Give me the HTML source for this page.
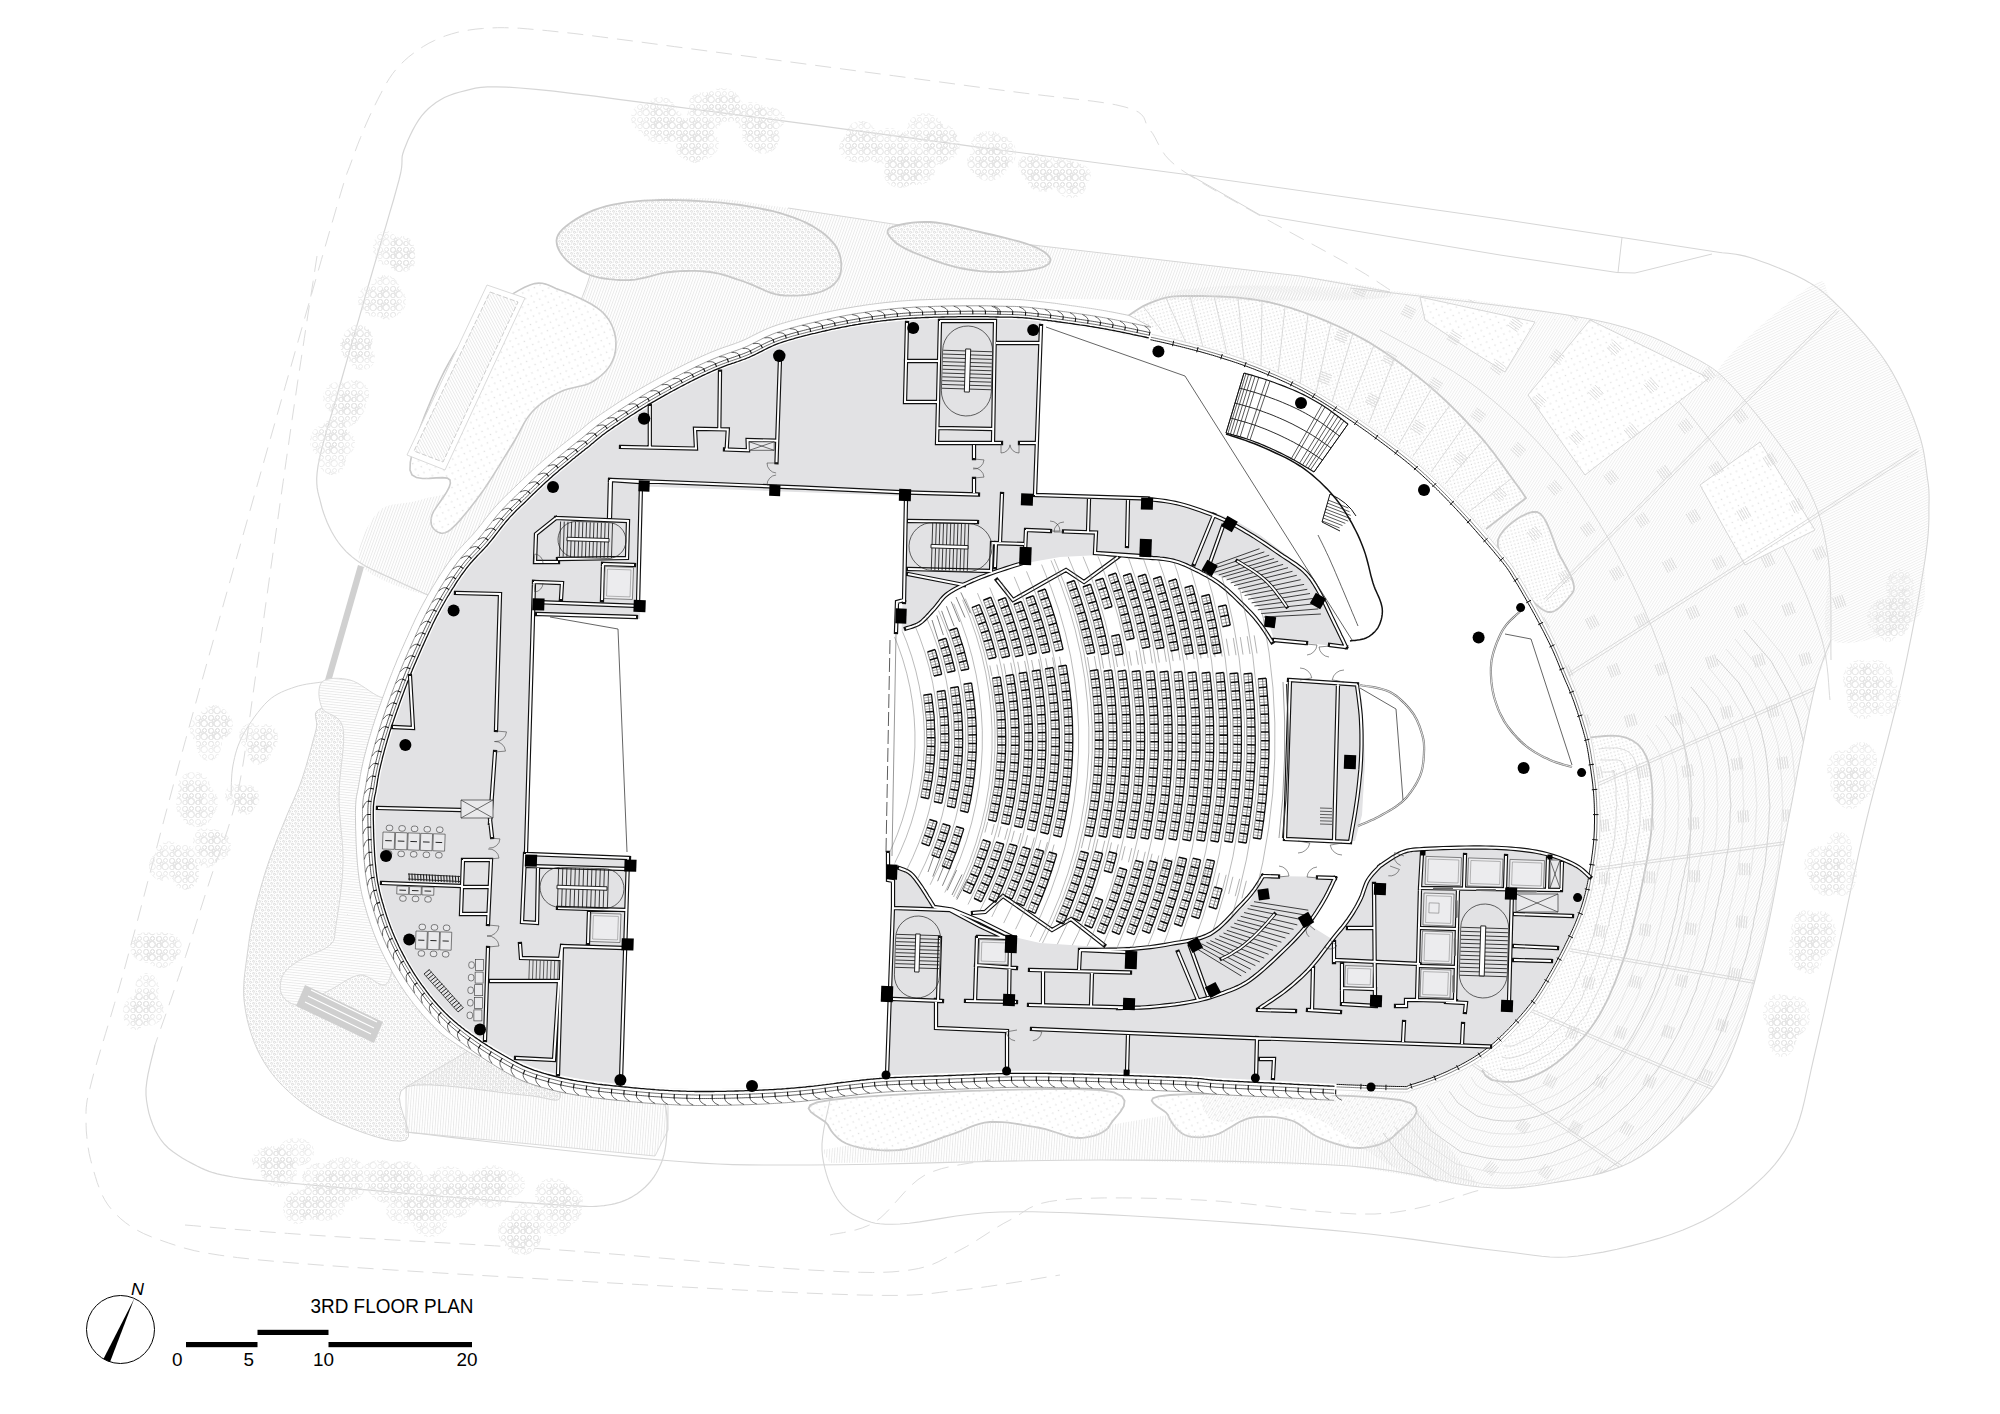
<!DOCTYPE html>
<html><head><meta charset="utf-8"><title>3RD FLOOR PLAN</title>
<style>html,body{margin:0;padding:0;background:#fff}svg{display:block}text{font-family:"Liberation Sans",sans-serif}</style>
</head><body>
<svg width="2000" height="1414" viewBox="0 0 2000 1414">
<rect width="2000" height="1414" fill="#fff"/>
<g id="context"><defs>
<pattern id="hV" width="2.6" height="2.6" patternUnits="userSpaceOnUse" patternTransform="rotate(4)"><path d="M0.5,0V2.6" stroke="#dadada" stroke-width="0.55"/></pattern>
<pattern id="hH" width="2.6" height="2.6" patternUnits="userSpaceOnUse" patternTransform="rotate(6)"><path d="M0,0.5H2.6" stroke="#dadada" stroke-width="0.55"/></pattern>
<pattern id="hD" width="2.6" height="2.6" patternUnits="userSpaceOnUse" patternTransform="rotate(-28)"><path d="M0.5,0V2.6" stroke="#dadada" stroke-width="0.55"/></pattern>
<pattern id="hD2" width="2.6" height="2.6" patternUnits="userSpaceOnUse" patternTransform="rotate(20)"><path d="M0.5,0V2.6" stroke="#dadada" stroke-width="0.55"/></pattern>
<pattern id="hE" width="2.4" height="2.4" patternUnits="userSpaceOnUse" patternTransform="rotate(-58)"><path d="M0,0.5H2.4" stroke="#e0e0e0" stroke-width="0.5"/></pattern>
<pattern id="hE2" width="2.4" height="2.4" patternUnits="userSpaceOnUse" patternTransform="rotate(-25)"><path d="M0,0.5H2.4" stroke="#e0e0e0" stroke-width="0.5"/></pattern>
<pattern id="hE3" width="2.4" height="2.4" patternUnits="userSpaceOnUse" patternTransform="rotate(-80)"><path d="M0,0.5H2.4" stroke="#e0e0e0" stroke-width="0.5"/></pattern>
<pattern id="stip" width="6" height="6" patternUnits="userSpaceOnUse"><path d="M0.6,1.3a0.9,0.9 0 1 0 1.8,0a0.9,0.9 0 1 0 -1.8,0M3.6,4.3a1,1 0 1 0 2,0a1,1 0 1 0 -2,0M3.7,0.9l1.3,0.9M0.6,4.6l1.5,-1M2.6,2.7l0.9,0.5" fill="none" stroke="#c9c9c9" stroke-width="0.6"/></pattern>
<pattern id="bub" width="13" height="13" patternUnits="userSpaceOnUse"><path d="M0.5,3a2.6,2.6 0 1 0 5.2,0a2.6,2.6 0 1 0 -5.2,0M6,8.5a3.2,3.2 0 1 0 6.4,0a3.2,3.2 0 1 0 -6.4,0M7.5,2.5a2,2 0 1 0 4,0a2,2 0 1 0 -4,0M0.8,9.5a2.2,2.2 0 1 0 4.4,0a2.2,2.2 0 1 0 -4.4,0M4,5.5a1.6,1.6 0 1 0 3.2,0a1.6,1.6 0 1 0 -3.2,0" fill="none" stroke="#e5e5e5" stroke-width="0.7"/></pattern>
<pattern id="dots" width="9" height="9" patternUnits="userSpaceOnUse" patternTransform="rotate(20)"><circle cx="2" cy="2" r="0.8" fill="#dedede"/><circle cx="6.5" cy="6.5" r="0.8" fill="#dedede"/></pattern>
<pattern id="dots2" width="5" height="5" patternUnits="userSpaceOnUse" patternTransform="rotate(30)"><circle cx="1.5" cy="1.5" r="0.7" fill="#d6d6d6"/><circle cx="4" cy="4" r="0.7" fill="#d6d6d6"/></pattern>
</defs>
<path d="M1390.0,290.0L1387.3,288.3L1384.2,286.2L1380.6,283.8L1376.2,280.9L1371.2,277.7L1365.2,273.9L1358.1,269.7L1350.0,265.0L1340.2,259.5L1328.6,253.1L1315.8,246.1L1302.2,238.8L1288.3,231.2L1274.6,223.8L1261.7,216.6L1250.0,210.0L1239.1,203.8L1228.3,197.8L1217.8,192.0L1207.8,186.2L1198.4,180.7L1189.6,175.3L1181.8,170.1L1175.0,165.0L1169.5,160.1L1165.2,155.3L1162.0,150.6L1159.4,146.1L1157.2,141.8L1155.1,137.7L1152.8,133.7L1150.0,130.0L1147.6,126.5L1146.1,123.3L1145.0,120.2L1143.8,117.4L1141.7,114.7L1138.3,112.0L1132.9,109.5L1125.0,107.0L1115.4,104.7L1104.9,102.9L1093.1,101.2L1079.7,99.6L1064.1,97.8L1045.9,95.7L1024.7,93.2L1000.0,90.0L969.8,86.0L933.6,81.1L893.3,75.7L850.9,70.1L808.5,64.4L767.9,59.0L731.0,54.1L700.0,50.0L674.4,46.6L652.1,43.6L632.7,41.0L615.6,38.8L600.3,36.8L586.3,35.0L573.1,33.4L560.0,32.0L547.8,30.7L537.1,29.7L527.7,28.9L519.4,28.2L511.7,27.9L504.5,27.7L497.3,27.7L490.0,28.0L482.7,28.5L475.9,29.1L469.3,30.0L463.1,31.1L457.1,32.4L451.3,34.0L445.6,35.8L440.0,38.0L434.4,40.5L428.9,43.2L423.6,46.3L418.4,49.6L413.5,53.2L408.7,56.9L404.2,60.9L400.0,65.0L396.1,69.3L392.6,73.7L389.4,78.4L386.4,83.2L383.6,88.3L380.8,93.6L377.9,99.2L375.0,105.0L372.0,111.1L369.1,117.3L366.2,123.9L363.3,130.6L360.5,137.6L357.6,144.8L354.8,152.3L352.0,160.0L349.7,166.3L348.1,170.4L346.8,173.7L345.4,177.8L343.5,184.0L340.5,193.9L336.2,208.7L330.0,230.0L321.4,259.7L310.7,297.2L298.4,340.2L285.2,386.6L271.7,434.1L258.6,480.3L246.5,523.0L236.0,560.0L227.1,591.5L219.1,619.9L211.8,645.8L205.0,669.9L198.5,693.1L192.2,716.0L185.7,739.4L179.0,764.0L172.0,790.0L164.8,816.9L157.6,844.2L150.5,871.2L143.6,897.5L137.0,922.6L130.7,945.9L125.0,967.0L119.7,985.9L114.6,1003.3L109.9,1019.2L105.5,1033.7L101.5,1046.9L97.9,1059.0L94.7,1070.0L92.0,1080.0L89.9,1088.5L88.3,1095.0L87.2,1100.1L86.6,1104.2L86.2,1107.8L86.0,1111.4L86.0,1115.3L86.0,1120.0L86.1,1125.4L86.3,1130.9L86.8,1136.5L87.4,1142.2L88.2,1147.9L89.2,1153.6L90.5,1159.3L92.0,1165.0L93.6,1170.7L95.4,1176.6L97.2,1182.5L99.4,1188.4L101.8,1194.2L104.7,1199.8L108.1,1205.1L112.0,1210.0L116.3,1214.5L120.8,1218.8L125.7,1222.8L131.0,1226.6L137.0,1230.1L143.7,1233.6L151.3,1236.8L160.0,1240.0L168.6,1243.0L176.7,1245.7L184.9,1248.2L194.2,1250.6L205.6,1252.9L219.7,1255.2L237.6,1257.6L260.0,1260.0L287.9,1262.5L320.9,1265.1L357.9,1267.7L397.5,1270.3L438.7,1272.9L480.3,1275.4L521.1,1277.7L560.0,1280.0L598.9,1282.3L639.7,1284.6L681.3,1286.9L722.5,1289.1L762.1,1291.1L799.1,1292.8L832.1,1294.1L860.0,1295.0L882.1,1295.4L899.1,1295.4L912.1,1295.0L922.5,1294.4L931.3,1293.5L939.7,1292.4L948.9,1291.2L960.0,1290.0L973.2,1288.5L987.3,1286.6L1001.9,1284.4L1016.2,1282.2L1029.8,1280.0L1042.0,1277.9L1052.3,1276.2L1060.0,1275.0" fill="none" stroke="#dcdcdc" stroke-width="1" stroke-dasharray="16 9"/>
<path d="M185.0,1225.0L193.8,1225.7L204.5,1226.7L217.2,1227.8L231.9,1229.1L248.5,1230.4L267.0,1231.9L287.5,1233.4L310.0,1235.0L335.3,1236.6L363.7,1238.3L394.6,1240.0L427.2,1241.9L460.8,1243.8L494.6,1245.8L527.9,1247.9L560.0,1250.0L592.3,1252.4L626.0,1255.1L660.3,1258.0L694.4,1260.9L727.2,1263.7L758.0,1266.3L785.9,1268.4L810.0,1270.0L830.0,1271.1L846.7,1271.9L860.7,1272.3L872.5,1272.5L882.8,1272.3L892.0,1271.9L900.9,1271.1L910.0,1270.0L918.6,1268.5L926.0,1266.6L932.4,1264.4L938.1,1261.9L943.4,1259.1L948.7,1256.2L954.1,1253.1L960.0,1250.0L966.2,1246.7L972.5,1243.0L978.8,1239.0L985.0,1235.0L991.2,1231.0L997.5,1227.0L1003.8,1223.3L1010.0,1220.0L1015.6,1216.9L1020.4,1213.8L1024.8,1210.9L1029.4,1208.1L1034.7,1205.6L1041.2,1203.4L1049.4,1201.5L1060.0,1200.0L1073.0,1198.9L1087.9,1198.3L1104.4,1197.9L1122.2,1197.9L1141.0,1198.1L1160.4,1198.5L1180.2,1199.2L1200.0,1200.0L1220.7,1201.3L1242.9,1203.4L1266.1,1205.9L1289.7,1208.5L1313.0,1210.9L1335.4,1212.8L1356.2,1214.0L1375.0,1214.0L1392.2,1212.7L1408.6,1210.1L1424.1,1206.7L1438.4,1202.9L1451.4,1198.9L1462.8,1195.2L1472.4,1192.1L1480.0,1190.0" fill="none" stroke="#dcdcdc" stroke-width="1" stroke-dasharray="16 9"/>
<path d="M830.0,1235.0L833.4,1234.2L838.0,1233.5L843.4,1232.6L849.4,1231.4L855.8,1229.9L862.3,1227.9L868.8,1225.3L875.0,1222.0L880.9,1217.5L886.8,1211.9L892.7,1205.5L898.8,1198.6L904.9,1191.8L911.3,1185.3L918.0,1179.6L925.0,1175.0L932.9,1171.5L941.7,1168.6L951.1,1166.4L960.6,1164.6L969.7,1163.1L978.0,1161.9L984.9,1160.9L990.0,1160.0" fill="none" stroke="#dcdcdc" stroke-width="1" stroke-dasharray="16 9"/>
<path d="M1000.0,150.0L976.0,146.8L943.3,142.4L904.2,137.1L861.2,131.4L816.9,125.4L773.6,119.7L733.8,114.4L700.0,110.0L670.9,106.2L643.8,102.6L618.4,99.3L595.0,96.2L573.4,93.6L553.8,91.2L535.9,89.4L520.0,88.0L506.6,87.1L496.0,86.8L487.6,86.9L480.9,87.4L475.4,88.2L470.4,89.3L465.5,90.6L460.0,92.0L454.3,93.6L449.2,95.5L444.4,97.5L440.1,99.9L436.0,102.5L432.2,105.4L428.5,108.5L425.0,112.0L421.6,115.9L418.4,120.4L415.4,125.3L412.6,130.4L410.1,135.5L407.8,140.6L405.8,145.5L404.0,150.0L402.8,153.7L402.2,156.4L402.0,158.8L402.0,161.1L401.9,164.0L401.6,167.8L400.7,173.0L399.0,180.0L396.5,189.1L393.5,200.0L389.9,212.2L386.1,225.3L382.0,239.1L377.9,253.0L373.8,266.8L370.0,280.0L366.2,293.0L362.4,306.5L358.5,320.1L354.6,333.7L350.7,347.2L347.0,360.3L343.4,373.0L340.0,385.0L336.7,396.6L333.4,407.9L330.1,419.0L326.9,429.7L324.1,439.8L321.6,449.3L319.5,458.1L318.0,466.0L317.1,472.8L316.7,478.6L316.8,483.5L317.2,487.9L317.9,491.9L318.8,495.7L319.9,499.7L321.0,504.0L322.2,508.6L323.7,513.2L325.4,517.9L327.2,522.4L329.3,526.9L331.4,531.2L333.7,535.2L336.0,539.0L338.4,542.5L340.9,545.7L343.5,548.7L346.2,551.6L349.1,554.3L352.1,556.9L355.4,559.4L359.0,562.0L362.9,564.5L367.1,566.9L371.6,569.2L376.2,571.4L381.0,573.6L385.8,575.8L390.5,577.9L395.0,580.0L399.7,582.2L404.6,584.5L409.7,586.8L414.8,589.1L419.5,591.3L423.7,593.2L427.3,594.8L430.0,596.0" fill="none" stroke="#d6d6d6" stroke-width="1.2"/>
<path d="M317.0,256.0L315.3,267.0L313.1,281.5L310.4,298.8L307.4,318.0L304.3,338.5L301.1,359.5L297.9,380.2L295.0,400.0L292.1,419.5L289.2,439.8L286.2,460.6L283.2,481.5L280.2,502.2L277.4,522.4L274.6,541.8L272.0,560.0L269.6,576.9L267.4,592.9L265.2,608.1L263.2,622.8L261.2,637.1L259.2,651.2L257.1,665.5L255.0,680.0L252.9,694.9L250.8,710.0L248.7,725.2L246.6,740.2L244.5,755.0L242.2,769.3L239.7,783.1L237.0,796.0L234.1,808.0L230.9,819.2L227.6,829.7L224.1,839.8L220.6,849.7L217.0,859.5L213.5,869.6L210.0,880.0L206.5,890.8L203.0,901.8L199.5,912.8L196.0,923.9L192.5,934.9L189.0,945.8L185.5,956.5L182.0,967.0L178.4,977.7L174.5,989.0L170.6,1000.3L166.8,1011.4L163.1,1021.9L159.8,1031.2L157.1,1039.0L155.0,1045.0" fill="none" stroke="#dcdcdc" stroke-width="1" stroke-dasharray="16 9"/>
<path d="M155.0,1045.0L154.1,1048.9L152.8,1054.1L151.2,1060.3L149.6,1067.2L148.0,1074.4L146.8,1081.7L146.0,1088.6L146.0,1095.0L146.6,1101.0L147.6,1107.0L148.9,1113.1L150.7,1119.0L152.8,1124.7L155.2,1130.2L158.0,1135.3L161.0,1140.0L164.5,1144.3L168.5,1148.2L173.0,1151.8L177.7,1155.1L182.6,1158.2L187.5,1161.0L192.4,1163.6L197.0,1166.0L201.3,1168.1L205.3,1169.9L209.1,1171.4L213.1,1172.7L217.2,1173.8L221.8,1174.9L227.0,1175.9L233.0,1177.0L239.3,1178.0L245.6,1178.9L252.2,1179.7L259.4,1180.4L267.4,1181.1L276.7,1181.9L287.4,1182.9L300.0,1184.0L315.1,1185.4L332.6,1186.9L351.9,1188.7L372.3,1190.4L393.0,1192.2L413.4,1194.0L432.6,1195.6L450.0,1197.0L466.1,1198.3L482.0,1199.5L497.3,1200.7L511.9,1201.8L525.6,1202.7L538.4,1203.6L549.9,1204.4L560.0,1205.0L568.4,1205.5L575.2,1205.9L580.7,1206.2L585.1,1206.4L589.0,1206.5L592.5,1206.5L596.1,1206.3L600.0,1206.0L604.1,1205.6L608.0,1205.0L611.6,1204.4L615.1,1203.6L618.5,1202.7L621.7,1201.6L624.9,1200.4L628.0,1199.0L631.1,1197.4L634.1,1195.6L637.1,1193.7L639.9,1191.6L642.7,1189.3L645.3,1187.0L647.7,1184.5L650.0,1182.0L652.1,1179.4L654.1,1176.6L655.9,1173.7L657.6,1170.7L659.2,1167.6L660.6,1164.4L661.9,1161.2L663.0,1158.0L664.0,1154.7L664.8,1151.2L665.4,1147.7L665.9,1144.1L666.3,1140.5L666.6,1136.9L666.8,1133.4L667.0,1130.0L667.1,1126.7L667.1,1123.4L667.0,1120.1L666.9,1116.8L666.6,1113.7L666.2,1110.6L665.7,1107.7L665.0,1105.0L664.1,1102.4L662.8,1099.8L661.4,1097.3L659.9,1094.9L658.4,1092.8L657.0,1090.9L655.8,1089.3L655.0,1088.0" fill="none" stroke="#d6d6d6" stroke-width="1.2"/>
<path d="M1000,150L1190,175L1500,219L1622,237.5L1720,252.5M1190,175L1260,215L1500,255L1617,272.5L1635,273L1712,254M1622,237.5L1618,272.5" fill="none" stroke="#d6d6d6" stroke-width="1"/>
<path d="M1720.0,252.5L1722.2,252.8L1724.9,253.0L1728.2,253.3L1731.9,253.8L1736.0,254.3L1740.4,255.1L1745.1,256.1L1750.0,257.5L1755.4,259.3L1761.5,261.4L1768.1,263.8L1774.9,266.4L1781.7,269.2L1788.3,272.0L1794.5,274.8L1800.0,277.5L1804.8,280.0L1809.0,282.4L1812.8,284.7L1816.4,287.1L1820.0,289.7L1823.6,292.6L1827.6,296.0L1832.0,300.0L1837.0,304.8L1842.4,310.2L1848.1,316.1L1853.9,322.4L1859.7,328.8L1865.3,335.2L1870.4,341.3L1875.0,347.0L1879.0,352.3L1882.6,357.3L1885.9,362.1L1888.9,366.8L1891.8,371.6L1894.5,376.5L1897.2,381.6L1900.0,387.0L1902.8,392.9L1905.7,399.1L1908.4,405.5L1911.1,412.1L1913.7,418.7L1916.0,425.1L1918.2,431.3L1920.0,437.0L1921.5,442.4L1922.8,447.6L1923.8,452.6L1924.6,457.4L1925.3,462.0L1925.9,466.5L1926.5,470.8L1927.0,475.0L1927.5,478.8L1928.0,482.0L1928.4,485.0L1928.7,487.8L1928.9,490.8L1929.0,494.2L1929.1,498.2L1929.0,503.0L1928.9,508.2L1928.9,513.5L1928.9,519.0L1928.7,525.1L1928.3,532.0L1927.6,539.9L1926.5,549.2L1925.0,560.0L1922.9,572.7L1920.4,587.3L1917.6,603.3L1914.4,620.3L1911.0,637.9L1907.4,655.6L1903.7,673.2L1900.0,690.0L1896.1,706.5L1891.9,723.2L1887.6,740.0L1883.1,756.8L1878.6,773.4L1874.1,789.9L1869.9,806.2L1866.0,822.0L1862.4,837.4L1858.9,852.5L1855.7,867.3L1852.5,881.9L1849.4,896.4L1846.3,910.9L1843.2,925.4L1840.0,940.0L1836.7,954.9L1833.4,970.2L1830.0,985.6L1826.7,1000.9L1823.4,1016.0L1820.1,1030.4L1817.0,1044.2L1814.0,1057.0L1811.3,1068.9L1808.9,1080.1L1806.7,1090.6L1804.5,1100.6L1802.2,1110.0L1799.6,1119.0L1796.6,1127.7L1793.0,1136.0L1788.9,1143.9L1784.6,1151.1L1779.9,1157.9L1774.9,1164.3L1769.6,1170.4L1763.8,1176.3L1757.6,1182.2L1751.0,1188.0L1744.0,1193.8L1736.7,1199.6L1729.0,1205.2L1720.9,1210.6L1712.4,1215.9L1703.2,1220.9L1693.4,1225.6L1683.0,1230.0L1671.5,1234.2L1658.7,1238.4L1645.1,1242.3L1631.1,1245.9L1617.0,1249.2L1603.2,1252.1L1590.1,1254.3L1578.0,1256.0L1567.5,1257.0L1558.3,1257.3L1549.9,1257.0L1541.8,1256.3L1533.3,1255.3L1523.9,1254.0L1513.0,1252.5L1500.0,1251.0L1485.0,1249.3L1468.7,1247.1L1451.2,1244.7L1432.6,1242.1L1413.1,1239.4L1392.7,1236.8L1371.6,1234.3L1350.0,1232.0L1327.1,1229.9L1302.3,1227.7L1276.5,1225.6L1250.0,1223.6L1223.5,1221.7L1197.7,1220.0L1172.9,1218.4L1150.0,1217.0L1128.5,1215.8L1107.8,1214.6L1087.9,1213.6L1068.8,1212.8L1050.4,1212.2L1032.8,1211.8L1016.0,1211.7L1000.0,1212.0L984.7,1212.8L970.1,1214.2L956.2,1216.0L943.1,1218.1L930.9,1220.1L919.6,1221.9L909.3,1223.2L900.0,1224.0L892.0,1224.2L885.4,1224.2L879.9,1223.8L875.3,1223.2L871.3,1222.3L867.5,1221.1L863.9,1219.7L860.0,1218.0L856.1,1216.1L852.4,1214.0L849.0,1211.6L845.8,1208.9L842.8,1206.0L840.1,1202.7L837.4,1199.0L835.0,1195.0L832.7,1190.5L830.4,1185.4L828.3,1180.0L826.4,1174.2L824.8,1168.2L823.5,1162.1L822.5,1156.0L822.0,1150.0L822.0,1143.6L822.7,1136.7L823.8,1129.4L825.2,1122.2L826.7,1115.3L828.1,1109.1L829.2,1103.9L830.0,1100.0" fill="none" stroke="#d6d6d6" stroke-width="1.1"/>
<path d="M1831.0,640.0L1829.8,643.4L1828.2,647.3L1826.3,651.9L1824.1,657.3L1821.8,663.8L1819.3,671.4L1816.7,680.4L1814.0,691.0L1811.2,703.5L1808.1,718.1L1804.9,734.3L1801.6,751.5L1798.1,769.4L1794.7,787.4L1791.3,805.1L1788.0,822.0L1784.8,838.6L1781.6,855.4L1778.5,872.3L1775.4,889.2L1772.2,905.9L1768.9,922.1L1765.5,937.9L1762.0,953.0L1758.3,967.6L1754.5,982.1L1750.6,996.2L1746.6,1009.9L1742.6,1022.9L1738.4,1035.2L1734.2,1046.6L1730.0,1057.0L1725.9,1066.1L1721.9,1073.9L1718.0,1080.7L1713.9,1086.8L1709.7,1092.4L1705.0,1098.0L1699.8,1103.8L1694.0,1110.0L1687.5,1116.8L1680.5,1123.8L1673.1,1130.9L1665.2,1138.0L1657.0,1144.8L1648.5,1151.2L1639.8,1157.0L1631.0,1162.0L1621.8,1166.2L1612.2,1169.8L1602.2,1172.9L1592.1,1175.5L1581.8,1177.7L1571.6,1179.7L1561.6,1181.4L1552.0,1183.0L1543.1,1184.5L1534.9,1185.8L1527.0,1186.8L1519.2,1187.6L1510.9,1188.1L1501.9,1188.2L1491.7,1187.8L1480.0,1187.0L1467.3,1185.5L1454.4,1183.2L1440.8,1180.3L1426.1,1177.1L1410.1,1173.9L1392.3,1170.8L1372.4,1168.1L1350.0,1166.0L1324.8,1164.5L1296.9,1163.2L1266.8,1162.2L1235.0,1161.4L1202.0,1160.8L1168.1,1160.4L1134.0,1160.1L1100.0,1160.0L1064.7,1160.2L1027.0,1160.7L988.0,1161.5L948.8,1162.4L910.3,1163.4L873.6,1164.2L839.8,1164.8L810.0,1165.0L785.3,1165.0L765.1,1165.0L748.1,1164.9L732.8,1164.6L717.8,1164.0L701.6,1163.1L682.8,1161.8L660.0,1160.0L631.4,1157.4L597.7,1154.0L560.9,1150.0L523.1,1145.7L486.6,1141.5L453.3,1137.6L425.4,1134.3L405.0,1132.0" fill="none" stroke="#d6d6d6" stroke-width="1.1"/>
<defs><clipPath id="plz0"><path d="M1150.0,300.0L1162.8,294.0L1181.5,289.8L1204.9,287.2L1231.9,285.8L1261.1,285.5L1291.3,285.9L1321.4,286.8L1350.0,288.0L1379.0,289.8L1410.4,292.6L1443.2,296.2L1476.2,300.4L1508.4,305.0L1538.8,309.8L1566.4,314.5L1590.0,319.0L1609.6,323.3L1626.2,327.8L1640.3,332.3L1652.4,337.0L1663.0,341.7L1672.7,346.5L1681.8,351.2L1691.0,356.0L1699.5,360.4L1706.5,364.5L1712.5,368.3L1717.8,372.3L1722.7,376.7L1727.8,381.8L1733.5,387.8L1740.0,395.0L1747.6,403.8L1756.1,413.9L1765.0,425.0L1774.1,436.8L1783.0,448.9L1791.3,460.8L1798.8,472.3L1805.0,483.0L1810.0,492.9L1814.2,502.3L1817.6,511.4L1820.4,520.3L1822.7,529.2L1824.6,538.2L1826.4,547.4L1828.0,557.0L1829.5,567.2L1830.6,577.9L1831.5,588.9L1832.0,599.9L1832.2,610.8L1832.1,621.3L1831.7,631.1L1831.0,640.0L1829.9,647.4L1828.4,653.1L1826.5,658.0L1824.3,662.5L1821.9,667.4L1819.4,673.4L1816.7,681.0L1814.0,691.0L1811.2,703.5L1808.1,718.1L1804.9,734.3L1801.6,751.5L1798.1,769.4L1794.7,787.4L1791.3,805.1L1788.0,822.0L1784.8,838.6L1781.6,855.4L1778.5,872.3L1775.4,889.2L1772.2,905.9L1768.9,922.1L1765.5,937.9L1762.0,953.0L1758.3,967.6L1754.5,982.1L1750.6,996.2L1746.6,1009.9L1742.6,1022.9L1738.4,1035.2L1734.2,1046.6L1730.0,1057.0L1725.9,1066.1L1721.9,1073.9L1718.0,1080.7L1713.9,1086.8L1709.7,1092.4L1705.0,1098.0L1699.8,1103.8L1694.0,1110.0L1687.5,1116.8L1680.5,1123.8L1673.1,1130.9L1665.2,1138.0L1657.0,1144.8L1648.5,1151.2L1639.8,1157.0L1631.0,1162.0L1621.8,1166.2L1612.2,1169.8L1602.2,1172.9L1592.1,1175.5L1581.8,1177.7L1571.6,1179.7L1561.6,1181.4L1552.0,1183.0L1542.7,1184.5L1533.7,1185.7L1524.8,1186.7L1516.1,1187.4L1507.3,1187.8L1498.4,1187.9L1489.3,1187.6L1480.0,1187.0L1470.5,1186.2L1461.0,1185.2L1451.5,1184.1L1441.8,1182.5L1431.8,1180.4L1421.6,1177.8L1411.0,1174.3L1400.0,1170.0L1388.5,1164.3L1376.4,1157.1L1364.0,1148.9L1351.2,1140.2L1338.4,1131.5L1325.5,1123.2L1312.6,1115.9L1300.0,1110.0L1286.1,1108.1L1270.3,1110.9L1253.7,1115.8L1237.5,1120.6L1222.9,1122.8L1210.9,1120.1L1202.9,1109.9L1200.0,1090.0L1204.3,1058.3L1215.6,1016.4L1231.6,966.9L1250.0,912.5L1268.4,855.9L1284.4,799.8L1295.7,747.0L1300.0,700.0L1296.7,656.8L1287.9,614.0L1275.0,572.1L1259.4,531.9L1242.6,493.9L1226.2,458.8L1211.5,427.3L1200.0,400.0L1189.6,377.3L1178.1,358.9L1166.6,344.0L1156.2,332.0L1148.2,322.3L1143.8,314.1L1143.9,306.9Z"/></clipPath></defs>
<path d="M1150.0,300.0L1162.8,294.0L1181.5,289.8L1204.9,287.2L1231.9,285.8L1261.1,285.5L1291.3,285.9L1321.4,286.8L1350.0,288.0L1379.0,289.8L1410.4,292.6L1443.2,296.2L1476.2,300.4L1508.4,305.0L1538.8,309.8L1566.4,314.5L1590.0,319.0L1609.6,323.3L1626.2,327.8L1640.3,332.3L1652.4,337.0L1663.0,341.7L1672.7,346.5L1681.8,351.2L1691.0,356.0L1699.5,360.4L1706.5,364.5L1712.5,368.3L1717.8,372.3L1722.7,376.7L1727.8,381.8L1733.5,387.8L1740.0,395.0L1747.6,403.8L1756.1,413.9L1765.0,425.0L1774.1,436.8L1783.0,448.9L1791.3,460.8L1798.8,472.3L1805.0,483.0L1810.0,492.9L1814.2,502.3L1817.6,511.4L1820.4,520.3L1822.7,529.2L1824.6,538.2L1826.4,547.4L1828.0,557.0L1829.5,567.2L1830.6,577.9L1831.5,588.9L1832.0,599.9L1832.2,610.8L1832.1,621.3L1831.7,631.1L1831.0,640.0L1829.9,647.4L1828.4,653.1L1826.5,658.0L1824.3,662.5L1821.9,667.4L1819.4,673.4L1816.7,681.0L1814.0,691.0L1811.2,703.5L1808.1,718.1L1804.9,734.3L1801.6,751.5L1798.1,769.4L1794.7,787.4L1791.3,805.1L1788.0,822.0L1784.8,838.6L1781.6,855.4L1778.5,872.3L1775.4,889.2L1772.2,905.9L1768.9,922.1L1765.5,937.9L1762.0,953.0L1758.3,967.6L1754.5,982.1L1750.6,996.2L1746.6,1009.9L1742.6,1022.9L1738.4,1035.2L1734.2,1046.6L1730.0,1057.0L1725.9,1066.1L1721.9,1073.9L1718.0,1080.7L1713.9,1086.8L1709.7,1092.4L1705.0,1098.0L1699.8,1103.8L1694.0,1110.0L1687.5,1116.8L1680.5,1123.8L1673.1,1130.9L1665.2,1138.0L1657.0,1144.8L1648.5,1151.2L1639.8,1157.0L1631.0,1162.0L1621.8,1166.2L1612.2,1169.8L1602.2,1172.9L1592.1,1175.5L1581.8,1177.7L1571.6,1179.7L1561.6,1181.4L1552.0,1183.0L1542.7,1184.5L1533.7,1185.7L1524.8,1186.7L1516.1,1187.4L1507.3,1187.8L1498.4,1187.9L1489.3,1187.6L1480.0,1187.0L1470.5,1186.2L1461.0,1185.2L1451.5,1184.1L1441.8,1182.5L1431.8,1180.4L1421.6,1177.8L1411.0,1174.3L1400.0,1170.0L1388.5,1164.3L1376.4,1157.1L1364.0,1148.9L1351.2,1140.2L1338.4,1131.5L1325.5,1123.2L1312.6,1115.9L1300.0,1110.0L1286.1,1108.1L1270.3,1110.9L1253.7,1115.8L1237.5,1120.6L1222.9,1122.8L1210.9,1120.1L1202.9,1109.9L1200.0,1090.0L1204.3,1058.3L1215.6,1016.4L1231.6,966.9L1250.0,912.5L1268.4,855.9L1284.4,799.8L1295.7,747.0L1300.0,700.0L1296.7,656.8L1287.9,614.0L1275.0,572.1L1259.4,531.9L1242.6,493.9L1226.2,458.8L1211.5,427.3L1200.0,400.0L1189.6,377.3L1178.1,358.9L1166.6,344.0L1156.2,332.0L1148.2,322.3L1143.8,314.1L1143.9,306.9Z" fill="url(#hE)" stroke="none"/>
<path d="M1350.0,288.0L1369.5,290.4L1396.4,293.4L1428.5,297.1L1463.7,301.2L1499.6,305.6L1534.1,310.1L1565.0,314.6L1590.0,319.0L1609.6,323.3L1626.2,327.8L1640.3,332.3L1652.4,337.0L1663.0,341.7L1672.7,346.5L1681.8,351.2L1691.0,356.0L1699.5,360.4L1706.5,364.5L1712.5,368.3L1717.8,372.3L1722.7,376.7L1727.8,381.8L1733.5,387.8L1740.0,395.0L1747.6,403.8L1756.1,413.9L1765.0,425.0L1774.1,436.8L1783.0,448.9L1791.3,460.8L1798.8,472.3L1805.0,483.0L1810.0,492.7L1814.2,501.8L1817.6,510.5L1820.4,519.1L1822.7,527.7L1824.6,536.8L1826.4,546.5L1828.0,557.0L1829.4,569.2L1830.2,583.1L1830.7,598.0L1830.9,613.1L1831.0,627.6L1830.9,640.8L1830.9,651.9L1831.0,660.0" fill="none" stroke="#d6d6d6" stroke-width="1"/>
<path d="M1720.0,367.0L1726.6,358.7L1736.8,348.0L1749.5,335.9L1763.5,323.3L1777.9,311.0L1791.4,299.9L1803.2,291.0L1812.0,285.0L1817.8,282.0L1821.5,281.2L1823.8,282.1L1825.1,284.4L1826.0,287.8L1827.1,291.7L1828.9,295.9L1832.0,300.0L1836.4,304.4L1841.6,309.7L1847.2,315.6L1853.2,321.9L1859.2,328.5L1865.0,335.0L1870.3,341.2L1875.0,347.0L1879.0,352.3L1882.6,357.3L1885.9,362.1L1888.9,366.8L1891.8,371.6L1894.5,376.5L1897.2,381.6L1900.0,387.0L1902.8,392.7L1905.6,398.4L1908.3,404.3L1911.0,410.4L1913.5,416.6L1915.9,423.1L1918.1,429.9L1920.0,437.0L1921.7,444.5L1923.3,452.6L1924.8,461.0L1926.0,469.6L1927.1,478.2L1927.9,486.8L1928.6,495.1L1929.0,503.0L1929.2,510.5L1929.1,517.8L1928.7,524.9L1928.2,531.9L1927.5,538.8L1926.7,545.8L1925.9,552.8L1925.0,560.0L1924.5,567.6L1924.7,575.7L1924.9,584.0L1925.0,592.3L1924.4,600.3L1922.8,607.7L1919.8,614.4L1915.0,620.0L1907.5,625.1L1897.3,630.2L1885.4,635.0L1872.6,638.9L1859.8,641.8L1848.0,643.2L1838.1,642.7L1831.0,640.0L1826.9,634.5L1825.0,626.3L1824.8,616.0L1825.7,604.4L1827.0,592.0L1828.3,579.5L1828.8,567.6L1828.0,557.0L1826.4,547.4L1824.6,538.2L1822.7,529.2L1820.4,520.3L1817.6,511.4L1814.2,502.3L1810.0,492.9L1805.0,483.0L1798.6,472.3L1790.6,460.6L1781.7,448.4L1772.3,436.1L1762.9,424.2L1754.1,413.1L1746.3,403.2L1740.0,395.0L1734.6,389.0L1729.2,385.0L1724.3,382.5L1720.2,380.6L1717.3,378.8L1716.1,376.4L1716.8,372.7Z" fill="url(#hE2)" stroke="none"/>
<path d="M1590.0,319.0L1595.3,323.4L1602.3,329.0L1610.7,335.7L1620.0,343.2L1629.9,351.6L1640.2,360.6L1650.3,370.1L1660.0,380.0L1669.7,390.8L1680.0,402.7L1690.6,415.5L1701.2,428.8L1711.8,442.3L1721.9,455.5L1731.4,468.2L1740.0,480.0L1747.8,491.0L1755.0,501.4L1761.7,511.5L1768.0,521.2L1773.9,530.9L1779.5,540.5L1784.8,550.1L1790.0,560.0L1795.0,570.1L1799.8,580.5L1804.4,590.9L1808.6,601.2L1812.5,611.5L1816.1,621.4L1819.3,631.0L1822.0,640.0L1824.2,648.9L1825.9,657.8L1827.1,666.6L1828.0,675.0L1828.6,682.8L1829.1,689.7L1829.5,695.5L1830.0,700.0" fill="none" stroke="#d6d6d6" stroke-width="0.9"/>
<path d="M1380.0,330.0L1387.8,334.4L1398.2,340.1L1410.6,346.8L1424.4,354.4L1438.8,362.7L1453.4,371.5L1467.3,380.7L1480.0,390.0L1491.9,399.6L1503.7,409.7L1515.4,420.2L1526.9,431.2L1538.2,442.7L1549.1,454.7L1559.8,467.1L1570.0,480.0L1579.9,493.6L1589.6,507.9L1599.0,522.8L1608.1,538.1L1616.8,553.7L1625.1,569.3L1632.8,584.8L1640.0,600.0L1646.6,614.9L1652.8,629.8L1658.5,644.6L1663.8,659.4L1668.5,674.3L1672.8,689.3L1676.6,704.5L1680.0,720.0L1682.9,735.9L1685.3,752.3L1687.3,768.9L1688.8,785.6L1689.8,802.3L1690.3,818.7L1690.4,834.6L1690.0,850.0L1689.1,864.8L1687.8,879.1L1686.0,893.2L1683.8,906.9L1681.0,920.4L1677.8,933.7L1674.1,946.9L1670.0,960.0L1665.3,973.3L1659.8,986.6L1653.9,1000.0L1647.5,1013.1L1640.8,1025.9L1633.9,1038.0L1626.9,1049.5L1620.0,1060.0L1612.6,1069.8L1604.3,1079.2L1595.6,1088.1L1586.9,1096.2L1578.5,1103.7L1571.0,1110.2L1564.7,1115.6L1560.0,1120.0" fill="none" stroke="#d6d6d6" stroke-width="0.9"/>
<path d="M1420.0,297.0L1535.0,322.0L1505.0,372.0L1470.0,350.0L1425.0,320.0Z" fill="#fff" stroke="#d6d6d6" stroke-width="1"/>
<path d="M1420.0,297.0L1535.0,322.0L1505.0,372.0L1470.0,350.0L1425.0,320.0Z" fill="url(#dots)" stroke="none"/>
<path d="M1528.0,395.0L1590.0,320.0L1709.0,378.0L1585.0,475.0Z" fill="#fff" stroke="#d6d6d6" stroke-width="1"/>
<path d="M1528.0,395.0L1590.0,320.0L1709.0,378.0L1585.0,475.0Z" fill="url(#dots)" stroke="none"/>
<path d="M1700.0,485.0L1760.0,442.0L1815.0,530.0L1745.0,565.0Z" fill="#fff" stroke="#d6d6d6" stroke-width="1"/>
<path d="M1700.0,485.0L1760.0,442.0L1815.0,530.0L1745.0,565.0Z" fill="url(#dots)" stroke="none"/>
<path d="M1128.0,316.0L1133.0,312.6L1138.0,309.2L1143.2,306.1L1148.6,303.6L1154.3,301.4L1159.9,299.3L1165.8,297.7L1171.7,296.7L1177.7,296.2L1183.8,296.0L1189.8,296.0L1195.9,296.0L1201.9,296.0L1207.9,296.1L1214.0,296.3L1220.0,296.5L1226.0,296.8L1232.1,297.2L1238.1,297.7L1244.1,298.3L1250.1,299.0L1256.1,299.8L1262.0,300.9L1268.0,302.0L1273.8,303.4L1279.7,304.9L1285.5,306.5L1291.3,308.2L1297.0,310.1L1302.8,312.0L1308.4,314.1L1314.1,316.2L1319.7,318.4L1325.3,320.7L1330.9,323.1L1336.4,325.5L1341.9,328.0L1347.3,330.7L1352.7,333.4L1358.0,336.2L1363.3,339.1L1368.6,342.1L1373.7,345.3L1378.8,348.5L1383.9,351.8L1388.9,355.2L1393.8,358.6L1398.7,362.2L1403.6,365.7L1408.4,369.4L1413.2,373.1L1418.0,376.8L1422.7,380.6L1427.3,384.4L1431.9,388.3L1436.5,392.3L1440.9,396.4L1445.4,400.5L1449.7,404.7L1454.0,408.9L1458.3,413.2L1462.5,417.5L1466.7,421.9L1470.8,426.3L1474.9,430.7L1479.0,435.2L1483.0,439.7L1486.8,444.3L1490.6,449.1L1494.3,453.8L1497.9,458.7L1501.5,463.6L1505.0,468.5L1508.5,473.4L1512.0,478.3L1515.6,483.2L1519.2,488.0L1522.6,493.0L1526.0,498.0L1486.0,529.0L1481.9,524.5L1477.8,520.0L1473.8,515.4L1469.7,510.9L1465.6,506.4L1461.5,501.9L1457.3,497.4L1453.1,493.0L1448.9,488.7L1444.5,484.4L1440.2,480.2L1435.7,476.0L1431.2,471.9L1426.8,467.7L1422.2,463.7L1417.7,459.6L1413.1,455.6L1408.4,451.7L1403.8,447.8L1399.0,444.0L1394.2,440.2L1389.3,436.6L1384.3,433.1L1379.3,429.6L1374.3,426.2L1369.1,422.9L1364.0,419.7L1358.8,416.6L1353.5,413.4L1348.2,410.4L1342.9,407.4L1337.6,404.5L1332.3,401.5L1326.9,398.7L1321.5,395.8L1316.1,393.0L1310.7,390.3L1305.2,387.6L1299.7,384.9L1294.2,382.2L1288.7,379.6L1283.2,377.1L1277.6,374.6L1272.1,372.1L1266.5,369.7L1260.9,367.4L1255.2,365.1L1249.6,362.8L1243.9,360.6L1238.2,358.4L1232.5,356.4L1226.7,354.3L1221.0,352.3L1215.2,350.5L1209.3,348.7L1203.5,347.1L1197.6,345.6L1191.6,344.1L1185.7,342.7L1179.8,341.4L1173.8,340.1L1167.9,338.8L1161.9,337.6L1155.9,336.3L1150.0,335.0Z" fill="#fff" stroke="none"/>
<path d="M1128.0,316.0L1133.0,312.6L1138.0,309.2L1143.2,306.1L1148.6,303.6L1154.3,301.4L1159.9,299.3L1165.8,297.7L1171.7,296.7L1177.7,296.2L1183.8,296.0L1189.8,296.0L1195.9,296.0L1201.9,296.0L1207.9,296.1L1214.0,296.3L1220.0,296.5L1226.0,296.8L1232.1,297.2L1238.1,297.7L1244.1,298.3L1250.1,299.0L1256.1,299.8L1262.0,300.9L1268.0,302.0L1273.8,303.4L1279.7,304.9L1285.5,306.5L1291.3,308.2L1297.0,310.1L1302.8,312.0L1308.4,314.1L1314.1,316.2L1319.7,318.4L1325.3,320.7L1330.9,323.1L1336.4,325.5L1341.9,328.0L1347.3,330.7L1352.7,333.4L1358.0,336.2L1363.3,339.1L1368.6,342.1L1373.7,345.3L1378.8,348.5L1383.9,351.8L1388.9,355.2L1393.8,358.6L1398.7,362.2L1403.6,365.7L1408.4,369.4L1413.2,373.1L1418.0,376.8L1422.7,380.6L1427.3,384.4L1431.9,388.3L1436.5,392.3L1440.9,396.4L1445.4,400.5L1449.7,404.7L1454.0,408.9L1458.3,413.2L1462.5,417.5L1466.7,421.9L1470.8,426.3L1474.9,430.7L1479.0,435.2L1483.0,439.7L1486.8,444.3L1490.6,449.1L1494.3,453.8L1497.9,458.7L1501.5,463.6L1505.0,468.5L1508.5,473.4L1512.0,478.3L1515.6,483.2L1519.2,488.0L1522.6,493.0L1526.0,498.0L1486.0,529.0L1481.9,524.5L1477.8,520.0L1473.8,515.4L1469.7,510.9L1465.6,506.4L1461.5,501.9L1457.3,497.4L1453.1,493.0L1448.9,488.7L1444.5,484.4L1440.2,480.2L1435.7,476.0L1431.2,471.9L1426.8,467.7L1422.2,463.7L1417.7,459.6L1413.1,455.6L1408.4,451.7L1403.8,447.8L1399.0,444.0L1394.2,440.2L1389.3,436.6L1384.3,433.1L1379.3,429.6L1374.3,426.2L1369.1,422.9L1364.0,419.7L1358.8,416.6L1353.5,413.4L1348.2,410.4L1342.9,407.4L1337.6,404.5L1332.3,401.5L1326.9,398.7L1321.5,395.8L1316.1,393.0L1310.7,390.3L1305.2,387.6L1299.7,384.9L1294.2,382.2L1288.7,379.6L1283.2,377.1L1277.6,374.6L1272.1,372.1L1266.5,369.7L1260.9,367.4L1255.2,365.1L1249.6,362.8L1243.9,360.6L1238.2,358.4L1232.5,356.4L1226.7,354.3L1221.0,352.3L1215.2,350.5L1209.3,348.7L1203.5,347.1L1197.6,345.6L1191.6,344.1L1185.7,342.7L1179.8,341.4L1173.8,340.1L1167.9,338.8L1161.9,337.6L1155.9,336.3L1150.0,335.0Z" fill="url(#dots2)" stroke="none"/>
<path d="M1150.0,335.0L1128.0,316.0L1133.0,312.6L1138.0,309.2L1143.2,306.1L1148.6,303.6L1154.3,301.4L1159.9,299.3L1165.8,297.7L1171.7,296.7L1177.7,296.2L1183.8,296.0L1189.8,296.0L1195.9,296.0L1201.9,296.0L1207.9,296.1L1214.0,296.3L1220.0,296.5L1226.0,296.8L1232.1,297.2L1238.1,297.7L1244.1,298.3L1250.1,299.0L1256.1,299.8L1262.0,300.9L1268.0,302.0L1273.8,303.4L1279.7,304.9L1285.5,306.5L1291.3,308.2L1297.0,310.1L1302.8,312.0L1308.4,314.1L1314.1,316.2L1319.7,318.4L1325.3,320.7L1330.9,323.1L1336.4,325.5L1341.9,328.0L1347.3,330.7L1352.7,333.4L1358.0,336.2L1363.3,339.1L1368.6,342.1L1373.7,345.3L1378.8,348.5L1383.9,351.8L1388.9,355.2L1393.8,358.6L1398.7,362.2L1403.6,365.7L1408.4,369.4L1413.2,373.1L1418.0,376.8L1422.7,380.6L1427.3,384.4L1431.9,388.3L1436.5,392.3L1440.9,396.4L1445.4,400.5L1449.7,404.7L1454.0,408.9L1458.3,413.2L1462.5,417.5L1466.7,421.9L1470.8,426.3L1474.9,430.7L1479.0,435.2L1483.0,439.7L1486.8,444.3L1490.6,449.1L1494.3,453.8L1497.9,458.7L1501.5,463.6L1505.0,468.5L1508.5,473.4L1512.0,478.3L1515.6,483.2L1519.2,488.0L1522.6,493.0L1526.0,498.0L1486.0,529.0" fill="none" stroke="#c8c8c8" stroke-width="1.8"/>
<path d="M1143,306L1168,339M1166,298L1186,343M1190,296L1203,347M1214,296L1227,354M1238,298L1244,361M1262,301L1261,367M1285,307L1278,375M1308,314L1300,385M1331,323L1316,393M1353,333L1332,402M1374,345L1348,410M1394,359L1369,423M1413,373L1384,433M1432,388L1399,444M1450,405L1413,456M1467,422L1431,472M1483,440L1445,484M1498,459L1457,497M1512,478L1470,511" fill="none" stroke="#d2d2d2" stroke-width="0.8"/>
<path d="M1498.0,540.0L1500.1,535.2L1503.9,530.2L1508.9,525.2L1514.8,520.6L1520.9,516.6L1527.0,513.7L1532.5,512.0L1537.0,512.0L1540.6,514.0L1543.9,517.9L1546.8,523.2L1549.6,529.5L1552.1,536.2L1554.5,542.8L1556.7,548.9L1559.0,554.0L1561.2,558.3L1563.5,562.3L1565.6,566.1L1567.6,569.8L1569.3,573.1L1570.9,576.3L1572.1,579.3L1573.0,582.0L1573.6,584.4L1573.9,586.4L1574.0,588.2L1573.8,589.8L1573.3,591.2L1572.5,592.7L1571.4,594.2L1570.0,596.0L1568.2,598.2L1566.0,600.9L1563.4,603.7L1560.6,606.6L1557.5,609.1L1554.4,611.0L1551.2,612.0L1548.0,612.0L1544.7,610.8L1541.3,608.7L1537.7,605.8L1534.0,602.3L1530.3,598.3L1526.7,594.0L1523.3,589.5L1520.0,585.0L1516.5,580.1L1512.6,574.6L1508.6,568.7L1504.8,562.6L1501.5,556.4L1499.1,550.5L1497.8,544.9Z" fill="#fff" stroke="#c8c8c8" stroke-width="1.8"/>
<path d="M1498.0,540.0L1500.1,535.2L1503.9,530.2L1508.9,525.2L1514.8,520.6L1520.9,516.6L1527.0,513.7L1532.5,512.0L1537.0,512.0L1540.6,514.0L1543.9,517.9L1546.8,523.2L1549.6,529.5L1552.1,536.2L1554.5,542.8L1556.7,548.9L1559.0,554.0L1561.2,558.3L1563.5,562.3L1565.6,566.1L1567.6,569.8L1569.3,573.1L1570.9,576.3L1572.1,579.3L1573.0,582.0L1573.6,584.4L1573.9,586.4L1574.0,588.2L1573.8,589.8L1573.3,591.2L1572.5,592.7L1571.4,594.2L1570.0,596.0L1568.2,598.2L1566.0,600.9L1563.4,603.7L1560.6,606.6L1557.5,609.1L1554.4,611.0L1551.2,612.0L1548.0,612.0L1544.7,610.8L1541.3,608.7L1537.7,605.8L1534.0,602.3L1530.3,598.3L1526.7,594.0L1523.3,589.5L1520.0,585.0L1516.5,580.1L1512.6,574.6L1508.6,568.7L1504.8,562.6L1501.5,556.4L1499.1,550.5L1497.8,544.9Z" fill="url(#dots2)" stroke="none"/>
<path d="M1577.0,739.0L1584.0,738.3L1591.0,737.4L1598.0,736.6L1605.1,736.0L1612.1,735.7L1619.1,736.1L1626.0,737.7L1632.4,740.5L1638.2,744.6L1642.7,750.0L1646.1,756.1L1648.5,762.8L1650.1,769.7L1651.1,776.6L1651.8,783.6L1652.3,790.7L1652.5,797.7L1652.5,804.8L1652.4,811.8L1652.1,818.9L1651.7,825.9L1651.1,833.0L1650.2,840.0L1649.2,847.0L1648.1,853.9L1646.8,860.9L1645.5,867.8L1644.1,874.7L1642.7,881.6L1641.3,888.5L1639.9,895.4L1638.4,902.3L1636.9,909.2L1635.4,916.1L1633.8,923.0L1632.2,929.9L1630.4,936.7L1628.5,943.5L1626.5,950.3L1624.3,957.0L1622.0,963.6L1619.6,970.3L1617.1,976.9L1614.6,983.4L1611.8,989.9L1609.0,996.4L1605.9,1002.8L1602.7,1009.0L1599.3,1015.2L1595.5,1021.2L1591.5,1027.0L1587.3,1032.6L1582.7,1038.0L1578.0,1043.2L1573.1,1048.3L1567.9,1053.1L1562.6,1057.8L1557.2,1062.2L1551.4,1066.4L1545.5,1070.1L1539.3,1073.5L1532.9,1076.4L1526.3,1078.9L1519.5,1080.8L1512.5,1081.8L1505.5,1081.9L1498.4,1081.2L1491.5,1079.8L1485.8,1075.9L1482.0,1070.0L1450.0,1050.0L1550.0,950.0L1580.0,800.0L1570.0,745.0Z" fill="#fff" stroke="none"/>
<path d="M1577.0,739.0L1584.0,738.3L1591.0,737.4L1598.0,736.6L1605.1,736.0L1612.1,735.7L1619.1,736.1L1626.0,737.7L1632.4,740.5L1638.2,744.6L1642.7,750.0L1646.1,756.1L1648.5,762.8L1650.1,769.7L1651.1,776.6L1651.8,783.6L1652.3,790.7L1652.5,797.7L1652.5,804.8L1652.4,811.8L1652.1,818.9L1651.7,825.9L1651.1,833.0L1650.2,840.0L1649.2,847.0L1648.1,853.9L1646.8,860.9L1645.5,867.8L1644.1,874.7L1642.7,881.6L1641.3,888.5L1639.9,895.4L1638.4,902.3L1636.9,909.2L1635.4,916.1L1633.8,923.0L1632.2,929.9L1630.4,936.7L1628.5,943.5L1626.5,950.3L1624.3,957.0L1622.0,963.6L1619.6,970.3L1617.1,976.9L1614.6,983.4L1611.8,989.9L1609.0,996.4L1605.9,1002.8L1602.7,1009.0L1599.3,1015.2L1595.5,1021.2L1591.5,1027.0L1587.3,1032.6L1582.7,1038.0L1578.0,1043.2L1573.1,1048.3L1567.9,1053.1L1562.6,1057.8L1557.2,1062.2L1551.4,1066.4L1545.5,1070.1L1539.3,1073.5L1532.9,1076.4L1526.3,1078.9L1519.5,1080.8L1512.5,1081.8L1505.5,1081.9L1498.4,1081.2L1491.5,1079.8L1485.8,1075.9L1482.0,1070.0L1450.0,1050.0L1550.0,950.0L1580.0,800.0L1570.0,745.0Z" fill="url(#dots2)" stroke="none"/>
<path d="M1577.0,739.0L1584.0,738.3L1591.0,737.4L1598.0,736.6L1605.1,736.0L1612.1,735.7L1619.1,736.1L1626.0,737.7L1632.4,740.5L1638.2,744.6L1642.7,750.0L1646.1,756.1L1648.5,762.8L1650.1,769.7L1651.1,776.6L1651.8,783.6L1652.3,790.7L1652.5,797.7L1652.5,804.8L1652.4,811.8L1652.1,818.9L1651.7,825.9L1651.1,833.0L1650.2,840.0L1649.2,847.0L1648.1,853.9L1646.8,860.9L1645.5,867.8L1644.1,874.7L1642.7,881.6L1641.3,888.5L1639.9,895.4L1638.4,902.3L1636.9,909.2L1635.4,916.1L1633.8,923.0L1632.2,929.9L1630.4,936.7L1628.5,943.5L1626.5,950.3L1624.3,957.0L1622.0,963.6L1619.6,970.3L1617.1,976.9L1614.6,983.4L1611.8,989.9L1609.0,996.4L1605.9,1002.8L1602.7,1009.0L1599.3,1015.2L1595.5,1021.2L1591.5,1027.0L1587.3,1032.6L1582.7,1038.0L1578.0,1043.2L1573.1,1048.3L1567.9,1053.1L1562.6,1057.8L1557.2,1062.2L1551.4,1066.4L1545.5,1070.1L1539.3,1073.5L1532.9,1076.4L1526.3,1078.9L1519.5,1080.8L1512.5,1081.8L1505.5,1081.9L1498.4,1081.2L1491.5,1079.8L1485.8,1075.9L1482.0,1070.0" fill="none" stroke="#c8c8c8" stroke-width="1.8"/>
<path d="M1599,749L1606,748L1612,748L1617,748L1622,749L1627,751L1630,753L1633,757L1635,761L1637,766L1638,772L1639,778L1640,785L1640,791L1640,798L1641,805L1640,812L1640,818L1640,825L1639,832L1638,838L1637,845L1636,852L1635,859L1634,865L1632,872L1631,879L1630,886L1628,893L1627,900L1625,907L1624,913L1622,920L1621,927L1619,934L1617,940L1615,947L1613,953L1611,960L1608,966L1606,973L1603,979L1601,985L1598,991L1595,997L1592,1003L1589,1009L1586,1015L1582,1020L1578,1025L1574,1030L1569,1035L1565,1040L1560,1044L1555,1049L1550,1053L1545,1056L1539,1060L1534,1063L1528,1065L1523,1068L1517,1069L1512,1070L1506,1070L1500,1069M1600,760L1607,760L1612,760L1616,760L1618,760L1621,761L1622,762L1623,764L1624,766L1625,769L1626,774L1627,780L1628,786L1628,792L1628,798L1629,805L1628,811L1628,818L1628,824L1627,830L1626,837L1626,843L1624,850L1623,856L1622,863L1621,870L1619,877L1618,884L1616,891L1615,897L1613,904L1612,911L1610,917L1609,924L1607,930L1605,937L1604,943L1602,949L1599,956L1597,962L1595,968L1592,974L1590,980L1587,986L1584,992L1582,998L1579,1003L1575,1008L1572,1013L1569,1018L1565,1022L1561,1027L1556,1031L1552,1035L1547,1039L1543,1043L1538,1046L1533,1049L1529,1052L1524,1054L1519,1056L1515,1057L1511,1058L1506,1058L1502,1057M1602,772L1607,772L1612,772L1614,772L1615,772L1615,772L1614,771L1613,770L1613,771L1614,773L1615,776L1615,781L1616,787L1616,792L1616,798L1617,805L1616,811L1616,817L1616,823L1615,829L1615,835L1614,841L1613,848L1611,854L1610,861L1609,868L1607,874L1606,881L1605,888L1603,895L1602,902L1600,908L1599,915L1597,921L1596,927L1594,934L1592,940L1590,946L1588,952L1586,958L1584,964L1581,970L1579,976L1576,981L1574,987L1571,992L1568,997L1565,1001L1562,1006L1559,1010L1556,1014L1552,1018L1548,1023L1544,1027L1539,1030L1535,1034L1531,1037L1527,1039L1523,1041L1519,1043L1515,1045L1512,1046L1510,1046L1507,1046L1504,1046" fill="none" stroke="#d4d4d4" stroke-width="0.8"/>
<g clip-path="url(#plz0)"><path d="M1647,735L1653,743L1658,751L1661,759L1663,767L1664,775L1665,783L1665,790L1665,797L1666,805L1665,812L1665,820L1665,827L1664,834L1663,842L1662,849L1661,856L1660,863L1658,870L1657,877L1655,884L1654,891L1653,898L1651,905L1650,912L1648,919L1646,926L1645,933L1643,940L1641,947L1639,954L1637,961L1634,968L1632,975L1629,982L1627,988L1624,995L1621,1002L1618,1009L1614,1015L1610,1022L1606,1028L1602,1035L1597,1041L1593,1047L1587,1052L1582,1058L1577,1063L1571,1068L1565,1073L1559,1077L1552,1081L1545,1085L1538,1088L1530,1091L1522,1094L1513,1095L1505,1095L1497,1094L1487,1092L1476,1085L1471,1077M1656,725L1664,735L1670,745L1673,756L1676,765L1677,773L1678,782L1678,789L1678,797L1679,805L1678,813L1678,820L1678,828L1677,836L1676,843L1675,851L1674,858L1672,866L1671,873L1670,880L1668,887L1667,894L1665,901L1664,908L1662,915L1661,922L1659,929L1657,936L1656,943L1654,951L1651,958L1649,965L1647,972L1644,979L1641,986L1639,993L1636,1000L1633,1007L1629,1014L1626,1021L1622,1028L1617,1035L1613,1042L1608,1049L1602,1055L1597,1061L1591,1067L1585,1072L1579,1078L1573,1083L1566,1088L1559,1093L1551,1097L1543,1100L1534,1104L1525,1106L1514,1108L1504,1108L1495,1107L1482,1104L1467,1094L1460,1084M1673,706L1685,720L1694,735L1698,748L1701,760L1703,770L1704,779L1704,788L1704,797L1705,805L1704,813L1704,821L1704,830L1703,838L1702,847L1701,855L1699,863L1698,870L1697,878L1695,885L1694,892L1692,899L1691,906L1689,913L1688,920L1686,928L1684,935L1683,943L1681,950L1679,958L1676,966L1674,973L1671,981L1668,988L1666,996L1663,1003L1660,1011L1656,1018L1653,1026L1649,1034L1644,1042L1639,1050L1634,1058L1628,1065L1622,1072L1616,1079L1609,1085L1603,1092L1596,1097L1589,1103L1581,1109L1572,1115L1563,1120L1553,1124L1543,1128L1530,1132L1516,1134L1503,1134L1491,1133L1471,1128L1448,1112L1438,1098M1682,697L1696,713L1705,729L1711,745L1714,757L1716,769L1717,778L1717,788L1717,797L1718,805L1717,814L1717,822L1717,831L1716,840L1715,848L1713,857L1712,865L1711,873L1709,880L1708,888L1706,895L1705,902L1704,909L1702,916L1700,923L1699,930L1697,938L1695,946L1693,953L1691,961L1689,969L1686,978L1683,985L1681,993L1678,1000L1675,1008L1672,1016L1668,1024L1664,1032L1660,1040L1655,1048L1650,1057L1644,1065L1638,1073L1632,1081L1625,1088L1619,1095L1612,1101L1605,1107L1597,1114L1588,1120L1578,1126L1568,1132L1558,1136L1547,1141L1532,1145L1517,1147L1503,1147L1489,1146L1466,1140L1439,1121L1427,1105M1700,678L1718,698L1729,719L1736,737L1739,753L1741,765L1743,776L1743,786L1743,796L1744,805L1743,814L1743,823L1742,833L1742,842L1740,852L1739,861L1738,869L1736,877L1735,885L1733,893L1732,900L1730,907L1729,914L1727,921L1726,929L1724,936L1722,944L1720,952L1718,960L1716,968L1713,977L1711,986L1708,994L1705,1002L1702,1010L1699,1018L1695,1026L1692,1035L1687,1043L1683,1052L1678,1061L1672,1071L1665,1080L1658,1089L1651,1098L1644,1106L1637,1113L1629,1120L1621,1127L1613,1134L1602,1142L1591,1149L1580,1155L1568,1160L1555,1165L1538,1170L1519,1173L1502,1173L1485,1171L1456,1164L1420,1139L1405,1119M1709,668L1728,691L1741,713L1748,734L1752,750L1754,764L1755,775L1756,786L1756,796L1757,805L1756,815L1756,824L1755,834L1755,844L1753,853L1752,863L1751,872L1749,880L1748,888L1746,895L1745,903L1743,910L1742,917L1740,924L1739,931L1737,939L1735,947L1733,955L1731,964L1729,972L1726,981L1723,990L1720,998L1717,1006L1714,1014L1711,1023L1707,1031L1703,1040L1699,1049L1694,1058L1689,1068L1683,1078L1676,1088L1669,1097L1661,1106L1654,1115L1646,1123L1638,1130L1630,1137L1621,1145L1610,1152L1598,1160L1586,1166L1573,1172L1559,1178L1540,1183L1520,1185L1501,1186L1483,1184L1451,1176L1411,1148L1394,1126M1726,649L1750,676L1765,703L1773,727L1778,745L1780,760L1781,773L1782,785L1782,795L1783,806L1782,815L1782,825L1781,836L1780,846L1779,857L1778,867L1776,876L1775,885L1773,893L1772,900L1770,908L1769,915L1767,922L1766,929L1764,937L1762,945L1760,953L1758,962L1756,970L1754,979L1751,989L1748,998L1745,1007L1742,1015L1738,1024L1735,1032L1731,1041L1727,1051L1722,1060L1717,1071L1711,1081L1704,1092L1697,1103L1689,1114L1681,1123L1672,1133L1664,1141L1656,1149L1647,1157L1636,1165L1624,1174L1611,1182L1597,1190L1583,1196L1567,1202L1545,1208L1522,1211L1500,1212L1480,1210L1441,1200L1392,1166L1372,1140M1735,639L1760,669L1777,697L1786,723L1791,743L1793,759L1794,772L1795,784L1795,795L1796,806L1795,816L1795,826L1794,837L1793,848L1792,858L1791,869L1789,878L1787,887L1786,895L1784,903L1783,910L1781,917L1780,925L1778,932L1777,940L1775,948L1773,956L1771,965L1769,974L1766,983L1763,993L1760,1002L1757,1011L1754,1020L1751,1028L1747,1037L1743,1047L1739,1056L1734,1066L1729,1077L1722,1088L1715,1099L1707,1111L1699,1122L1691,1132L1682,1141L1673,1150L1664,1159L1655,1167L1644,1176L1632,1185L1618,1194L1603,1201L1588,1208L1571,1215L1548,1221L1523,1224L1500,1225L1478,1223L1436,1212L1383,1175L1362,1147M1753,620L1782,654L1800,687L1811,716L1816,738L1819,756L1820,770L1821,783L1821,795L1822,806L1821,816L1821,827L1820,839L1819,851L1818,862L1816,873L1815,883L1813,892L1811,900L1810,908L1808,916L1807,923L1805,930L1804,937L1802,945L1800,953L1798,962L1796,971L1794,980L1791,990L1788,1000L1785,1011L1781,1020L1778,1029L1775,1038L1771,1047L1767,1057L1762,1067L1757,1078L1752,1089L1745,1101L1737,1114L1728,1126L1719,1138L1710,1149L1701,1159L1691,1169L1682,1178L1672,1187L1660,1196L1646,1206L1631,1216L1615,1225L1598,1232L1579,1240L1553,1246L1525,1250L1499,1251L1474,1248L1426,1236L1364,1194L1340,1161" fill="none" stroke="#dedede" stroke-width="0.7"/><path d="M1665,716L1675,728L1682,740L1686,752L1688,762L1690,772L1691,781L1691,789L1691,797L1692,805L1691,813L1691,821L1691,829L1690,837L1689,845L1688,853L1687,861L1685,868L1684,875L1682,882L1681,889L1679,896L1678,903L1677,910L1675,918L1673,925L1672,932L1670,939L1668,947L1666,954L1664,962L1661,969L1659,977L1656,984L1654,991L1651,998L1648,1005L1644,1013L1641,1020L1637,1027L1633,1035L1628,1043L1623,1050L1618,1057L1612,1064L1606,1070L1600,1076L1594,1082L1588,1088L1581,1093L1573,1099L1565,1104L1557,1108L1548,1112L1538,1116L1527,1119L1515,1121L1504,1121L1493,1120L1477,1116L1458,1103L1449,1091M1691,687L1707,706L1717,724L1723,741L1727,755L1729,767L1730,777L1730,787L1730,796L1731,805L1730,814L1730,823L1729,832L1729,841L1728,850L1726,859L1725,867L1724,875L1722,883L1721,890L1719,897L1718,904L1716,911L1715,919L1713,926L1712,933L1710,941L1708,949L1706,957L1704,965L1701,973L1698,982L1696,990L1693,997L1690,1005L1687,1013L1683,1021L1680,1029L1676,1037L1671,1046L1666,1055L1661,1064L1655,1073L1648,1081L1642,1089L1635,1097L1628,1104L1620,1111L1613,1117L1605,1124L1595,1131L1585,1137L1574,1143L1563,1148L1551,1153L1535,1157L1518,1160L1502,1160L1487,1158L1461,1152L1430,1130L1416,1112M1717,659L1739,683L1753,708L1761,730L1765,748L1767,762L1768,774L1769,785L1769,796L1770,806L1769,815L1769,825L1768,835L1767,845L1766,855L1765,865L1763,874L1762,882L1760,890L1759,898L1757,905L1756,912L1754,919L1753,927L1751,934L1750,942L1748,950L1746,958L1743,967L1741,976L1738,985L1735,994L1732,1003L1729,1011L1726,1019L1723,1027L1719,1036L1715,1045L1711,1055L1706,1064L1700,1075L1693,1085L1686,1096L1679,1106L1671,1115L1663,1124L1655,1132L1647,1140L1638,1147L1628,1155L1617,1163L1605,1171L1592,1178L1578,1184L1563,1190L1543,1195L1521,1198L1501,1199L1482,1197L1446,1188L1402,1157L1383,1133M1744,630L1771,661L1788,692L1798,719L1803,740L1806,757L1807,771L1808,783L1808,795L1809,806L1808,816L1808,827L1807,838L1806,849L1805,860L1803,871L1802,881L1800,889L1799,898L1797,906L1796,913L1794,920L1793,927L1791,935L1789,942L1788,951L1786,959L1783,968L1781,977L1779,986L1776,996L1772,1006L1769,1016L1766,1024L1763,1033L1759,1042L1755,1052L1751,1062L1746,1072L1740,1083L1734,1094L1726,1107L1718,1119L1709,1130L1700,1141L1691,1150L1682,1160L1673,1168L1663,1177L1652,1186L1639,1196L1624,1205L1609,1213L1593,1220L1575,1227L1551,1234L1524,1237L1499,1238L1476,1236L1431,1224L1374,1184L1351,1154" fill="none" stroke="#d2d2d2" stroke-width="1.0"/></g>
<defs><clipPath id="plz"><path d="M1150.0,300.0L1162.8,294.0L1181.5,289.8L1204.9,287.2L1231.9,285.8L1261.1,285.5L1291.3,285.9L1321.4,286.8L1350.0,288.0L1379.0,289.8L1410.4,292.6L1443.2,296.2L1476.2,300.4L1508.4,305.0L1538.8,309.8L1566.4,314.5L1590.0,319.0L1609.6,323.3L1626.2,327.8L1640.3,332.3L1652.4,337.0L1663.0,341.7L1672.7,346.5L1681.8,351.2L1691.0,356.0L1699.5,360.4L1706.5,364.5L1712.5,368.3L1717.8,372.3L1722.7,376.7L1727.8,381.8L1733.5,387.8L1740.0,395.0L1747.6,403.8L1756.1,413.9L1765.0,425.0L1774.1,436.8L1783.0,448.9L1791.3,460.8L1798.8,472.3L1805.0,483.0L1810.0,492.9L1814.2,502.3L1817.6,511.4L1820.4,520.3L1822.7,529.2L1824.6,538.2L1826.4,547.4L1828.0,557.0L1829.5,567.2L1830.6,577.9L1831.5,588.9L1832.0,599.9L1832.2,610.8L1832.1,621.3L1831.7,631.1L1831.0,640.0L1829.9,647.4L1828.4,653.1L1826.5,658.0L1824.3,662.5L1821.9,667.4L1819.4,673.4L1816.7,681.0L1814.0,691.0L1811.2,703.5L1808.1,718.1L1804.9,734.3L1801.6,751.5L1798.1,769.4L1794.7,787.4L1791.3,805.1L1788.0,822.0L1784.8,838.6L1781.6,855.4L1778.5,872.3L1775.4,889.2L1772.2,905.9L1768.9,922.1L1765.5,937.9L1762.0,953.0L1758.3,967.6L1754.5,982.1L1750.6,996.2L1746.6,1009.9L1742.6,1022.9L1738.4,1035.2L1734.2,1046.6L1730.0,1057.0L1725.9,1066.1L1721.9,1073.9L1718.0,1080.7L1713.9,1086.8L1709.7,1092.4L1705.0,1098.0L1699.8,1103.8L1694.0,1110.0L1687.5,1116.8L1680.5,1123.8L1673.1,1130.9L1665.2,1138.0L1657.0,1144.8L1648.5,1151.2L1639.8,1157.0L1631.0,1162.0L1621.8,1166.2L1612.2,1169.8L1602.2,1172.9L1592.1,1175.5L1581.8,1177.7L1571.6,1179.7L1561.6,1181.4L1552.0,1183.0L1542.7,1184.5L1533.7,1185.7L1524.8,1186.7L1516.1,1187.4L1507.3,1187.8L1498.4,1187.9L1489.3,1187.6L1480.0,1187.0L1470.5,1186.2L1461.0,1185.2L1451.5,1184.1L1441.8,1182.5L1431.8,1180.4L1421.6,1177.8L1411.0,1174.3L1400.0,1170.0L1388.5,1164.3L1376.4,1157.1L1364.0,1148.9L1351.2,1140.2L1338.4,1131.5L1325.5,1123.2L1312.6,1115.9L1300.0,1110.0L1286.1,1108.1L1270.3,1110.9L1253.7,1115.8L1237.5,1120.6L1222.9,1122.8L1210.9,1120.1L1202.9,1109.9L1200.0,1090.0L1204.3,1058.3L1215.6,1016.4L1231.6,966.9L1250.0,912.5L1268.4,855.9L1284.4,799.8L1295.7,747.0L1300.0,700.0L1296.7,656.8L1287.9,614.0L1275.0,572.1L1259.4,531.9L1242.6,493.9L1226.2,458.8L1211.5,427.3L1200.0,400.0L1189.6,377.3L1178.1,358.9L1166.6,344.0L1156.2,332.0L1148.2,322.3L1143.8,314.1L1143.9,306.9Z"/><path d="M1720.0,367.0L1726.6,358.7L1736.8,348.0L1749.5,335.9L1763.5,323.3L1777.9,311.0L1791.4,299.9L1803.2,291.0L1812.0,285.0L1817.8,282.0L1821.5,281.2L1823.8,282.1L1825.1,284.4L1826.0,287.8L1827.1,291.7L1828.9,295.9L1832.0,300.0L1836.4,304.4L1841.6,309.7L1847.2,315.6L1853.2,321.9L1859.2,328.5L1865.0,335.0L1870.3,341.2L1875.0,347.0L1879.0,352.3L1882.6,357.3L1885.9,362.1L1888.9,366.8L1891.8,371.6L1894.5,376.5L1897.2,381.6L1900.0,387.0L1902.8,392.7L1905.6,398.4L1908.3,404.3L1911.0,410.4L1913.5,416.6L1915.9,423.1L1918.1,429.9L1920.0,437.0L1921.7,444.5L1923.3,452.6L1924.8,461.0L1926.0,469.6L1927.1,478.2L1927.9,486.8L1928.6,495.1L1929.0,503.0L1929.2,510.5L1929.1,517.8L1928.7,524.9L1928.2,531.9L1927.5,538.8L1926.7,545.8L1925.9,552.8L1925.0,560.0L1924.5,567.6L1924.7,575.7L1924.9,584.0L1925.0,592.3L1924.4,600.3L1922.8,607.7L1919.8,614.4L1915.0,620.0L1907.5,625.1L1897.3,630.2L1885.4,635.0L1872.6,638.9L1859.8,641.8L1848.0,643.2L1838.1,642.7L1831.0,640.0L1826.9,634.5L1825.0,626.3L1824.8,616.0L1825.7,604.4L1827.0,592.0L1828.3,579.5L1828.8,567.6L1828.0,557.0L1826.4,547.4L1824.6,538.2L1822.7,529.2L1820.4,520.3L1817.6,511.4L1814.2,502.3L1810.0,492.9L1805.0,483.0L1798.6,472.3L1790.6,460.6L1781.7,448.4L1772.3,436.1L1762.9,424.2L1754.1,413.1L1746.3,403.2L1740.0,395.0L1734.6,389.0L1729.2,385.0L1724.3,382.5L1720.2,380.6L1717.3,378.8L1716.1,376.4L1716.8,372.7Z"/></clipPath></defs>
<g clip-path="url(#plz)"><path d="M1300.5,422.0L1311.6,426.5M1301.4,419.8L1312.5,424.2M1302.3,417.5L1313.4,422.0M1303.2,415.3L1314.3,419.8M1304.1,413.1L1315.2,417.6M1348.1,443.6L1358.7,449.4M1349.3,441.5L1359.8,447.2M1350.4,439.4L1361.0,445.1M1351.6,437.3L1362.1,443.0M1352.7,435.2L1363.3,440.9M1393.1,470.5L1402.9,477.3M1394.4,468.5L1404.3,475.4M1395.8,466.5L1405.7,473.4M1397.2,464.6L1407.0,471.4M1398.6,462.6L1408.4,469.4M1434.8,502.1L1443.8,510.0M1436.3,500.3L1445.4,508.2M1437.9,498.5L1446.9,506.4M1439.5,496.7L1448.5,504.6M1441.1,494.9L1450.1,502.8M1472.6,538.2L1480.7,547.1M1474.4,536.6L1482.5,545.5M1476.2,535.0L1484.3,543.9M1478.0,533.4L1486.1,542.2M1479.7,531.8L1487.8,540.6M1506.3,578.3L1513.4,588.0M1508.2,576.9L1515.3,586.6M1510.2,575.5L1517.2,585.2M1512.1,574.1L1519.2,583.8M1514.1,572.7L1521.1,582.4M1535.3,621.9L1541.2,632.3M1537.4,620.7L1543.3,631.1M1539.4,619.5L1545.4,630.0M1541.5,618.3L1547.5,628.8M1543.6,617.2L1549.6,627.6M1559.2,668.4L1564.0,679.5M1561.4,667.5L1566.2,678.5M1563.6,666.5L1568.4,677.6M1565.8,665.6L1570.6,676.6M1568.0,664.6L1572.8,675.7M1577.9,717.3L1581.4,728.8M1580.2,716.6L1583.7,728.1M1582.5,715.9L1586.0,727.4M1584.8,715.2L1588.3,726.7M1587.1,714.5L1590.5,726.0M1591.0,768.0L1593.1,779.8M1593.3,767.6L1595.5,779.4M1595.7,767.1L1597.9,778.9M1598.0,766.7L1600.2,778.5M1600.4,766.3L1602.6,778.1M1598.3,819.8L1599.2,831.8M1600.7,819.7L1601.6,831.6M1603.1,819.5L1604.0,831.5M1605.5,819.3L1606.4,831.3M1607.9,819.1L1608.8,831.1M1599.9,872.2L1599.4,884.1M1602.3,872.2L1601.8,884.2M1604.7,872.3L1604.2,884.3M1607.1,872.4L1606.6,884.4M1609.5,872.5L1609.0,884.5M1595.6,924.3L1593.8,936.2M1598.0,924.7L1596.2,936.5M1600.4,925.0L1598.6,936.9M1602.7,925.4L1600.9,937.3M1605.1,925.7L1603.3,937.6M1585.6,975.7L1582.5,987.3M1587.9,976.3L1584.8,987.9M1590.2,976.9L1587.1,988.5M1592.5,977.5L1589.4,989.1M1594.9,978.2L1591.8,989.8M1569.9,1025.6L1565.5,1036.8M1572.1,1026.5L1567.8,1037.7M1574.4,1027.4L1570.0,1038.5M1576.6,1028.2L1572.2,1039.4M1578.8,1029.1L1574.5,1040.3M1548.8,1073.5L1543.2,1084.1M1550.9,1074.6L1545.3,1085.2M1553.0,1075.7L1547.4,1086.3M1555.1,1076.8L1549.5,1087.5M1557.3,1078.0L1551.7,1088.6M1522.4,1118.7L1515.7,1128.7M1524.4,1120.1L1517.7,1130.0M1526.4,1121.4L1519.7,1131.3M1528.4,1122.8L1521.7,1132.7M1530.4,1124.1L1523.6,1134.0M1491.2,1160.7L1483.4,1169.9M1493.1,1162.3L1485.3,1171.4M1494.9,1163.9L1487.1,1173.0M1496.7,1165.4L1488.9,1174.5M1498.5,1167.0L1490.7,1176.1M1455.6,1199.0L1446.8,1207.2M1457.2,1200.8L1448.4,1209.0M1458.8,1202.5L1450.1,1210.7M1460.5,1204.3L1451.7,1212.5M1462.1,1206.0L1453.4,1214.2M1415.8,1233.1L1406.2,1240.3M1417.3,1235.1L1407.7,1242.2M1418.7,1237.0L1409.1,1244.2M1420.2,1238.9L1410.5,1246.1M1421.6,1240.8L1412.0,1248.0M1372.6,1262.6L1362.2,1268.7M1373.8,1264.7L1363.4,1270.7M1375.0,1266.7L1364.7,1272.8M1376.2,1268.8L1365.9,1274.9M1377.4,1270.9L1367.1,1276.9M1317.4,380.3L1328.5,384.7M1318.3,378.0L1329.4,382.5M1319.2,375.8L1330.3,380.3M1320.1,373.6L1331.2,378.1M1321.0,371.4L1332.1,375.8M1365.1,401.7L1375.7,407.3M1366.2,399.6L1376.8,405.2M1367.3,397.5L1377.9,403.1M1368.4,395.4L1379.1,401.0M1369.6,393.3L1380.2,398.9M1410.4,428.0L1420.4,434.6M1411.7,426.0L1421.7,432.6M1413.0,424.0L1423.0,430.6M1414.4,422.0L1424.4,428.6M1415.7,420.0L1425.7,426.6M1452.8,458.7L1462.0,466.3M1454.3,456.8L1463.6,464.4M1455.8,455.0L1465.1,462.6M1457.4,453.1L1466.6,460.7M1458.9,451.2L1468.1,458.9M1491.8,493.5L1500.3,502.0M1493.6,491.8L1502.0,500.3M1495.3,490.1L1503.7,498.6M1497.0,488.4L1505.4,497.0M1498.7,486.7L1507.1,495.3M1527.2,532.1L1534.7,541.5M1529.0,530.6L1536.6,539.9M1530.9,529.1L1538.4,538.4M1532.8,527.6L1540.3,536.9M1534.7,526.1L1542.2,535.4M1558.4,574.1L1564.9,584.2M1560.4,572.8L1567.0,582.9M1562.4,571.5L1569.0,581.6M1564.4,570.2L1571.0,580.2M1566.5,568.9L1573.0,578.9M1585.2,619.1L1590.7,629.7M1587.3,618.0L1592.8,628.6M1589.5,616.9L1595.0,627.5M1591.6,615.8L1597.1,626.4M1593.7,614.7L1599.2,625.4M1607.3,666.5L1611.7,677.7M1609.5,665.6L1613.9,676.8M1611.8,664.8L1616.2,675.9M1614.0,663.9L1618.4,675.1M1616.2,663.0L1620.6,674.2M1624.5,716.0L1627.7,727.5M1626.8,715.3L1630.0,726.9M1629.1,714.7L1632.3,726.2M1631.4,714.0L1634.6,725.6M1633.7,713.4L1637.0,724.9M1636.5,766.9L1638.6,778.7M1638.9,766.5L1640.9,778.3M1641.3,766.1L1643.3,777.9M1643.6,765.7L1645.7,777.5M1646.0,765.3L1648.0,777.1M1643.4,818.8L1644.2,830.8M1645.8,818.6L1646.6,830.6M1648.2,818.5L1649.0,830.4M1650.6,818.3L1651.4,830.3M1653.0,818.1L1653.8,830.1M1644.9,871.1L1644.5,883.1M1647.3,871.2L1646.9,883.2M1649.7,871.3L1649.3,883.3M1652.1,871.3L1651.7,883.3M1654.5,871.4L1654.1,883.4M1641.1,923.3L1639.5,935.2M1643.5,923.6L1641.9,935.5M1645.9,924.0L1644.3,935.8M1648.3,924.3L1646.7,936.2M1650.6,924.6L1649.0,936.5M1632.1,974.9L1629.3,986.5M1634.4,975.4L1631.6,987.1M1636.7,976.0L1633.9,987.6M1639.1,976.5L1636.3,988.2M1641.4,977.1L1638.6,988.8M1617.8,1025.2L1613.8,1036.5M1620.1,1026.0L1616.1,1037.3M1622.3,1026.8L1618.4,1038.1M1624.6,1027.6L1620.6,1038.9M1626.9,1028.4L1622.9,1039.7M1598.5,1073.9L1593.4,1084.7M1600.7,1074.9L1595.6,1085.8M1602.9,1075.9L1597.8,1086.8M1605.0,1076.9L1599.9,1087.8M1607.2,1078.0L1602.1,1088.8M1574.4,1120.3L1568.2,1130.6M1576.5,1121.6L1570.3,1131.8M1578.5,1122.8L1572.3,1133.1M1580.6,1124.0L1574.4,1134.3M1582.6,1125.3L1576.4,1135.6M1545.7,1164.1L1538.5,1173.7M1547.6,1165.5L1540.4,1175.1M1549.5,1167.0L1542.3,1176.6M1551.4,1168.4L1544.2,1178.0M1553.4,1169.8L1546.2,1179.4M1512.7,1204.7L1504.5,1213.5M1514.4,1206.3L1506.3,1215.2M1516.2,1208.0L1508.1,1216.8M1518.0,1209.6L1509.8,1218.4M1519.7,1211.2L1511.6,1220.0M1475.7,1241.8L1466.7,1249.7M1477.3,1243.6L1468.3,1251.5M1478.9,1245.4L1469.9,1253.3M1480.5,1247.2L1471.5,1255.1M1482.1,1249.0L1473.1,1256.9M1435.2,1274.9L1425.4,1281.9M1436.6,1276.8L1426.8,1283.8M1438.0,1278.8L1428.2,1285.8M1439.4,1280.7L1429.6,1287.7M1440.8,1282.7L1431.0,1289.7M1391.5,1303.7L1381.1,1309.7M1392.7,1305.8L1382.3,1311.8M1393.9,1307.9L1383.5,1313.8M1395.1,1310.0L1384.7,1315.9M1396.3,1312.0L1385.9,1318.0M1334.2,338.5L1345.3,343.0M1335.1,336.3L1346.2,340.8M1336.0,334.1L1347.1,338.6M1336.9,331.9L1348.0,336.3M1337.8,329.6L1348.9,334.1M1382.0,359.9L1392.7,365.4M1383.1,357.7L1393.8,363.3M1384.2,355.6L1394.9,361.1M1385.3,353.5L1396.0,359.0M1386.4,351.3L1397.1,356.9M1427.6,385.6L1437.7,392.1M1428.9,383.6L1439.0,390.1M1430.2,381.5L1440.3,388.0M1431.5,379.5L1441.6,386.0M1432.8,377.5L1442.9,384.0M1470.6,415.4L1480.0,422.8M1472.1,413.6L1481.5,421.0M1473.6,411.7L1483.0,419.1M1475.0,409.8L1484.5,417.2M1476.5,407.9L1486.0,415.3M1510.6,449.2L1519.3,457.4M1512.3,447.4L1521.0,455.7M1513.9,445.7L1522.6,453.9M1515.6,444.0L1524.3,452.2M1517.2,442.2L1525.9,450.5M1547.3,486.5L1555.2,495.5M1549.1,484.9L1557.0,494.0M1550.9,483.4L1558.8,492.4M1552.7,481.8L1560.6,490.8M1554.5,480.2L1562.4,489.2M1580.4,527.1L1587.4,536.8M1582.3,525.7L1589.3,535.4M1584.2,524.3L1591.3,534.0M1586.2,522.9L1593.2,532.6M1588.1,521.5L1595.2,531.2M1609.5,570.6L1615.6,580.9M1611.5,569.4L1617.6,579.7M1613.6,568.2L1619.7,578.5M1615.7,567.0L1621.8,577.3M1617.7,565.7L1623.8,576.1M1634.4,616.6L1639.5,627.5M1636.6,615.6L1641.7,626.5M1638.7,614.6L1643.8,625.5M1640.9,613.6L1646.0,624.4M1643.1,612.6L1648.2,623.4M1654.9,664.8L1659.0,676.1M1657.2,664.0L1661.2,675.3M1659.4,663.2L1663.5,674.5M1661.7,662.4L1665.7,673.6M1663.9,661.5L1668.0,672.8M1670.8,714.7L1673.8,726.3M1673.2,714.1L1676.2,725.7M1675.5,713.5L1678.5,725.1M1677.8,712.9L1680.8,724.5M1680.1,712.3L1683.1,723.9M1682.0,765.8L1683.9,777.6M1684.4,765.4L1686.3,777.3M1686.8,765.0L1688.7,776.9M1689.2,764.6L1691.1,776.5M1691.5,764.3L1693.4,776.1M1688.4,817.7L1689.2,829.7M1690.8,817.6L1691.6,829.6M1693.2,817.4L1694.0,829.4M1695.6,817.3L1696.4,829.2M1698.0,817.1L1698.8,829.1M1689.9,870.1L1689.6,882.1M1692.3,870.1L1692.0,882.1M1694.7,870.2L1694.4,882.2M1697.1,870.3L1696.8,882.3M1699.5,870.3L1699.2,882.3M1686.6,922.3L1685.1,934.2M1688.9,922.6L1687.5,934.5M1691.3,922.9L1689.9,934.8M1693.7,923.2L1692.2,935.1M1696.1,923.5L1694.6,935.4M1678.3,974.0L1675.7,985.7M1680.7,974.5L1678.1,986.2M1683.0,975.0L1680.4,986.7M1685.3,975.5L1682.8,987.2M1687.7,976.0L1685.1,987.8M1665.3,1024.7L1661.6,1036.1M1667.6,1025.4L1663.9,1036.8M1669.8,1026.1L1666.2,1037.6M1672.1,1026.9L1668.5,1038.3M1674.4,1027.6L1670.8,1039.0M1647.6,1073.9L1642.9,1085.0M1649.8,1074.9L1645.1,1085.9M1652.0,1075.8L1647.3,1086.9M1654.2,1076.8L1649.5,1087.8M1656.4,1077.7L1651.7,1088.7M1625.3,1121.3L1619.6,1131.9M1627.4,1122.5L1621.7,1133.0M1629.5,1123.6L1623.8,1134.2M1631.7,1124.7L1625.9,1135.3M1633.8,1125.9L1628.1,1136.4M1598.8,1166.4L1592.1,1176.4M1600.8,1167.8L1594.1,1177.7M1602.8,1169.1L1596.1,1179.1M1604.7,1170.4L1598.1,1180.4M1606.7,1171.8L1600.1,1181.7M1568.1,1208.8L1560.5,1218.2M1570.0,1210.4L1562.4,1219.7M1571.8,1211.9L1564.3,1221.2M1573.7,1213.4L1566.1,1222.7M1575.6,1214.9L1568.0,1224.2M1533.6,1248.2L1525.2,1256.8M1535.3,1249.9L1526.9,1258.5M1537.0,1251.6L1528.6,1260.2M1538.8,1253.3L1530.4,1261.8M1540.5,1255.0L1532.1,1263.5M1495.6,1284.2L1486.4,1292.0M1497.2,1286.1L1488.0,1293.8M1498.7,1287.9L1489.5,1295.6M1500.3,1289.7L1491.1,1297.5M1501.8,1291.6L1492.6,1299.3M1454.4,1316.5L1444.6,1323.3M1455.8,1318.5L1445.9,1325.3M1457.2,1320.4L1447.3,1327.3M1458.5,1322.4L1448.7,1329.3M1459.9,1324.4L1450.0,1331.2M1410.4,1344.8L1399.9,1350.7M1411.6,1346.9L1401.1,1352.8M1412.7,1349.0L1402.3,1354.9M1413.9,1351.1L1403.5,1357.0M1415.1,1353.2L1404.6,1359.1M1352.9,292.2L1364.1,296.7M1353.8,289.9L1365.0,294.4M1354.7,287.7L1365.9,292.2M1355.6,285.5L1366.8,290.0M1356.5,283.3L1367.7,287.8M1400.8,313.4L1411.5,318.8M1401.9,311.2L1412.6,316.7M1403.0,309.1L1413.7,314.5M1404.1,307.0L1414.8,312.4M1405.2,304.8L1415.9,310.2M1446.7,338.6L1456.9,344.9M1447.9,336.6L1458.1,342.9M1449.2,334.5L1459.4,340.9M1450.5,332.5L1460.7,338.8M1451.7,330.4L1461.9,336.8M1490.2,367.7L1499.8,374.9M1491.6,365.7L1501.3,372.9M1493.1,363.8L1502.7,371.0M1494.5,361.9L1504.1,369.1M1496.0,360.0L1505.6,367.2M1531.1,400.4L1540.1,408.3M1532.7,398.6L1541.6,406.5M1534.3,396.8L1543.2,404.8M1535.9,395.0L1544.8,403.0M1537.5,393.2L1546.4,401.2M1569.0,436.4L1577.3,445.2M1570.8,434.8L1579.0,443.5M1572.5,433.1L1580.7,441.9M1574.2,431.5L1582.5,440.2M1576.0,429.8L1584.2,438.6M1603.7,475.6L1611.2,485.0M1605.6,474.1L1613.1,483.5M1607.5,472.7L1614.9,482.0M1609.3,471.2L1616.8,480.5M1611.2,469.7L1618.7,479.1M1634.9,517.7L1641.6,527.7M1636.9,516.3L1643.6,526.3M1638.9,515.0L1645.6,525.0M1640.9,513.7L1647.6,523.7M1642.9,512.4L1649.6,522.4M1662.4,562.2L1668.2,572.7M1664.5,561.1L1670.3,571.6M1666.6,559.9L1672.4,570.4M1668.7,558.8L1674.5,569.3M1670.8,557.6L1676.6,568.1M1686.0,609.0L1690.8,619.9M1688.2,608.0L1693.0,619.0M1690.4,607.0L1695.2,618.0M1692.6,606.1L1697.4,617.0M1694.8,605.1L1699.6,616.1M1705.5,657.5L1709.3,668.9M1707.7,656.8L1711.6,668.1M1710.0,656.0L1713.9,667.4M1712.3,655.2L1716.1,666.6M1714.5,654.4L1718.4,665.8M1720.7,707.6L1723.6,719.3M1723.0,707.0L1725.9,718.7M1725.4,706.5L1728.2,718.1M1727.7,705.9L1730.6,717.5M1730.0,705.3L1732.9,717.0M1731.6,758.8L1733.5,770.7M1734.0,758.4L1735.8,770.3M1736.3,758.1L1738.2,769.9M1738.7,757.7L1740.6,769.5M1741.1,757.3L1742.9,769.2M1738.0,810.8L1738.9,822.7M1740.4,810.6L1741.3,822.6M1742.8,810.4L1743.7,822.4M1745.2,810.3L1746.1,822.2M1747.6,810.1L1748.5,822.1M1740.0,863.1L1739.8,875.1M1742.4,863.1L1742.2,875.1M1744.8,863.1L1744.6,875.1M1747.2,863.2L1747.0,875.2M1749.6,863.2L1749.4,875.2M1737.5,915.4L1736.3,927.3M1739.9,915.6L1738.7,927.5M1742.3,915.8L1741.1,927.8M1744.7,916.1L1743.5,928.0M1747.1,916.3L1745.9,928.3M1730.5,967.2L1728.3,979.0M1732.9,967.7L1730.7,979.5M1735.2,968.1L1733.0,979.9M1737.6,968.6L1735.4,980.4M1740.0,969.0L1737.7,980.8M1719.1,1018.3L1715.9,1029.9M1721.4,1019.0L1718.2,1030.5M1723.7,1019.6L1720.5,1031.2M1726.1,1020.3L1722.8,1031.8M1728.4,1020.9L1725.1,1032.5M1703.4,1068.3L1699.2,1079.5M1705.6,1069.1L1701.4,1080.3M1707.9,1069.9L1703.7,1081.2M1710.1,1070.8L1705.9,1082.0M1712.4,1071.6L1708.2,1082.9M1683.4,1116.6L1678.3,1127.5M1685.6,1117.7L1680.4,1128.5M1687.8,1118.7L1682.6,1129.5M1689.9,1119.7L1684.8,1130.6M1692.1,1120.8L1686.9,1131.6M1659.4,1163.1L1653.3,1173.5M1661.4,1164.4L1655.4,1174.7M1663.5,1165.6L1657.5,1175.9M1665.6,1166.8L1659.5,1177.1M1667.7,1168.0L1661.6,1178.3M1631.4,1207.4L1624.5,1217.2M1633.4,1208.8L1626.5,1218.6M1635.4,1210.2L1628.4,1220.0M1637.3,1211.6L1630.4,1221.4M1639.3,1213.0L1632.3,1222.8M1599.8,1249.1L1592.1,1258.3M1601.6,1250.7L1593.9,1259.8M1603.5,1252.2L1595.7,1261.4M1605.3,1253.8L1597.6,1262.9M1607.1,1255.3L1599.4,1264.5M1564.7,1288.0L1556.2,1296.4M1566.4,1289.7L1557.9,1298.1M1568.1,1291.4L1559.6,1299.8M1569.8,1293.1L1561.3,1301.5M1571.5,1294.8L1563.0,1303.2M1526.4,1323.7L1517.2,1331.4M1528.0,1325.5L1518.8,1333.2M1529.5,1327.3L1520.3,1335.0M1531.1,1329.2L1521.9,1336.9M1532.6,1331.0L1523.4,1338.7M1485.2,1355.9L1475.4,1362.8M1486.6,1357.9L1476.8,1364.8M1488.0,1359.9L1478.2,1366.8M1489.4,1361.8L1479.5,1368.7M1490.7,1363.8L1480.9,1370.7M1441.4,1384.6L1431.0,1390.6M1442.6,1386.6L1432.2,1392.7M1443.8,1388.7L1433.4,1394.7M1445.0,1390.8L1434.6,1396.8M1446.2,1392.9L1435.8,1398.9M1369.8,250.4L1380.9,254.9M1370.7,248.2L1381.8,252.7M1371.6,246.0L1382.7,250.5M1372.5,243.8L1383.6,248.3M1373.4,241.5L1384.5,246.0M1417.7,271.5L1428.4,276.9M1418.8,269.4L1429.5,274.8M1419.9,267.3L1430.6,272.6M1420.9,265.1L1431.7,270.5M1422.0,263.0L1432.7,268.3M1463.8,296.4L1474.1,302.6M1465.0,294.3L1475.3,300.6M1466.3,292.3L1476.5,298.5M1467.5,290.2L1477.8,296.4M1468.8,288.2L1479.0,294.4M1507.7,324.9L1517.5,331.9M1509.1,322.9L1518.9,329.9M1510.5,321.0L1520.3,328.0M1511.9,319.0L1521.7,326.0M1513.3,317.1L1523.1,324.1M1549.3,356.7L1558.4,364.5M1550.8,354.9L1560.0,362.7M1552.4,353.1L1561.5,360.8M1553.9,351.2L1563.1,359.0M1555.5,349.4L1564.6,357.2M1588.1,391.8L1596.6,400.3M1589.8,390.1L1598.3,398.6M1591.5,388.4L1600.0,396.9M1593.2,386.7L1601.7,395.2M1594.9,385.0L1603.4,393.5M1624.0,429.9L1631.8,439.0M1625.9,428.3L1633.6,437.4M1627.7,426.8L1635.5,435.9M1629.5,425.2L1637.3,434.3M1631.3,423.6L1639.1,432.8M1656.8,470.7L1663.8,480.4M1658.7,469.3L1665.8,479.0M1660.7,467.9L1667.7,477.6M1662.6,466.5L1669.7,476.2M1664.6,465.1L1671.6,474.8M1686.2,514.0L1692.4,524.3M1688.2,512.8L1694.5,523.0M1690.3,511.5L1696.5,521.8M1692.3,510.3L1698.6,520.5M1694.4,509.0L1700.6,519.3M1712.1,559.5L1717.5,570.2M1714.2,558.5L1719.6,569.2M1716.3,557.4L1721.7,568.1M1718.5,556.3L1723.9,567.0M1720.6,555.2L1726.0,565.9M1734.2,607.0L1738.7,618.1M1736.4,606.1L1740.9,617.2M1738.6,605.2L1743.2,616.3M1740.9,604.3L1745.4,615.4M1743.1,603.3L1747.6,614.5M1752.5,656.0L1756.1,667.5M1754.7,655.3L1758.4,666.7M1757.0,654.6L1760.7,666.0M1759.3,653.9L1763.0,665.3M1761.6,653.1L1765.2,664.6M1766.8,706.4L1769.5,718.1M1769.1,705.8L1771.8,717.5M1771.4,705.3L1774.1,717.0M1773.8,704.8L1776.5,716.5M1776.1,704.2L1778.8,715.9M1777.0,757.7L1778.8,769.6M1779.4,757.4L1781.1,769.2M1781.7,757.0L1783.5,768.9M1784.1,756.7L1785.9,768.5M1786.5,756.3L1788.3,768.2M1783.1,809.7L1783.9,821.7M1785.5,809.6L1786.3,821.5M1787.9,809.4L1788.7,821.4M1790.3,809.2L1791.1,821.2M1792.7,809.1L1793.5,821.0M1785.0,862.0L1784.9,874.0M1787.4,862.1L1787.3,874.1M1789.8,862.1L1789.7,874.1M1792.2,862.1L1792.1,874.1M1794.6,862.1L1794.5,874.1M1782.8,914.3L1781.7,926.3M1785.2,914.5L1784.1,926.5M1787.6,914.8L1786.4,926.7M1789.9,915.0L1788.8,926.9M1792.3,915.2L1791.2,927.2M1776.3,966.3L1774.3,978.1M1778.7,966.7L1776.7,978.5M1781.1,967.1L1779.0,978.9M1783.4,967.5L1781.4,979.3M1785.8,967.9L1783.8,979.7M1765.8,1017.6L1762.8,1029.2M1768.1,1018.2L1765.1,1029.8M1770.4,1018.8L1767.5,1030.4M1772.8,1019.4L1769.8,1031.0M1775.1,1019.9L1772.1,1031.6M1751.2,1067.8L1747.3,1079.2M1753.5,1068.6L1749.5,1079.9M1755.7,1069.4L1751.8,1080.7M1758.0,1070.2L1754.1,1081.5M1760.3,1071.0L1756.3,1082.3M1732.6,1116.8L1727.8,1127.8M1734.8,1117.7L1730.0,1128.7M1737.0,1118.7L1732.2,1129.7M1739.2,1119.6L1734.4,1130.6M1741.4,1120.6L1736.6,1131.6M1710.2,1164.1L1704.5,1174.6M1712.3,1165.2L1706.6,1175.8M1714.4,1166.3L1708.7,1176.9M1716.5,1167.5L1710.9,1178.0M1718.6,1168.6L1713.0,1179.2M1684.0,1209.4L1677.6,1219.5M1686.1,1210.7L1679.6,1220.8M1688.1,1212.0L1681.6,1222.1M1690.1,1213.3L1683.6,1223.4M1692.1,1214.6L1685.6,1224.7M1654.4,1252.5L1647.1,1262.1M1656.3,1254.0L1649.0,1263.5M1658.2,1255.5L1650.9,1265.0M1660.1,1256.9L1652.8,1266.5M1662.0,1258.4L1654.7,1267.9M1621.4,1293.2L1613.3,1302.1M1623.1,1294.8L1615.1,1303.7M1624.9,1296.4L1616.9,1305.3M1626.7,1298.0L1618.7,1306.9M1628.5,1299.6L1620.5,1308.5M1585.2,1331.0L1576.5,1339.3M1586.8,1332.8L1578.1,1341.0M1588.5,1334.5L1579.8,1342.8M1590.1,1336.2L1581.4,1344.5M1591.8,1338.0L1583.1,1346.2M1546.1,1365.9L1536.8,1373.4M1547.6,1367.7L1538.3,1375.3M1549.1,1369.6L1539.8,1377.1M1550.6,1371.5L1541.3,1379.0M1552.2,1373.3L1542.8,1380.9M1504.4,1397.5L1494.5,1404.2M1505.8,1399.5L1495.8,1406.2M1507.1,1401.4L1497.2,1408.2M1508.5,1403.4L1498.6,1410.2M1509.8,1405.4L1499.9,1412.2M1460.3,1425.7L1449.9,1431.6M1461.5,1427.7L1451.1,1433.7M1462.7,1429.8L1452.3,1435.8M1463.9,1431.9L1453.4,1437.9M1465.1,1434.0L1454.6,1439.9M1386.7,208.7L1397.8,213.2M1387.6,206.5L1398.7,211.0M1388.5,204.3L1399.6,208.8M1389.4,202.0L1400.5,206.5M1390.3,199.8L1401.4,204.3M1434.6,229.7L1445.4,235.0M1435.7,227.6L1446.4,232.9M1436.7,225.4L1447.5,230.7M1437.8,223.3L1448.6,228.6M1438.9,221.1L1449.6,226.4M1480.9,254.3L1491.2,260.4M1482.1,252.2L1492.4,258.3M1483.3,250.1L1493.6,256.2M1484.5,248.1L1494.9,254.2M1485.7,246.0L1496.1,252.1M1525.1,282.2L1535.0,289.0M1526.5,280.2L1536.4,287.1M1527.9,278.2L1537.7,285.1M1529.3,276.3L1539.1,283.1M1530.6,274.3L1540.5,281.1M1567.2,313.3L1576.5,320.9M1568.7,311.4L1578.0,319.0M1570.3,309.6L1579.6,317.2M1571.8,307.7L1581.1,315.3M1573.3,305.9L1582.6,313.4M1606.9,347.5L1615.6,355.8M1608.5,345.8L1617.2,354.0M1610.2,344.0L1618.9,352.3M1611.8,342.3L1620.5,350.5M1613.5,340.5L1622.2,348.8M1643.8,384.6L1651.9,393.5M1645.6,383.0L1653.7,391.8M1647.4,381.4L1655.4,390.2M1649.1,379.7L1657.2,388.6M1650.9,378.1L1659.0,387.0M1677.9,424.3L1685.3,433.8M1679.8,422.8L1687.2,432.3M1681.7,421.4L1689.1,430.8M1683.6,419.9L1691.0,429.3M1685.5,418.4L1692.9,427.9M1708.9,466.5L1715.6,476.5M1710.9,465.1L1717.6,475.1M1712.9,463.8L1719.6,473.8M1714.9,462.5L1721.6,472.5M1716.9,461.1L1723.6,471.1M1736.7,510.8L1742.6,521.3M1738.8,509.7L1744.7,520.1M1740.9,508.5L1746.8,518.9M1743.0,507.3L1748.9,517.8M1745.1,506.1L1751.0,516.6M1761.1,557.2L1766.2,568.0M1763.3,556.1L1768.4,567.0M1765.5,555.1L1770.6,566.0M1767.6,554.1L1772.7,565.0M1769.8,553.1L1774.9,563.9M1782.0,605.2L1786.3,616.4M1784.2,604.3L1788.5,615.5M1786.5,603.5L1790.8,614.7M1788.7,602.6L1793.0,613.8M1791.0,601.7L1795.2,613.0M1799.2,654.6L1802.6,666.1M1801.5,653.9L1804.9,665.4M1803.8,653.2L1807.2,664.7M1806.1,652.5L1809.5,664.0M1808.4,651.9L1811.8,663.4M1812.7,705.2L1815.2,716.9M1815.0,704.7L1817.6,716.4M1817.4,704.2L1819.9,715.9M1819.7,703.7L1822.3,715.4M1822.1,703.1L1824.6,714.9M1822.4,756.6L1824.0,768.5M1824.7,756.3L1826.4,768.2M1827.1,756.0L1828.8,767.9M1829.5,755.6L1831.2,767.5M1831.9,755.3L1833.5,767.2M1828.1,808.7L1828.9,820.6M1830.5,808.5L1831.3,820.5M1832.9,808.4L1833.7,820.3M1835.3,808.2L1836.1,820.2M1837.7,808.0L1838.5,820.0M1830.0,861.0L1829.9,873.0M1832.4,861.0L1832.3,873.0M1834.8,861.0L1834.7,873.0M1837.2,861.1L1837.1,873.1M1839.6,861.1L1839.5,873.1M1828.0,913.3L1827.0,925.2M1830.4,913.5L1829.4,925.5M1832.8,913.7L1831.8,925.7M1835.2,913.9L1834.2,925.9M1837.6,914.1L1836.5,926.1M1822.1,965.3L1820.2,977.2M1824.4,965.7L1822.5,977.5M1826.8,966.1L1824.9,977.9M1829.2,966.4L1827.3,978.3M1831.5,966.8L1829.6,978.7M1812.3,1016.7L1809.5,1028.4M1814.6,1017.3L1811.8,1029.0M1816.9,1017.8L1814.1,1029.5M1819.3,1018.4L1816.5,1030.1M1821.6,1019.0L1818.8,1030.6M1798.6,1067.3L1795.0,1078.7M1800.9,1068.0L1797.3,1079.4M1803.2,1068.7L1799.6,1080.2M1805.5,1069.5L1801.8,1080.9M1807.8,1070.2L1804.1,1081.6M1781.3,1116.7L1776.8,1127.8M1783.5,1117.6L1779.0,1128.7M1785.7,1118.5L1781.2,1129.6M1788.0,1119.4L1783.5,1130.5M1790.2,1120.3L1785.7,1131.4M1760.3,1164.6L1755.0,1175.4M1762.4,1165.7L1757.1,1176.4M1764.6,1166.7L1759.3,1177.5M1766.7,1167.8L1761.4,1178.6M1768.9,1168.9L1763.6,1179.6M1735.7,1210.9L1729.6,1221.2M1737.8,1212.1L1731.7,1222.4M1739.9,1213.3L1733.8,1223.6M1741.9,1214.5L1735.8,1224.9M1744.0,1215.7L1737.9,1226.1M1707.8,1255.1L1701.0,1265.0M1709.8,1256.5L1702.9,1266.4M1711.8,1257.9L1704.9,1267.7M1713.7,1259.3L1706.9,1269.1M1715.7,1260.6L1708.9,1270.5M1676.7,1297.2L1669.1,1306.5M1678.6,1298.7L1671.0,1308.0M1680.4,1300.3L1672.8,1309.6M1682.3,1301.8L1674.7,1311.1M1684.1,1303.3L1676.6,1312.6M1642.5,1336.9L1634.2,1345.6M1644.2,1338.5L1636.0,1347.2M1646.0,1340.2L1637.7,1348.9M1647.7,1341.8L1639.5,1350.5M1649.5,1343.5L1641.2,1352.2M1605.4,1373.8L1596.5,1381.9M1607.0,1375.6L1598.2,1383.7M1608.6,1377.4L1599.8,1385.4M1610.3,1379.1L1601.4,1387.2M1611.9,1380.9L1603.0,1389.0M1565.7,1407.9L1556.2,1415.3M1567.2,1409.8L1557.7,1417.2M1568.6,1411.7L1559.2,1419.1M1570.1,1413.6L1560.7,1421.0M1571.6,1415.5L1562.1,1422.9M1523.5,1438.9L1513.5,1445.6M1524.9,1440.9L1514.9,1447.6M1526.2,1442.9L1516.2,1449.6M1527.5,1444.9L1517.5,1451.6M1528.9,1446.9L1518.9,1453.6M1479.2,1466.7L1468.7,1472.6M1480.3,1468.8L1469.9,1474.7M1481.5,1470.9L1471.1,1476.8M1482.7,1473.0L1472.2,1478.9M1483.9,1475.1L1473.4,1481.0M1405.4,162.4L1416.5,166.9M1406.3,160.1L1417.4,164.6M1407.2,157.9L1418.3,162.4M1408.1,155.7L1419.2,160.2M1409.0,153.5L1420.1,158.0M1453.4,183.3L1464.2,188.5M1454.4,181.1L1465.2,186.4M1455.5,179.0L1466.3,184.2M1456.5,176.8L1467.3,182.1M1457.6,174.6L1468.4,179.9M1499.8,207.5L1510.2,213.5M1501.0,205.4L1511.4,211.4M1502.2,203.3L1512.6,209.3M1503.4,201.2L1513.8,207.2M1504.6,199.2L1515.0,205.2M1544.4,234.9L1554.4,241.6M1545.8,232.9L1555.7,239.6M1547.1,230.9L1557.1,237.6M1548.4,228.9L1558.4,235.6M1549.8,226.9L1559.7,233.6M1587.0,265.3L1596.5,272.7M1588.5,263.4L1598.0,270.8M1590.0,261.5L1599.4,268.9M1591.5,259.6L1600.9,267.0M1592.9,257.7L1602.4,265.1M1627.4,298.6L1636.3,306.7M1629.0,296.8L1637.9,304.9M1630.6,295.1L1639.5,303.1M1632.2,293.3L1641.1,301.3M1633.8,291.5L1642.7,299.5M1665.3,334.7L1673.7,343.3M1667.1,333.0L1675.4,341.7M1668.8,331.4L1677.1,340.0M1670.5,329.7L1678.9,338.3M1672.2,328.0L1680.6,336.7M1700.7,373.3L1708.4,382.5M1702.5,371.8L1710.2,381.0M1704.4,370.2L1712.1,379.4M1706.2,368.7L1713.9,377.9M1708.0,367.1L1715.7,376.3M1733.2,414.3L1740.3,424.0M1735.2,412.9L1742.2,422.6M1737.1,411.5L1744.2,421.2M1739.1,410.1L1746.1,419.8M1741.0,408.7L1748.1,418.4M1762.9,457.5L1769.2,467.6M1764.9,456.2L1771.3,466.4M1766.9,454.9L1773.3,465.1M1769.0,453.7L1775.3,463.8M1771.0,452.4L1777.4,462.6M1789.4,502.6L1795.0,513.2M1791.5,501.5L1797.1,512.1M1793.6,500.3L1799.3,510.9M1795.8,499.2L1801.4,509.8M1797.9,498.1L1803.5,508.7M1812.7,549.5L1817.6,560.4M1814.9,548.5L1819.8,559.5M1817.1,547.5L1822.0,558.5M1819.3,546.5L1824.2,557.5M1821.5,545.6L1826.4,556.5M1832.7,597.8L1836.8,609.1M1835.0,597.0L1839.1,608.3M1837.2,596.2L1841.3,607.5M1839.5,595.4L1843.6,606.7M1841.7,594.6L1845.8,605.8M1849.3,647.5L1852.6,659.0M1851.6,646.8L1854.9,658.4M1853.9,646.2L1857.2,657.7M1856.2,645.5L1859.5,657.1M1858.5,644.9L1861.8,656.4M1862.4,698.2L1864.9,709.9M1864.7,697.7L1867.2,709.4M1867.1,697.2L1869.6,708.9M1869.4,696.7L1871.9,708.4M1871.8,696.2L1874.2,707.9M1871.9,749.7L1873.5,761.6M1874.2,749.3L1875.9,761.2M1876.6,749.0L1878.3,760.9M1879.0,748.7L1880.7,760.6M1881.4,748.3L1883.0,760.2M1877.8,801.7L1878.6,813.7M1880.1,801.5L1881.0,813.5M1882.5,801.4L1883.4,813.3M1884.9,801.2L1885.8,813.2M1887.3,801.0L1888.2,813.0M1880.0,854.0L1880.0,866.0M1882.4,854.0L1882.4,866.0M1884.8,854.0L1884.8,866.0M1887.2,854.0L1887.2,866.0M1889.6,854.0L1889.6,866.0M1878.6,906.3L1877.8,918.3M1881.0,906.5L1880.1,918.5M1883.4,906.7L1882.5,918.6M1885.8,906.8L1884.9,918.8M1888.2,907.0L1887.3,919.0M1873.5,958.4L1871.9,970.3M1875.9,958.8L1874.2,970.7M1878.3,959.1L1876.6,971.0M1880.7,959.4L1879.0,971.3M1883.0,959.8L1881.4,971.7M1864.9,1010.1L1862.4,1021.8M1867.2,1010.6L1864.7,1022.3M1869.6,1011.1L1867.1,1022.8M1871.9,1011.6L1869.4,1023.3M1874.2,1012.1L1871.8,1023.8M1852.6,1061.0L1849.3,1072.5M1854.9,1061.6L1851.6,1073.2M1857.2,1062.3L1853.9,1073.8M1859.5,1062.9L1856.2,1074.5M1861.8,1063.6L1858.5,1075.1M1836.8,1110.9L1832.7,1122.2M1839.1,1111.7L1835.0,1123.0M1841.3,1112.5L1837.2,1123.8M1843.6,1113.3L1839.5,1124.6M1845.8,1114.2L1841.7,1125.4M1817.6,1159.6L1812.7,1170.5M1819.8,1160.5L1814.9,1171.5M1822.0,1161.5L1817.1,1172.5M1824.2,1162.5L1819.3,1173.5M1826.4,1163.5L1821.5,1174.4M1795.0,1206.8L1789.4,1217.4M1797.1,1207.9L1791.5,1218.5M1799.3,1209.1L1793.6,1219.7M1801.4,1210.2L1795.8,1220.8M1803.5,1211.3L1797.9,1221.9M1769.2,1252.4L1762.9,1262.5M1771.3,1253.6L1764.9,1263.8M1773.3,1254.9L1766.9,1265.1M1775.3,1256.2L1769.0,1266.3M1777.4,1257.4L1771.0,1267.6M1740.3,1296.0L1733.2,1305.7M1742.2,1297.4L1735.2,1307.1M1744.2,1298.8L1737.1,1308.5M1746.1,1300.2L1739.1,1309.9M1748.1,1301.6L1741.0,1311.3M1708.4,1337.5L1700.7,1346.7M1710.2,1339.0L1702.5,1348.2M1712.1,1340.6L1704.4,1349.8M1713.9,1342.1L1706.2,1351.3M1715.7,1343.7L1708.0,1352.9M1673.7,1376.7L1665.3,1385.3M1675.4,1378.3L1667.1,1387.0M1677.1,1380.0L1668.8,1388.6M1678.9,1381.7L1670.5,1390.3M1680.6,1383.3L1672.2,1392.0M1636.3,1413.3L1627.4,1421.4M1637.9,1415.1L1629.0,1423.2M1639.5,1416.9L1630.6,1424.9M1641.1,1418.7L1632.2,1426.7M1642.7,1420.5L1633.8,1428.5M1596.5,1447.3L1587.0,1454.7M1598.0,1449.2L1588.5,1456.6M1599.4,1451.1L1590.0,1458.5M1600.9,1453.0L1591.5,1460.4M1602.4,1454.9L1592.9,1462.3M1554.4,1478.4L1544.4,1485.1M1555.7,1480.4L1545.8,1487.1M1557.1,1482.4L1547.1,1489.1M1558.4,1484.4L1548.4,1491.1M1559.7,1486.4L1549.8,1493.1M1510.2,1506.5L1499.8,1512.5M1511.4,1508.6L1501.0,1514.6M1512.6,1510.7L1502.2,1516.7M1513.8,1512.8L1503.4,1518.8M1515.0,1514.8L1504.6,1520.8" fill="none" stroke="#d8d8d8" stroke-width="0.9"/><path d="M1544.1,599.1L1837.1,309.1M1545.9,600.9L1838.9,310.9M1559.3,678.9L1917.3,448.9M1560.7,681.1L1918.7,451.1M1584.5,788.8L1924.5,638.8M1585.5,791.2L1925.5,641.2M1587.8,868.7L1879.8,828.7M1588.2,871.3L1880.2,831.3M1570.2,948.7L1800.2,988.7M1569.8,951.3L1799.8,991.3M1530.5,1008.8L1740.5,1098.8M1529.5,1011.2L1739.5,1101.2M1470.7,1060.9L1640.7,1178.9M1469.3,1063.1L1639.3,1181.1" fill="none" stroke="#d6d6d6" stroke-width="0.9"/></g>
<path d="M535.0,395.0L540.0,387.1L544.1,380.2L547.3,373.9L550.0,368.1L552.4,362.6L554.7,357.0L557.1,351.2L560.0,345.0L563.2,338.3L566.5,331.5L569.8,324.5L573.1,317.5L576.4,310.5L579.5,303.5L582.4,296.7L585.0,290.0L587.3,283.4L589.3,276.8L591.1,270.2L592.8,263.8L594.4,257.4L596.1,251.3L598.0,245.5L600.0,240.0L601.9,234.7L603.2,229.5L604.5,224.5L605.9,219.8L607.9,215.4L610.7,211.4L614.6,207.9L620.0,205.0L627.1,202.7L635.6,200.9L645.3,199.6L655.8,198.7L666.8,198.1L678.0,197.9L689.2,197.9L700.0,198.0L709.6,198.3L718.0,198.7L725.9,199.4L734.2,200.3L743.8,201.6L755.4,203.3L769.9,205.4L788.0,208.0L810.1,211.3L835.7,215.3L863.9,219.8L894.2,224.6L926.1,229.7L958.7,234.7L991.6,239.5L1024.0,244.0L1057.9,248.3L1094.5,252.7L1132.7,257.0L1171.1,261.2L1208.4,265.3L1243.1,269.2L1274.1,272.8L1300.0,276.0L1321.0,278.8L1338.6,281.3L1353.1,283.5L1364.8,285.5L1373.9,287.3L1381.0,288.9L1386.2,290.5L1390.0,292.0L1392.3,293.4L1392.9,294.8L1391.6,295.9L1388.1,297.0L1382.4,297.9L1374.3,298.8L1363.5,299.4L1350.0,300.0L1332.3,300.4L1310.1,300.6L1284.5,300.6L1256.9,300.5L1228.4,300.4L1200.2,300.2L1173.7,300.1L1150.0,300.0L1128.9,299.9L1109.0,299.6L1090.1,299.3L1071.9,299.1L1054.1,298.9L1036.3,298.9L1018.4,299.3L1000.0,300.0L981.2,300.9L962.5,301.9L943.8,303.0L925.0,304.4L906.2,306.2L887.5,308.4L868.8,311.3L850.0,315.0L830.9,319.5L811.3,324.8L791.6,330.7L771.9,337.2L752.6,344.0L734.0,351.0L716.4,358.0L700.0,365.0L685.0,372.0L671.0,379.1L658.0,386.3L645.6,393.8L633.8,401.3L622.4,409.1L611.2,417.0L600.0,425.0L589.0,433.1L578.4,441.3L568.1,449.6L558.1,458.1L548.4,466.8L538.8,475.9L529.4,485.2L520.0,495.0L510.4,505.8L500.6,517.9L490.8,530.8L481.2,543.7L472.1,556.2L463.8,567.6L456.3,577.4L450.0,585.0L445.4,590.4L442.6,594.3L441.0,596.8L439.9,598.1L438.9,598.4L437.3,598.1L434.5,597.2L430.0,596.0L423.1,594.3L414.2,591.7L403.9,588.4L393.2,584.5L382.7,580.1L373.4,575.3L365.8,570.2L361.0,565.0L358.8,559.1L358.6,552.3L360.0,544.9L362.6,537.3L366.0,529.8L370.0,522.9L374.1,516.8L378.0,512.0L382.0,508.6L386.6,506.3L391.6,504.8L396.9,503.9L402.6,503.3L408.4,502.6L414.2,501.6L420.0,500.0L425.8,498.3L431.6,497.1L437.5,495.9L443.6,494.6L449.8,492.6L456.3,489.8L463.0,485.7L470.0,480.0L477.7,472.2L486.1,462.5L495.0,451.3L504.1,439.4L512.9,427.2L521.2,415.3L528.7,404.4Z" fill="url(#hD2)" stroke="none"/>
<path d="M535.0,395.0L536.9,391.2L539.5,386.1L542.5,380.1L545.9,373.4L549.5,366.3L553.2,359.0L556.7,351.8L560.0,345.0L563.2,338.3L566.5,331.5L569.8,324.5L573.1,317.5L576.4,310.5L579.5,303.5L582.4,296.7L585.0,290.0L587.5,283.2L589.8,276.0L592.0,268.7L594.1,261.6L595.9,254.9L597.5,248.9L598.9,243.8L600.0,240.0" fill="none" stroke="#d6d6d6" stroke-width="1"/><path d="M788,208L1024,244L1300,276L1390,292" fill="none" stroke="#d6d6d6" stroke-width="1"/>
<path d="M410.0,470.0L410.3,462.4L412.3,452.4L415.7,440.8L420.0,428.1L424.9,415.1L430.2,402.3L435.3,390.4L440.0,380.0L444.5,370.9L449.1,362.3L453.8,354.2L458.8,346.6L463.8,339.4L469.1,332.5L474.5,326.1L480.0,320.0L485.9,314.2L492.3,308.6L498.9,303.3L505.6,298.4L512.3,294.1L518.7,290.4L524.6,287.3L530.0,285.0L534.6,283.6L538.7,283.1L542.3,283.3L545.6,284.1L548.9,285.3L552.3,286.8L555.9,288.4L560.0,290.0L564.7,291.7L569.9,293.8L575.4,296.2L580.9,298.8L586.4,301.5L591.5,304.3L596.1,307.2L600.0,310.0L603.2,312.9L605.9,315.9L608.2,318.9L610.2,322.1L611.8,325.3L613.1,328.5L614.2,331.7L615.0,335.0L615.6,338.3L615.9,341.8L615.9,345.3L615.7,348.8L615.2,352.3L614.4,355.7L613.3,358.9L612.0,362.0L610.4,364.9L608.5,367.7L606.3,370.5L603.8,373.1L601.1,375.5L598.2,377.9L595.2,380.0L592.0,382.0L588.5,383.7L584.8,385.0L580.7,386.0L576.5,387.0L572.2,388.0L568.0,389.0L563.9,390.3L560.0,392.0L556.3,393.9L552.5,396.0L548.9,398.2L545.2,400.6L541.7,403.1L538.3,405.9L535.1,408.8L532.0,412.0L529.2,415.4L526.7,418.9L524.4,422.7L522.2,426.6L520.0,430.8L517.7,435.2L515.0,440.0L512.0,445.0L508.6,450.5L504.8,456.7L500.8,463.2L496.6,469.9L492.4,476.6L488.1,483.2L484.0,489.4L480.0,495.0L476.1,500.3L472.0,505.6L467.9,510.8L463.9,515.6L460.1,520.1L456.4,524.1L453.0,527.4L450.0,530.0L447.3,531.8L444.9,532.8L442.7,533.2L440.8,533.1L439.1,532.6L437.6,531.9L436.2,531.0L435.0,530.0L433.9,529.0L432.9,527.8L432.1,526.4L431.4,524.7L431.1,522.7L431.0,520.5L431.3,517.9L432.0,515.0L433.6,511.4L436.4,507.1L439.8,502.2L443.3,497.2L446.6,492.2L449.1,487.5L450.4,483.3L450.0,480.0L447.3,478.1L442.4,477.6L436.2,477.9L429.2,478.4L422.4,478.5L416.4,477.5L412.0,474.9Z" fill="#fff" stroke="#c8c8c8" stroke-width="1.6"/>
<path d="M410.0,470.0L410.3,462.4L412.3,452.4L415.7,440.8L420.0,428.1L424.9,415.1L430.2,402.3L435.3,390.4L440.0,380.0L444.5,370.9L449.1,362.3L453.8,354.2L458.8,346.6L463.8,339.4L469.1,332.5L474.5,326.1L480.0,320.0L485.9,314.2L492.3,308.6L498.9,303.3L505.6,298.4L512.3,294.1L518.7,290.4L524.6,287.3L530.0,285.0L534.6,283.6L538.7,283.1L542.3,283.3L545.6,284.1L548.9,285.3L552.3,286.8L555.9,288.4L560.0,290.0L564.7,291.7L569.9,293.8L575.4,296.2L580.9,298.8L586.4,301.5L591.5,304.3L596.1,307.2L600.0,310.0L603.2,312.9L605.9,315.9L608.2,318.9L610.2,322.1L611.8,325.3L613.1,328.5L614.2,331.7L615.0,335.0L615.6,338.3L615.9,341.8L615.9,345.3L615.7,348.8L615.2,352.3L614.4,355.7L613.3,358.9L612.0,362.0L610.4,364.9L608.5,367.7L606.3,370.5L603.8,373.1L601.1,375.5L598.2,377.9L595.2,380.0L592.0,382.0L588.5,383.7L584.8,385.0L580.7,386.0L576.5,387.0L572.2,388.0L568.0,389.0L563.9,390.3L560.0,392.0L556.3,393.9L552.5,396.0L548.9,398.2L545.2,400.6L541.7,403.1L538.3,405.9L535.1,408.8L532.0,412.0L529.2,415.4L526.7,418.9L524.4,422.7L522.2,426.6L520.0,430.8L517.7,435.2L515.0,440.0L512.0,445.0L508.6,450.5L504.8,456.7L500.8,463.2L496.6,469.9L492.4,476.6L488.1,483.2L484.0,489.4L480.0,495.0L476.1,500.3L472.0,505.6L467.9,510.8L463.9,515.6L460.1,520.1L456.4,524.1L453.0,527.4L450.0,530.0L447.3,531.8L444.9,532.8L442.7,533.2L440.8,533.1L439.1,532.6L437.6,531.9L436.2,531.0L435.0,530.0L433.9,529.0L432.9,527.8L432.1,526.4L431.4,524.7L431.1,522.7L431.0,520.5L431.3,517.9L432.0,515.0L433.6,511.4L436.4,507.1L439.8,502.2L443.3,497.2L446.6,492.2L449.1,487.5L450.4,483.3L450.0,480.0L447.3,478.1L442.4,477.6L436.2,477.9L429.2,478.4L422.4,478.5L416.4,477.5L412.0,474.9Z" fill="url(#dots)" stroke="none"/>
<path d="M487,285L525,298L445,470L407,455Z" fill="#fff" stroke="#d6d6d6" stroke-width="0.9"/>
<path d="M490,292L518,302L443,462L414,451Z" fill="url(#hD)" stroke="#c8c8c8" stroke-width="0.9" stroke-dasharray="5 2"/>
<path d="M560.0,232.0L562.9,228.9L566.6,225.7L571.0,222.4L576.1,219.1L581.7,215.9L587.6,212.9L593.8,210.2L600.0,208.0L606.4,206.1L613.1,204.6L620.2,203.3L627.5,202.2L635.2,201.3L643.1,200.7L651.4,200.3L660.0,200.0L669.2,199.9L679.1,200.1L689.4,200.5L700.0,201.1L710.6,201.8L720.9,202.7L730.8,203.8L740.0,205.0L748.6,206.3L757.0,207.8L765.1,209.5L772.8,211.2L780.2,213.2L787.2,215.3L793.8,217.6L800.0,220.0L805.8,222.6L811.2,225.4L816.3,228.4L820.9,231.6L825.2,234.8L828.9,238.2L832.2,241.6L835.0,245.0L837.2,248.6L838.9,252.5L840.2,256.5L840.9,260.5L841.3,264.5L841.2,268.3L840.8,271.8L840.0,275.0L838.8,277.8L837.2,280.5L835.2,282.9L832.8,285.2L830.1,287.2L827.0,289.0L823.6,290.6L820.0,292.0L815.9,293.2L811.3,294.1L806.2,294.9L800.9,295.4L795.5,295.7L790.1,295.7L784.9,295.5L780.0,295.0L775.4,294.1L770.9,292.8L766.5,291.2L762.2,289.3L757.9,287.4L753.6,285.4L749.3,283.6L745.0,282.0L740.7,280.5L736.4,279.1L732.1,277.6L727.8,276.2L723.5,274.9L719.1,273.7L714.6,272.8L710.0,272.0L705.2,271.5L700.4,271.1L695.4,270.9L690.3,270.9L685.2,271.0L680.1,271.2L675.0,271.5L670.0,272.0L665.0,272.7L660.0,273.7L655.0,275.0L650.0,276.3L645.0,277.6L640.0,278.7L635.0,279.6L630.0,280.0L624.9,280.1L619.7,280.0L614.5,279.7L609.2,279.2L604.1,278.5L599.2,277.6L594.4,276.4L590.0,275.0L585.7,273.2L581.5,271.1L577.5,268.7L573.6,266.1L570.1,263.4L566.9,260.6L564.2,257.7L562.0,255.0L560.2,252.3L558.7,249.5L557.5,246.6L556.8,243.8L556.5,240.8L556.9,237.9L558.1,234.9Z" fill="#fff" stroke="#c8c8c8" stroke-width="1.8"/>
<path d="M560.0,232.0L562.9,228.9L566.6,225.7L571.0,222.4L576.1,219.1L581.7,215.9L587.6,212.9L593.8,210.2L600.0,208.0L606.4,206.1L613.1,204.6L620.2,203.3L627.5,202.2L635.2,201.3L643.1,200.7L651.4,200.3L660.0,200.0L669.2,199.9L679.1,200.1L689.4,200.5L700.0,201.1L710.6,201.8L720.9,202.7L730.8,203.8L740.0,205.0L748.6,206.3L757.0,207.8L765.1,209.5L772.8,211.2L780.2,213.2L787.2,215.3L793.8,217.6L800.0,220.0L805.8,222.6L811.2,225.4L816.3,228.4L820.9,231.6L825.2,234.8L828.9,238.2L832.2,241.6L835.0,245.0L837.2,248.6L838.9,252.5L840.2,256.5L840.9,260.5L841.3,264.5L841.2,268.3L840.8,271.8L840.0,275.0L838.8,277.8L837.2,280.5L835.2,282.9L832.8,285.2L830.1,287.2L827.0,289.0L823.6,290.6L820.0,292.0L815.9,293.2L811.3,294.1L806.2,294.9L800.9,295.4L795.5,295.7L790.1,295.7L784.9,295.5L780.0,295.0L775.4,294.1L770.9,292.8L766.5,291.2L762.2,289.3L757.9,287.4L753.6,285.4L749.3,283.6L745.0,282.0L740.7,280.5L736.4,279.1L732.1,277.6L727.8,276.2L723.5,274.9L719.1,273.7L714.6,272.8L710.0,272.0L705.2,271.5L700.4,271.1L695.4,270.9L690.3,270.9L685.2,271.0L680.1,271.2L675.0,271.5L670.0,272.0L665.0,272.7L660.0,273.7L655.0,275.0L650.0,276.3L645.0,277.6L640.0,278.7L635.0,279.6L630.0,280.0L624.9,280.1L619.7,280.0L614.5,279.7L609.2,279.2L604.1,278.5L599.2,277.6L594.4,276.4L590.0,275.0L585.7,273.2L581.5,271.1L577.5,268.7L573.6,266.1L570.1,263.4L566.9,260.6L564.2,257.7L562.0,255.0L560.2,252.3L558.7,249.5L557.5,246.6L556.8,243.8L556.5,240.8L556.9,237.9L558.1,234.9Z" fill="url(#stip)" stroke="none"/>
<path d="M890.0,228.0L892.8,226.8L896.6,225.6L901.3,224.5L906.6,223.5L912.3,222.7L918.2,222.2L924.2,221.9L930.0,222.0L935.8,222.5L941.8,223.3L948.0,224.4L954.4,225.8L960.8,227.3L967.3,228.9L973.7,230.5L980.0,232.0L986.5,233.5L993.2,235.0L1000.1,236.7L1006.9,238.3L1013.4,240.0L1019.6,241.7L1025.2,243.4L1030.0,245.0L1034.1,246.6L1037.8,248.3L1041.0,250.0L1043.8,251.7L1046.0,253.3L1047.8,255.0L1049.1,256.5L1050.0,258.0L1050.4,259.4L1050.3,260.9L1049.8,262.2L1048.8,263.6L1047.3,264.8L1045.3,266.0L1042.9,267.1L1040.0,268.0L1036.4,268.8L1032.1,269.6L1027.2,270.3L1021.9,270.9L1016.3,271.3L1010.7,271.7L1005.2,271.9L1000.0,272.0L995.0,271.9L990.0,271.8L985.0,271.5L980.0,271.1L975.0,270.5L970.0,269.8L965.0,269.0L960.0,268.0L954.9,266.8L949.6,265.4L944.3,263.8L939.1,262.1L933.9,260.3L928.9,258.5L924.3,256.7L920.0,255.0L916.0,253.4L912.2,251.8L908.6,250.2L905.3,248.6L902.3,246.9L899.5,245.3L897.1,243.7L895.0,242.0L893.1,240.2L891.3,238.4L889.7,236.5L888.4,234.6L887.7,232.7L887.6,231.0L888.3,229.4Z" fill="#fff" stroke="#c8c8c8" stroke-width="1.8"/>
<path d="M890.0,228.0L892.8,226.8L896.6,225.6L901.3,224.5L906.6,223.5L912.3,222.7L918.2,222.2L924.2,221.9L930.0,222.0L935.8,222.5L941.8,223.3L948.0,224.4L954.4,225.8L960.8,227.3L967.3,228.9L973.7,230.5L980.0,232.0L986.5,233.5L993.2,235.0L1000.1,236.7L1006.9,238.3L1013.4,240.0L1019.6,241.7L1025.2,243.4L1030.0,245.0L1034.1,246.6L1037.8,248.3L1041.0,250.0L1043.8,251.7L1046.0,253.3L1047.8,255.0L1049.1,256.5L1050.0,258.0L1050.4,259.4L1050.3,260.9L1049.8,262.2L1048.8,263.6L1047.3,264.8L1045.3,266.0L1042.9,267.1L1040.0,268.0L1036.4,268.8L1032.1,269.6L1027.2,270.3L1021.9,270.9L1016.3,271.3L1010.7,271.7L1005.2,271.9L1000.0,272.0L995.0,271.9L990.0,271.8L985.0,271.5L980.0,271.1L975.0,270.5L970.0,269.8L965.0,269.0L960.0,268.0L954.9,266.8L949.6,265.4L944.3,263.8L939.1,262.1L933.9,260.3L928.9,258.5L924.3,256.7L920.0,255.0L916.0,253.4L912.2,251.8L908.6,250.2L905.3,248.6L902.3,246.9L899.5,245.3L897.1,243.7L895.0,242.0L893.1,240.2L891.3,238.4L889.7,236.5L888.4,234.6L887.7,232.7L887.6,231.0L888.3,229.4Z" fill="url(#stip)" stroke="none"/>
<path d="M358,565L364,567L331,682L325,680Z" fill="#d0d0d0" stroke="none"/>
<path d="M322.0,708.0L318.2,709.9L316.2,711.9L315.4,714.0L315.5,716.4L316.0,719.2L316.6,722.3L316.7,725.9L316.0,730.0L314.7,734.9L313.1,740.5L311.5,746.7L309.7,753.3L307.8,760.0L305.9,766.7L303.9,773.1L302.0,779.0L300.0,784.5L298.0,789.7L295.8,794.8L293.7,799.8L291.5,804.8L289.3,809.7L287.1,814.8L285.0,820.0L282.8,825.3L280.7,830.7L278.4,836.2L276.2,841.7L274.1,847.2L272.0,852.8L269.9,858.4L268.0,864.0L266.1,869.7L264.3,875.5L262.6,881.4L260.9,887.3L259.3,893.2L257.7,898.9L256.3,904.6L255.0,910.0L253.8,915.1L252.8,920.0L251.8,924.6L250.9,929.2L250.1,933.8L249.4,938.6L248.7,943.6L248.0,949.0L247.2,954.8L246.4,960.9L245.5,967.2L244.7,973.8L244.0,980.3L243.7,987.0L243.6,993.5L244.0,1000.0L244.8,1006.5L245.9,1013.0L247.2,1019.6L248.9,1026.2L250.8,1032.7L253.0,1039.0L255.4,1045.2L258.0,1051.0L260.9,1056.6L264.0,1062.0L267.3,1067.2L270.9,1072.2L274.7,1077.1L278.9,1081.9L283.3,1086.5L288.0,1091.0L293.0,1095.4L298.2,1099.7L303.7,1103.9L309.5,1107.9L315.6,1111.7L322.0,1115.4L328.8,1118.8L336.0,1122.0L344.2,1125.4L353.6,1129.1L363.7,1132.8L374.0,1136.2L383.9,1139.0L392.9,1140.8L400.4,1141.2L406.0,1140.0L408.5,1136.4L408.2,1130.3L406.0,1122.6L403.1,1114.1L400.5,1105.5L399.4,1097.6L400.9,1091.2L406.0,1087.0L415.6,1085.1L428.9,1084.8L444.8,1085.8L462.2,1087.5L479.8,1089.7L496.6,1091.9L511.4,1093.8L523.0,1095.0L531.8,1095.9L539.2,1097.1L545.2,1098.3L550.1,1099.4L553.8,1100.1L556.6,1100.2L558.6,1099.6L560.0,1098.0L560.5,1095.2L559.9,1091.2L558.4,1086.4L556.1,1081.1L552.9,1075.5L549.1,1069.9L544.8,1064.6L540.0,1060.0L534.3,1055.9L527.6,1052.2L520.0,1048.6L511.9,1045.1L503.5,1041.6L495.2,1038.0L487.3,1034.2L480.0,1030.0L473.1,1025.5L466.3,1020.7L459.6,1015.7L453.1,1010.6L446.8,1005.4L440.9,1000.2L435.2,995.1L430.0,990.0L425.2,985.1L420.9,980.2L416.8,975.4L413.1,970.6L409.6,965.7L406.3,960.7L403.1,955.5L400.0,950.0L396.9,944.2L394.0,938.2L391.2,932.0L388.6,925.6L386.2,919.2L383.9,912.7L381.9,906.3L380.0,900.0L378.4,893.8L377.0,887.5L375.8,881.2L374.8,875.0L373.9,868.8L373.2,862.5L372.5,856.2L372.0,850.0L371.6,843.8L371.2,837.5L371.1,831.2L371.0,825.0L371.1,818.8L371.2,812.5L371.6,806.2L372.0,800.0L372.6,793.8L373.3,787.5L374.2,781.2L375.2,775.0L376.4,768.8L377.5,762.5L378.8,756.2L380.0,750.0L381.9,743.4L384.6,736.1L387.8,728.7L390.9,721.4L393.3,714.5L394.7,708.4L394.4,703.5L392.0,700.0L386.7,698.1L378.8,697.6L368.9,698.1L358.1,699.5L347.2,701.4L336.9,703.7L328.2,705.9Z" fill="#fff" stroke="#d6d6d6" stroke-width="1"/>
<path d="M322.0,708.0L318.2,709.9L316.2,711.9L315.4,714.0L315.5,716.4L316.0,719.2L316.6,722.3L316.7,725.9L316.0,730.0L314.7,734.9L313.1,740.5L311.5,746.7L309.7,753.3L307.8,760.0L305.9,766.7L303.9,773.1L302.0,779.0L300.0,784.5L298.0,789.7L295.8,794.8L293.7,799.8L291.5,804.8L289.3,809.7L287.1,814.8L285.0,820.0L282.8,825.3L280.7,830.7L278.4,836.2L276.2,841.7L274.1,847.2L272.0,852.8L269.9,858.4L268.0,864.0L266.1,869.7L264.3,875.5L262.6,881.4L260.9,887.3L259.3,893.2L257.7,898.9L256.3,904.6L255.0,910.0L253.8,915.1L252.8,920.0L251.8,924.6L250.9,929.2L250.1,933.8L249.4,938.6L248.7,943.6L248.0,949.0L247.2,954.8L246.4,960.9L245.5,967.2L244.7,973.8L244.0,980.3L243.7,987.0L243.6,993.5L244.0,1000.0L244.8,1006.5L245.9,1013.0L247.2,1019.6L248.9,1026.2L250.8,1032.7L253.0,1039.0L255.4,1045.2L258.0,1051.0L260.9,1056.6L264.0,1062.0L267.3,1067.2L270.9,1072.2L274.7,1077.1L278.9,1081.9L283.3,1086.5L288.0,1091.0L293.0,1095.4L298.2,1099.7L303.7,1103.9L309.5,1107.9L315.6,1111.7L322.0,1115.4L328.8,1118.8L336.0,1122.0L344.2,1125.4L353.6,1129.1L363.7,1132.8L374.0,1136.2L383.9,1139.0L392.9,1140.8L400.4,1141.2L406.0,1140.0L408.5,1136.4L408.2,1130.3L406.0,1122.6L403.1,1114.1L400.5,1105.5L399.4,1097.6L400.9,1091.2L406.0,1087.0L415.6,1085.1L428.9,1084.8L444.8,1085.8L462.2,1087.5L479.8,1089.7L496.6,1091.9L511.4,1093.8L523.0,1095.0L531.8,1095.9L539.2,1097.1L545.2,1098.3L550.1,1099.4L553.8,1100.1L556.6,1100.2L558.6,1099.6L560.0,1098.0L560.5,1095.2L559.9,1091.2L558.4,1086.4L556.1,1081.1L552.9,1075.5L549.1,1069.9L544.8,1064.6L540.0,1060.0L534.3,1055.9L527.6,1052.2L520.0,1048.6L511.9,1045.1L503.5,1041.6L495.2,1038.0L487.3,1034.2L480.0,1030.0L473.1,1025.5L466.3,1020.7L459.6,1015.7L453.1,1010.6L446.8,1005.4L440.9,1000.2L435.2,995.1L430.0,990.0L425.2,985.1L420.9,980.2L416.8,975.4L413.1,970.6L409.6,965.7L406.3,960.7L403.1,955.5L400.0,950.0L396.9,944.2L394.0,938.2L391.2,932.0L388.6,925.6L386.2,919.2L383.9,912.7L381.9,906.3L380.0,900.0L378.4,893.8L377.0,887.5L375.8,881.2L374.8,875.0L373.9,868.8L373.2,862.5L372.5,856.2L372.0,850.0L371.6,843.8L371.2,837.5L371.1,831.2L371.0,825.0L371.1,818.8L371.2,812.5L371.6,806.2L372.0,800.0L372.6,793.8L373.3,787.5L374.2,781.2L375.2,775.0L376.4,768.8L377.5,762.5L378.8,756.2L380.0,750.0L381.9,743.4L384.6,736.1L387.8,728.7L390.9,721.4L393.3,714.5L394.7,708.4L394.4,703.5L392.0,700.0L386.7,698.1L378.8,697.6L368.9,698.1L358.1,699.5L347.2,701.4L336.9,703.7L328.2,705.9Z" fill="url(#stip)" stroke="none"/>
<path d="M322.0,682.0L324.1,680.5L327.0,679.4L330.4,678.7L334.1,678.3L338.1,678.3L342.2,678.6L346.2,679.2L350.0,680.0L353.7,681.3L357.6,683.2L361.5,685.6L365.5,688.2L369.4,690.8L373.2,693.3L376.7,695.4L380.0,697.0L383.2,697.7L386.4,697.6L389.6,697.1L392.5,696.4L395.1,696.0L397.3,696.3L399.0,697.5L400.0,700.0L400.2,704.0L399.6,709.2L398.4,715.3L396.8,722.1L394.9,729.2L393.1,736.4L391.4,743.4L390.0,750.0L388.8,756.2L387.7,762.5L386.5,768.8L385.4,775.0L384.3,781.2L383.4,787.5L382.6,793.8L382.0,800.0L381.6,806.2L381.2,812.5L381.1,818.8L381.0,825.0L381.1,831.2L381.2,837.5L381.6,843.8L382.0,850.0L382.5,856.2L383.2,862.5L384.0,868.8L384.9,875.0L385.9,881.2L387.1,887.5L388.5,893.8L390.0,900.0L392.0,906.5L394.5,913.4L397.4,920.4L400.3,927.4L403.1,934.0L405.4,940.2L407.2,945.6L408.0,950.0L407.8,953.2L406.9,955.4L405.3,956.8L403.2,957.7L401.0,958.4L398.8,959.1L396.7,960.2L395.0,962.0L393.7,964.6L392.6,967.8L391.7,971.3L390.8,974.9L389.7,978.3L388.5,981.3L386.9,983.6L385.0,985.0L382.6,985.2L379.9,984.2L376.9,982.6L373.8,980.5L370.4,978.4L367.0,976.5L363.5,975.3L360.0,975.0L356.5,975.7L352.9,977.0L349.1,978.8L345.3,980.9L341.5,983.3L337.6,985.7L333.8,988.0L330.0,990.0L326.2,992.0L322.2,994.3L318.2,996.7L314.2,999.1L310.4,1001.2L306.7,1003.0L303.2,1004.3L300.0,1005.0L297.0,1005.0L294.2,1004.5L291.5,1003.5L289.1,1002.2L286.8,1000.6L284.9,998.8L283.3,996.9L282.0,995.0L281.1,992.9L280.5,990.6L280.3,988.0L280.3,985.3L280.6,982.6L281.2,979.9L282.0,977.3L283.0,975.0L284.3,972.9L285.8,970.9L287.6,969.0L289.7,967.2L292.0,965.4L294.5,963.6L297.1,961.8L300.0,960.0L303.3,958.2L307.1,956.4L311.4,954.6L315.7,952.8L319.9,951.0L323.9,949.1L327.3,947.1L330.0,945.0L331.9,943.0L333.2,941.3L334.0,939.7L334.4,937.9L334.7,935.7L335.0,933.0L335.4,929.5L336.0,925.0L336.9,919.4L337.9,912.8L339.0,905.4L340.1,897.5L341.1,889.2L342.0,880.7L342.6,872.2L343.0,864.0L343.0,855.8L342.6,847.5L342.0,839.0L341.2,830.4L340.4,821.8L339.7,813.2L339.2,804.5L339.0,796.0L339.3,787.2L340.0,777.9L341.0,768.4L342.1,759.0L343.0,750.0L343.6,741.6L343.6,734.2L343.0,728.0L341.4,723.2L339.0,719.8L336.0,717.2L332.8,715.4L329.4,713.8L326.4,712.3L323.8,710.5L322.0,708.0L320.8,704.9L319.9,701.4L319.2,697.6L318.9,693.9L319.0,690.3L319.5,687.0L320.5,684.1Z" fill="#fff" stroke="#d6d6d6" stroke-width="0.9"/>
<path d="M322.0,682.0L324.1,680.5L327.0,679.4L330.4,678.7L334.1,678.3L338.1,678.3L342.2,678.6L346.2,679.2L350.0,680.0L353.7,681.3L357.6,683.2L361.5,685.6L365.5,688.2L369.4,690.8L373.2,693.3L376.7,695.4L380.0,697.0L383.2,697.7L386.4,697.6L389.6,697.1L392.5,696.4L395.1,696.0L397.3,696.3L399.0,697.5L400.0,700.0L400.2,704.0L399.6,709.2L398.4,715.3L396.8,722.1L394.9,729.2L393.1,736.4L391.4,743.4L390.0,750.0L388.8,756.2L387.7,762.5L386.5,768.8L385.4,775.0L384.3,781.2L383.4,787.5L382.6,793.8L382.0,800.0L381.6,806.2L381.2,812.5L381.1,818.8L381.0,825.0L381.1,831.2L381.2,837.5L381.6,843.8L382.0,850.0L382.5,856.2L383.2,862.5L384.0,868.8L384.9,875.0L385.9,881.2L387.1,887.5L388.5,893.8L390.0,900.0L392.0,906.5L394.5,913.4L397.4,920.4L400.3,927.4L403.1,934.0L405.4,940.2L407.2,945.6L408.0,950.0L407.8,953.2L406.9,955.4L405.3,956.8L403.2,957.7L401.0,958.4L398.8,959.1L396.7,960.2L395.0,962.0L393.7,964.6L392.6,967.8L391.7,971.3L390.8,974.9L389.7,978.3L388.5,981.3L386.9,983.6L385.0,985.0L382.6,985.2L379.9,984.2L376.9,982.6L373.8,980.5L370.4,978.4L367.0,976.5L363.5,975.3L360.0,975.0L356.5,975.7L352.9,977.0L349.1,978.8L345.3,980.9L341.5,983.3L337.6,985.7L333.8,988.0L330.0,990.0L326.2,992.0L322.2,994.3L318.2,996.7L314.2,999.1L310.4,1001.2L306.7,1003.0L303.2,1004.3L300.0,1005.0L297.0,1005.0L294.2,1004.5L291.5,1003.5L289.1,1002.2L286.8,1000.6L284.9,998.8L283.3,996.9L282.0,995.0L281.1,992.9L280.5,990.6L280.3,988.0L280.3,985.3L280.6,982.6L281.2,979.9L282.0,977.3L283.0,975.0L284.3,972.9L285.8,970.9L287.6,969.0L289.7,967.2L292.0,965.4L294.5,963.6L297.1,961.8L300.0,960.0L303.3,958.2L307.1,956.4L311.4,954.6L315.7,952.8L319.9,951.0L323.9,949.1L327.3,947.1L330.0,945.0L331.9,943.0L333.2,941.3L334.0,939.7L334.4,937.9L334.7,935.7L335.0,933.0L335.4,929.5L336.0,925.0L336.9,919.4L337.9,912.8L339.0,905.4L340.1,897.5L341.1,889.2L342.0,880.7L342.6,872.2L343.0,864.0L343.0,855.8L342.6,847.5L342.0,839.0L341.2,830.4L340.4,821.8L339.7,813.2L339.2,804.5L339.0,796.0L339.3,787.2L340.0,777.9L341.0,768.4L342.1,759.0L343.0,750.0L343.6,741.6L343.6,734.2L343.0,728.0L341.4,723.2L339.0,719.8L336.0,717.2L332.8,715.4L329.4,713.8L326.4,712.3L323.8,710.5L322.0,708.0L320.8,704.9L319.9,701.4L319.2,697.6L318.9,693.9L319.0,690.3L319.5,687.0L320.5,684.1Z" fill="url(#hH)" stroke="none"/>
<path d="M231.0,796.0L231.1,793.6L231.2,790.4L231.3,786.6L231.4,782.4L231.6,777.9L231.9,773.4L232.4,769.0L233.0,765.0L233.8,761.2L234.6,757.5L235.5,753.9L236.6,750.2L237.8,746.5L239.3,742.8L241.0,738.9L243.0,735.0L245.4,730.8L248.1,726.3L251.2,721.7L254.4,717.0L257.8,712.5L261.3,708.2L264.7,704.3L268.0,701.0L271.3,698.2L274.6,695.9L278.0,693.9L281.4,692.2L284.8,690.7L288.2,689.4L291.6,688.2L295.0,687.0L298.6,685.9L302.4,685.0L306.3,684.2L310.2,683.6L313.9,683.1L317.1,682.7L319.9,682.3L322.0,682.0" fill="none" stroke="#d6d6d6" stroke-width="1"/>
<path d="M305,985L383,1022L374,1043L296,1006Z" fill="#cfcfcf" stroke="none"/>
<path d="M311,990L377,1022M308,996L374,1028M305,1002L371,1034" stroke="#fff" stroke-width="1.2" fill="none"/>
<path d="M406.0,1087.0L470.0,1050.0L560.0,1068.0L620.0,1078.0L668.0,1084.0L668.0,1130.0L655.0,1156.0L406.0,1132.0Z" fill="url(#hV)" stroke="#d6d6d6" stroke-width="0.9"/>
<path d="M830.0,1100.0L852.7,1097.7L884.8,1095.4L923.0,1093.2L964.5,1091.2L1006.0,1089.8L1044.5,1089.0L1076.9,1089.0L1100.0,1090.0L1114.0,1092.4L1121.7,1096.1L1124.6,1100.8L1123.8,1106.1L1120.6,1111.5L1116.4,1116.7L1112.4,1121.4L1110.0,1125.0L1108.2,1127.8L1105.5,1130.3L1102.1,1132.5L1098.1,1134.3L1093.7,1135.8L1089.1,1136.9L1084.5,1137.6L1080.0,1138.0L1075.5,1137.8L1070.9,1137.0L1066.2,1135.8L1061.2,1134.2L1056.2,1132.5L1050.9,1130.8L1045.5,1129.2L1040.0,1128.0L1034.2,1126.9L1028.0,1125.8L1021.5,1124.6L1015.0,1123.6L1008.5,1122.7L1002.0,1122.1L995.8,1121.8L990.0,1122.0L984.6,1122.7L979.5,1123.9L974.7,1125.4L970.0,1127.2L965.3,1129.1L960.5,1131.2L955.4,1133.1L950.0,1135.0L944.2,1136.9L938.2,1139.1L932.0,1141.4L925.6,1143.6L919.2,1145.8L912.7,1147.6L906.3,1149.1L900.0,1150.0L893.6,1150.4L886.8,1150.5L880.0,1150.2L873.2,1149.7L866.7,1148.9L860.5,1147.8L854.9,1146.5L850.0,1145.0L845.7,1143.3L842.0,1141.2L838.6,1138.8L835.8,1136.2L833.3,1133.5L831.2,1130.7L829.4,1127.8L828.0,1125.0L825.3,1122.0L820.5,1118.8L815.2,1115.3L810.8,1111.9L808.6,1108.5L810.1,1105.3L816.8,1102.4Z" fill="url(#dots)" stroke="#c8c8c8" stroke-width="1.8"/>
<path d="M1170.0,1095.0L1189.4,1094.2L1217.0,1093.8L1249.9,1093.7L1285.4,1094.1L1320.9,1094.8L1353.7,1096.1L1380.9,1097.8L1400.0,1100.0L1410.8,1103.1L1416.0,1107.2L1416.7,1111.9L1414.1,1117.0L1409.4,1122.2L1403.9,1127.1L1398.7,1131.5L1395.0,1135.0L1392.1,1137.8L1388.5,1140.3L1384.3,1142.5L1379.7,1144.3L1374.8,1145.8L1369.8,1146.9L1364.8,1147.6L1360.0,1148.0L1355.2,1147.9L1350.1,1147.3L1344.9,1146.3L1339.7,1144.9L1334.5,1143.3L1329.4,1141.6L1324.6,1139.8L1320.0,1138.0L1315.8,1136.0L1312.0,1133.7L1308.5,1131.1L1305.0,1128.5L1301.5,1125.9L1298.0,1123.6L1294.2,1121.5L1290.0,1120.0L1285.4,1118.9L1280.6,1117.9L1275.5,1117.2L1270.3,1116.8L1265.1,1116.7L1259.9,1116.8L1254.8,1117.2L1250.0,1118.0L1245.4,1119.3L1240.8,1121.3L1236.3,1123.7L1231.9,1126.4L1227.5,1129.0L1223.3,1131.5L1219.1,1133.6L1215.0,1135.0L1210.9,1136.0L1206.8,1136.7L1202.8,1137.1L1198.9,1137.3L1195.1,1137.2L1191.5,1136.8L1188.1,1136.1L1185.0,1135.0L1182.1,1133.5L1179.4,1131.4L1176.8,1129.0L1174.5,1126.2L1172.4,1123.4L1170.6,1120.5L1169.1,1117.6L1168.0,1115.0L1165.8,1112.3L1161.8,1109.4L1157.3,1106.4L1153.6,1103.4L1151.7,1100.7L1153.0,1098.2L1158.7,1096.3Z" fill="url(#dots)" stroke="#c8c8c8" stroke-width="1.8"/>
<path d="M822.0,1150.0L850.0,1145.0L900.0,1150.0L950.0,1135.0L990.0,1122.0L1040.0,1128.0L1080.0,1138.0L1110.0,1125.0L1168.0,1115.0L1185.0,1135.0L1215.0,1135.0L1250.0,1118.0L1290.0,1120.0L1320.0,1138.0L1360.0,1148.0L1395.0,1135.0L1420.0,1110.0L1480.0,1187.0L1350.0,1166.0L1100.0,1160.0L830.0,1163.0Z" fill="url(#hV)" stroke="none"/>
<g fill="url(#bub)" stroke="none"><ellipse cx="670" cy="128" rx="18" ry="13"/><ellipse cx="648" cy="118" rx="17" ry="16"/><ellipse cx="666" cy="122" rx="19" ry="14"/><ellipse cx="661" cy="112" rx="16" ry="15"/><ellipse cx="662" cy="132" rx="19" ry="12"/><ellipse cx="730" cy="108" rx="14" ry="12"/><ellipse cx="722" cy="101" rx="18" ry="13"/><ellipse cx="705" cy="105" rx="17" ry="13"/><ellipse cx="705" cy="116" rx="18" ry="17"/><ellipse cx="727" cy="109" rx="16" ry="13"/><ellipse cx="763" cy="139" rx="16" ry="15"/><ellipse cx="756" cy="123" rx="14" ry="16"/><ellipse cx="761" cy="136" rx="19" ry="14"/><ellipse cx="768" cy="119" rx="17" ry="12"/><ellipse cx="752" cy="118" rx="17" ry="16"/><ellipse cx="691" cy="147" rx="16" ry="13"/><ellipse cx="700" cy="144" rx="19" ry="16"/><ellipse cx="691" cy="132" rx="17" ry="13"/><ellipse cx="694" cy="146" rx="15" ry="17"/><ellipse cx="697" cy="129" rx="18" ry="13"/></g>
<g fill="url(#bub)" stroke="none"><ellipse cx="859" cy="148" rx="20" ry="15"/><ellipse cx="858" cy="144" rx="16" ry="15"/><ellipse cx="861" cy="135" rx="15" ry="14"/><ellipse cx="885" cy="152" rx="19" ry="12"/><ellipse cx="889" cy="143" rx="19" ry="15"/><ellipse cx="916" cy="142" rx="19" ry="13"/><ellipse cx="942" cy="141" rx="16" ry="17"/><ellipse cx="925" cy="129" rx="18" ry="16"/><ellipse cx="937" cy="148" rx="15" ry="17"/><ellipse cx="945" cy="145" rx="15" ry="16"/><ellipse cx="989" cy="164" rx="19" ry="17"/><ellipse cx="994" cy="160" rx="15" ry="13"/><ellipse cx="989" cy="144" rx="18" ry="13"/><ellipse cx="987" cy="162" rx="20" ry="15"/><ellipse cx="1001" cy="153" rx="15" ry="17"/><ellipse cx="917" cy="168" rx="19" ry="17"/><ellipse cx="904" cy="169" rx="19" ry="16"/><ellipse cx="900" cy="172" rx="17" ry="16"/><ellipse cx="912" cy="166" rx="20" ry="14"/><ellipse cx="904" cy="173" rx="18" ry="13"/></g>
<g fill="url(#bub)" stroke="none"><ellipse cx="1046" cy="177" rx="15" ry="13"/><ellipse cx="1043" cy="179" rx="16" ry="13"/><ellipse cx="1032" cy="168" rx="12" ry="13"/><ellipse cx="1034" cy="165" rx="16" ry="12"/><ellipse cx="1041" cy="174" rx="17" ry="14"/><ellipse cx="1075" cy="178" rx="12" ry="16"/><ellipse cx="1071" cy="186" rx="15" ry="12"/><ellipse cx="1074" cy="175" rx="17" ry="12"/><ellipse cx="1057" cy="172" rx="15" ry="15"/><ellipse cx="1066" cy="174" rx="16" ry="14"/></g>
<g fill="url(#bub)" stroke="none"><ellipse cx="402" cy="251" rx="13" ry="15"/><ellipse cx="399" cy="256" rx="12" ry="16"/><ellipse cx="402" cy="260" rx="14" ry="12"/><ellipse cx="386" cy="248" rx="13" ry="17"/><ellipse cx="400" cy="254" rx="15" ry="14"/><ellipse cx="387" cy="304" rx="12" ry="16"/><ellipse cx="369" cy="300" rx="11" ry="14"/><ellipse cx="385" cy="291" rx="15" ry="16"/><ellipse cx="376" cy="305" rx="14" ry="12"/><ellipse cx="391" cy="301" rx="15" ry="16"/><ellipse cx="355" cy="345" rx="15" ry="13"/><ellipse cx="358" cy="339" rx="15" ry="13"/><ellipse cx="359" cy="341" rx="13" ry="17"/><ellipse cx="356" cy="348" rx="15" ry="15"/><ellipse cx="362" cy="358" rx="13" ry="12"/><ellipse cx="338" cy="398" rx="15" ry="16"/><ellipse cx="354" cy="394" rx="15" ry="14"/><ellipse cx="346" cy="407" rx="13" ry="13"/><ellipse cx="346" cy="411" rx="15" ry="16"/><ellipse cx="354" cy="404" rx="12" ry="15"/><ellipse cx="324" cy="441" rx="14" ry="16"/><ellipse cx="332" cy="459" rx="14" ry="16"/><ellipse cx="335" cy="431" rx="12" ry="14"/><ellipse cx="333" cy="434" rx="14" ry="14"/><ellipse cx="341" cy="443" rx="14" ry="14"/></g>
<g fill="url(#bub)" stroke="none"><ellipse cx="209" cy="742" rx="13" ry="19"/><ellipse cx="205" cy="729" rx="15" ry="16"/><ellipse cx="214" cy="722" rx="16" ry="17"/><ellipse cx="220" cy="725" rx="13" ry="14"/><ellipse cx="214" cy="726" rx="15" ry="17"/><ellipse cx="191" cy="794" rx="13" ry="15"/><ellipse cx="194" cy="786" rx="16" ry="14"/><ellipse cx="189" cy="804" rx="13" ry="17"/><ellipse cx="203" cy="802" rx="15" ry="17"/><ellipse cx="197" cy="813" rx="16" ry="14"/><ellipse cx="187" cy="873" rx="12" ry="16"/><ellipse cx="169" cy="857" rx="14" ry="16"/><ellipse cx="185" cy="871" rx="14" ry="19"/><ellipse cx="163" cy="866" rx="14" ry="15"/><ellipse cx="183" cy="858" rx="14" ry="14"/><ellipse cx="146" cy="947" rx="16" ry="15"/><ellipse cx="156" cy="948" rx="12" ry="14"/><ellipse cx="161" cy="950" rx="17" ry="18"/><ellipse cx="148" cy="948" rx="15" ry="15"/><ellipse cx="167" cy="947" rx="15" ry="14"/><ellipse cx="139" cy="1012" rx="12" ry="16"/><ellipse cx="146" cy="1003" rx="13" ry="14"/><ellipse cx="135" cy="1013" rx="12" ry="17"/><ellipse cx="148" cy="1011" rx="16" ry="15"/><ellipse cx="147" cy="989" rx="12" ry="16"/></g>
<g fill="url(#bub)" stroke="none"><ellipse cx="258" cy="750" rx="10" ry="15"/><ellipse cx="259" cy="750" rx="13" ry="13"/><ellipse cx="267" cy="738" rx="11" ry="14"/><ellipse cx="252" cy="736" rx="13" ry="13"/><ellipse cx="268" cy="739" rx="9" ry="12"/><ellipse cx="245" cy="799" rx="12" ry="13"/><ellipse cx="247" cy="797" rx="13" ry="12"/><ellipse cx="247" cy="800" rx="10" ry="12"/><ellipse cx="236" cy="795" rx="11" ry="11"/><ellipse cx="245" cy="803" rx="10" ry="12"/><ellipse cx="204" cy="842" rx="11" ry="14"/><ellipse cx="219" cy="846" rx="12" ry="14"/><ellipse cx="215" cy="845" rx="10" ry="16"/><ellipse cx="212" cy="842" rx="12" ry="12"/><ellipse cx="207" cy="857" rx="10" ry="11"/></g>
<g fill="url(#bub)" stroke="none"><ellipse cx="272" cy="1160" rx="20" ry="14"/><ellipse cx="279" cy="1172" rx="18" ry="15"/><ellipse cx="276" cy="1165" rx="15" ry="16"/><ellipse cx="296" cy="1152" rx="18" ry="14"/><ellipse cx="276" cy="1163" rx="19" ry="14"/><ellipse cx="344" cy="1171" rx="21" ry="14"/><ellipse cx="319" cy="1178" rx="17" ry="15"/><ellipse cx="344" cy="1188" rx="21" ry="14"/><ellipse cx="344" cy="1183" rx="18" ry="17"/><ellipse cx="327" cy="1185" rx="15" ry="14"/><ellipse cx="380" cy="1175" rx="20" ry="15"/><ellipse cx="403" cy="1179" rx="15" ry="14"/><ellipse cx="403" cy="1177" rx="20" ry="16"/><ellipse cx="393" cy="1186" rx="20" ry="14"/><ellipse cx="388" cy="1185" rx="21" ry="18"/><ellipse cx="431" cy="1192" rx="17" ry="18"/><ellipse cx="462" cy="1192" rx="19" ry="17"/><ellipse cx="448" cy="1182" rx="20" ry="16"/><ellipse cx="455" cy="1201" rx="17" ry="17"/><ellipse cx="458" cy="1196" rx="14" ry="13"/><ellipse cx="491" cy="1193" rx="20" ry="15"/><ellipse cx="487" cy="1186" rx="17" ry="16"/><ellipse cx="507" cy="1184" rx="18" ry="14"/><ellipse cx="492" cy="1178" rx="15" ry="13"/><ellipse cx="484" cy="1185" rx="20" ry="17"/><ellipse cx="566" cy="1210" rx="16" ry="15"/><ellipse cx="554" cy="1219" rx="18" ry="17"/><ellipse cx="566" cy="1200" rx="17" ry="13"/><ellipse cx="557" cy="1198" rx="17" ry="14"/><ellipse cx="553" cy="1194" rx="18" ry="16"/><ellipse cx="324" cy="1206" rx="21" ry="15"/><ellipse cx="321" cy="1196" rx="18" ry="18"/><ellipse cx="312" cy="1207" rx="16" ry="13"/><ellipse cx="301" cy="1203" rx="15" ry="14"/><ellipse cx="297" cy="1208" rx="14" ry="16"/><ellipse cx="419" cy="1200" rx="19" ry="18"/><ellipse cx="430" cy="1223" rx="17" ry="14"/><ellipse cx="427" cy="1207" rx="21" ry="15"/><ellipse cx="405" cy="1211" rx="19" ry="13"/><ellipse cx="419" cy="1207" rx="17" ry="13"/><ellipse cx="526" cy="1218" rx="15" ry="16"/><ellipse cx="522" cy="1238" rx="19" ry="17"/><ellipse cx="516" cy="1232" rx="18" ry="17"/><ellipse cx="524" cy="1235" rx="17" ry="15"/><ellipse cx="521" cy="1232" rx="15" ry="13"/></g>
<g fill="url(#bub)" stroke="none"><ellipse cx="1888" cy="619" rx="13" ry="23"/><ellipse cx="1900" cy="587" rx="14" ry="18"/><ellipse cx="1901" cy="609" rx="13" ry="21"/><ellipse cx="1884" cy="618" rx="17" ry="19"/><ellipse cx="1898" cy="616" rx="13" ry="21"/><ellipse cx="1883" cy="697" rx="18" ry="19"/><ellipse cx="1862" cy="686" rx="17" ry="21"/><ellipse cx="1860" cy="679" rx="17" ry="19"/><ellipse cx="1863" cy="701" rx="16" ry="18"/><ellipse cx="1876" cy="677" rx="17" ry="17"/><ellipse cx="1850" cy="789" rx="16" ry="20"/><ellipse cx="1843" cy="768" rx="16" ry="18"/><ellipse cx="1859" cy="783" rx="17" ry="16"/><ellipse cx="1846" cy="786" rx="16" ry="19"/><ellipse cx="1861" cy="760" rx="16" ry="18"/><ellipse cx="1839" cy="849" rx="13" ry="17"/><ellipse cx="1827" cy="877" rx="18" ry="19"/><ellipse cx="1822" cy="865" rx="18" ry="19"/><ellipse cx="1828" cy="873" rx="13" ry="20"/><ellipse cx="1842" cy="873" rx="15" ry="23"/><ellipse cx="1802" cy="949" rx="13" ry="22"/><ellipse cx="1806" cy="931" rx="15" ry="21"/><ellipse cx="1821" cy="934" rx="15" ry="23"/><ellipse cx="1809" cy="954" rx="14" ry="20"/><ellipse cx="1818" cy="935" rx="16" ry="18"/><ellipse cx="1782" cy="1039" rx="14" ry="18"/><ellipse cx="1784" cy="1031" rx="14" ry="22"/><ellipse cx="1784" cy="1026" rx="17" ry="18"/><ellipse cx="1794" cy="1016" rx="16" ry="20"/><ellipse cx="1780" cy="1013" rx="17" ry="19"/></g></g>
<path d="M1000.4,299.2L1002.3,299.2L1004.3,299.3L1006.3,299.3L1008.3,299.3L1010.3,299.4L1012.4,299.4L1014.6,299.4L1016.8,299.5L1019.0,299.6L1021.2,299.7L1023.5,299.9L1025.7,300.1L1027.8,300.3L1029.9,300.5L1032.0,300.7L1034.1,300.9L1036.2,301.1L1038.2,301.4L1040.2,301.6L1042.1,301.8L1044.1,302.0L1046.1,302.3L1048.1,302.5L1050.2,302.7L1052.3,303.0L1054.4,303.2L1056.4,303.5L1058.5,303.8L1060.5,304.1L1062.5,304.4L1064.5,304.6L1066.5,304.9L1068.5,305.2L1070.4,305.5L1072.4,305.8L1074.4,306.0L1076.4,306.3L1078.4,306.6L1080.4,306.9L1082.4,307.2L1084.4,307.5L1086.5,307.8L1088.5,308.1L1090.5,308.4L1092.5,308.7L1094.5,309.0L1096.6,309.4L1098.6,309.7L1100.7,310.0L1102.7,310.4L1104.8,310.7L1106.8,311.1L1108.8,311.5L1110.8,311.8L1112.9,312.2L1114.9,312.6L1116.9,313.0L1118.9,313.4L1120.9,313.8L1122.9,314.2L1124.9,314.6L1126.9,315.0L1128.9,315.4L1130.8,316.4L1132.6,317.3L1134.5,318.3L1136.3,319.2L1138.2,320.2L1140.0,321.2L1141.9,322.1L1143.7,323.1L1145.6,324.0L1147.4,325.0L1149.3,325.9L1151.1,326.9L1153.0,327.9L1154.8,328.8L1156.7,329.8L1158.5,330.8L1160.4,331.7L1162.2,332.7L1164.1,333.7L1165.9,334.7L1167.8,335.7L1169.6,336.6L1171.5,337.6L1173.3,338.6L1175.1,339.6L1177.1,340.1L1179.1,340.6L1181.0,341.1L1183.0,341.6L1184.9,342.1L1186.9,342.5L1188.8,343.0L1190.8,343.5L1192.7,344.0L1194.7,344.6L1196.6,345.1L1198.6,345.6L1200.5,346.1L1202.5,346.6L1204.4,347.2L1206.3,347.7L1208.3,348.3L1210.2,348.8L1212.2,349.4L1214.1,349.9L1216.1,350.5L1218.0,351.1L1219.9,351.7L1221.9,352.3L1223.8,352.9L1225.7,353.5L1227.6,354.1L1229.6,354.7L1231.5,355.4L1233.4,356.0L1235.3,356.6L1237.2,357.3L1239.1,357.9L1241.0,358.6L1243.0,359.2L1244.9,359.9L1246.8,360.6L1248.7,361.3L1250.6,362.0L1252.5,362.7L1254.4,363.4L1256.3,364.1L1258.2,364.8L1260.1,365.6L1261.9,366.3L1263.8,367.1L1265.7,367.8L1267.6,368.6L1269.4,369.3L1271.3,370.1L1273.2,370.9L1275.0,371.7L1276.9,372.5L1278.7,373.3L1280.6,374.1L1282.5,374.9L1284.3,375.7L1286.2,376.6L1288.0,377.4L1289.9,378.3L1291.7,379.2L1293.5,380.0L1295.4,380.9L1297.2,381.8L1299.0,382.7L1300.8,383.7L1302.6,384.6L1304.5,385.6L1306.2,386.5L1308.0,387.5L1309.8,388.5L1311.6,389.5L1313.4,390.5L1315.1,391.5L1316.9,392.5L1318.6,393.6L1320.4,394.6L1322.1,395.6L1323.8,396.7L1325.6,397.7L1327.3,398.8L1329.0,399.9L1330.7,400.9L1332.4,402.0L1334.1,403.1L1335.8,404.2L1337.5,405.3L1339.2,406.3L1340.9,407.4L1342.6,408.5L1344.3,409.6L1346.0,410.7L1347.7,411.8L1349.3,413.0L1351.0,414.1L1352.7,415.2L1354.4,416.3L1356.0,417.5L1357.7,418.6L1359.4,419.7L1361.0,420.9L1362.7,422.1L1364.3,423.2L1366.0,424.4L1367.6,425.5L1369.3,426.7L1370.9,427.9L1372.5,429.1L1374.2,430.2L1375.8,431.4L1377.4,432.6L1379.1,433.8L1380.7,435.0L1382.3,436.2L1383.9,437.4L1385.5,438.6L1387.1,439.8L1388.7,441.0L1390.3,442.2L1391.9,443.5L1393.5,444.7L1395.1,445.9L1396.7,447.1L1398.3,448.3L1399.9,449.6L1401.5,450.8L1403.1,452.1L1404.7,453.3L1406.3,454.6L1407.9,455.8L1409.4,457.1L1411.0,458.4L1412.6,459.7L1414.1,461.0L1415.7,462.3L1417.2,463.6L1418.8,464.9L1420.3,466.3L1421.8,467.6L1423.4,469.0L1424.9,470.3L1426.4,471.7L1427.9,473.1L1429.4,474.5L1430.8,475.8L1432.3,477.2L1433.8,478.6L1435.2,480.0L1436.7,481.4L1438.1,482.8L1439.6,484.3L1441.0,485.7L1442.5,487.1L1443.9,488.5L1445.3,490.0L1446.7,491.4L1448.1,492.8L1449.6,494.3L1450.9,495.7L1452.4,497.2L1453.8,498.6L1455.1,500.1L1456.5,501.5L1457.9,503.0L1459.3,504.5L1460.7,505.9L1462.1,507.4L1463.4,508.9L1464.8,510.4L1466.2,511.8L1467.5,513.3L1468.9,514.8L1470.3,516.3L1471.6,517.8L1473.0,519.3L1474.3,520.8L1475.6,522.3L1477.0,523.8L1478.3,525.3L1479.6,526.8L1481.0,528.3L1482.3,529.9L1483.6,531.4L1484.9,532.9L1486.2,534.4L1487.5,535.9L1488.9,537.5L1490.2,539.0L1491.5,540.5L1492.8,542.0L1494.1,543.6L1495.4,545.1L1496.7,546.6L1498.0,548.2L1499.3,549.7L1500.6,551.3L1501.8,552.8L1503.1,554.4L1504.4,555.9L1505.7,557.5L1507.0,559.1L1508.3,560.7L1509.5,562.3L1510.8,564.0L1512.0,565.7L1513.2,567.5L1514.4,569.3L1515.5,571.1L1516.6,572.8L1517.6,574.5L1518.7,576.1L1519.7,577.8L1520.8,579.6L1521.9,581.3L1522.9,583.1L1524.0,584.8L1525.0,586.6L1526.0,588.3L1527.0,590.1L1528.0,591.8L1529.0,593.6L1530.0,595.3L1531.0,597.1L1532.0,598.8L1532.9,600.6L1533.9,602.3L1534.9,604.1L1535.9,605.8L1536.9,607.6L1537.9,609.3L1538.8,611.1L1539.8,612.9L1540.8,614.6L1541.7,616.4L1542.7,618.2L1543.6,620.0L1544.6,621.8L1545.5,623.6L1546.4,625.3L1547.3,627.1L1548.3,628.9L1549.2,630.7L1550.1,632.5L1551.0,634.3L1551.9,636.1L1552.9,637.9L1553.8,639.7L1554.6,641.6L1555.5,643.4L1556.4,645.2L1557.3,647.1L1558.1,649.0L1558.9,650.8L1559.8,652.7L1560.6,654.6L1561.3,656.5L1562.1,658.3L1562.9,660.2L1563.6,662.1L1564.4,663.9L1565.1,665.8L1565.9,667.6L1566.6,669.5L1567.4,671.3L1568.1,673.1L1568.9,674.9L1569.7,676.8L1570.5,678.6L1571.3,680.4L1572.1,682.3L1572.8,684.1L1573.6,686.0L1574.4,687.9L1575.2,689.7L1576.0,691.6L1576.7,693.6L1577.5,695.5L1578.2,697.4L1578.9,699.3L1579.6,701.2L1580.2,703.2L1580.9,705.1L1581.5,707.0L1582.2,708.9L1582.8,710.9L1583.4,712.8L1584.0,714.7L1584.6,716.7L1585.2,718.6L1585.8,720.5L1586.4,722.4L1587.0,724.4L1587.6,726.3L1588.1,728.3L1588.7,730.2L1589.2,732.2L1589.8,734.2L1590.3,736.2L1590.8,738.2L1591.3,740.2L1591.7,742.2L1592.2,744.2L1592.6,746.3L1593.0,748.3L1593.3,750.3L1593.7,752.3L1594.0,754.3L1594.3,756.3L1594.6,758.3L1594.9,760.3L1595.2,762.3L1595.5,764.3L1595.8,766.3L1596.1,768.3L1596.4,770.3L1596.7,772.2L1597.0,774.2L1597.2,776.2L1597.5,778.3L1597.8,780.3L1598.0,782.3L1598.3,784.3L1598.5,786.4L1598.7,788.4L1598.9,790.5L1599.1,792.5L1599.2,794.5L1599.3,796.6L1599.5,798.6L1599.6,800.7L1599.7,802.7L1599.7,804.7L1599.8,806.8L1599.9,808.8L1599.9,810.8L1600.0,812.9L1600.0,814.9L1600.0,816.9L1600.0,819.0L1600.0,821.0L1600.0,823.0L1599.9,825.1L1599.9,827.1L1599.9,829.1L1599.8,831.2L1599.7,833.2L1599.6,835.3L1599.5,837.3L1599.3,839.4L1599.2,841.4L1599.0,843.5L1598.8,845.5L1598.6,847.6L1598.3,849.6L1598.1,851.6L1597.8,853.6L1597.6,855.7L1597.3,857.7L1597.0,859.7L1596.7,861.7L1596.4,863.7L1596.1,865.7L1595.8,867.7L1595.5,869.7L1595.1,871.7L1594.8,873.7L1594.5,875.7L1594.1,877.6L1593.8,879.6L1593.4,881.6L1593.0,883.6L1592.6,885.7L1592.2,887.7L1591.7,889.7L1591.3,891.7L1590.8,893.7L1590.3,895.7L1589.8,897.7L1589.2,899.7L1588.6,901.7L1588.1,903.6L1587.5,905.6L1586.8,907.6L1586.2,909.5L1585.6,911.5L1584.9,913.4L1584.2,915.4L1583.5,917.3L1582.7,919.2L1582.0,921.1L1581.2,923.0L1580.5,924.9L1579.7,926.8L1578.8,928.7L1578.0,930.6L1577.2,932.5L1576.3,934.3L1575.5,936.1L1574.6,938.0L1573.7,939.8L1572.8,941.6L1572.0,943.5L1571.1,945.3L1570.2,947.1L1569.3,948.9L1568.4,950.7L1567.4,952.5L1566.5,954.3L1565.6,956.1L1564.6,957.9L1563.7,959.7L1562.7,961.5L1561.8,963.2L1560.8,965.0L1559.8,966.8L1558.8,968.6L1557.9,970.3L1556.9,972.1L1555.9,973.8L1554.9,975.6L1553.9,977.3L1552.8,979.1L1551.8,980.8L1550.8,982.6L1549.8,984.3L1548.8,986.0L1547.7,987.8L1546.7,989.5L1545.6,991.3L1544.5,993.0L1543.4,994.7L1542.3,996.5L1541.2,998.2L1540.0,999.9L1538.8,1001.6L1537.6,1003.3L1536.4,1004.9L1535.1,1006.6L1533.9,1008.2L1532.6,1009.9L1531.3,1011.5L1530.0,1013.1L1528.7,1014.6L1527.4,1016.2L1526.0,1017.7L1524.7,1019.3L1523.3,1020.8L1522.0,1022.3L1520.6,1023.8L1519.3,1025.3L1517.9,1026.8L1516.5,1028.3L1515.1,1029.8L1513.7,1031.3L1512.3,1032.7L1510.9,1034.2L1509.5,1035.7L1508.0,1037.1L1506.6,1038.6L1505.1,1040.0L1503.6,1041.4L1502.1,1042.8L1500.6,1044.2L1499.0,1045.6L1497.4,1047.0L1495.8,1048.3L1494.2,1049.6L1492.6,1050.9L1490.9,1052.2L1489.3,1053.4L1487.6,1054.6L1485.9,1055.9L1484.2,1057.0L1482.5,1058.2L1480.8,1059.4L1479.0,1060.5L1477.3,1061.6L1475.6,1062.7L1473.8,1063.7L1472.0,1064.8L1470.2,1065.8L1468.4,1066.8L1466.6,1067.8L1464.8,1068.8L1463.0,1069.7L1461.2,1070.7L1459.4,1071.6L1457.6,1072.5L1455.7,1073.4L1453.9,1074.3L1452.0,1075.2L1450.2,1076.0L1448.3,1076.9L1446.5,1077.7L1444.6,1078.6L1442.7,1079.4L1440.8,1080.2L1438.9,1080.9L1436.9,1081.7L1435.0,1082.4L1433.1,1083.1L1431.2,1083.8L1429.3,1084.5L1427.4,1085.2L1425.4,1085.9L1423.5,1086.5L1421.6,1087.1L1419.6,1087.8L1417.7,1088.4L1415.8,1089.0L1413.8,1089.6L1412.0,1090.2L1410.8,1090.6L1408.1,1091.9L1404.5,1092.1L1402.5,1092.0L1400.5,1092.0L1398.5,1092.0L1396.5,1092.0L1394.5,1091.9L1392.5,1091.9L1390.4,1091.8L1388.4,1091.8L1386.4,1091.7L1384.4,1091.7L1382.4,1091.6L1380.4,1091.5L1378.4,1091.5L1376.4,1091.4L1374.4,1091.3L1372.4,1091.3L1370.4,1091.2L1368.4,1091.1L1366.4,1091.0L1364.4,1091.0L1362.4,1090.9L1360.4,1090.8L1358.3,1091.2L1356.3,1091.5L1354.3,1091.8L1352.3,1092.2L1350.3,1092.5L1348.3,1092.9L1346.2,1093.2L1344.2,1093.5L1342.2,1093.9L1340.2,1094.2L1338.1,1094.5L1336.1,1094.9L1334.1,1095.2L1332.1,1095.5L1330.0,1095.9L1328.0,1096.2L1326.0,1096.5L1324.0,1096.8L1321.9,1097.2L1319.9,1097.5L1317.9,1097.8L1315.8,1098.1L1313.8,1098.4L1311.8,1098.8L1309.8,1099.1L1307.8,1099.0L1305.8,1098.9L1303.8,1098.8L1301.8,1098.7L1299.8,1098.5L1297.8,1098.4L1295.8,1098.3L1293.8,1098.2L1291.8,1098.1L1289.8,1098.0L1287.8,1097.9L1285.8,1097.8L1283.8,1097.7L1281.8,1097.6L1279.8,1097.5L1277.8,1097.4L1275.8,1097.3L1273.9,1097.2L1271.9,1097.1L1269.9,1097.0L1267.9,1096.9L1265.9,1096.8L1263.9,1096.7L1261.9,1096.6L1259.9,1096.5L1257.9,1096.5L1255.9,1096.4L1253.9,1096.3L1251.9,1096.2L1249.9,1096.1L1247.9,1096.0L1245.9,1095.9L1243.9,1095.8L1241.9,1095.7L1239.9,1095.6L1237.9,1095.5L1235.9,1095.4L1233.8,1095.3L1231.8,1095.2L1229.8,1095.1L1227.8,1095.0L1225.8,1094.9L1223.8,1094.7L1221.7,1094.6L1219.7,1094.5L1217.6,1094.4L1215.6,1094.2L1213.5,1094.1L1211.3,1093.9L1209.2,1093.7L1207.1,1093.5L1205.0,1093.3L1203.0,1093.1L1201.1,1092.9L1199.3,1092.7L1197.4,1092.5L1195.6,1092.4L1193.7,1092.3L1191.8,1092.1L1189.9,1092.0L1187.9,1091.9L1186.0,1091.8L1184.0,1091.7L1182.0,1091.6L1180.0,1091.5L1178.1,1091.4L1176.1,1091.4L1174.1,1091.3L1172.1,1091.2L1170.1,1091.1L1168.1,1091.0L1166.2,1090.9L1164.2,1090.9L1162.2,1090.8L1160.2,1090.7L1158.2,1090.6L1156.2,1090.6L1154.2,1090.5L1152.2,1090.4L1150.2,1090.3L1148.2,1090.3L1146.2,1090.2L1144.3,1090.1L1142.3,1090.1L1140.3,1090.0L1138.3,1089.9L1136.3,1089.8L1134.3,1089.8L1132.3,1089.7L1130.3,1089.6L1128.3,1089.6L1126.3,1089.5L1124.3,1089.5L1122.3,1089.4L1120.3,1089.3L1118.3,1089.3L1116.3,1089.2L1114.3,1089.1L1112.3,1089.1L1110.3,1089.0L1108.3,1089.0L1106.3,1088.9L1104.3,1088.8L1102.4,1088.8L1100.4,1088.7L1098.4,1088.7L1096.4,1088.6L1094.4,1088.6L1092.4,1088.5L1090.4,1088.4L1088.4,1088.4L1086.4,1088.3L1084.4,1088.3L1082.4,1088.2L1080.4,1088.2L1078.4,1088.1L1076.4,1088.1L1074.4,1088.0L1072.4,1088.0L1070.4,1087.9L1068.4,1087.9L1066.4,1087.8L1064.5,1087.8L1062.5,1087.7L1060.5,1087.7L1058.5,1087.7L1056.5,1087.6L1054.5,1087.6L1052.5,1087.5L1050.5,1087.5L1048.6,1087.5L1046.6,1087.4L1044.6,1087.4L1042.6,1087.4L1040.6,1087.4L1038.6,1087.3L1036.6,1087.3L1034.7,1087.3L1032.7,1087.3L1030.7,1087.3L1028.8,1087.3L1026.8,1087.3L1024.9,1087.3L1022.9,1087.3L1021.0,1087.3L1019.0,1087.3L1017.0,1087.3L1015.1,1087.3L1013.1,1087.4L1011.1,1087.4L1009.1,1087.4L1007.1,1087.5L1005.2,1087.5L1003.2,1087.6L1001.2,1087.6L999.3,1087.7L997.3,1087.7L995.3,1087.8L993.3,1087.8L991.4,1087.9L989.4,1088.0L987.4,1088.1L985.4,1088.1L983.4,1088.2L981.4,1088.3L979.5,1088.3L977.5,1088.4L975.5,1088.5L973.5,1088.6L971.5,1088.7L969.5,1088.7L967.5,1088.8L965.5,1088.9L963.5,1089.0L961.5,1089.1L959.5,1089.1L957.5,1089.2L955.5,1089.3L953.5,1089.4L951.5,1089.5L949.4,1089.5L947.4,1089.6L945.4,1089.7L943.4,1089.7L941.4,1089.8L939.4,1089.9L937.4,1090.0L935.4,1090.0L933.4,1090.1L931.4,1090.2L929.4,1090.2L927.4,1090.3L925.4,1090.4L923.4,1090.4L921.4,1090.5L919.4,1090.6L917.4,1090.6L915.4,1090.7L913.4,1090.8L911.5,1090.9L909.5,1090.9L907.5,1091.0L905.5,1091.1L903.5,1091.2L901.5,1091.3L899.6,1091.3L897.6,1091.4L895.6,1091.5L893.6,1091.6L891.7,1091.7L889.8,1091.8L887.8,1091.9L885.9,1092.0L883.9,1092.2L882.0,1092.3L880.1,1092.4L878.2,1092.6L876.3,1092.7L874.4,1092.9L872.5,1093.1L870.6,1093.3L868.7,1093.5L866.8,1093.7L864.8,1093.9L862.9,1094.1L860.9,1094.4L858.9,1094.6L856.9,1094.8L854.9,1095.1L852.9,1095.3L850.9,1095.5L848.9,1095.7L847.0,1096.0L845.1,1096.2L843.1,1096.4L841.2,1096.7L839.2,1096.9L837.2,1097.2L835.3,1097.4L833.3,1097.7L831.3,1098.0L829.3,1098.2L827.3,1098.5L825.3,1098.7L823.3,1099.0L821.3,1099.2L819.3,1099.5L817.2,1099.7L815.2,1100.0L813.2,1100.2L811.1,1100.4L809.1,1100.7L807.1,1100.9L805.0,1101.1L802.9,1101.3L800.9,1101.5L798.8,1101.7L796.8,1101.8L794.7,1102.0L792.7,1102.2L790.7,1102.3L788.6,1102.5L786.6,1102.7L784.5,1102.8L782.5,1102.9L780.5,1103.1L778.4,1103.2L776.4,1103.3L774.4,1103.4L772.3,1103.6L770.3,1103.7L768.3,1103.8L766.2,1103.9L764.2,1104.0L762.2,1104.1L760.2,1104.2L758.2,1104.3L756.1,1104.3L754.1,1104.4L752.1,1104.5L750.1,1104.6L748.0,1104.7L746.0,1104.7L744.0,1104.8L742.0,1104.9L739.9,1104.9L737.9,1105.0L735.9,1105.0L733.9,1105.1L731.8,1105.1L729.8,1105.2L727.8,1105.2L725.8,1105.3L723.7,1105.3L721.7,1105.4L719.7,1105.4L717.7,1105.4L715.6,1105.4L713.6,1105.5L711.6,1105.5L709.5,1105.5L707.5,1105.5L705.5,1105.5L703.4,1105.5L701.4,1105.5L699.3,1105.5L697.3,1105.5L695.2,1105.5L693.2,1105.4L691.1,1105.4L689.1,1105.3L687.0,1105.3L684.9,1105.2L682.9,1105.2L680.8,1105.1L678.8,1105.0L676.7,1104.9L674.7,1104.8L672.6,1104.7L670.6,1104.6L668.5,1104.5L666.5,1104.4L664.5,1104.3L662.5,1104.2L660.4,1104.1L658.4,1103.9L656.3,1103.8L654.3,1103.7L652.2,1103.5L650.2,1103.3L648.2,1103.2L646.1,1103.0L644.1,1102.9L642.1,1102.7L640.0,1102.5L638.0,1102.3L636.0,1102.1L634.0,1101.9L632.0,1101.8L630.0,1101.6L627.9,1101.4L625.9,1101.2L623.9,1101.0L621.9,1100.8L619.9,1100.6L618.0,1100.4L616.0,1100.2L614.0,1100.0L611.9,1099.8L609.9,1099.6L607.9,1099.4L605.9,1099.1L603.8,1098.9L601.8,1098.7L599.7,1098.4L597.7,1098.2L595.6,1097.9L593.5,1097.7L591.5,1097.4L589.4,1097.1L587.4,1096.8L585.3,1096.5L583.3,1096.2L581.3,1095.9L579.3,1095.5L577.2,1095.2L575.2,1094.9L573.1,1094.5L571.1,1094.1L569.0,1093.8L566.9,1093.4L564.8,1093.0L562.7,1092.5L560.6,1092.1L558.5,1091.6L556.4,1091.1L554.4,1090.6L552.4,1090.1L550.3,1089.6L548.3,1089.1L546.3,1088.5L544.2,1087.9L542.2,1087.4L540.2,1086.8L538.1,1086.2L536.1,1085.6L534.0,1084.9L532.0,1084.2L529.9,1083.5L527.8,1082.8L525.7,1082.0L523.6,1081.2L521.5,1080.4L519.4,1079.5L517.3,1078.6L515.3,1077.6L513.2,1076.6L511.2,1075.6L509.3,1074.6L507.4,1073.6L505.5,1072.6L503.7,1071.6L501.9,1070.6L500.1,1069.6L498.3,1068.6L496.5,1067.6L494.7,1066.6L492.9,1065.5L491.1,1064.5L489.3,1063.4L487.5,1062.3L485.7,1061.4L483.8,1060.4L482.0,1059.4L480.1,1058.4L478.3,1057.4L476.4,1056.4L474.6,1055.3L472.8,1054.3L470.9,1053.2L469.1,1052.2L467.3,1051.1L465.5,1050.0L463.8,1048.9L462.0,1047.8L460.2,1046.7L458.4,1045.6L456.6,1044.4L454.8,1043.2L453.0,1042.0L451.2,1040.8L449.4,1039.5L447.6,1038.3L445.8,1036.9L444.0,1035.6L442.3,1034.3L440.6,1032.8L438.9,1031.3L437.3,1029.9L435.7,1028.4L434.1,1026.8L432.5,1025.3L431.0,1023.7L429.4,1022.1L427.9,1020.5L426.4,1018.9L424.9,1017.3L423.4,1015.6L421.9,1014.0L420.5,1012.3L419.1,1010.6L417.6,1008.9L416.3,1007.2L414.9,1005.5L413.6,1003.8L412.3,1002.1L411.0,1000.4L409.7,998.6L408.4,996.9L407.2,995.2L405.9,993.4L404.7,991.7L403.5,989.9L402.3,988.1L401.1,986.3L399.9,984.5L398.7,982.6L397.6,980.8L396.4,979.0L395.3,977.1L394.2,975.2L393.1,973.4L392.0,971.5L391.0,969.6L390.0,967.8L389.0,965.9L388.0,964.0L387.0,962.2L386.0,960.3L385.0,958.4L384.0,956.4L383.1,954.5L382.2,952.6L381.2,950.6L380.3,948.7L379.4,946.7L378.6,944.8L377.7,942.8L376.8,940.8L376.0,938.8L375.2,936.8L374.4,934.8L373.6,932.7L372.8,930.6L372.1,928.5L371.4,926.5L370.6,924.4L370.0,922.4L369.3,920.4L368.7,918.4L368.0,916.4L367.4,914.4L366.8,912.4L366.2,910.4L365.7,908.4L365.1,906.4L364.5,904.4L363.9,902.3L363.3,900.2L362.8,898.0L362.2,895.8L361.7,893.6L361.3,891.3L360.8,889.1L360.4,886.9L360.0,884.7L359.7,882.5L359.3,880.3L359.0,878.2L358.8,876.0L358.5,873.9L358.2,871.8L358.0,869.6L357.8,867.5L357.6,865.4L357.4,863.3L357.2,861.2L357.1,859.1L356.9,857.0L356.8,854.9L356.6,852.8L356.5,850.7L356.4,848.7L356.3,846.6L356.2,844.5L356.1,842.5L356.0,840.4L356.0,838.4L355.9,836.3L355.8,834.3L355.8,832.2L355.7,830.2L355.6,828.1L355.6,826.1L355.6,824.0L355.5,822.0L355.5,819.9L355.5,817.8L355.4,815.7L355.5,813.5L355.5,811.3L355.5,809.1L355.6,806.8L355.7,804.5L355.9,802.0L356.1,799.3L356.5,796.5L357.0,793.9L357.5,791.6L357.9,789.7L358.2,788.0L358.5,786.4L358.8,784.6L359.1,782.7L359.5,780.8L359.8,778.7L360.1,776.7L360.5,774.6L360.9,772.4L361.3,770.3L361.7,768.1L362.2,766.0L362.7,763.8L363.1,761.7L363.6,759.7L364.1,757.6L364.6,755.6L365.1,753.6L365.7,751.6L366.2,749.5L366.7,747.6L367.3,745.5L367.8,743.5L368.4,741.5L368.9,739.5L369.5,737.6L370.1,735.6L370.7,733.5L371.3,731.6L371.9,729.5L372.5,727.5L373.1,725.6L373.8,723.6L374.4,721.6L375.0,719.6L375.7,717.6L376.4,715.7L377.0,713.7L377.7,711.8L378.4,709.9L379.0,707.9L379.7,706.0L380.4,704.1L381.1,702.2L381.7,700.3L382.4,698.4L383.1,696.4L383.8,694.5L384.5,692.6L385.2,690.7L385.9,688.8L386.6,686.9L387.3,684.9L388.0,683.0L388.8,681.1L389.5,679.2L390.2,677.3L391.0,675.4L391.7,673.5L392.5,671.5L393.2,669.6L394.0,667.7L394.8,665.8L395.6,663.9L396.3,662.0L397.1,660.0L397.9,658.1L398.8,656.2L399.6,654.3L400.4,652.4L401.2,650.6L402.0,648.7L402.9,646.8L403.7,645.0L404.5,643.1L405.3,641.3L406.1,639.4L407.0,637.6L407.8,635.8L408.6,633.9L409.4,632.1L410.3,630.3L411.1,628.4L411.9,626.5L412.8,624.7L413.7,622.8L414.5,620.9L415.4,619.0L416.3,617.1L417.3,615.2L418.2,613.3L419.2,611.4L420.1,609.5L421.1,607.6L422.1,605.7L423.1,603.8L424.1,602.0L425.1,600.1L426.1,598.3L427.1,596.5L428.2,594.6L429.2,592.8L430.3,591.0L431.3,589.2L432.4,587.4L433.5,585.6L434.6,583.8L435.7,582.0L436.8,580.2L437.9,578.4L439.0,576.7L440.1,574.9L441.3,573.1L442.4,571.4L443.6,569.6L444.8,567.8L446.1,566.0L447.3,564.2L448.6,562.4L449.9,560.6L451.2,558.9L452.6,557.1L454.0,555.3L455.4,553.5L456.9,551.7L458.5,550.0L460.0,548.3L461.5,546.7L463.0,545.1L464.4,543.5L465.8,542.1L467.2,540.6L468.5,539.2L469.8,537.8L471.1,536.5L472.3,535.1L473.5,533.8L474.6,532.5L475.7,531.2L476.9,529.8L478.0,528.4L479.1,527.0L480.3,525.5L481.5,524.0L482.7,522.4L483.9,520.8L485.1,519.2L486.4,517.6L487.7,515.9L489.0,514.3L490.4,512.6L491.8,510.8L493.2,509.1L494.8,507.4L496.3,505.7L497.8,504.0L499.3,502.4L500.9,500.8L502.4,499.2L503.9,497.7L505.4,496.2L506.9,494.7L508.4,493.3L509.9,491.8L511.4,490.5L512.8,489.1L514.2,487.7L515.6,486.4L517.0,485.0L518.4,483.6L519.9,482.2L521.3,480.8L522.8,479.4L524.3,478.0L525.7,476.5L527.2,475.1L528.7,473.7L530.2,472.3L531.8,470.9L533.3,469.4L534.8,468.0L536.4,466.6L538.0,465.2L539.6,463.8L541.2,462.4L542.7,461.0L544.3,459.7L545.9,458.3L547.5,457.0L549.1,455.6L550.6,454.3L552.2,453.0L553.8,451.7L555.3,450.4L556.9,449.1L558.5,447.8L560.1,446.5L561.7,445.2L563.3,443.9L564.9,442.7L566.5,441.4L568.1,440.1L569.7,438.9L571.2,437.6L572.8,436.4L574.3,435.2L575.9,433.9L577.4,432.7L578.8,431.6L580.2,430.5L581.6,429.3L583.0,428.0L584.6,426.7L586.2,425.3L588.0,423.8L589.7,422.4L591.5,421.0L593.3,419.6L595.1,418.3L596.9,417.0L598.7,415.7L600.5,414.5L602.2,413.3L603.9,412.2L605.6,411.0L607.3,409.9L609.0,408.7L610.7,407.6L612.4,406.5L614.1,405.3L615.8,404.2L617.5,403.1L619.2,401.9L620.9,400.8L622.7,399.7L624.4,398.6L626.1,397.5L627.9,396.4L629.6,395.3L631.3,394.2L633.1,393.1L634.8,392.0L636.6,391.0L638.4,389.9L640.2,388.8L642.0,387.7L643.8,386.7L645.6,385.6L647.4,384.6L649.2,383.6L651.0,382.5L652.8,381.5L654.6,380.5L656.4,379.5L658.2,378.5L659.9,377.5L661.8,376.5L663.6,375.6L665.4,374.6L667.2,373.6L669.0,372.7L670.8,371.7L672.6,370.7L674.4,369.8L676.2,368.8L678.0,367.9L679.8,367.0L681.7,366.0L683.5,365.1L685.3,364.2L687.2,363.2L689.1,362.3L691.0,361.4L692.9,360.5L694.7,359.5L696.7,358.6L698.6,357.8L700.5,356.9L702.4,356.0L704.3,355.2L706.3,354.3L708.2,353.5L710.1,352.7L712.1,351.8L714.2,351.0L716.2,350.2L718.4,349.4L720.4,348.6L722.4,347.9L724.4,347.2L726.4,346.5L728.3,345.9L730.2,345.2L732.0,344.6L733.8,344.0L735.6,343.3L737.3,342.7L738.9,342.1L740.6,341.4L742.1,340.8L743.6,340.2L745.1,339.5L746.6,338.8L748.2,338.0L749.9,337.2L751.5,336.3L753.3,335.4L755.1,334.5L757.0,333.5L758.9,332.6L761.0,331.6L763.0,330.6L765.1,329.6L767.3,328.7L769.5,327.8L771.8,326.9L773.9,326.2L776.1,325.4L778.2,324.7L780.3,324.0L782.4,323.4L784.4,322.8L786.5,322.2L788.5,321.6L790.6,321.0L792.6,320.4L794.6,319.9L796.6,319.4L798.7,318.8L800.7,318.3L802.7,317.8L804.7,317.3L806.7,316.8L808.6,316.4L810.6,315.9L812.6,315.4L814.6,314.9L816.6,314.5L818.6,314.0L820.6,313.5L822.6,313.1L824.6,312.6L826.6,312.2L828.7,311.8L830.7,311.3L832.7,310.9L834.7,310.5L836.8,310.1L838.8,309.7L840.8,309.3L842.9,308.9L844.9,308.5L847.0,308.2L849.0,307.8L851.0,307.4L853.1,307.1L855.1,306.7L857.2,306.4L859.2,306.1L861.3,305.8L863.3,305.4L865.4,305.1L867.4,304.8L869.5,304.5L871.5,304.3L873.6,304.0L875.6,303.7L877.7,303.5L879.7,303.2L881.8,303.0L883.9,302.7L885.9,302.5L888.0,302.3L890.0,302.1L892.1,301.9L894.2,301.6L896.2,301.5L898.3,301.3L900.4,301.1L902.5,300.9L904.6,300.8L906.7,300.6L908.8,300.5L910.8,300.4L912.9,300.2L915.0,300.1L917.0,300.0L919.1,299.9L921.1,299.8L923.2,299.8L925.2,299.7L927.3,299.6L929.3,299.5L931.3,299.5L933.4,299.4L935.4,299.3L937.4,299.3L939.4,299.2L941.5,299.2L943.5,299.1L945.6,299.1L947.6,299.0L949.7,299.0L951.7,298.9L953.7,298.9L955.8,298.9L957.8,298.9L959.8,298.9L961.9,298.8L963.9,298.8L965.9,298.8L967.9,298.8L969.9,298.8L972.0,298.8L974.0,298.8L976.0,298.8L978.0,298.8L980.0,298.8L982.1,298.8L984.2,298.8L986.3,298.8L988.4,298.9L990.5,298.9L992.6,299.0L994.6,299.0L996.6,299.1L998.5,299.2Z" fill="#fff" stroke="none"/>
<defs><clipPath id="blobclip"><path d="M1000.0,319.0L1002.0,319.0L1004.0,319.1L1006.0,319.1L1008.0,319.1L1010.0,319.2L1012.0,319.2L1014.0,319.2L1016.0,319.3L1018.0,319.4L1020.0,319.5L1022.0,319.6L1024.0,319.8L1026.0,320.0L1028.0,320.2L1030.0,320.4L1032.0,320.6L1033.9,320.8L1035.9,321.0L1037.9,321.3L1039.9,321.5L1041.9,321.7L1043.9,321.9L1045.9,322.2L1047.9,322.4L1049.8,322.6L1051.8,322.9L1053.8,323.1L1055.8,323.4L1057.8,323.7L1059.8,324.0L1061.7,324.2L1063.7,324.5L1065.7,324.8L1067.7,325.1L1069.7,325.4L1071.6,325.6L1073.6,325.9L1075.6,326.2L1077.6,326.5L1079.6,326.8L1081.5,327.1L1083.5,327.4L1085.5,327.7L1087.5,328.0L1089.5,328.3L1091.4,328.6L1093.4,328.9L1095.4,329.2L1097.4,329.6L1099.3,329.9L1101.3,330.2L1103.3,330.6L1105.2,330.9L1107.2,331.3L1109.2,331.7L1111.1,332.1L1113.1,332.4L1115.1,332.8L1117.0,333.2L1119.0,333.6L1120.9,334.0L1122.9,334.4L1124.9,334.8L1126.8,335.2L1128.8,335.6L1130.7,336.0L1132.7,336.5L1134.7,336.9L1136.6,337.3L1138.6,337.7L1140.5,338.1L1142.5,338.5L1144.4,338.9L1146.4,339.4L1148.4,339.8L1150.3,340.2L1152.3,340.6L1154.2,341.0L1156.2,341.5L1158.1,341.9L1160.1,342.3L1162.0,342.8L1164.0,343.2L1165.9,343.7L1167.9,344.1L1169.8,344.6L1171.8,345.0L1173.7,345.5L1175.7,345.9L1177.6,346.4L1179.6,346.9L1181.5,347.4L1183.5,347.9L1185.4,348.4L1187.3,348.9L1189.3,349.4L1191.2,349.9L1193.1,350.4L1195.1,350.9L1197.0,351.4L1198.9,351.9L1200.9,352.4L1202.8,353.0L1204.7,353.5L1206.7,354.0L1208.6,354.6L1210.5,355.1L1212.4,355.7L1214.3,356.3L1216.3,356.8L1218.2,357.4L1220.1,358.0L1222.0,358.6L1223.9,359.2L1225.8,359.8L1227.7,360.4L1229.6,361.1L1231.5,361.7L1233.4,362.3L1235.3,363.0L1237.2,363.6L1239.1,364.3L1241.0,364.9L1242.9,365.6L1244.8,366.2L1246.6,366.9L1248.5,367.6L1250.4,368.3L1252.3,369.0L1254.1,369.7L1256.0,370.4L1257.9,371.2L1259.7,371.9L1261.6,372.6L1263.4,373.4L1265.3,374.1L1267.1,374.9L1269.0,375.7L1270.8,376.4L1272.7,377.2L1274.5,378.0L1276.4,378.8L1278.2,379.6L1280.0,380.4L1281.9,381.2L1283.7,382.0L1285.5,382.9L1287.3,383.7L1289.1,384.6L1290.9,385.4L1292.7,386.3L1294.5,387.2L1296.3,388.1L1298.1,389.0L1299.9,389.9L1301.6,390.9L1303.4,391.8L1305.1,392.8L1306.9,393.7L1308.6,394.7L1310.4,395.7L1312.1,396.7L1313.8,397.7L1315.6,398.7L1317.3,399.7L1319.0,400.8L1320.7,401.8L1322.4,402.9L1324.1,403.9L1325.8,405.0L1327.5,406.0L1329.2,407.1L1330.9,408.2L1332.6,409.2L1334.3,410.3L1336.0,411.4L1337.6,412.5L1339.3,413.6L1341.0,414.7L1342.7,415.8L1344.3,416.8L1346.0,418.0L1347.7,419.1L1349.3,420.2L1351.0,421.3L1352.7,422.4L1354.3,423.6L1356.0,424.7L1357.6,425.8L1359.2,427.0L1360.9,428.1L1362.5,429.3L1364.1,430.4L1365.8,431.6L1367.4,432.8L1369.0,433.9L1370.6,435.1L1372.3,436.3L1373.9,437.5L1375.5,438.6L1377.1,439.8L1378.7,441.0L1380.3,442.2L1381.9,443.4L1383.5,444.6L1385.1,445.8L1386.7,447.0L1388.3,448.2L1389.9,449.5L1391.5,450.7L1393.1,451.9L1394.7,453.1L1396.2,454.3L1397.8,455.5L1399.4,456.8L1401.0,458.0L1402.5,459.3L1404.1,460.5L1405.7,461.8L1407.2,463.0L1408.7,464.3L1410.3,465.6L1411.8,466.9L1413.3,468.2L1414.9,469.5L1416.4,470.8L1417.9,472.1L1419.4,473.4L1420.9,474.8L1422.3,476.1L1423.8,477.5L1425.3,478.8L1426.7,480.2L1428.2,481.6L1429.6,483.0L1431.1,484.3L1432.5,485.7L1434.0,487.1L1435.4,488.5L1436.8,489.9L1438.2,491.4L1439.6,492.8L1441.0,494.2L1442.4,495.6L1443.9,497.0L1445.2,498.5L1446.6,499.9L1448.0,501.3L1449.4,502.8L1450.8,504.2L1452.2,505.7L1453.6,507.1L1454.9,508.6L1456.3,510.0L1457.7,511.5L1459.0,513.0L1460.4,514.4L1461.8,515.9L1463.1,517.4L1464.5,518.9L1465.8,520.3L1467.1,521.8L1468.5,523.3L1469.8,524.8L1471.1,526.3L1472.5,527.8L1473.8,529.3L1475.1,530.8L1476.4,532.3L1477.8,533.8L1479.1,535.3L1480.4,536.8L1481.7,538.3L1483.0,539.8L1484.3,541.4L1485.6,542.9L1486.9,544.4L1488.2,545.9L1489.5,547.4L1490.8,549.0L1492.1,550.5L1493.4,552.0L1494.7,553.6L1495.9,555.1L1497.2,556.6L1498.5,558.2L1499.8,559.7L1501.0,561.3L1502.3,562.8L1503.5,564.4L1504.8,566.0L1506.0,567.6L1507.1,569.2L1508.3,570.9L1509.4,572.5L1510.4,574.2L1511.5,575.9L1512.5,577.6L1513.6,579.3L1514.6,581.0L1515.7,582.7L1516.7,584.4L1517.8,586.1L1518.8,587.9L1519.8,589.6L1520.8,591.3L1521.8,593.1L1522.8,594.8L1523.8,596.5L1524.8,598.3L1525.8,600.0L1526.7,601.8L1527.7,603.5L1528.7,605.2L1529.7,607.0L1530.7,608.7L1531.6,610.5L1532.6,612.2L1533.6,614.0L1534.5,615.7L1535.5,617.5L1536.4,619.3L1537.4,621.0L1538.3,622.8L1539.2,624.6L1540.2,626.3L1541.1,628.1L1542.0,629.9L1542.9,631.7L1543.9,633.4L1544.8,635.2L1545.7,637.0L1546.6,638.8L1547.5,640.6L1548.4,642.4L1549.2,644.2L1550.1,646.0L1551.0,647.8L1551.8,649.6L1552.6,651.4L1553.5,653.2L1554.2,655.1L1555.0,656.9L1555.8,658.8L1556.6,660.6L1557.3,662.5L1558.1,664.3L1558.8,666.2L1559.6,668.0L1560.3,669.9L1561.1,671.7L1561.8,673.6L1562.6,675.4L1563.4,677.3L1564.2,679.1L1565.0,681.0L1565.8,682.8L1566.5,684.6L1567.3,686.5L1568.1,688.3L1568.9,690.2L1569.6,692.0L1570.4,693.9L1571.1,695.7L1571.8,697.6L1572.5,699.5L1573.2,701.4L1573.9,703.2L1574.6,705.1L1575.2,707.0L1575.8,708.9L1576.5,710.8L1577.1,712.7L1577.7,714.6L1578.3,716.5L1578.9,718.4L1579.5,720.4L1580.1,722.3L1580.7,724.2L1581.2,726.1L1581.8,728.0L1582.4,729.9L1582.9,731.9L1583.5,733.8L1584.0,735.7L1584.5,737.7L1585.0,739.6L1585.4,741.5L1585.9,743.5L1586.3,745.4L1586.7,747.4L1587.1,749.4L1587.4,751.3L1587.8,753.3L1588.1,755.3L1588.4,757.3L1588.7,759.2L1589.0,761.2L1589.3,763.2L1589.6,765.2L1589.9,767.2L1590.2,769.1L1590.5,771.1L1590.7,773.1L1591.0,775.1L1591.3,777.1L1591.6,779.0L1591.8,781.0L1592.1,783.0L1592.3,785.0L1592.5,787.0L1592.7,789.0L1592.9,791.0L1593.1,793.0L1593.2,795.0L1593.4,797.0L1593.5,799.0L1593.6,801.0L1593.7,803.0L1593.8,805.0L1593.8,807.0L1593.9,809.0L1593.9,811.0L1594.0,813.0L1594.0,815.0L1594.0,817.0L1594.0,819.0L1594.0,821.0L1594.0,823.0L1593.9,825.0L1593.9,827.0L1593.9,829.0L1593.8,831.0L1593.7,833.0L1593.6,835.0L1593.5,836.9L1593.3,838.9L1593.2,840.9L1593.0,842.9L1592.8,844.9L1592.6,846.9L1592.4,848.9L1592.1,850.9L1591.9,852.9L1591.6,854.9L1591.3,856.8L1591.1,858.8L1590.8,860.8L1590.5,862.8L1590.2,864.8L1589.9,866.7L1589.5,868.7L1589.2,870.7L1588.9,872.7L1588.5,874.6L1588.2,876.6L1587.8,878.6L1587.5,880.5L1587.1,882.5L1586.7,884.5L1586.3,886.4L1585.9,888.4L1585.4,890.3L1585.0,892.3L1584.5,894.2L1584.0,896.1L1583.4,898.1L1582.9,900.0L1582.3,901.9L1581.7,903.8L1581.1,905.7L1580.5,907.6L1579.9,909.5L1579.2,911.4L1578.5,913.3L1577.9,915.2L1577.1,917.1L1576.4,918.9L1575.7,920.8L1574.9,922.6L1574.1,924.5L1573.3,926.3L1572.5,928.1L1571.7,930.0L1570.9,931.8L1570.0,933.6L1569.2,935.4L1568.3,937.2L1567.4,939.0L1566.6,940.8L1565.7,942.6L1564.8,944.4L1563.9,946.2L1563.0,948.0L1562.1,949.8L1561.2,951.5L1560.3,953.3L1559.3,955.1L1558.4,956.9L1557.5,958.6L1556.5,960.4L1555.5,962.1L1554.6,963.9L1553.6,965.6L1552.6,967.4L1551.6,969.1L1550.7,970.9L1549.7,972.6L1548.7,974.3L1547.7,976.1L1546.7,977.8L1545.6,979.5L1544.6,981.2L1543.6,983.0L1542.6,984.7L1541.5,986.4L1540.5,988.1L1539.4,989.8L1538.4,991.5L1537.3,993.2L1536.2,994.8L1535.0,996.5L1533.9,998.1L1532.7,999.8L1531.6,1001.4L1530.4,1003.0L1529.1,1004.6L1527.9,1006.1L1526.6,1007.7L1525.4,1009.2L1524.1,1010.8L1522.8,1012.3L1521.5,1013.8L1520.2,1015.3L1518.9,1016.8L1517.5,1018.3L1516.2,1019.8L1514.8,1021.3L1513.5,1022.8L1512.1,1024.2L1510.8,1025.7L1509.4,1027.1L1508.0,1028.6L1506.6,1030.0L1505.2,1031.5L1503.8,1032.9L1502.4,1034.3L1501.0,1035.7L1499.5,1037.1L1498.0,1038.4L1496.6,1039.8L1495.1,1041.1L1493.5,1042.4L1492.0,1043.7L1490.4,1044.9L1488.9,1046.2L1487.3,1047.4L1485.7,1048.6L1484.1,1049.8L1482.5,1051.0L1480.8,1052.1L1479.2,1053.2L1477.5,1054.3L1475.8,1055.4L1474.1,1056.5L1472.4,1057.5L1470.7,1058.6L1469.0,1059.6L1467.3,1060.6L1465.5,1061.6L1463.8,1062.5L1462.0,1063.5L1460.2,1064.4L1458.5,1065.3L1456.7,1066.2L1454.9,1067.1L1453.1,1068.0L1451.3,1068.9L1449.5,1069.8L1447.7,1070.6L1445.8,1071.4L1444.0,1072.2L1442.2,1073.1L1440.4,1073.8L1438.5,1074.6L1436.7,1075.4L1434.8,1076.1L1432.9,1076.8L1431.0,1077.5L1429.2,1078.2L1427.3,1078.9L1425.4,1079.5L1423.5,1080.2L1421.6,1080.8L1419.7,1081.4L1417.8,1082.1L1415.9,1082.7L1414.0,1083.3L1412.1,1083.9L1410.2,1084.5L1408.3,1085.1L1406.6,1086.1L1404.6,1086.1L1402.6,1086.0L1400.6,1086.0L1398.6,1086.0L1396.6,1086.0L1394.6,1085.9L1392.6,1085.9L1390.6,1085.8L1388.6,1085.8L1386.6,1085.7L1384.6,1085.7L1382.6,1085.6L1380.6,1085.5L1378.6,1085.5L1376.6,1085.4L1374.6,1085.3L1372.6,1085.3L1370.6,1085.2L1368.6,1085.1L1366.6,1085.0L1364.6,1085.0L1362.6,1084.9L1360.6,1084.8L1358.6,1084.7L1356.6,1084.7L1354.6,1084.6L1352.6,1084.5L1350.6,1084.4L1348.6,1084.4L1346.6,1084.3L1344.6,1084.2L1342.6,1084.1L1340.6,1084.0L1338.6,1083.9L1336.6,1083.9L1334.6,1083.8L1332.6,1083.7L1330.6,1083.6L1328.6,1083.5L1326.6,1083.4L1324.6,1083.3L1322.6,1083.2L1320.6,1083.1L1318.6,1083.0L1316.6,1082.9L1314.6,1082.8L1312.6,1082.7L1310.6,1082.6L1308.6,1082.5L1306.6,1082.4L1304.6,1082.3L1302.6,1082.2L1300.6,1082.1L1298.6,1082.0L1296.6,1081.9L1294.6,1081.8L1292.6,1081.6L1290.6,1081.5L1288.6,1081.4L1286.6,1081.3L1284.7,1081.2L1282.7,1081.1L1280.7,1081.0L1278.7,1080.9L1276.7,1080.8L1274.7,1080.7L1272.7,1080.6L1270.7,1080.5L1268.7,1080.4L1266.7,1080.4L1264.7,1080.3L1262.7,1080.2L1260.7,1080.1L1258.7,1080.0L1256.7,1079.9L1254.7,1079.8L1252.7,1079.7L1250.7,1079.6L1248.7,1079.5L1246.7,1079.4L1244.7,1079.3L1242.7,1079.2L1240.7,1079.1L1238.7,1079.0L1236.7,1078.9L1234.7,1078.8L1232.7,1078.7L1230.7,1078.6L1228.7,1078.5L1226.7,1078.4L1224.7,1078.3L1222.7,1078.2L1220.7,1078.0L1218.7,1077.9L1216.7,1077.8L1214.7,1077.6L1212.7,1077.5L1210.7,1077.3L1208.7,1077.1L1206.7,1076.9L1204.8,1076.7L1202.8,1076.5L1200.8,1076.3L1198.8,1076.1L1196.8,1075.9L1194.8,1075.8L1192.8,1075.7L1190.8,1075.5L1188.8,1075.4L1186.8,1075.3L1184.8,1075.2L1182.8,1075.1L1180.8,1075.1L1178.8,1075.0L1176.8,1074.9L1174.8,1074.8L1172.8,1074.7L1170.8,1074.6L1168.8,1074.5L1166.8,1074.5L1164.8,1074.4L1162.8,1074.3L1160.8,1074.2L1158.8,1074.1L1156.8,1074.1L1154.8,1074.0L1152.8,1073.9L1150.8,1073.8L1148.8,1073.8L1146.8,1073.7L1144.8,1073.6L1142.8,1073.6L1140.8,1073.5L1138.8,1073.4L1136.8,1073.4L1134.8,1073.3L1132.8,1073.2L1130.8,1073.2L1128.8,1073.1L1126.8,1073.0L1124.8,1073.0L1122.8,1072.9L1120.8,1072.8L1118.8,1072.8L1116.8,1072.7L1114.8,1072.7L1112.8,1072.6L1110.8,1072.5L1108.8,1072.5L1106.8,1072.4L1104.8,1072.4L1102.8,1072.3L1100.8,1072.2L1098.8,1072.2L1096.8,1072.1L1094.8,1072.1L1092.8,1072.0L1090.8,1072.0L1088.8,1071.9L1086.8,1071.8L1084.8,1071.8L1082.8,1071.7L1080.8,1071.7L1078.8,1071.6L1076.8,1071.6L1074.8,1071.5L1072.8,1071.5L1070.8,1071.4L1068.8,1071.4L1066.8,1071.3L1064.8,1071.3L1062.8,1071.3L1060.8,1071.2L1058.8,1071.2L1056.8,1071.1L1054.8,1071.1L1052.8,1071.1L1050.8,1071.0L1048.8,1071.0L1046.8,1070.9L1044.8,1070.9L1042.8,1070.9L1040.8,1070.9L1038.8,1070.8L1036.8,1070.8L1034.8,1070.8L1032.8,1070.8L1030.8,1070.8L1028.8,1070.8L1026.8,1070.8L1024.8,1070.8L1022.8,1070.8L1020.8,1070.8L1018.8,1070.8L1016.8,1070.8L1014.8,1070.8L1012.8,1070.9L1010.8,1070.9L1008.8,1070.9L1006.8,1071.0L1004.8,1071.0L1002.8,1071.1L1000.8,1071.1L998.8,1071.2L996.8,1071.2L994.8,1071.3L992.8,1071.4L990.8,1071.4L988.8,1071.5L986.8,1071.6L984.8,1071.6L982.8,1071.7L980.8,1071.8L978.8,1071.9L976.8,1071.9L974.8,1072.0L972.8,1072.1L970.8,1072.2L968.8,1072.3L966.8,1072.3L964.8,1072.4L962.8,1072.5L960.8,1072.6L958.8,1072.7L956.8,1072.7L954.8,1072.8L952.8,1072.9L950.8,1073.0L948.8,1073.0L946.8,1073.1L944.8,1073.2L942.8,1073.3L940.8,1073.3L938.8,1073.4L936.8,1073.5L934.8,1073.5L932.8,1073.6L930.8,1073.7L928.8,1073.7L926.8,1073.8L924.8,1073.9L922.8,1073.9L920.8,1074.0L918.8,1074.1L916.8,1074.2L914.8,1074.2L912.8,1074.3L910.8,1074.4L908.8,1074.4L906.8,1074.5L904.8,1074.6L902.8,1074.7L900.8,1074.8L898.8,1074.9L896.8,1074.9L894.8,1075.0L892.8,1075.1L890.8,1075.2L888.9,1075.3L886.9,1075.5L884.9,1075.6L882.9,1075.7L880.9,1075.8L878.9,1076.0L876.9,1076.1L874.9,1076.3L872.9,1076.5L870.9,1076.6L868.9,1076.8L866.9,1077.1L864.9,1077.3L862.9,1077.5L860.9,1077.7L859.0,1078.0L857.0,1078.2L855.0,1078.4L853.0,1078.7L851.0,1078.9L849.0,1079.1L847.0,1079.3L845.0,1079.6L843.1,1079.8L841.1,1080.1L839.1,1080.3L837.1,1080.6L835.1,1080.8L833.1,1081.1L831.2,1081.3L829.2,1081.6L827.2,1081.8L825.2,1082.1L823.2,1082.4L821.2,1082.6L819.2,1082.9L817.3,1083.1L815.3,1083.3L813.3,1083.6L811.3,1083.8L809.3,1084.0L807.3,1084.3L805.3,1084.5L803.3,1084.7L801.4,1084.9L799.4,1085.1L797.4,1085.2L795.4,1085.4L793.4,1085.6L791.4,1085.7L789.4,1085.9L787.4,1086.0L785.4,1086.2L783.4,1086.3L781.4,1086.5L779.4,1086.6L777.4,1086.7L775.4,1086.9L773.4,1087.0L771.4,1087.1L769.4,1087.2L767.4,1087.3L765.4,1087.4L763.4,1087.5L761.4,1087.6L759.4,1087.7L757.4,1087.8L755.4,1087.9L753.4,1087.9L751.4,1088.0L749.4,1088.1L747.4,1088.2L745.4,1088.2L743.4,1088.3L741.4,1088.4L739.4,1088.4L737.4,1088.5L735.4,1088.5L733.4,1088.6L731.4,1088.7L729.4,1088.7L727.4,1088.7L725.4,1088.8L723.4,1088.8L721.4,1088.9L719.4,1088.9L717.4,1088.9L715.4,1088.9L713.4,1089.0L711.4,1089.0L709.4,1089.0L707.4,1089.0L705.4,1089.0L703.4,1089.0L701.4,1089.0L699.4,1089.0L697.4,1089.0L695.4,1089.0L693.4,1088.9L691.4,1088.9L689.4,1088.9L687.4,1088.8L685.4,1088.7L683.4,1088.7L681.4,1088.6L679.4,1088.5L677.4,1088.5L675.4,1088.4L673.4,1088.3L671.4,1088.2L669.4,1088.1L667.4,1087.9L665.4,1087.8L663.4,1087.7L661.4,1087.6L659.5,1087.5L657.5,1087.3L655.5,1087.2L653.5,1087.0L651.5,1086.9L649.5,1086.7L647.5,1086.6L645.5,1086.4L643.5,1086.2L641.5,1086.1L639.5,1085.9L637.5,1085.7L635.5,1085.5L633.5,1085.3L631.5,1085.1L629.5,1084.9L627.6,1084.8L625.6,1084.6L623.6,1084.4L621.6,1084.2L619.6,1084.0L617.6,1083.8L615.6,1083.6L613.6,1083.4L611.6,1083.2L609.6,1082.9L607.7,1082.7L605.7,1082.5L603.7,1082.3L601.7,1082.1L599.7,1081.8L597.7,1081.6L595.7,1081.3L593.7,1081.0L591.8,1080.8L589.8,1080.5L587.8,1080.2L585.8,1079.9L583.9,1079.6L581.9,1079.2L579.9,1078.9L577.9,1078.6L576.0,1078.3L574.0,1077.9L572.0,1077.6L570.1,1077.2L568.1,1076.8L566.1,1076.4L564.2,1076.0L562.2,1075.5L560.3,1075.1L558.3,1074.6L556.4,1074.1L554.5,1073.6L552.5,1073.1L550.6,1072.6L548.7,1072.1L546.7,1071.5L544.8,1071.0L542.9,1070.4L541.0,1069.8L539.1,1069.2L537.2,1068.6L535.3,1067.9L533.4,1067.3L531.5,1066.6L529.6,1065.9L527.8,1065.1L525.9,1064.3L524.1,1063.5L522.3,1062.7L520.5,1061.8L518.7,1060.9L516.9,1060.0L515.2,1059.1L513.4,1058.1L511.6,1057.2L509.9,1056.2L508.2,1055.2L506.4,1054.2L504.7,1053.2L502.9,1052.3L501.2,1051.3L499.5,1050.2L497.7,1049.2L496.0,1048.2L494.3,1047.2L492.6,1046.1L490.9,1045.1L489.2,1044.0L487.5,1042.9L485.8,1041.9L484.2,1040.8L482.5,1039.7L480.8,1038.6L479.2,1037.4L477.5,1036.3L475.9,1035.2L474.2,1034.0L472.6,1032.9L471.0,1031.7L469.4,1030.5L467.7,1029.3L466.1,1028.1L464.5,1026.9L463.0,1025.7L461.4,1024.5L459.8,1023.2L458.3,1021.9L456.8,1020.6L455.2,1019.3L453.7,1018.0L452.3,1016.7L450.8,1015.3L449.3,1014.0L447.9,1012.6L446.4,1011.2L445.0,1009.8L443.6,1008.3L442.2,1006.9L440.9,1005.4L439.5,1004.0L438.2,1002.5L436.9,1001.0L435.5,999.5L434.2,997.9L433.0,996.4L431.7,994.8L430.5,993.3L429.2,991.7L428.0,990.1L426.8,988.5L425.6,986.9L424.5,985.3L423.3,983.7L422.1,982.0L421.0,980.4L419.8,978.7L418.7,977.1L417.6,975.4L416.5,973.7L415.4,972.1L414.4,970.4L413.3,968.7L412.3,966.9L411.3,965.2L410.3,963.5L409.3,961.8L408.3,960.0L407.3,958.3L406.4,956.5L405.4,954.7L404.5,953.0L403.6,951.2L402.7,949.4L401.8,947.6L400.9,945.8L400.0,944.0L399.2,942.2L398.3,940.4L397.5,938.6L396.7,936.8L395.9,934.9L395.1,933.1L394.3,931.2L393.6,929.4L392.8,927.5L392.1,925.7L391.4,923.8L390.7,921.9L390.1,920.0L389.4,918.1L388.8,916.2L388.2,914.3L387.6,912.4L387.0,910.5L386.4,908.6L385.8,906.7L385.2,904.8L384.7,902.8L384.1,900.9L383.5,899.0L383.0,897.1L382.5,895.1L382.0,893.2L381.5,891.3L381.1,889.3L380.7,887.3L380.3,885.4L379.9,883.4L379.6,881.4L379.2,879.5L378.9,877.5L378.7,875.5L378.4,873.5L378.2,871.5L377.9,869.6L377.7,867.6L377.5,865.6L377.3,863.6L377.1,861.6L377.0,859.6L376.8,857.6L376.7,855.6L376.5,853.6L376.4,851.6L376.3,849.6L376.2,847.6L376.1,845.6L376.0,843.6L375.9,841.6L375.8,839.6L375.7,837.6L375.7,835.6L375.6,833.6L375.5,831.6L375.5,829.6L375.4,827.6L375.4,825.6L375.3,823.6L375.3,821.6L375.3,819.6L375.3,817.6L375.2,815.6L375.3,813.6L375.3,811.6L375.3,809.6L375.4,807.6L375.5,805.6L375.6,803.6L375.8,801.6L376.1,799.7L376.4,797.7L376.8,795.7L377.3,793.8L377.7,791.8L378.0,789.8L378.4,787.9L378.7,785.9L379.0,783.9L379.3,781.9L379.7,780.0L380.0,778.0L380.3,776.0L380.7,774.1L381.1,772.1L381.5,770.1L382.0,768.2L382.4,766.2L382.9,764.3L383.4,762.4L383.8,760.4L384.3,758.5L384.8,756.5L385.3,754.6L385.8,752.7L386.4,750.7L386.9,748.8L387.4,746.9L388.0,745.0L388.5,743.0L389.1,741.1L389.6,739.2L390.2,737.3L390.8,735.4L391.4,733.4L392.0,731.5L392.6,729.6L393.2,727.7L393.8,725.8L394.5,723.9L395.1,722.0L395.8,720.1L396.4,718.2L397.1,716.4L397.7,714.5L398.4,712.6L399.0,710.7L399.7,708.8L400.4,706.9L401.1,705.0L401.7,703.2L402.4,701.3L403.1,699.4L403.8,697.5L404.5,695.6L405.2,693.8L405.9,691.9L406.6,690.0L407.3,688.1L408.0,686.3L408.7,684.4L409.4,682.5L410.2,680.7L410.9,678.8L411.6,676.9L412.4,675.1L413.1,673.2L413.9,671.4L414.6,669.5L415.4,667.7L416.2,665.8L417.0,664.0L417.8,662.2L418.5,660.3L419.3,658.5L420.1,656.7L421.0,654.8L421.8,653.0L422.6,651.2L423.4,649.3L424.2,647.5L425.0,645.7L425.8,643.9L426.7,642.0L427.5,640.2L428.3,638.4L429.1,636.6L430.0,634.7L430.8,632.9L431.6,631.1L432.5,629.3L433.3,627.5L434.2,625.7L435.1,623.9L435.9,622.1L436.8,620.3L437.7,618.5L438.7,616.7L439.6,615.0L440.5,613.2L441.5,611.4L442.4,609.7L443.4,607.9L444.4,606.2L445.4,604.4L446.4,602.7L447.4,601.0L448.4,599.2L449.4,597.5L450.4,595.8L451.5,594.1L452.5,592.4L453.6,590.7L454.6,589.0L455.7,587.3L456.8,585.6L457.9,583.9L459.0,582.3L460.1,580.6L461.2,578.9L462.3,577.3L463.5,575.7L464.6,574.0L465.8,572.4L467.0,570.8L468.2,569.2L469.5,567.7L470.7,566.1L472.0,564.6L473.3,563.1L474.7,561.6L476.0,560.1L477.4,558.6L478.8,557.2L480.1,555.7L481.5,554.3L482.9,552.8L484.3,551.4L485.6,549.9L487.0,548.4L488.3,546.9L489.6,545.4L490.9,543.9L492.2,542.4L493.4,540.8L494.7,539.2L495.9,537.7L497.2,536.1L498.4,534.5L499.6,532.9L500.8,531.3L502.0,529.7L503.3,528.2L504.5,526.6L505.8,525.0L507.0,523.5L508.3,521.9L509.6,520.4L511.0,518.9L512.3,517.5L513.7,516.0L515.1,514.6L516.5,513.1L517.9,511.7L519.3,510.3L520.7,508.9L522.2,507.5L523.6,506.1L525.1,504.8L526.5,503.4L527.9,502.0L529.4,500.6L530.8,499.2L532.3,497.8L533.7,496.4L535.1,495.0L536.6,493.6L538.0,492.2L539.4,490.8L540.9,489.5L542.3,488.1L543.8,486.7L545.3,485.3L546.7,484.0L548.2,482.6L549.7,481.3L551.2,480.0L552.7,478.6L554.2,477.3L555.7,476.0L557.2,474.7L558.7,473.4L560.2,472.1L561.8,470.8L563.3,469.5L564.9,468.3L566.4,467.0L567.9,465.7L569.5,464.4L571.0,463.2L572.6,461.9L574.1,460.6L575.7,459.4L577.2,458.1L578.8,456.9L580.4,455.6L581.9,454.4L583.5,453.2L585.1,451.9L586.7,450.7L588.2,449.4L589.8,448.2L591.3,446.9L592.9,445.6L594.4,444.3L595.9,443.0L597.4,441.7L599.0,440.4L600.5,439.2L602.1,437.9L603.6,436.7L605.2,435.5L606.8,434.3L608.5,433.1L610.1,431.9L611.7,430.8L613.4,429.7L615.0,428.5L616.7,427.4L618.3,426.3L620.0,425.2L621.7,424.1L623.3,422.9L625.0,421.8L626.7,420.7L628.3,419.6L630.0,418.6L631.7,417.5L633.4,416.4L635.1,415.3L636.7,414.2L638.4,413.1L640.1,412.1L641.8,411.0L643.5,410.0L645.2,408.9L646.9,407.9L648.6,406.8L650.4,405.8L652.1,404.8L653.8,403.8L655.5,402.7L657.3,401.7L659.0,400.7L660.7,399.8L662.5,398.8L664.2,397.8L666.0,396.8L667.7,395.8L669.5,394.9L671.2,393.9L673.0,393.0L674.7,392.0L676.5,391.1L678.3,390.1L680.0,389.2L681.8,388.3L683.6,387.3L685.4,386.4L687.1,385.5L688.9,384.6L690.7,383.7L692.5,382.7L694.3,381.8L696.0,380.9L697.8,380.1L699.6,379.2L701.4,378.3L703.2,377.4L705.0,376.6L706.9,375.7L708.7,374.9L710.5,374.1L712.3,373.3L714.2,372.5L716.0,371.7L717.8,370.9L719.7,370.1L721.5,369.4L723.4,368.6L725.3,367.9L727.2,367.2L729.0,366.6L730.9,365.9L732.8,365.2L734.7,364.6L736.6,364.0L738.5,363.3L740.4,362.6L742.3,362.0L744.1,361.3L746.0,360.6L747.9,359.9L749.7,359.1L751.6,358.3L753.4,357.5L755.2,356.6L757.0,355.8L758.8,354.9L760.6,354.0L762.4,353.0L764.1,352.1L765.9,351.2L767.7,350.3L769.5,349.4L771.3,348.6L773.1,347.8L775.0,347.0L776.8,346.2L778.7,345.5L780.6,344.8L782.5,344.2L784.4,343.5L786.3,342.9L788.2,342.3L790.1,341.7L792.0,341.2L793.9,340.6L795.9,340.1L797.8,339.6L799.7,339.0L801.7,338.5L803.6,338.0L805.5,337.5L807.5,337.0L809.4,336.6L811.4,336.1L813.3,335.6L815.2,335.1L817.2,334.7L819.1,334.2L821.1,333.7L823.0,333.3L825.0,332.8L826.9,332.4L828.9,332.0L830.8,331.5L832.8,331.1L834.8,330.7L836.7,330.3L838.7,329.9L840.6,329.5L842.6,329.1L844.6,328.7L846.5,328.4L848.5,328.0L850.5,327.6L852.4,327.3L854.4,326.9L856.4,326.6L858.4,326.3L860.3,325.9L862.3,325.6L864.3,325.3L866.3,325.0L868.2,324.7L870.2,324.4L872.2,324.2L874.2,323.9L876.2,323.6L878.1,323.4L880.1,323.1L882.1,322.9L884.1,322.6L886.1,322.4L888.1,322.2L890.1,322.0L892.1,321.8L894.0,321.6L896.0,321.4L898.0,321.2L900.0,321.0L902.0,320.8L904.0,320.7L906.0,320.5L908.0,320.4L910.0,320.3L912.0,320.1L914.0,320.0L916.0,319.9L918.0,319.8L920.0,319.7L922.0,319.6L924.0,319.5L926.0,319.5L928.0,319.4L930.0,319.3L932.0,319.3L934.0,319.2L936.0,319.1L938.0,319.1L940.0,319.0L942.0,318.9L944.0,318.9L946.0,318.9L948.0,318.8L950.0,318.8L952.0,318.7L954.0,318.7L956.0,318.7L958.0,318.7L960.0,318.7L962.0,318.6L964.0,318.6L966.0,318.6L968.0,318.6L970.0,318.6L972.0,318.6L974.0,318.6L976.0,318.6L978.0,318.6L980.0,318.6L982.0,318.6L984.0,318.6L986.0,318.6L988.0,318.7L990.0,318.7L992.0,318.8L994.0,318.8L996.0,318.9L998.0,318.9Z"/></clipPath></defs>
<g clip-path="url(#blobclip)">
<rect x="300" y="250" width="1400" height="900" fill="#e2e2e4"/>
<path d="M643.0,486.5L906.0,496.0L887.0,1076.0L860.0,1100.0L640.0,1110.0L621.0,1083.0L629.0,857.0L526.0,853.0L535.0,616.0L640.0,619.0Z" fill="#fff"/>
<path d="M1041.0,326.0L1036.0,496.0L1148.0,500.0L1180.0,503.5L1210.0,511.0L1236.0,521.0L1260.0,535.0L1284.0,553.0L1304.0,571.0L1318.0,590.0L1333.0,620.0L1346.0,647.0L1274.0,640.0L1268.0,620.0L1250.0,596.0L1230.0,580.0L1200.0,569.0L1160.0,559.0L1118.0,555.5L1090.0,555.5L1060.0,557.0L1026.0,563.0L992.0,574.0L964.0,585.0L946.0,596.0L934.0,610.0L920.0,624.0L906.0,629.0L890.0,638.0L886.0,853.0L898.0,867.0L910.0,872.0L920.0,884.0L934.0,906.0L952.0,909.0L980.0,920.0L1010.0,936.0L1040.0,943.0L1100.0,947.0L1150.0,946.0L1190.0,940.0L1220.0,927.0L1250.0,901.0L1263.0,876.0L1335.0,877.0L1324.0,900.0L1311.0,926.0L1335.0,941.0L1348.0,920.0L1360.0,900.0L1368.0,880.0L1380.0,866.0L1402.0,852.5L1424.0,849.0L1480.0,847.5L1520.0,849.5L1550.0,855.0L1576.0,865.5L1590.0,877.0L1650.0,870.0L1650.0,300.0L1041.0,300.0Z" fill="#fff"/>
<path d="M1291.0,681.0L1357.0,685.5L1362.0,700.0L1365.0,762.0L1362.0,815.0L1355.0,841.0L1287.0,838.0Z" fill="#e2e2e4"/>
</g>
<path d="M1334.5,1086.3L1332.5,1086.2L1330.5,1086.1L1328.5,1086.0L1326.5,1085.9L1324.5,1085.8L1322.5,1085.7L1320.5,1085.6L1318.5,1085.5L1316.5,1085.4L1314.5,1085.3L1312.5,1085.2L1310.5,1085.1L1308.5,1085.0L1306.5,1084.9L1304.5,1084.8L1302.5,1084.7L1300.5,1084.6L1298.5,1084.5L1296.5,1084.4L1294.5,1084.3L1292.5,1084.1L1290.5,1084.0L1288.5,1083.9L1286.5,1083.8L1284.5,1083.7L1282.5,1083.6L1280.5,1083.5L1278.5,1083.4L1276.5,1083.3L1274.5,1083.2L1272.5,1083.1L1270.5,1083.0L1268.5,1082.9L1266.5,1082.8L1264.5,1082.8L1262.5,1082.7L1260.6,1082.6L1258.6,1082.5L1256.6,1082.4L1254.6,1082.3L1252.6,1082.2L1250.6,1082.1L1248.6,1082.0L1246.6,1081.9L1244.6,1081.8L1242.6,1081.7L1240.6,1081.6L1238.6,1081.5L1236.6,1081.4L1234.6,1081.3L1232.6,1081.2L1230.6,1081.1L1228.6,1081.0L1226.6,1080.9L1224.6,1080.8L1222.6,1080.7L1220.6,1080.5L1218.5,1080.4L1216.5,1080.3L1214.5,1080.1L1212.5,1080.0L1210.5,1079.8L1208.5,1079.6L1206.5,1079.4L1204.5,1079.2L1202.5,1078.9L1200.6,1078.7L1198.6,1078.6L1196.6,1078.4L1194.6,1078.3L1192.6,1078.2L1190.7,1078.0L1188.7,1077.9L1186.7,1077.8L1184.7,1077.7L1182.7,1077.6L1180.7,1077.5L1178.7,1077.5L1176.7,1077.4L1174.7,1077.3L1172.7,1077.2L1170.7,1077.1L1168.7,1077.0L1166.7,1077.0L1164.7,1076.9L1162.7,1076.8L1160.7,1076.7L1158.7,1076.6L1156.7,1076.6L1154.7,1076.5L1152.7,1076.4L1150.7,1076.3L1148.7,1076.3L1146.7,1076.2L1144.7,1076.1L1142.7,1076.1L1140.7,1076.0L1138.7,1075.9L1136.7,1075.9L1134.7,1075.8L1132.7,1075.7L1130.7,1075.7L1128.7,1075.6L1126.7,1075.5L1124.7,1075.5L1122.8,1075.4L1120.8,1075.3L1118.8,1075.3L1116.8,1075.2L1114.8,1075.2L1112.8,1075.1L1110.8,1075.0L1108.8,1075.0L1106.8,1074.9L1104.8,1074.9L1102.8,1074.8L1100.8,1074.7L1098.8,1074.7L1096.8,1074.6L1094.8,1074.6L1092.8,1074.5L1090.8,1074.5L1088.8,1074.4L1086.8,1074.3L1084.8,1074.3L1082.8,1074.2L1080.8,1074.2L1078.8,1074.1L1076.8,1074.1L1074.8,1074.0L1072.8,1074.0L1070.8,1073.9L1068.8,1073.9L1066.8,1073.8L1064.8,1073.8L1062.8,1073.8L1060.8,1073.7L1058.8,1073.7L1056.8,1073.6L1054.8,1073.6L1052.8,1073.6L1050.8,1073.5L1048.8,1073.5L1046.8,1073.4L1044.8,1073.4L1042.8,1073.4L1040.8,1073.4L1038.8,1073.3L1036.8,1073.3L1034.8,1073.3L1032.8,1073.3L1030.8,1073.3L1028.8,1073.3L1026.8,1073.3L1024.8,1073.3L1022.8,1073.3L1020.8,1073.3L1018.8,1073.3L1016.8,1073.3L1014.9,1073.3L1012.9,1073.4L1010.9,1073.4L1008.9,1073.4L1006.9,1073.5L1004.9,1073.5L1002.9,1073.6L1000.9,1073.6L998.9,1073.7L996.9,1073.7L994.9,1073.8L992.9,1073.9L990.9,1073.9L988.9,1074.0L986.9,1074.1L984.9,1074.1L982.9,1074.2L980.9,1074.3L978.9,1074.4L976.9,1074.4L974.9,1074.5L972.9,1074.6L970.9,1074.7L968.9,1074.8L966.9,1074.8L964.9,1074.9L962.9,1075.0L960.9,1075.1L958.9,1075.2L956.9,1075.2L954.9,1075.3L952.9,1075.4L950.9,1075.5L948.9,1075.5L946.9,1075.6L944.9,1075.7L942.9,1075.8L940.9,1075.8L938.9,1075.9L936.9,1076.0L934.9,1076.0L932.9,1076.1L930.9,1076.2L928.9,1076.2L926.9,1076.3L924.9,1076.4L922.9,1076.4L920.9,1076.5L918.9,1076.6L916.9,1076.7L914.9,1076.7L912.9,1076.8L910.9,1076.9L908.9,1076.9L906.9,1077.0L904.9,1077.1L902.9,1077.2L900.9,1077.3L899.0,1077.4L897.0,1077.4L895.0,1077.5L893.0,1077.6L891.0,1077.7L889.0,1077.8L887.0,1077.9L885.0,1078.1L883.0,1078.2L881.0,1078.3L879.1,1078.5L877.1,1078.6L875.1,1078.8L873.1,1079.0L871.1,1079.1L869.2,1079.3L867.2,1079.5L865.2,1079.8L863.2,1080.0L861.2,1080.2L859.3,1080.5L857.3,1080.7L855.3,1080.9L853.3,1081.1L851.3,1081.4L849.3,1081.6L847.3,1081.8L845.3,1082.1L843.4,1082.3L841.4,1082.5L839.4,1082.8L837.4,1083.0L835.4,1083.3L833.5,1083.6L831.5,1083.8L829.5,1084.1L827.5,1084.3L825.5,1084.6L823.5,1084.8L821.5,1085.1L819.6,1085.3L817.6,1085.6L815.6,1085.8L813.6,1086.1L811.6,1086.3L809.6,1086.5L807.6,1086.7L805.6,1087.0L803.6,1087.2L801.6,1087.4L799.6,1087.5L797.6,1087.7L795.6,1087.9L793.6,1088.1L791.6,1088.2L789.6,1088.4L787.6,1088.5L785.6,1088.7L783.6,1088.8L781.6,1089.0L779.6,1089.1L777.6,1089.2L775.6,1089.3L773.6,1089.5L771.6,1089.6L769.6,1089.7L767.6,1089.8L765.6,1089.9L763.6,1090.0L761.6,1090.1L759.5,1090.2L757.5,1090.3L755.5,1090.4L753.5,1090.4L751.5,1090.5L749.5,1090.6L747.5,1090.7L745.5,1090.7L743.5,1090.8L741.5,1090.9L739.5,1090.9L737.5,1091.0L735.5,1091.0L733.5,1091.1L731.5,1091.1L729.5,1091.2L727.5,1091.2L725.5,1091.3L723.5,1091.3L721.5,1091.4L719.5,1091.4L717.5,1091.4L715.5,1091.4L713.5,1091.5L711.5,1091.5L709.5,1091.5L707.4,1091.5L705.4,1091.5L703.4,1091.5L701.4,1091.5L699.4,1091.5L697.4,1091.5L695.4,1091.5L693.4,1091.4L691.4,1091.4L689.4,1091.3L687.4,1091.3L685.4,1091.2L683.3,1091.2L681.3,1091.1L679.3,1091.0L677.3,1090.9L675.3,1090.9L673.3,1090.8L671.3,1090.7L669.3,1090.6L667.3,1090.4L665.3,1090.3L663.3,1090.2L661.3,1090.1L659.3,1090.0L657.3,1089.8L655.3,1089.7L653.3,1089.5L651.3,1089.4L649.3,1089.2L647.3,1089.1L645.3,1088.9L643.3,1088.7L641.3,1088.6L639.3,1088.4L637.3,1088.2L635.3,1088.0L633.3,1087.8L631.3,1087.6L629.3,1087.4L627.3,1087.2L625.3,1087.0L623.3,1086.8L621.3,1086.6L619.3,1086.4L617.4,1086.2L615.4,1086.0L613.4,1085.8L611.4,1085.6L609.4,1085.4L607.4,1085.2L605.4,1085.0L603.4,1084.8L601.4,1084.5L599.4,1084.3L597.4,1084.1L595.4,1083.8L593.4,1083.5L591.4,1083.2L589.4,1082.9L587.4,1082.6L585.5,1082.3L583.5,1082.0L581.5,1081.7L579.5,1081.4L577.5,1081.1L575.5,1080.7L573.5,1080.4L571.6,1080.0L569.6,1079.6L567.6,1079.2L565.6,1078.8L563.6,1078.4L561.7,1078.0L559.7,1077.5L557.7,1077.0L555.8,1076.5L553.8,1076.0L551.9,1075.5L549.9,1075.0L548.0,1074.5L546.0,1073.9L544.1,1073.4L542.2,1072.8L540.2,1072.2L538.3,1071.6L536.4,1070.9L534.5,1070.3L532.5,1069.6L530.6,1068.9L528.7,1068.2L526.8,1067.4L525.0,1066.6L523.1,1065.8L521.2,1064.9L519.4,1064.0L517.6,1063.1L515.8,1062.2L514.0,1061.2L512.2,1060.2L510.5,1059.3L508.7,1058.3L507.0,1057.3L505.2,1056.3L503.5,1055.3L501.7,1054.3L500.0,1053.3L498.3,1052.3L496.5,1051.2L494.8,1050.2L493.1,1049.2L491.4,1048.1L489.7,1047.0L488.0,1046.0L486.3,1044.9L484.6,1043.8L482.9,1042.7L481.2,1041.6L479.6,1040.4L477.9,1039.3L476.2,1038.1L474.6,1037.0L473.0,1035.8L471.3,1034.7L469.7,1033.5L468.1,1032.3L466.4,1031.1L464.8,1029.9L463.2,1028.6L461.6,1027.4L460.1,1026.1L458.5,1024.9L456.9,1023.6L455.4,1022.3L453.9,1020.9L452.3,1019.6L450.8,1018.2L449.4,1016.9L447.9,1015.5L446.4,1014.1L445.0,1012.6L443.6,1011.2L442.2,1009.8L440.8,1008.3L439.4,1006.8L438.0,1005.3L436.7,1003.8L435.4,1002.3L434.0,1000.7L432.7,999.2L431.5,997.6L430.2,996.1L428.9,994.5L427.7,992.9L426.5,991.3L425.3,989.7L424.1,988.0L422.9,986.4L421.7,984.8L420.5,983.1L419.4,981.5L418.2,979.8L417.1,978.2L416.0,976.5L414.9,974.8L413.8,973.1L412.7,971.4L411.7,969.7L410.6,967.9L409.6,966.2L408.6,964.5L407.6,962.7L406.6,961.0L405.6,959.2L404.7,957.4L403.7,955.6L402.8,953.9L401.9,952.1L400.9,950.3L400.0,948.5L399.1,946.7L398.3,944.9L397.4,943.0L396.6,941.2L395.7,939.4L394.9,937.5L394.1,935.7L393.3,933.8L392.5,932.0L391.8,930.1L391.0,928.2L390.3,926.3L389.6,924.4L388.9,922.6L388.2,920.6L387.6,918.7L386.9,916.8L386.3,914.9L385.7,913.0L385.1,911.1L384.5,909.2L383.9,907.2L383.4,905.3L382.8,903.4L382.2,901.5L381.7,899.5L381.1,897.6L380.6,895.6L380.1,893.7L379.6,891.7L379.2,889.7L378.8,887.7L378.4,885.7L378.0,883.8L377.6,881.8L377.3,879.8L377.0,877.8L376.7,875.8L376.5,873.8L376.2,871.8L376.0,869.8L375.8,867.8L375.6,865.8L375.4,863.8L375.2,861.8L375.0,859.8L374.9,857.7L374.7,855.7L374.6,853.7L374.5,851.7L374.4,849.7L374.3,847.7L374.2,845.7L374.1,843.7L374.0,841.7L373.9,839.7L373.8,837.7L373.7,835.7L373.7,833.7L373.6,831.7L373.6,829.7L373.5,827.7L373.5,825.7L373.4,823.7L373.4,821.7L373.3,819.6L373.3,817.6L373.3,815.6L373.3,813.6L373.3,811.6L373.4,809.6L373.4,807.5L373.5,805.5L373.7,803.5L373.9,801.4L374.2,799.3L374.5,797.3L374.9,795.3L375.4,793.4L375.8,791.4L376.1,789.5L376.4,787.6L376.8,785.6L377.1,783.6L377.4,781.6L377.7,779.6L378.1,777.7L378.4,775.7L378.8,773.7L379.2,771.7L379.6,769.7L380.1,767.8L380.5,765.8L381.0,763.8L381.5,761.9L382.0,759.9L382.4,758.0L382.9,756.0L383.5,754.1L384.0,752.2L384.5,750.2L385.0,748.3L385.6,746.4L386.1,744.4L386.7,742.5L387.2,740.6L387.8,738.6L388.4,736.7L389.0,734.8L389.5,732.9L390.1,731.0L390.8,729.0L391.4,727.1L392.0,725.2L392.6,723.3L393.3,721.4L393.9,719.5L394.6,717.6L395.2,715.7L395.9,713.8L396.6,711.9L397.2,710.0L397.9,708.2L398.6,706.3L399.2,704.4L399.9,702.5L400.6,700.6L401.3,698.7L402.0,696.8L402.7,695.0L403.4,693.1L404.1,691.2L404.8,689.3L405.5,687.5L406.2,685.6L406.9,683.7L407.6,681.8L408.4,680.0L409.1,678.1L409.8,676.2L410.6,674.4L411.3,672.5L412.1,670.6L412.8,668.8L413.6,666.9L414.4,665.1L415.2,663.2L416.0,661.4L416.8,659.6L417.6,657.7L418.4,655.9L419.2,654.0L420.0,652.2L420.8,650.4L421.6,648.6L422.4,646.7L423.3,644.9L424.1,643.1L424.9,641.2L425.7,639.4L426.5,637.6L427.4,635.8L428.2,633.9L429.0,632.1L429.9,630.3L430.7,628.5L431.6,626.7L432.4,624.8L433.3,623.0L434.2,621.2L435.1,619.4L436.0,617.6L436.9,615.8L437.9,614.1L438.8,612.3L439.8,610.5L440.7,608.7L441.7,607.0L442.7,605.2L443.7,603.5L444.7,601.7L445.7,600.0L446.7,598.3L447.7,596.5L448.8,594.8L449.8,593.1L450.9,591.4L451.9,589.7L453.0,588.0L454.1,586.3L455.1,584.6L456.2,582.9L457.3,581.2L458.5,579.5L459.6,577.8L460.7,576.2L461.9,574.5L463.1,572.9L464.3,571.3L465.5,569.7L466.7,568.0L468.0,566.4L469.2,564.9L470.5,563.3L471.9,561.8L473.2,560.3L474.6,558.8L476.0,557.3L477.3,555.8L478.7,554.4L480.1,552.9L481.5,551.5L482.9,550.0L484.2,548.6L485.5,547.1L486.9,545.7L488.2,544.2L489.4,542.7L490.7,541.1L491.9,539.6L493.2,538.0L494.4,536.5L495.6,534.9L496.8,533.3L498.1,531.7L499.3,530.1L500.5,528.5L501.7,527.0L503.0,525.4L504.3,523.8L505.5,522.2L506.8,520.7L508.2,519.2L509.5,517.6L510.9,516.1L512.3,514.7L513.7,513.2L515.1,511.8L516.5,510.3L517.9,508.9L519.4,507.5L520.8,506.1L522.3,504.7L523.7,503.4L525.2,502.0L526.6,500.6L528.0,499.2L529.5,497.8L530.9,496.4L532.3,495.0L533.8,493.6L535.2,492.2L536.7,490.8L538.1,489.4L539.6,488.1L541.0,486.7L542.5,485.3L543.9,483.9L545.4,482.6L546.9,481.2L548.4,479.9L549.9,478.5L551.4,477.2L552.9,475.8L554.4,474.5L555.9,473.2L557.5,471.9L559.0,470.6L560.5,469.3L562.1,468.0L563.6,466.8L565.2,465.5L566.7,464.2L568.2,462.9L569.8,461.7L571.3,460.4L572.9,459.1L574.5,457.9L576.0,456.6L577.6,455.4L579.2,454.1L580.7,452.9L582.3,451.6L583.9,450.4L585.4,449.1L587.0,447.9L588.6,446.7L590.1,445.4L591.6,444.1L593.1,442.9L594.7,441.6L596.2,440.3L597.7,439.0L599.3,437.7L600.9,436.4L602.5,435.1L604.1,433.9L605.7,432.7L607.3,431.5L609.0,430.4L610.6,429.2L612.3,428.1L613.9,426.9L615.6,425.8L617.3,424.7L618.9,423.6L620.6,422.4L622.3,421.3L623.9,420.2L625.6,419.1L627.3,418.0L629.0,416.9L630.6,415.8L632.3,414.7L634.0,413.7L635.7,412.6L637.4,411.5L639.1,410.4L640.8,409.4L642.5,408.3L644.2,407.3L645.9,406.2L647.6,405.2L649.4,404.1L651.1,403.1L652.8,402.1L654.6,401.1L656.3,400.1L658.0,399.1L659.8,398.1L661.5,397.1L663.3,396.1L665.0,395.1L666.8,394.2L668.5,393.2L670.3,392.2L672.1,391.3L673.8,390.3L675.6,389.4L677.4,388.4L679.1,387.5L680.9,386.5L682.7,385.6L684.5,384.7L686.2,383.8L688.0,382.8L689.8,381.9L691.6,381.0L693.4,380.1L695.2,379.2L697.0,378.3L698.8,377.4L700.6,376.6L702.4,375.7L704.2,374.8L706.1,374.0L707.9,373.1L709.7,372.3L711.6,371.5L713.4,370.7L715.2,369.9L717.1,369.1L719.0,368.3L720.8,367.6L722.7,366.8L724.6,366.1L726.5,365.4L728.4,364.7L730.3,364.1L732.2,363.4L734.1,362.8L736.0,362.1L737.9,361.5L739.7,360.8L741.6,360.1L743.5,359.5L745.3,358.8L747.2,358.0L749.0,357.3L750.8,356.5L752.6,355.7L754.4,354.9L756.1,354.0L757.9,353.1L759.7,352.2L761.5,351.3L763.3,350.4L765.0,349.5L766.8,348.6L768.7,347.7L770.5,346.8L772.4,346.0L774.2,345.2L776.1,344.4L778.0,343.7L779.9,343.0L781.8,342.3L783.8,341.7L785.7,341.1L787.6,340.5L789.5,339.9L791.5,339.3L793.4,338.8L795.3,338.2L797.3,337.7L799.2,337.2L801.2,336.7L803.1,336.1L805.1,335.6L807.0,335.2L809.0,334.7L810.9,334.2L812.8,333.7L814.8,333.3L816.7,332.8L818.7,332.3L820.6,331.9L822.6,331.4L824.6,331.0L826.5,330.5L828.5,330.1L830.4,329.6L832.4,329.2L834.4,328.8L836.3,328.4L838.3,328.0L840.3,327.6L842.2,327.2L844.2,326.8L846.2,326.5L848.1,326.1L850.1,325.7L852.1,325.4L854.1,325.0L856.1,324.7L858.0,324.4L860.0,324.0L862.0,323.7L864.0,323.4L866.0,323.1L868.0,322.8L869.9,322.5L871.9,322.2L873.9,322.0L875.9,321.7L877.9,321.4L879.9,321.2L881.9,320.9L883.9,320.7L885.9,320.5L887.9,320.2L889.9,320.0L891.9,319.8L893.9,319.6L895.9,319.4L897.9,319.2L899.9,319.1L901.9,318.9L903.9,318.7L905.9,318.6L907.9,318.4L909.9,318.3L911.9,318.2L913.9,318.1L915.9,318.0L917.9,317.9L919.9,317.8L921.9,317.7L923.9,317.6L925.9,317.5L927.9,317.5L929.9,317.4L931.9,317.3L933.9,317.2L935.9,317.2L937.9,317.1L939.9,317.1L941.9,317.0L943.9,317.0L945.9,316.9L948.0,316.9L950.0,316.8L952.0,316.8L954.0,316.8L956.0,316.8L958.0,316.7L960.0,316.7L962.0,316.7L964.0,316.7L966.0,316.7L968.0,316.7L970.0,316.7L972.0,316.7L974.0,316.7L976.0,316.7L978.0,316.7L980.0,316.7L982.0,316.7L984.0,316.7L986.0,316.7L988.0,316.7L990.0,316.8L992.1,316.8L994.1,316.9L996.1,317.0L998.1,317.0L1000.0,317.1L1002.0,317.1L1004.0,317.1L1006.0,317.2L1008.0,317.2L1010.0,317.2L1012.0,317.2L1014.1,317.3L1016.1,317.4L1018.1,317.5L1020.1,317.6L1022.1,317.7L1024.2,317.9L1026.2,318.0L1028.2,318.2L1030.2,318.4L1032.2,318.7L1034.2,318.9L1036.1,319.1L1038.1,319.3L1040.1,319.6L1042.1,319.8L1044.1,320.0L1046.1,320.2L1048.1,320.5L1050.1,320.7L1052.1,321.0L1054.1,321.2L1056.1,321.5L1058.0,321.8L1060.0,322.0L1062.0,322.3L1064.0,322.6L1066.0,322.9L1068.0,323.2L1069.9,323.4L1071.9,323.7L1073.9,324.0L1075.9,324.3L1077.9,324.6L1079.8,324.9L1081.8,325.1L1083.8,325.4L1085.8,325.7L1087.8,326.0L1089.8,326.4L1091.7,326.7L1093.7,327.0L1095.7,327.3L1097.7,327.6L1099.7,328.0L1101.6,328.3L1103.6,328.7L1105.6,329.0L1107.6,329.4L1109.5,329.8L1111.5,330.2L1113.5,330.5L1115.4,330.9L1117.4,331.3L1119.4,331.7L1121.3,332.1L1123.3,332.5L1125.3,332.9L1127.2,333.3L1129.2,333.7L1131.1,334.1L1133.1,334.6L1135.1,335.0L1137.0,335.4L1139.0,335.8L1140.9,336.2L1142.9,336.6L1144.8,337.0L1146.8,337.5L1148.8,337.9" fill="none" stroke="#111" stroke-width="1.30"/>
<path d="M1334.3,1089.8L1332.3,1089.7L1330.3,1089.6L1328.3,1089.5L1326.3,1089.4L1324.3,1089.3L1322.3,1089.2L1320.3,1089.1L1318.3,1089.0L1316.3,1088.9L1314.3,1088.8L1312.3,1088.7L1310.3,1088.6L1308.3,1088.5L1306.3,1088.4L1304.3,1088.3L1302.3,1088.2L1300.3,1088.1L1298.3,1088.0L1296.3,1087.9L1294.3,1087.7L1292.3,1087.6L1290.3,1087.5L1288.3,1087.4L1286.3,1087.3L1284.3,1087.2L1282.3,1087.1L1280.4,1087.0L1278.4,1086.9L1276.4,1086.8L1274.4,1086.7L1272.4,1086.6L1270.4,1086.5L1268.4,1086.4L1266.4,1086.3L1264.4,1086.2L1262.4,1086.2L1260.4,1086.1L1258.4,1086.0L1256.4,1085.9L1254.4,1085.8L1252.4,1085.7L1250.4,1085.6L1248.4,1085.5L1246.4,1085.4L1244.4,1085.3L1242.4,1085.2L1240.4,1085.1L1238.4,1085.0L1236.4,1084.9L1234.4,1084.8L1232.4,1084.7L1230.4,1084.6L1228.4,1084.5L1226.4,1084.4L1224.4,1084.3L1222.4,1084.1L1220.3,1084.0L1218.3,1083.9L1216.3,1083.8L1214.3,1083.6L1212.2,1083.5L1210.2,1083.3L1208.1,1083.1L1206.1,1082.8L1204.1,1082.6L1202.2,1082.4L1200.2,1082.2L1198.3,1082.1L1196.3,1081.9L1194.4,1081.8L1192.4,1081.7L1190.5,1081.5L1188.5,1081.4L1186.5,1081.3L1184.5,1081.2L1182.5,1081.1L1180.5,1081.0L1178.5,1081.0L1176.6,1080.9L1174.6,1080.8L1172.6,1080.7L1170.6,1080.6L1168.6,1080.5L1166.6,1080.4L1164.6,1080.4L1162.6,1080.3L1160.6,1080.2L1158.6,1080.1L1156.6,1080.1L1154.6,1080.0L1152.6,1079.9L1150.6,1079.8L1148.6,1079.8L1146.6,1079.7L1144.6,1079.6L1142.6,1079.6L1140.6,1079.5L1138.6,1079.4L1136.6,1079.4L1134.6,1079.3L1132.6,1079.2L1130.6,1079.2L1128.6,1079.1L1126.6,1079.0L1124.6,1079.0L1122.6,1078.9L1120.6,1078.8L1118.6,1078.8L1116.6,1078.7L1114.6,1078.6L1112.6,1078.6L1110.7,1078.5L1108.7,1078.5L1106.7,1078.4L1104.7,1078.3L1102.7,1078.3L1100.7,1078.2L1098.7,1078.2L1096.7,1078.1L1094.7,1078.1L1092.7,1078.0L1090.7,1078.0L1088.7,1077.9L1086.7,1077.8L1084.7,1077.8L1082.7,1077.7L1080.7,1077.7L1078.7,1077.6L1076.7,1077.6L1074.7,1077.5L1072.7,1077.5L1070.7,1077.4L1068.7,1077.4L1066.7,1077.3L1064.7,1077.3L1062.7,1077.3L1060.7,1077.2L1058.7,1077.2L1056.7,1077.1L1054.7,1077.1L1052.7,1077.1L1050.7,1077.0L1048.7,1077.0L1046.7,1076.9L1044.7,1076.9L1042.7,1076.9L1040.7,1076.9L1038.8,1076.8L1036.8,1076.8L1034.8,1076.8L1032.8,1076.8L1030.8,1076.8L1028.8,1076.8L1026.8,1076.8L1024.8,1076.8L1022.8,1076.8L1020.9,1076.8L1018.9,1076.8L1016.9,1076.8L1014.9,1076.8L1012.9,1076.9L1010.9,1076.9L1008.9,1076.9L1006.9,1077.0L1004.9,1077.0L1003.0,1077.1L1001.0,1077.1L999.0,1077.2L997.0,1077.2L995.0,1077.3L993.0,1077.4L991.0,1077.4L989.0,1077.5L987.0,1077.6L985.0,1077.6L983.0,1077.7L981.0,1077.8L979.0,1077.9L977.1,1077.9L975.1,1078.0L973.1,1078.1L971.1,1078.2L969.1,1078.3L967.1,1078.3L965.1,1078.4L963.1,1078.5L961.1,1078.6L959.1,1078.7L957.1,1078.7L955.1,1078.8L953.1,1078.9L951.1,1079.0L949.0,1079.0L947.0,1079.1L945.0,1079.2L943.0,1079.3L941.0,1079.3L939.0,1079.4L937.0,1079.5L935.0,1079.5L933.0,1079.6L931.0,1079.7L929.0,1079.7L927.0,1079.8L925.0,1079.9L923.0,1079.9L921.0,1080.0L919.0,1080.1L917.0,1080.1L915.1,1080.2L913.1,1080.3L911.1,1080.4L909.1,1080.4L907.1,1080.5L905.1,1080.6L903.1,1080.7L901.1,1080.8L899.1,1080.8L897.1,1080.9L895.1,1081.0L893.1,1081.1L891.2,1081.2L889.2,1081.3L887.2,1081.4L885.2,1081.6L883.2,1081.7L881.3,1081.8L879.3,1082.0L877.3,1082.1L875.4,1082.3L873.4,1082.4L871.5,1082.6L869.5,1082.8L867.6,1083.0L865.6,1083.2L863.6,1083.5L861.6,1083.7L859.7,1083.9L857.7,1084.2L855.7,1084.4L853.7,1084.6L851.7,1084.8L849.7,1085.1L847.7,1085.3L845.8,1085.5L843.8,1085.8L841.8,1086.0L839.8,1086.3L837.9,1086.5L835.9,1086.8L833.9,1087.0L831.9,1087.3L829.9,1087.5L828.0,1087.8L826.0,1088.1L824.0,1088.3L822.0,1088.6L820.0,1088.8L818.0,1089.1L816.0,1089.3L814.0,1089.5L812.0,1089.8L810.0,1090.0L808.0,1090.2L806.0,1090.4L803.9,1090.6L801.9,1090.8L799.9,1091.0L797.9,1091.2L795.9,1091.4L793.9,1091.6L791.9,1091.7L789.9,1091.9L787.8,1092.0L785.8,1092.2L783.8,1092.3L781.8,1092.5L779.8,1092.6L777.8,1092.7L775.8,1092.8L773.8,1093.0L771.8,1093.1L769.7,1093.2L767.7,1093.3L765.7,1093.4L763.7,1093.5L761.7,1093.6L759.7,1093.7L757.7,1093.8L755.7,1093.9L753.7,1093.9L751.7,1094.0L749.7,1094.1L747.7,1094.2L745.6,1094.2L743.6,1094.3L741.6,1094.4L739.6,1094.4L737.6,1094.5L735.6,1094.5L733.6,1094.6L731.6,1094.6L729.6,1094.7L727.6,1094.7L725.6,1094.8L723.5,1094.8L721.5,1094.9L719.5,1094.9L717.5,1094.9L715.5,1094.9L713.5,1095.0L711.5,1095.0L709.5,1095.0L707.5,1095.0L705.4,1095.0L703.4,1095.0L701.4,1095.0L699.4,1095.0L697.4,1095.0L695.4,1095.0L693.3,1094.9L691.3,1094.9L689.3,1094.8L687.3,1094.8L685.3,1094.7L683.2,1094.7L681.2,1094.6L679.2,1094.5L677.2,1094.4L675.2,1094.4L673.1,1094.3L671.1,1094.2L669.1,1094.0L667.1,1093.9L665.1,1093.8L663.1,1093.7L661.1,1093.6L659.1,1093.5L657.1,1093.3L655.0,1093.2L653.0,1093.0L651.0,1092.9L649.0,1092.7L647.0,1092.6L645.0,1092.4L643.0,1092.2L641.0,1092.0L639.0,1091.9L637.0,1091.7L635.0,1091.5L633.0,1091.3L631.0,1091.1L629.0,1090.9L627.0,1090.7L625.0,1090.5L623.0,1090.3L621.0,1090.1L619.0,1089.9L617.0,1089.7L615.0,1089.5L613.0,1089.3L611.0,1089.1L609.0,1088.9L607.0,1088.7L605.0,1088.5L603.0,1088.3L601.0,1088.0L599.0,1087.8L597.0,1087.5L594.9,1087.3L592.9,1087.0L590.9,1086.7L588.9,1086.4L586.9,1086.1L584.9,1085.8L582.9,1085.5L580.9,1085.2L578.9,1084.8L576.9,1084.5L574.9,1084.2L572.9,1083.8L570.9,1083.4L568.9,1083.1L566.9,1082.7L564.9,1082.3L562.9,1081.8L560.9,1081.4L558.9,1080.9L556.9,1080.4L554.9,1079.9L553.0,1079.4L551.0,1078.9L549.0,1078.4L547.0,1077.8L545.1,1077.3L543.1,1076.7L541.2,1076.1L539.2,1075.5L537.2,1074.9L535.3,1074.3L533.3,1073.6L531.4,1072.9L529.4,1072.2L527.5,1071.4L525.5,1070.7L523.6,1069.8L521.7,1069.0L519.8,1068.1L517.9,1067.1L516.0,1066.2L514.2,1065.2L512.4,1064.2L510.6,1063.2L508.8,1062.2L507.1,1061.2L505.3,1060.2L503.6,1059.2L501.8,1058.2L500.1,1057.2L498.3,1056.2L496.6,1055.1L494.9,1054.1L493.1,1053.0L491.4,1051.9L489.7,1050.9L488.0,1049.8L486.3,1048.7L484.6,1047.6L482.9,1046.5L481.2,1045.3L479.5,1044.2L477.8,1043.0L476.1,1041.9L474.5,1040.7L472.8,1039.5L471.2,1038.4L469.5,1037.2L467.9,1036.0L466.3,1034.8L464.6,1033.5L463.0,1032.3L461.4,1031.0L459.8,1029.8L458.2,1028.5L456.6,1027.2L455.0,1025.9L453.5,1024.5L451.9,1023.2L450.4,1021.8L448.9,1020.4L447.4,1019.0L445.9,1017.6L444.4,1016.1L443.0,1014.7L441.5,1013.2L440.1,1011.7L438.7,1010.2L437.3,1008.7L436.0,1007.2L434.6,1005.7L433.3,1004.1L431.9,1002.5L430.6,1001.0L429.3,999.4L428.1,997.8L426.8,996.2L425.6,994.5L424.3,992.9L423.1,991.3L421.9,989.7L420.7,988.0L419.5,986.4L418.3,984.7L417.2,983.0L416.0,981.4L414.9,979.7L413.7,978.0L412.6,976.3L411.5,974.5L410.4,972.8L409.4,971.1L408.3,969.3L407.3,967.6L406.2,965.8L405.2,964.0L404.2,962.3L403.3,960.5L402.3,958.7L401.3,956.9L400.4,955.1L399.4,953.3L398.5,951.5L397.6,949.7L396.7,947.9L395.8,946.0L394.9,944.2L394.1,942.3L393.2,940.5L392.4,938.6L391.6,936.8L390.8,934.9L390.0,933.0L389.2,931.1L388.5,929.2L387.7,927.3L387.0,925.4L386.3,923.5L385.7,921.5L385.0,919.6L384.4,917.7L383.7,915.7L383.1,913.8L382.5,911.9L381.9,909.9L381.3,908.0L380.8,906.1L380.2,904.1L379.6,902.2L379.1,900.3L378.5,898.3L378.0,896.3L377.5,894.3L377.0,892.3L376.5,890.3L376.1,888.3L375.7,886.3L375.3,884.2L375.0,882.2L374.6,880.2L374.3,878.2L374.0,876.1L373.8,874.1L373.5,872.1L373.3,870.1L373.1,868.1L372.9,866.0L372.7,864.0L372.5,862.0L372.3,860.0L372.2,857.9L372.0,855.9L371.9,853.9L371.8,851.9L371.7,849.9L371.5,847.9L371.4,845.8L371.3,843.8L371.3,841.8L371.2,839.8L371.1,837.8L371.0,835.8L371.0,833.8L370.9,831.8L370.8,829.8L370.8,827.7L370.7,825.7L370.7,823.7L370.7,821.7L370.6,819.7L370.6,817.7L370.6,815.6L370.6,813.6L370.6,811.6L370.7,809.5L370.7,807.4L370.8,805.4L371.0,803.2L371.2,801.1L371.5,798.9L371.9,796.8L372.3,794.8L372.7,792.8L373.1,790.9L373.4,789.0L373.8,787.1L374.1,785.1L374.4,783.2L374.7,781.2L375.1,779.2L375.4,777.2L375.8,775.2L376.1,773.2L376.6,771.2L377.0,769.2L377.4,767.2L377.9,765.2L378.4,763.2L378.8,761.2L379.3,759.3L379.8,757.3L380.3,755.4L380.8,753.4L381.4,751.5L381.9,749.5L382.4,747.6L382.9,745.6L383.5,743.7L384.1,741.7L384.6,739.8L385.2,737.9L385.8,735.9L386.4,734.0L387.0,732.1L387.6,730.1L388.2,728.2L388.8,726.3L389.4,724.4L390.1,722.5L390.7,720.5L391.4,718.6L392.0,716.7L392.7,714.8L393.3,712.9L394.0,711.0L394.7,709.1L395.3,707.2L396.0,705.4L396.7,703.5L397.4,701.6L398.0,699.7L398.7,697.8L399.4,695.9L400.1,694.0L400.8,692.1L401.5,690.3L402.2,688.4L402.9,686.5L403.6,684.6L404.4,682.7L405.1,680.9L405.8,679.0L406.6,677.1L407.3,675.2L408.0,673.4L408.8,671.5L409.6,669.6L410.3,667.7L411.1,665.9L411.9,664.0L412.7,662.2L413.5,660.3L414.3,658.5L415.1,656.6L415.9,654.8L416.7,652.9L417.5,651.1L418.3,649.3L419.2,647.4L420.0,645.6L420.8,643.8L421.6,642.0L422.4,640.1L423.2,638.3L424.1,636.5L424.9,634.6L425.7,632.8L426.6,631.0L427.4,629.1L428.3,627.3L429.1,625.5L430.0,623.7L430.9,621.8L431.8,620.0L432.7,618.2L433.6,616.4L434.5,614.6L435.5,612.8L436.4,611.0L437.4,609.2L438.4,607.4L439.3,605.7L440.3,603.9L441.3,602.1L442.3,600.4L443.4,598.6L444.4,596.9L445.4,595.1L446.4,593.4L447.5,591.7L448.6,589.9L449.6,588.2L450.7,586.5L451.8,584.8L452.9,583.1L454.0,581.4L455.1,579.7L456.2,578.0L457.4,576.3L458.5,574.6L459.7,573.0L460.9,571.3L462.1,569.6L463.3,568.0L464.6,566.4L465.8,564.8L467.1,563.2L468.5,561.5L469.8,560.0L471.2,558.4L472.6,556.9L474.0,555.4L475.4,554.0L476.8,552.5L478.1,551.1L479.5,549.6L480.9,548.2L482.2,546.7L483.5,545.3L484.8,543.9L486.1,542.4L487.3,540.9L488.6,539.4L489.8,537.9L491.0,536.3L492.3,534.8L493.5,533.2L494.7,531.6L495.9,530.1L497.1,528.5L498.4,526.9L499.6,525.3L500.9,523.7L502.1,522.1L503.4,520.5L504.8,518.9L506.1,517.4L507.5,515.8L508.9,514.3L510.3,512.8L511.7,511.3L513.1,509.9L514.6,508.4L516.0,507.0L517.5,505.6L518.9,504.2L520.4,502.8L521.8,501.4L523.3,500.0L524.7,498.6L526.1,497.3L527.6,495.9L529.0,494.5L530.4,493.1L531.9,491.7L533.3,490.3L534.8,488.9L536.2,487.5L537.7,486.1L539.1,484.7L540.6,483.3L542.1,481.9L543.6,480.6L545.1,479.2L546.6,477.8L548.1,476.5L549.6,475.1L551.1,473.8L552.6,472.5L554.2,471.2L555.7,469.8L557.2,468.5L558.8,467.2L560.3,466.0L561.9,464.7L563.4,463.4L565.0,462.1L566.5,460.8L568.1,459.6L569.6,458.3L571.2,457.0L572.8,455.7L574.3,454.5L575.9,453.2L577.5,452.0L579.1,450.7L580.6,449.5L582.2,448.3L583.8,447.0L585.3,445.8L586.9,444.5L588.4,443.3L589.9,442.1L591.4,440.8L592.9,439.5L594.4,438.2L596.0,436.9L597.6,435.6L599.2,434.3L600.8,433.0L602.4,431.7L604.1,430.5L605.7,429.3L607.4,428.1L609.1,427.0L610.7,425.8L612.4,424.7L614.1,423.6L615.7,422.4L617.4,421.3L619.1,420.2L620.8,419.1L622.4,418.0L624.1,416.9L625.8,415.7L627.5,414.6L629.2,413.6L630.9,412.5L632.6,411.4L634.2,410.3L635.9,409.2L637.6,408.1L639.4,407.1L641.1,406.0L642.8,404.9L644.5,403.9L646.2,402.8L648.0,401.8L649.7,400.8L651.4,399.7L653.2,398.7L654.9,397.7L656.7,396.7L658.4,395.7L660.2,394.7L661.9,393.7L663.7,392.7L665.5,391.8L667.2,390.8L669.0,389.8L670.8,388.9L672.5,387.9L674.3,387.0L676.1,386.0L677.9,385.1L679.6,384.1L681.4,383.2L683.2,382.3L685.0,381.4L686.8,380.4L688.6,379.5L690.4,378.6L692.2,377.7L694.0,376.8L695.8,375.9L697.6,375.0L699.4,374.1L701.2,373.2L703.1,372.4L704.9,371.5L706.8,370.7L708.6,369.8L710.5,369.0L712.3,368.2L714.2,367.4L716.0,366.6L717.9,365.8L719.8,365.1L721.7,364.3L723.6,363.6L725.6,362.9L727.5,362.2L729.4,361.5L731.3,360.8L733.2,360.2L735.1,359.5L737.0,358.9L738.8,358.3L740.7,357.6L742.5,356.9L744.3,356.2L746.2,355.5L747.9,354.8L749.7,354.0L751.5,353.3L753.2,352.4L754.9,351.6L756.7,350.7L758.5,349.8L760.2,348.9L762.0,348.0L763.8,347.1L765.6,346.1L767.5,345.2L769.4,344.4L771.3,343.5L773.2,342.7L775.1,341.9L777.1,341.1L779.0,340.4L781.0,339.7L782.9,339.1L784.9,338.5L786.8,337.9L788.8,337.3L790.7,336.7L792.7,336.1L794.6,335.6L796.6,335.1L798.5,334.5L800.5,334.0L802.4,333.5L804.4,333.0L806.3,332.5L808.3,332.0L810.3,331.6L812.2,331.1L814.2,330.6L816.1,330.1L818.1,329.7L820.0,329.2L822.0,328.8L824.0,328.3L825.9,327.9L827.9,327.4L829.9,327.0L831.8,326.6L833.8,326.1L835.8,325.7L837.8,325.3L839.7,324.9L841.7,324.5L843.7,324.2L845.7,323.8L847.7,323.4L849.6,323.1L851.6,322.7L853.6,322.4L855.6,322.0L857.6,321.7L859.6,321.4L861.6,321.0L863.6,320.7L865.6,320.4L867.6,320.1L869.6,319.8L871.6,319.5L873.6,319.3L875.6,319.0L877.6,318.7L879.6,318.5L881.6,318.2L883.6,318.0L885.6,317.8L887.6,317.5L889.6,317.3L891.6,317.1L893.6,316.9L895.6,316.7L897.6,316.5L899.6,316.4L901.6,316.2L903.7,316.0L905.7,315.9L907.7,315.7L909.7,315.6L911.7,315.5L913.7,315.4L915.8,315.3L917.8,315.2L919.8,315.1L921.8,315.0L923.8,314.9L925.8,314.8L927.8,314.7L929.8,314.7L931.8,314.6L933.8,314.5L935.8,314.5L937.8,314.4L939.9,314.3L941.9,314.3L943.9,314.2L945.9,314.2L947.9,314.2L949.9,314.1L951.9,314.1L953.9,314.1L955.9,314.0L957.9,314.0L960.0,314.0L962.0,314.0L964.0,314.0L966.0,314.0L968.0,314.0L970.0,314.0L972.0,314.0L974.0,313.9L976.0,313.9L978.0,313.9L980.0,313.9L982.0,314.0L984.0,314.0L986.1,314.0L988.1,314.0L990.1,314.1L992.1,314.1L994.1,314.2L996.1,314.2L998.1,314.3L1000.1,314.3L1002.1,314.4L1004.1,314.4L1006.1,314.4L1008.1,314.5L1010.1,314.5L1012.1,314.5L1014.1,314.6L1016.2,314.7L1018.2,314.7L1020.3,314.9L1022.3,315.0L1024.4,315.2L1026.4,315.3L1028.4,315.5L1030.5,315.7L1032.5,316.0L1034.5,316.2L1036.5,316.4L1038.4,316.6L1040.4,316.9L1042.4,317.1L1044.4,317.3L1046.4,317.5L1048.4,317.8L1050.4,318.0L1052.4,318.3L1054.4,318.5L1056.4,318.8L1058.4,319.1L1060.4,319.4L1062.4,319.6L1064.4,319.9L1066.3,320.2L1068.3,320.5L1070.3,320.7L1072.3,321.0L1074.3,321.3L1076.3,321.6L1078.3,321.9L1080.2,322.2L1082.2,322.5L1084.2,322.8L1086.2,323.1L1088.2,323.4L1090.2,323.7L1092.2,324.0L1094.2,324.3L1096.1,324.6L1098.1,325.0L1100.1,325.3L1102.1,325.6L1104.1,326.0L1106.1,326.4L1108.1,326.7L1110.0,327.1L1112.0,327.5L1114.0,327.9L1116.0,328.3L1117.9,328.7L1119.9,329.0L1121.9,329.4L1123.8,329.8L1125.8,330.3L1127.8,330.7L1129.7,331.1L1131.7,331.5L1133.7,331.9L1135.6,332.3L1137.6,332.7L1139.5,333.1L1141.5,333.6L1143.5,334.0L1145.4,334.4L1147.4,334.8L1149.3,335.2" fill="none" stroke="#111" stroke-width="0.60"/>
<path d="M1334.2,1093.3L1332.2,1093.2L1330.2,1093.1L1328.2,1093.0L1326.2,1092.9L1324.2,1092.8L1322.1,1092.7L1320.1,1092.6L1318.1,1092.5L1316.1,1092.4L1314.1,1092.3L1312.1,1092.2L1310.1,1092.1L1308.1,1092.0L1306.1,1091.9L1304.1,1091.8L1302.1,1091.7L1300.1,1091.6L1298.1,1091.5L1296.1,1091.3L1294.1,1091.2L1292.1,1091.1L1290.2,1091.0L1288.2,1090.9L1286.2,1090.8L1284.2,1090.7L1282.2,1090.6L1280.2,1090.5L1278.2,1090.4L1276.2,1090.3L1274.2,1090.2L1272.2,1090.1L1270.2,1090.0L1268.2,1089.9L1266.2,1089.8L1264.2,1089.7L1262.2,1089.7L1260.2,1089.6L1258.2,1089.5L1256.2,1089.4L1254.2,1089.3L1252.2,1089.2L1250.2,1089.1L1248.2,1089.0L1246.2,1088.9L1244.2,1088.8L1242.2,1088.7L1240.2,1088.6L1238.2,1088.5L1236.2,1088.4L1234.2,1088.3L1232.2,1088.2L1230.2,1088.1L1228.2,1088.0L1226.2,1087.9L1224.2,1087.8L1222.1,1087.6L1220.1,1087.5L1218.1,1087.4L1216.0,1087.3L1214.0,1087.1L1211.9,1086.9L1209.8,1086.8L1207.8,1086.5L1205.7,1086.3L1203.7,1086.1L1201.8,1085.9L1199.9,1085.7L1198.0,1085.6L1196.1,1085.4L1194.2,1085.3L1192.2,1085.1L1190.3,1085.0L1188.3,1084.9L1186.3,1084.8L1184.3,1084.7L1182.4,1084.6L1180.4,1084.5L1178.4,1084.4L1176.4,1084.4L1174.4,1084.3L1172.4,1084.2L1170.4,1084.1L1168.4,1084.0L1166.4,1083.9L1164.4,1083.9L1162.4,1083.8L1160.5,1083.7L1158.5,1083.6L1156.5,1083.6L1154.5,1083.5L1152.5,1083.4L1150.5,1083.3L1148.5,1083.3L1146.5,1083.2L1144.5,1083.1L1142.5,1083.1L1140.5,1083.0L1138.5,1082.9L1136.5,1082.9L1134.5,1082.8L1132.5,1082.7L1130.5,1082.7L1128.5,1082.6L1126.5,1082.5L1124.5,1082.5L1122.5,1082.4L1120.5,1082.3L1118.5,1082.3L1116.5,1082.2L1114.5,1082.1L1112.5,1082.1L1110.5,1082.0L1108.5,1082.0L1106.6,1081.9L1104.6,1081.8L1102.6,1081.8L1100.6,1081.7L1098.6,1081.7L1096.6,1081.6L1094.6,1081.6L1092.6,1081.5L1090.6,1081.5L1088.6,1081.4L1086.6,1081.3L1084.6,1081.3L1082.6,1081.2L1080.6,1081.2L1078.6,1081.1L1076.6,1081.1L1074.6,1081.0L1072.6,1081.0L1070.6,1080.9L1068.6,1080.9L1066.6,1080.8L1064.6,1080.8L1062.6,1080.8L1060.6,1080.7L1058.6,1080.7L1056.6,1080.6L1054.7,1080.6L1052.7,1080.6L1050.7,1080.5L1048.7,1080.5L1046.7,1080.4L1044.7,1080.4L1042.7,1080.4L1040.7,1080.4L1038.7,1080.3L1036.7,1080.3L1034.7,1080.3L1032.8,1080.3L1030.8,1080.3L1028.8,1080.3L1026.8,1080.3L1024.8,1080.3L1022.9,1080.3L1020.9,1080.3L1018.9,1080.3L1016.9,1080.3L1015.0,1080.3L1013.0,1080.4L1011.0,1080.4L1009.0,1080.4L1007.0,1080.5L1005.0,1080.5L1003.0,1080.6L1001.1,1080.6L999.1,1080.7L997.1,1080.7L995.1,1080.8L993.1,1080.9L991.1,1080.9L989.1,1081.0L987.2,1081.1L985.2,1081.1L983.2,1081.2L981.2,1081.3L979.2,1081.4L977.2,1081.4L975.2,1081.5L973.2,1081.6L971.2,1081.7L969.2,1081.8L967.2,1081.8L965.2,1081.9L963.2,1082.0L961.2,1082.1L959.2,1082.2L957.2,1082.2L955.2,1082.3L953.2,1082.4L951.2,1082.5L949.2,1082.5L947.2,1082.6L945.2,1082.7L943.2,1082.8L941.2,1082.8L939.2,1082.9L937.2,1083.0L935.2,1083.0L933.2,1083.1L931.2,1083.2L929.2,1083.2L927.2,1083.3L925.2,1083.4L923.2,1083.4L921.2,1083.5L919.2,1083.6L917.2,1083.6L915.2,1083.7L913.2,1083.8L911.2,1083.9L909.2,1083.9L907.2,1084.0L905.2,1084.1L903.2,1084.2L901.2,1084.3L899.3,1084.3L897.3,1084.4L895.3,1084.5L893.3,1084.6L891.3,1084.7L889.4,1084.8L887.4,1084.9L885.4,1085.1L883.5,1085.2L881.5,1085.3L879.6,1085.5L877.6,1085.6L875.7,1085.8L873.7,1085.9L871.8,1086.1L869.9,1086.3L867.9,1086.5L866.0,1086.7L864.0,1086.9L862.1,1087.2L860.1,1087.4L858.1,1087.6L856.1,1087.9L854.1,1088.1L852.1,1088.3L850.1,1088.6L848.1,1088.8L846.2,1089.0L844.2,1089.2L842.3,1089.5L840.3,1089.7L838.3,1090.0L836.3,1090.2L834.4,1090.5L832.4,1090.8L830.4,1091.0L828.4,1091.3L826.4,1091.5L824.4,1091.8L822.4,1092.0L820.4,1092.3L818.4,1092.5L816.4,1092.8L814.4,1093.0L812.4,1093.2L810.4,1093.5L808.4,1093.7L806.3,1093.9L804.3,1094.1L802.3,1094.3L800.2,1094.5L798.2,1094.7L796.2,1094.9L794.2,1095.0L792.1,1095.2L790.1,1095.4L788.1,1095.5L786.1,1095.7L784.1,1095.8L782.0,1096.0L780.0,1096.1L778.0,1096.2L776.0,1096.3L774.0,1096.5L772.0,1096.6L769.9,1096.7L767.9,1096.8L765.9,1096.9L763.9,1097.0L761.9,1097.1L759.9,1097.2L757.9,1097.3L755.8,1097.3L753.8,1097.4L751.8,1097.5L749.8,1097.6L747.8,1097.7L745.8,1097.7L743.8,1097.8L741.7,1097.9L739.7,1097.9L737.7,1098.0L735.7,1098.0L733.7,1098.1L731.7,1098.1L729.7,1098.2L727.6,1098.2L725.6,1098.3L723.6,1098.3L721.6,1098.4L719.6,1098.4L717.6,1098.4L715.6,1098.4L713.5,1098.5L711.5,1098.5L709.5,1098.5L707.5,1098.5L705.5,1098.5L703.4,1098.5L701.4,1098.5L699.4,1098.5L697.3,1098.5L695.3,1098.5L693.3,1098.4L691.2,1098.4L689.2,1098.3L687.2,1098.3L685.1,1098.2L683.1,1098.2L681.1,1098.1L679.0,1098.0L677.0,1097.9L675.0,1097.9L673.0,1097.8L670.9,1097.7L668.9,1097.5L666.9,1097.4L664.9,1097.3L662.9,1097.2L660.9,1097.1L658.8,1096.9L656.8,1096.8L654.8,1096.7L652.8,1096.5L650.7,1096.4L648.7,1096.2L646.7,1096.0L644.7,1095.9L642.7,1095.7L640.7,1095.5L638.7,1095.3L636.6,1095.2L634.6,1095.0L632.6,1094.8L630.6,1094.6L628.6,1094.4L626.6,1094.2L624.6,1094.0L622.6,1093.8L620.6,1093.6L618.6,1093.4L616.7,1093.2L614.7,1093.0L612.7,1092.8L610.7,1092.6L608.6,1092.4L606.6,1092.2L604.6,1092.0L602.6,1091.7L600.6,1091.5L598.5,1091.2L596.5,1091.0L594.5,1090.7L592.4,1090.4L590.4,1090.2L588.4,1089.9L586.4,1089.6L584.4,1089.3L582.4,1088.9L580.4,1088.6L578.4,1088.3L576.3,1088.0L574.3,1087.6L572.3,1087.3L570.3,1086.9L568.2,1086.5L566.2,1086.1L564.2,1085.7L562.1,1085.2L560.1,1084.8L558.1,1084.3L556.1,1083.8L554.1,1083.3L552.1,1082.8L550.1,1082.3L548.1,1081.8L546.1,1081.2L544.1,1080.6L542.1,1080.1L540.1,1079.5L538.2,1078.9L536.2,1078.2L534.2,1077.6L532.2,1076.9L530.2,1076.2L528.2,1075.5L526.2,1074.7L524.2,1073.9L522.2,1073.0L520.2,1072.1L518.3,1071.2L516.4,1070.2L514.5,1069.2L512.6,1068.2L510.8,1067.2L509.0,1066.2L507.2,1065.2L505.4,1064.2L503.7,1063.2L502.0,1062.1L500.2,1061.1L498.4,1060.1L496.7,1059.0L494.9,1058.0L493.2,1056.9L491.5,1055.8L489.7,1054.7L488.0,1053.6L486.3,1052.5L484.6,1051.4L482.8,1050.3L481.1,1049.1L479.4,1048.0L477.7,1046.8L476.0,1045.6L474.4,1044.5L472.7,1043.3L471.0,1042.1L469.4,1040.9L467.7,1039.7L466.1,1038.5L464.5,1037.2L462.8,1036.0L461.2,1034.7L459.6,1033.4L457.9,1032.1L456.3,1030.8L454.7,1029.5L453.1,1028.1L451.5,1026.8L450.0,1025.4L448.4,1024.0L446.9,1022.5L445.4,1021.1L443.9,1019.7L442.4,1018.2L441.0,1016.7L439.5,1015.2L438.1,1013.7L436.7,1012.2L435.3,1010.6L433.9,1009.1L432.5,1007.5L431.2,1005.9L429.8,1004.3L428.5,1002.7L427.2,1001.1L425.9,999.5L424.7,997.8L423.4,996.2L422.2,994.6L420.9,992.9L419.7,991.3L418.5,989.6L417.3,987.9L416.1,986.3L414.9,984.6L413.8,982.9L412.6,981.2L411.5,979.5L410.3,977.7L409.2,976.0L408.1,974.3L407.0,972.5L406.0,970.7L404.9,968.9L403.9,967.2L402.9,965.4L401.9,963.6L400.9,961.8L399.9,960.0L398.9,958.2L398.0,956.4L397.0,954.6L396.1,952.7L395.2,950.9L394.3,949.1L393.4,947.2L392.5,945.4L391.6,943.5L390.8,941.6L389.9,939.7L389.1,937.8L388.3,935.9L387.5,934.0L386.7,932.1L386.0,930.2L385.2,928.3L384.5,926.3L383.8,924.4L383.1,922.4L382.4,920.5L381.8,918.5L381.1,916.6L380.5,914.6L379.9,912.7L379.3,910.7L378.7,908.8L378.2,906.9L377.6,904.9L377.0,903.0L376.5,901.0L375.9,899.0L375.4,897.0L374.8,895.0L374.3,892.9L373.9,890.9L373.4,888.8L373.0,886.8L372.6,884.7L372.3,882.7L372.0,880.6L371.6,878.6L371.4,876.5L371.1,874.5L370.8,872.4L370.6,870.4L370.4,868.3L370.2,866.3L370.0,864.3L369.8,862.2L369.6,860.2L369.5,858.2L369.3,856.1L369.2,854.1L369.1,852.0L368.9,850.0L368.8,848.0L368.7,846.0L368.6,844.0L368.5,841.9L368.5,839.9L368.4,837.9L368.3,835.9L368.2,833.9L368.2,831.8L368.1,829.8L368.1,827.8L368.0,825.8L368.0,823.8L367.9,821.7L367.9,819.7L367.9,817.7L367.9,815.6L367.9,813.6L367.9,811.5L367.9,809.4L368.0,807.3L368.1,805.2L368.3,803.0L368.5,800.8L368.8,798.5L369.2,796.3L369.6,794.2L370.0,792.2L370.4,790.4L370.8,788.6L371.1,786.7L371.4,784.7L371.7,782.7L372.1,780.8L372.4,778.7L372.7,776.7L373.1,774.7L373.5,772.7L373.9,770.6L374.3,768.6L374.8,766.6L375.2,764.5L375.7,762.6L376.2,760.6L376.7,758.6L377.2,756.7L377.7,754.7L378.2,752.7L378.7,750.8L379.3,748.8L379.8,746.8L380.3,744.9L380.9,742.9L381.4,741.0L382.0,739.0L382.6,737.1L383.2,735.1L383.8,733.2L384.4,731.2L385.0,729.3L385.6,727.4L386.2,725.4L386.9,723.5L387.5,721.6L388.1,719.7L388.8,717.8L389.4,715.8L390.1,713.9L390.8,712.0L391.4,710.1L392.1,708.2L392.8,706.3L393.4,704.4L394.1,702.5L394.8,700.7L395.5,698.8L396.2,696.9L396.9,695.0L397.6,693.1L398.3,691.2L399.0,689.3L399.7,687.4L400.4,685.5L401.1,683.6L401.8,681.8L402.6,679.9L403.3,678.0L404.0,676.1L404.8,674.2L405.5,672.3L406.3,670.5L407.1,668.6L407.8,666.7L408.6,664.8L409.4,663.0L410.2,661.1L411.0,659.2L411.8,657.4L412.6,655.5L413.4,653.7L414.2,651.8L415.0,650.0L415.9,648.2L416.7,646.3L417.5,644.5L418.3,642.7L419.1,640.9L419.9,639.0L420.8,637.2L421.6,635.4L422.4,633.5L423.2,631.7L424.1,629.8L424.9,628.0L425.8,626.2L426.7,624.3L427.5,622.5L428.4,620.6L429.3,618.8L430.3,617.0L431.2,615.1L432.1,613.3L433.1,611.5L434.0,609.7L435.0,607.9L436.0,606.1L437.0,604.3L438.0,602.6L439.0,600.8L440.0,599.0L441.0,597.3L442.0,595.5L443.1,593.8L444.1,592.0L445.2,590.3L446.2,588.5L447.3,586.8L448.4,585.1L449.5,583.4L450.6,581.6L451.7,579.9L452.8,578.2L454.0,576.5L455.1,574.8L456.3,573.1L457.5,571.4L458.7,569.7L459.9,568.0L461.2,566.4L462.4,564.7L463.7,563.1L465.0,561.4L466.4,559.8L467.8,558.2L469.2,556.6L470.6,555.1L472.0,553.6L473.4,552.1L474.8,550.6L476.2,549.2L477.5,547.8L478.9,546.3L480.2,544.9L481.5,543.5L482.8,542.1L484.0,540.6L485.3,539.2L486.5,537.7L487.7,536.2L488.9,534.7L490.1,533.1L491.3,531.6L492.5,530.0L493.8,528.4L495.0,526.8L496.2,525.2L497.5,523.6L498.7,522.0L500.0,520.4L501.4,518.8L502.7,517.2L504.1,515.6L505.5,514.0L506.9,512.5L508.3,510.9L509.8,509.4L511.2,508.0L512.7,506.5L514.1,505.1L515.6,503.6L517.1,502.2L518.5,500.8L520.0,499.4L521.4,498.1L522.8,496.7L524.3,495.3L525.7,493.9L527.1,492.5L528.5,491.1L530.0,489.7L531.4,488.3L532.9,486.9L534.3,485.5L535.8,484.1L537.3,482.7L538.8,481.3L540.2,480.0L541.7,478.6L543.2,477.2L544.7,475.8L546.3,474.5L547.8,473.1L549.3,471.8L550.9,470.4L552.4,469.1L553.9,467.8L555.5,466.5L557.0,465.2L558.6,463.9L560.1,462.6L561.7,461.3L563.2,460.0L564.8,458.7L566.4,457.5L567.9,456.2L569.5,454.9L571.1,453.6L572.6,452.4L574.2,451.1L575.8,449.9L577.4,448.6L578.9,447.4L580.5,446.1L582.1,444.9L583.6,443.7L585.2,442.4L586.7,441.2L588.1,440.0L589.6,438.7L591.1,437.4L592.7,436.1L594.2,434.8L595.8,433.5L597.5,432.1L599.1,430.8L600.8,429.6L602.5,428.3L604.2,427.1L605.8,425.9L607.5,424.7L609.2,423.6L610.9,422.4L612.5,421.3L614.2,420.2L615.9,419.0L617.6,417.9L619.3,416.8L620.9,415.7L622.6,414.6L624.3,413.5L626.0,412.4L627.7,411.3L629.4,410.2L631.1,409.1L632.8,408.0L634.5,406.9L636.2,405.8L637.9,404.8L639.6,403.7L641.4,402.6L643.1,401.6L644.8,400.5L646.6,399.5L648.3,398.4L650.1,397.4L651.8,396.4L653.6,395.4L655.3,394.3L657.1,393.3L658.9,392.3L660.6,391.4L662.4,390.4L664.2,389.4L665.9,388.4L667.7,387.5L669.5,386.5L671.3,385.5L673.0,384.6L674.8,383.6L676.6,382.7L678.4,381.7L680.2,380.8L681.9,379.9L683.7,378.9L685.5,378.0L687.3,377.1L689.1,376.2L690.9,375.3L692.8,374.3L694.6,373.4L696.4,372.5L698.2,371.7L700.1,370.8L701.9,369.9L703.8,369.1L705.6,368.2L707.5,367.4L709.4,366.5L711.2,365.7L713.1,364.9L715.0,364.1L716.9,363.3L718.8,362.5L720.7,361.8L722.7,361.0L724.6,360.3L726.6,359.6L728.5,358.9L730.4,358.3L732.3,357.6L734.2,357.0L736.1,356.3L737.9,355.7L739.8,355.0L741.6,354.4L743.4,353.7L745.2,353.0L746.9,352.3L748.6,351.6L750.3,350.8L752.0,350.0L753.7,349.2L755.5,348.3L757.2,347.4L759.0,346.5L760.8,345.6L762.6,344.6L764.4,343.7L766.3,342.8L768.2,341.9L770.2,341.0L772.1,340.2L774.1,339.4L776.1,338.6L778.1,337.9L780.1,337.2L782.1,336.5L784.0,335.9L786.0,335.3L788.0,334.7L790.0,334.1L791.9,333.5L793.9,333.0L795.9,332.4L797.8,331.9L799.8,331.4L801.8,330.9L803.7,330.4L805.7,329.9L807.6,329.4L809.6,328.9L811.6,328.4L813.5,328.0L815.5,327.5L817.4,327.0L819.4,326.6L821.4,326.1L823.3,325.7L825.3,325.2L827.3,324.8L829.3,324.3L831.3,323.9L833.2,323.5L835.2,323.1L837.2,322.7L839.2,322.3L841.2,321.9L843.2,321.5L845.2,321.1L847.2,320.7L849.2,320.4L851.2,320.0L853.2,319.7L855.1,319.3L857.1,319.0L859.1,318.7L861.2,318.4L863.2,318.0L865.2,317.7L867.2,317.4L869.2,317.1L871.2,316.9L873.2,316.6L875.2,316.3L877.2,316.1L879.2,315.8L881.2,315.6L883.2,315.3L885.3,315.1L887.3,314.9L889.3,314.6L891.3,314.4L893.3,314.2L895.3,314.0L897.4,313.8L899.4,313.7L901.4,313.5L903.4,313.3L905.5,313.2L907.5,313.0L909.5,312.9L911.6,312.8L913.6,312.7L915.6,312.5L917.6,312.4L919.7,312.4L921.7,312.3L923.7,312.2L925.7,312.1L927.7,312.0L929.7,312.0L931.7,311.9L933.8,311.8L935.8,311.8L937.8,311.7L939.8,311.6L941.8,311.6L943.8,311.5L945.8,311.5L947.8,311.4L949.9,311.4L951.9,311.4L953.9,311.4L955.9,311.3L957.9,311.3L959.9,311.3L961.9,311.3L964.0,311.3L966.0,311.3L968.0,311.2L970.0,311.2L972.0,311.2L974.0,311.2L976.0,311.2L978.0,311.2L980.0,311.2L982.0,311.2L984.1,311.2L986.1,311.3L988.1,311.3L990.2,311.3L992.2,311.4L994.2,311.5L996.2,311.5L998.2,311.6L1000.2,311.6L1002.1,311.7L1004.1,311.7L1006.1,311.7L1008.1,311.8L1010.1,311.8L1012.2,311.8L1014.2,311.9L1016.3,311.9L1018.4,312.0L1020.5,312.1L1022.5,312.3L1024.6,312.5L1026.7,312.6L1028.7,312.8L1030.7,313.0L1032.8,313.3L1034.8,313.5L1036.8,313.7L1038.8,313.9L1040.7,314.2L1042.7,314.4L1044.7,314.6L1046.7,314.8L1048.7,315.1L1050.8,315.3L1052.8,315.6L1054.8,315.8L1056.8,316.1L1058.8,316.4L1060.8,316.7L1062.8,316.9L1064.7,317.2L1066.7,317.5L1068.7,317.8L1070.7,318.1L1072.7,318.3L1074.7,318.6L1076.7,318.9L1078.6,319.2L1080.6,319.5L1082.6,319.8L1084.6,320.1L1086.6,320.4L1088.6,320.7L1090.6,321.0L1092.6,321.3L1094.6,321.6L1096.6,321.9L1098.6,322.3L1100.6,322.6L1102.6,323.0L1104.6,323.3L1106.6,323.7L1108.6,324.1L1110.5,324.4L1112.5,324.8L1114.5,325.2L1116.5,325.6L1118.5,326.0L1120.4,326.4L1122.4,326.8L1124.4,327.2L1126.4,327.6L1128.3,328.0L1130.3,328.4L1132.3,328.8L1134.2,329.2L1136.2,329.7L1138.1,330.1L1140.1,330.5L1142.1,330.9L1144.0,331.3L1146.0,331.7L1147.9,332.2L1149.9,332.6" fill="none" stroke="#111" stroke-width="0.70"/>
<path d="M1333.9,1100.3L1331.9,1100.2L1329.8,1100.1L1327.8,1100.0L1325.8,1099.9L1323.8,1099.8L1321.8,1099.7L1319.8,1099.6L1317.8,1099.5L1315.8,1099.4L1313.8,1099.3L1311.8,1099.2L1309.8,1099.1L1307.8,1099.0L1305.8,1098.9L1303.8,1098.8L1301.8,1098.7L1299.8,1098.5L1297.8,1098.4L1295.8,1098.3L1293.8,1098.2L1291.8,1098.1L1289.8,1098.0L1287.8,1097.9L1285.8,1097.8L1283.8,1097.7L1281.8,1097.6L1279.8,1097.5L1277.8,1097.4L1275.8,1097.3L1273.9,1097.2L1271.9,1097.1L1269.9,1097.0L1267.9,1096.9L1265.9,1096.8L1263.9,1096.7L1261.9,1096.6L1259.9,1096.5L1257.9,1096.5L1255.9,1096.4L1253.9,1096.3L1251.9,1096.2L1249.9,1096.1L1247.9,1096.0L1245.9,1095.9L1243.9,1095.8L1241.9,1095.7L1239.9,1095.6L1237.9,1095.5L1235.9,1095.4L1233.8,1095.3L1231.8,1095.2L1229.8,1095.1L1227.8,1095.0L1225.8,1094.9L1223.8,1094.7L1221.7,1094.6L1219.7,1094.5L1217.6,1094.4L1215.6,1094.2L1213.5,1094.1L1211.3,1093.9L1209.2,1093.7L1207.1,1093.5L1205.0,1093.3L1203.0,1093.1L1201.1,1092.9L1199.3,1092.7L1197.4,1092.5L1195.6,1092.4L1193.7,1092.3L1191.8,1092.1L1189.9,1092.0L1187.9,1091.9L1186.0,1091.8L1184.0,1091.7L1182.0,1091.6L1180.0,1091.5L1178.1,1091.4L1176.1,1091.4L1174.1,1091.3L1172.1,1091.2L1170.1,1091.1L1168.1,1091.0L1166.2,1090.9L1164.2,1090.9L1162.2,1090.8L1160.2,1090.7L1158.2,1090.6L1156.2,1090.6L1154.2,1090.5L1152.2,1090.4L1150.2,1090.3L1148.2,1090.3L1146.2,1090.2L1144.3,1090.1L1142.3,1090.1L1140.3,1090.0L1138.3,1089.9L1136.3,1089.8L1134.3,1089.8L1132.3,1089.7L1130.3,1089.6L1128.3,1089.6L1126.3,1089.5L1124.3,1089.5L1122.3,1089.4L1120.3,1089.3L1118.3,1089.3L1116.3,1089.2L1114.3,1089.1L1112.3,1089.1L1110.3,1089.0L1108.3,1089.0L1106.3,1088.9L1104.3,1088.8L1102.4,1088.8L1100.4,1088.7L1098.4,1088.7L1096.4,1088.6L1094.4,1088.6L1092.4,1088.5L1090.4,1088.4L1088.4,1088.4L1086.4,1088.3L1084.4,1088.3L1082.4,1088.2L1080.4,1088.2L1078.4,1088.1L1076.4,1088.1L1074.4,1088.0L1072.4,1088.0L1070.4,1087.9L1068.4,1087.9L1066.4,1087.8L1064.5,1087.8L1062.5,1087.7L1060.5,1087.7L1058.5,1087.7L1056.5,1087.6L1054.5,1087.6L1052.5,1087.5L1050.5,1087.5L1048.6,1087.5L1046.6,1087.4L1044.6,1087.4L1042.6,1087.4L1040.6,1087.4L1038.6,1087.3L1036.6,1087.3L1034.7,1087.3L1032.7,1087.3L1030.7,1087.3L1028.8,1087.3L1026.8,1087.3L1024.9,1087.3L1022.9,1087.3L1021.0,1087.3L1019.0,1087.3L1017.0,1087.3L1015.1,1087.3L1013.1,1087.4L1011.1,1087.4L1009.1,1087.4L1007.1,1087.5L1005.2,1087.5L1003.2,1087.6L1001.2,1087.6L999.3,1087.7L997.3,1087.7L995.3,1087.8L993.3,1087.8L991.4,1087.9L989.4,1088.0L987.4,1088.1L985.4,1088.1L983.4,1088.2L981.4,1088.3L979.5,1088.3L977.5,1088.4L975.5,1088.5L973.5,1088.6L971.5,1088.7L969.5,1088.7L967.5,1088.8L965.5,1088.9L963.5,1089.0L961.5,1089.1L959.5,1089.1L957.5,1089.2L955.5,1089.3L953.5,1089.4L951.5,1089.5L949.4,1089.5L947.4,1089.6L945.4,1089.7L943.4,1089.7L941.4,1089.8L939.4,1089.9L937.4,1090.0L935.4,1090.0L933.4,1090.1L931.4,1090.2L929.4,1090.2L927.4,1090.3L925.4,1090.4L923.4,1090.4L921.4,1090.5L919.4,1090.6L917.4,1090.6L915.4,1090.7L913.4,1090.8L911.5,1090.9L909.5,1090.9L907.5,1091.0L905.5,1091.1L903.5,1091.2L901.5,1091.3L899.6,1091.3L897.6,1091.4L895.6,1091.5L893.6,1091.6L891.7,1091.7L889.8,1091.8L887.8,1091.9L885.9,1092.0L883.9,1092.2L882.0,1092.3L880.1,1092.4L878.2,1092.6L876.3,1092.7L874.4,1092.9L872.5,1093.1L870.6,1093.3L868.7,1093.5L866.8,1093.7L864.8,1093.9L862.9,1094.1L860.9,1094.4L858.9,1094.6L856.9,1094.8L854.9,1095.1L852.9,1095.3L850.9,1095.5L848.9,1095.7L847.0,1096.0L845.1,1096.2L843.1,1096.4L841.2,1096.7L839.2,1096.9L837.2,1097.2L835.3,1097.4L833.3,1097.7L831.3,1098.0L829.3,1098.2L827.3,1098.5L825.3,1098.7L823.3,1099.0L821.3,1099.2L819.3,1099.5L817.2,1099.7L815.2,1100.0L813.2,1100.2L811.1,1100.4L809.1,1100.7L807.1,1100.9L805.0,1101.1L802.9,1101.3L800.9,1101.5L798.8,1101.7L796.8,1101.8L794.7,1102.0L792.7,1102.2L790.7,1102.3L788.6,1102.5L786.6,1102.7L784.5,1102.8L782.5,1102.9L780.5,1103.1L778.4,1103.2L776.4,1103.3L774.4,1103.4L772.3,1103.6L770.3,1103.7L768.3,1103.8L766.2,1103.9L764.2,1104.0L762.2,1104.1L760.2,1104.2L758.2,1104.3L756.1,1104.3L754.1,1104.4L752.1,1104.5L750.1,1104.6L748.0,1104.7L746.0,1104.7L744.0,1104.8L742.0,1104.9L739.9,1104.9L737.9,1105.0L735.9,1105.0L733.9,1105.1L731.8,1105.1L729.8,1105.2L727.8,1105.2L725.8,1105.3L723.7,1105.3L721.7,1105.4L719.7,1105.4L717.7,1105.4L715.6,1105.4L713.6,1105.5L711.6,1105.5L709.5,1105.5L707.5,1105.5L705.5,1105.5L703.4,1105.5L701.4,1105.5L699.3,1105.5L697.3,1105.5L695.2,1105.5L693.2,1105.4L691.1,1105.4L689.1,1105.3L687.0,1105.3L684.9,1105.2L682.9,1105.2L680.8,1105.1L678.8,1105.0L676.7,1104.9L674.7,1104.8L672.6,1104.7L670.6,1104.6L668.5,1104.5L666.5,1104.4L664.5,1104.3L662.5,1104.2L660.4,1104.1L658.4,1103.9L656.3,1103.8L654.3,1103.7L652.2,1103.5L650.2,1103.3L648.2,1103.2L646.1,1103.0L644.1,1102.9L642.1,1102.7L640.0,1102.5L638.0,1102.3L636.0,1102.1L634.0,1101.9L632.0,1101.8L630.0,1101.6L627.9,1101.4L625.9,1101.2L623.9,1101.0L621.9,1100.8L619.9,1100.6L618.0,1100.4L616.0,1100.2L614.0,1100.0L611.9,1099.8L609.9,1099.6L607.9,1099.4L605.9,1099.1L603.8,1098.9L601.8,1098.7L599.7,1098.4L597.7,1098.2L595.6,1097.9L593.5,1097.7L591.5,1097.4L589.4,1097.1L587.4,1096.8L585.3,1096.5L583.3,1096.2L581.3,1095.9L579.3,1095.5L577.2,1095.2L575.2,1094.9L573.1,1094.5L571.1,1094.1L569.0,1093.8L566.9,1093.4L564.8,1093.0L562.7,1092.5L560.6,1092.1L558.5,1091.6L556.4,1091.1L554.4,1090.6L552.4,1090.1L550.3,1089.6L548.3,1089.1L546.3,1088.5L544.2,1087.9L542.2,1087.4L540.2,1086.8L538.1,1086.2L536.1,1085.6L534.0,1084.9L532.0,1084.2L529.9,1083.5L527.8,1082.8L525.7,1082.0L523.6,1081.2L521.5,1080.4L519.4,1079.4L517.4,1078.5L515.3,1077.4L513.3,1076.4L511.4,1075.4L509.5,1074.3L507.6,1073.2L505.7,1072.2L503.9,1071.1L502.2,1070.1L500.4,1069.0L498.7,1068.0L496.9,1066.9L495.2,1065.8L493.4,1064.7L491.6,1063.6L489.8,1062.5L488.1,1061.4L486.3,1060.3L484.6,1059.2L482.8,1058.0L481.1,1056.8L479.4,1055.7L477.7,1054.5L475.9,1053.3L474.2,1052.1L472.5,1050.9L470.8,1049.7L469.2,1048.4L467.5,1047.2L465.8,1046.0L464.2,1044.7L462.5,1043.4L460.8,1042.2L459.2,1040.9L457.5,1039.6L455.9,1038.2L454.2,1036.9L452.6,1035.5L451.0,1034.1L449.3,1032.7L447.7,1031.3L446.1,1029.8L444.6,1028.4L443.0,1026.9L441.5,1025.4L439.9,1023.9L438.4,1022.3L436.9,1020.8L435.5,1019.3L434.0,1017.7L432.5,1016.1L431.1,1014.5L429.7,1012.9L428.3,1011.2L427.0,1009.6L425.6,1008.0L424.3,1006.3L423.0,1004.6L421.7,1002.9L420.4,1001.2L419.1,999.5L417.8,997.9L416.6,996.2L415.3,994.5L414.1,992.8L412.9,991.1L411.7,989.4L410.5,987.7L409.3,986.0L408.1,984.2L406.9,982.5L405.8,980.7L404.6,978.9L403.5,977.1L402.4,975.3L401.3,973.5L400.2,971.7L399.2,969.9L398.1,968.1L397.1,966.2L396.1,964.4L395.1,962.6L394.1,960.7L393.2,958.9L392.2,957.1L391.3,955.2L390.3,953.3L389.4,951.4L388.5,949.6L387.6,947.7L386.7,945.8L385.8,943.8L385.0,941.9L384.1,940.0L383.3,938.1L382.5,936.1L381.7,934.2L380.9,932.2L380.1,930.2L379.4,928.2L378.7,926.2L378.0,924.2L377.3,922.2L376.6,920.2L376.0,918.2L375.3,916.3L374.7,914.3L374.1,912.3L373.5,910.3L373.0,908.4L372.4,906.4L371.8,904.5L371.2,902.5L370.7,900.5L370.1,898.4L369.6,896.3L369.1,894.2L368.6,892.1L368.1,889.9L367.7,887.8L367.3,885.7L366.9,883.6L366.6,881.5L366.3,879.3L366.0,877.2L365.7,875.1L365.4,873.1L365.2,871.0L365.0,868.9L364.8,866.8L364.6,864.8L364.4,862.7L364.2,860.6L364.0,858.6L363.9,856.5L363.8,854.4L363.6,852.4L363.5,850.3L363.4,848.3L363.3,846.2L363.2,844.2L363.1,842.2L363.0,840.1L363.0,838.1L362.9,836.1L362.8,834.0L362.8,832.0L362.7,830.0L362.6,827.9L362.6,825.9L362.5,823.9L362.5,821.8L362.5,819.8L362.5,817.7L362.4,815.6L362.5,813.6L362.5,811.4L362.5,809.3L362.6,807.1L362.7,804.9L362.8,802.6L363.1,800.1L363.4,797.6L363.9,795.2L364.3,793.1L364.7,791.1L365.1,789.4L365.4,787.6L365.7,785.8L366.1,783.8L366.4,781.9L366.7,779.9L367.0,777.8L367.4,775.8L367.8,773.7L368.2,771.6L368.6,769.5L369.0,767.4L369.5,765.3L370.0,763.3L370.4,761.3L370.9,759.3L371.4,757.3L371.9,755.3L372.4,753.3L373.0,751.3L373.5,749.4L374.0,747.4L374.6,745.4L375.1,743.4L375.7,741.5L376.2,739.5L376.8,737.5L377.4,735.5L378.0,733.6L378.6,731.6L379.2,729.6L379.8,727.7L380.4,725.7L381.1,723.8L381.7,721.8L382.3,719.9L383.0,717.9L383.6,716.0L384.3,714.1L385.0,712.2L385.6,710.2L386.3,708.3L387.0,706.4L387.7,704.5L388.3,702.6L389.0,700.7L389.7,698.8L390.4,696.9L391.1,695.0L391.8,693.1L392.5,691.2L393.2,689.3L393.9,687.4L394.6,685.5L395.3,683.6L396.0,681.7L396.8,679.8L397.5,677.9L398.2,676.0L399.0,674.1L399.7,672.2L400.5,670.3L401.3,668.4L402.0,666.5L402.8,664.6L403.6,662.7L404.4,660.9L405.2,659.0L406.0,657.1L406.8,655.2L407.6,653.4L408.4,651.5L409.3,649.6L410.1,647.8L410.9,646.0L411.7,644.1L412.5,642.3L413.3,640.5L414.2,638.6L415.0,636.8L415.8,635.0L416.6,633.1L417.5,631.3L418.3,629.4L419.2,627.6L420.0,625.7L420.9,623.9L421.8,622.0L422.6,620.1L423.6,618.3L424.5,616.4L425.4,614.5L426.4,612.7L427.3,610.8L428.3,609.0L429.3,607.1L430.2,605.3L431.2,603.5L432.2,601.7L433.2,599.9L434.3,598.1L435.3,596.3L436.3,594.5L437.4,592.7L438.4,591.0L439.5,589.2L440.5,587.4L441.6,585.7L442.7,583.9L443.8,582.2L444.9,580.4L446.0,578.7L447.1,577.0L448.3,575.2L449.4,573.5L450.6,571.7L451.8,570.0L453.0,568.3L454.3,566.5L455.6,564.8L456.8,563.1L458.1,561.4L459.5,559.7L460.8,558.0L462.3,556.3L463.7,554.6L465.2,553.0L466.6,551.4L468.1,549.9L469.5,548.4L470.9,546.9L472.2,545.4L473.6,544.0L474.9,542.6L476.2,541.2L477.5,539.8L478.7,538.5L479.9,537.1L481.1,535.7L482.3,534.3L483.4,532.8L484.6,531.3L485.8,529.8L487.0,528.2L488.2,526.7L489.5,525.1L490.7,523.5L491.9,521.9L493.2,520.3L494.5,518.6L495.8,517.0L497.2,515.3L498.6,513.7L500.0,512.0L501.5,510.4L502.9,508.8L504.4,507.2L505.9,505.7L507.4,504.1L508.8,502.6L510.3,501.2L511.8,499.7L513.3,498.3L514.8,496.9L516.2,495.5L517.6,494.1L519.1,492.8L520.5,491.4L521.9,490.0L523.3,488.6L524.8,487.2L526.2,485.8L527.7,484.4L529.1,483.0L530.6,481.6L532.1,480.2L533.5,478.8L535.0,477.4L536.5,476.0L538.0,474.6L539.6,473.2L541.1,471.8L542.7,470.4L544.2,469.0L545.8,467.7L547.3,466.3L548.9,465.0L550.4,463.6L552.0,462.3L553.6,461.0L555.1,459.7L556.7,458.4L558.2,457.1L559.8,455.8L561.3,454.5L562.9,453.3L564.5,452.0L566.1,450.7L567.7,449.4L569.3,448.1L570.8,446.9L572.4,445.6L574.0,444.4L575.6,443.1L577.1,441.9L578.7,440.6L580.2,439.4L581.8,438.2L583.2,437.0L584.7,435.8L586.1,434.6L587.6,433.3L589.1,432.0L590.7,430.6L592.4,429.3L594.1,427.9L595.8,426.6L597.5,425.2L599.3,423.9L601.0,422.7L602.7,421.5L604.4,420.3L606.1,419.1L607.8,418.0L609.5,416.8L611.2,415.7L612.9,414.5L614.6,413.4L616.2,412.3L617.9,411.2L619.6,410.0L621.3,408.9L623.0,407.8L624.7,406.7L626.5,405.6L628.2,404.5L629.9,403.4L631.6,402.3L633.3,401.3L635.0,400.2L636.8,399.1L638.5,398.0L640.3,396.9L642.0,395.9L643.8,394.8L645.5,393.8L647.3,392.7L649.1,391.7L650.9,390.7L652.6,389.6L654.4,388.6L656.2,387.6L658.0,386.6L659.7,385.6L661.5,384.6L663.3,383.7L665.1,382.7L666.9,381.7L668.7,380.7L670.5,379.8L672.3,378.8L674.1,377.9L675.8,376.9L677.6,376.0L679.4,375.1L681.2,374.1L683.0,373.2L684.8,372.3L686.7,371.3L688.5,370.4L690.3,369.5L692.2,368.6L694.0,367.7L695.9,366.8L697.7,365.9L699.6,365.0L701.5,364.1L703.4,363.3L705.3,362.4L707.2,361.6L709.1,360.7L711.0,359.9L712.9,359.1L714.8,358.3L716.8,357.5L718.8,356.7L720.8,355.9L722.8,355.2L724.8,354.5L726.7,353.8L728.6,353.1L730.6,352.5L732.4,351.8L734.3,351.2L736.1,350.6L737.9,349.9L739.7,349.3L741.4,348.6L743.2,348.0L744.8,347.3L746.4,346.6L748.1,345.9L749.7,345.1L751.3,344.3L753.0,343.4L754.7,342.6L756.5,341.7L758.3,340.7L760.2,339.8L762.0,338.8L764.0,337.9L765.9,337.0L768.0,336.1L770.0,335.2L772.1,334.3L774.2,333.5L776.3,332.7L778.4,332.0L780.4,331.4L782.4,330.7L784.4,330.1L786.4,329.5L788.4,328.9L790.4,328.3L792.4,327.7L794.4,327.2L796.4,326.7L798.4,326.1L800.4,325.6L802.4,325.1L804.4,324.6L806.3,324.1L808.3,323.6L810.3,323.2L812.3,322.7L814.2,322.2L816.2,321.8L818.2,321.3L820.1,320.8L822.1,320.4L824.1,319.9L826.1,319.5L828.1,319.0L830.1,318.6L832.1,318.2L834.1,317.8L836.1,317.3L838.1,316.9L840.1,316.6L842.2,316.2L844.2,315.8L846.2,315.4L848.2,315.0L850.2,314.7L852.2,314.3L854.2,314.0L856.3,313.6L858.3,313.3L860.3,313.0L862.3,312.7L864.3,312.4L866.4,312.1L868.4,311.8L870.4,311.5L872.5,311.2L874.5,310.9L876.5,310.7L878.5,310.4L880.6,310.2L882.6,309.9L884.6,309.7L886.7,309.5L888.7,309.2L890.8,309.0L892.8,308.8L894.8,308.6L896.9,308.4L898.9,308.2L901.0,308.1L903.0,307.9L905.1,307.8L907.1,307.6L909.2,307.5L911.2,307.4L913.3,307.2L915.3,307.1L917.4,307.0L919.4,306.9L921.4,306.8L923.5,306.8L925.5,306.7L927.5,306.6L929.5,306.5L931.6,306.5L933.6,306.4L935.6,306.3L937.6,306.3L939.6,306.2L941.6,306.2L943.7,306.1L945.7,306.1L947.7,306.0L949.8,306.0L951.8,305.9L953.8,305.9L955.8,305.9L957.9,305.9L959.9,305.9L961.9,305.8L963.9,305.8L965.9,305.8L967.9,305.8L970.0,305.8L972.0,305.8L974.0,305.8L976.0,305.8L978.0,305.8L980.0,305.8L982.1,305.8L984.1,305.8L986.2,305.8L988.2,305.9L990.3,305.9L992.4,306.0L994.4,306.0L996.4,306.1L998.3,306.2L1000.3,306.2L1002.2,306.2L1004.2,306.3L1006.2,306.3L1008.2,306.3L1010.2,306.4L1012.3,306.4L1014.4,306.4L1016.5,306.5L1018.6,306.6L1020.8,306.7L1022.9,306.9L1025.1,307.0L1027.2,307.2L1029.3,307.4L1031.3,307.6L1033.4,307.9L1035.4,308.1L1037.4,308.3L1039.4,308.5L1041.3,308.8L1043.3,309.0L1045.3,309.2L1047.3,309.4L1049.4,309.7L1051.4,309.9L1053.5,310.2L1055.5,310.5L1057.5,310.7L1059.5,311.0L1061.5,311.3L1063.5,311.6L1065.5,311.8L1067.5,312.1L1069.5,312.4L1071.5,312.7L1073.4,313.0L1075.4,313.2L1077.4,313.5L1079.4,313.8L1081.4,314.1L1083.4,314.4L1085.4,314.7L1087.4,315.0L1089.4,315.3L1091.4,315.6L1093.4,315.9L1095.5,316.3L1097.5,316.6L1099.5,316.9L1101.5,317.3L1103.5,317.6L1105.5,318.0L1107.6,318.4L1109.6,318.7L1111.6,319.1L1113.6,319.5L1115.6,319.9L1117.5,320.3L1119.5,320.7L1121.5,321.1L1123.5,321.5L1125.5,321.9L1127.5,322.3L1129.4,322.7L1131.4,323.1L1133.4,323.5L1135.3,323.9L1137.3,324.3L1139.3,324.8L1141.2,325.2L1143.2,325.6L1145.2,326.0L1147.1,326.4L1149.1,326.8L1151.0,327.3" fill="none" stroke="#777" stroke-width="0.70"/>
<path d="M480.1,1058.4L478.3,1057.4L476.4,1056.4L474.6,1055.3L472.8,1054.3L470.9,1053.2L469.1,1052.2L467.3,1051.1L465.5,1050.0L463.8,1048.9L462.0,1047.8L460.2,1046.7L458.4,1045.6L456.6,1044.4L454.8,1043.2L453.0,1042.0L451.2,1040.8L449.4,1039.5L447.6,1038.3L445.8,1036.9L444.0,1035.6L442.3,1034.3L440.6,1032.8L438.9,1031.3L437.3,1029.9L435.7,1028.4L434.1,1026.8L432.5,1025.3L431.0,1023.7L429.4,1022.1L427.9,1020.5L426.4,1018.9L424.9,1017.3L423.4,1015.6L421.9,1014.0L420.5,1012.3L419.1,1010.6L417.6,1008.9L416.3,1007.2L414.9,1005.5L413.6,1003.8L412.3,1002.1L411.0,1000.4L409.7,998.6L408.4,996.9L407.2,995.2L405.9,993.4L404.7,991.7L403.5,989.9L402.3,988.1L401.1,986.3L399.9,984.5L398.7,982.6L397.6,980.8L396.4,979.0L395.3,977.1L394.2,975.2L393.1,973.4L392.0,971.5L391.0,969.6L390.0,967.8L389.0,965.9L388.0,964.0L387.0,962.2L386.0,960.3L385.0,958.4L384.0,956.4L383.1,954.5L382.2,952.6L381.2,950.6L380.3,948.7L379.4,946.7L378.6,944.8L377.7,942.8L376.8,940.8L376.0,938.8L375.2,936.8L374.4,934.8L373.6,932.7L372.8,930.6L372.1,928.5L371.4,926.5L370.6,924.4L370.0,922.4L369.3,920.4L368.7,918.4L368.0,916.4L367.4,914.4L366.8,912.4L366.2,910.4L365.7,908.4L365.1,906.4L364.5,904.4L363.9,902.3L363.3,900.2L362.8,898.0L362.2,895.8L361.7,893.6L361.3,891.3L360.8,889.1L360.4,886.9L360.0,884.7L359.7,882.5L359.3,880.3L359.0,878.2L358.8,876.0L358.5,873.9L358.2,871.8L358.0,869.6L357.8,867.5L357.6,865.4L357.4,863.3L357.2,861.2L357.1,859.1L356.9,857.0L356.8,854.9L356.6,852.8L356.5,850.7L356.4,848.7L356.3,846.6L356.2,844.5L356.1,842.5L356.0,840.4L356.0,838.4L355.9,836.3L355.8,834.3L355.8,832.2L355.7,830.2L355.6,828.1L355.6,826.1L355.6,824.0L355.5,822.0L355.5,819.9L355.5,817.8L355.4,815.7L355.5,813.5L355.5,811.3L355.5,809.1L355.6,806.8L355.7,804.5L355.9,802.0L356.1,799.3L356.5,796.5L357.0,793.9L357.5,791.6L357.9,789.7L358.2,788.0L358.5,786.4L358.8,784.6L359.1,782.7L359.5,780.8L359.8,778.7L360.1,776.7L360.5,774.6L360.9,772.4L361.3,770.3L361.7,768.1L362.2,766.0L362.7,763.8L363.1,761.7L363.6,759.7L364.1,757.6L364.6,755.6L365.1,753.6L365.7,751.6L366.2,749.5L366.7,747.6L367.3,745.5L367.8,743.5L368.4,741.5L368.9,739.5L369.5,737.6L370.1,735.6L370.7,733.5L371.3,731.6L371.9,729.5L372.5,727.5L373.1,725.6L373.8,723.6L374.4,721.6L375.0,719.6L375.7,717.6L376.4,715.7L377.0,713.7L377.7,711.8L378.4,709.9L379.0,707.9L379.7,706.0L380.4,704.1L381.1,702.2L381.7,700.3L382.4,698.4L383.1,696.4L383.8,694.5L384.5,692.6L385.2,690.7L385.9,688.8L386.6,686.9L387.3,684.9L388.0,683.0L388.8,681.1L389.5,679.2L390.2,677.3L391.0,675.4L391.7,673.5L392.5,671.5L393.2,669.6L394.0,667.7L394.8,665.8L395.6,663.9L396.3,662.0L397.1,660.0L397.9,658.1L398.8,656.2L399.6,654.3L400.4,652.4L401.2,650.6L402.0,648.7L402.9,646.8L403.7,645.0L404.5,643.1L405.3,641.3L406.1,639.4L407.0,637.6L407.8,635.8L408.6,633.9L409.4,632.1L410.3,630.3L411.1,628.4L411.9,626.5L412.8,624.7L413.7,622.8L414.5,620.9L415.4,619.0L416.3,617.1L417.3,615.2L418.2,613.3L419.2,611.4L420.1,609.5L421.1,607.6L422.1,605.7L423.1,603.8L424.1,602.0L425.1,600.1L426.1,598.3L427.1,596.5L428.2,594.6L429.2,592.8L430.3,591.0L431.3,589.2L432.4,587.4L433.5,585.6L434.6,583.8L435.7,582.0L436.8,580.2L437.9,578.4L439.0,576.7L440.1,574.9L441.3,573.1L442.4,571.4L443.6,569.6L444.8,567.8L446.1,566.0L447.3,564.2L448.6,562.4L449.9,560.6L451.2,558.9L452.6,557.1L454.0,555.3L455.4,553.5L456.9,551.7L458.5,550.0L460.0,548.3L461.5,546.7L463.0,545.1L464.4,543.5L465.8,542.1L467.2,540.6L468.5,539.2L469.8,537.8L471.1,536.5L472.3,535.1L473.5,533.8L474.6,532.5L475.7,531.2L476.9,529.8L478.0,528.4L479.1,527.0L480.3,525.5L481.5,524.0L482.7,522.4L483.9,520.8L485.1,519.2L486.4,517.6L487.7,515.9L489.0,514.3L490.4,512.6L491.8,510.8L493.2,509.1L494.8,507.4L496.3,505.7L497.8,504.0L499.3,502.4L500.9,500.8L502.4,499.2L503.9,497.7L505.4,496.2L506.9,494.7L508.4,493.3L509.9,491.8L511.4,490.5L512.8,489.1L514.2,487.7L515.6,486.4L517.0,485.0L518.4,483.6L519.9,482.2L521.3,480.8L522.8,479.4L524.3,478.0L525.7,476.5L527.2,475.1L528.7,473.7L530.2,472.3L531.8,470.9L533.3,469.4L534.8,468.0L536.4,466.6L538.0,465.2L539.6,463.8L541.2,462.4L542.7,461.0L544.3,459.7L545.9,458.3L547.5,457.0L549.1,455.6L550.6,454.3L552.2,453.0L553.8,451.7L555.3,450.4L556.9,449.1L558.5,447.8L560.1,446.5L561.7,445.2L563.3,443.9L564.9,442.7L566.5,441.4L568.1,440.1L569.7,438.9L571.2,437.6L572.8,436.4L574.3,435.2L575.9,433.9L577.4,432.7L578.8,431.6L580.2,430.5L581.6,429.3L583.0,428.0L584.6,426.7L586.2,425.3L588.0,423.8L589.7,422.4L591.5,421.0L593.3,419.6L595.1,418.3L596.9,417.0L598.7,415.7L600.5,414.5L602.2,413.3L603.9,412.2L605.6,411.0L607.3,409.9L609.0,408.7L610.7,407.6L612.4,406.5L614.1,405.3L615.8,404.2L617.5,403.1L619.2,401.9L620.9,400.8L622.7,399.7L624.4,398.6L626.1,397.5L627.9,396.4L629.6,395.3L631.3,394.2L633.1,393.1L634.8,392.0L636.6,391.0L638.4,389.9L640.2,388.8L642.0,387.7L643.8,386.7L645.6,385.6L647.4,384.6L649.2,383.6L651.0,382.5L652.8,381.5L654.6,380.5L656.4,379.5L658.2,378.5L659.9,377.5L661.8,376.5L663.6,375.6L665.4,374.6L667.2,373.6L669.0,372.7L670.8,371.7L672.6,370.7L674.4,369.8L676.2,368.8L678.0,367.9L679.8,367.0L681.7,366.0L683.5,365.1L685.3,364.2L687.2,363.2L689.1,362.3L691.0,361.4L692.9,360.5L694.7,359.5L696.7,358.6L698.6,357.8L700.5,356.9L702.4,356.0L704.3,355.2L706.3,354.3L708.2,353.5L710.1,352.7L712.1,351.8L714.2,351.0L716.2,350.2L718.4,349.4L720.4,348.6L722.4,347.9L724.4,347.2L726.4,346.5L728.3,345.9L730.2,345.2L732.0,344.6L733.8,344.0L735.6,343.3L737.3,342.7L738.9,342.1L740.6,341.4L742.1,340.8L743.6,340.2L745.1,339.5L746.6,338.8L748.2,338.0L749.9,337.2L751.5,336.3L753.3,335.4L755.1,334.5L757.0,333.5L758.9,332.6L761.0,331.6L763.0,330.6L765.1,329.6L767.3,328.7L769.5,327.8L771.8,326.9L773.9,326.2L776.1,325.4L778.2,324.7L780.3,324.0L782.4,323.4L784.4,322.8L786.5,322.2L788.5,321.6L790.6,321.0L792.6,320.4L794.6,319.9L796.6,319.4L798.7,318.8L800.7,318.3L802.7,317.8L804.7,317.3L806.7,316.8L808.6,316.4L810.6,315.9L812.6,315.4L814.6,314.9L816.6,314.5L818.6,314.0L820.6,313.5L822.6,313.1L824.6,312.6L826.6,312.2L828.7,311.8L830.7,311.3L832.7,310.9L834.7,310.5L836.8,310.1L838.8,309.7L840.8,309.3L842.9,308.9L844.9,308.5L847.0,308.2L849.0,307.8L851.0,307.4L853.1,307.1L855.1,306.7L857.2,306.4L859.2,306.1L861.3,305.8L863.3,305.4L865.4,305.1L867.4,304.8L869.5,304.5L871.5,304.3L873.6,304.0L875.6,303.7L877.7,303.5L879.7,303.2L881.8,303.0L883.9,302.7L885.9,302.5L888.0,302.3L890.0,302.1L892.1,301.9L894.2,301.6L896.2,301.5L898.3,301.3L900.4,301.1L902.5,300.9L904.6,300.8L906.7,300.6L908.8,300.5L910.8,300.4L912.9,300.2L915.0,300.1L917.0,300.0L919.1,299.9L921.1,299.8L923.2,299.8L925.2,299.7L927.3,299.6L929.3,299.5L931.3,299.5L933.4,299.4L935.4,299.3L937.4,299.3L939.4,299.2L941.5,299.2L943.5,299.1L945.6,299.1L947.6,299.0L949.7,299.0L951.7,298.9L953.7,298.9L955.8,298.9L957.8,298.9L959.8,298.9L961.9,298.8L963.9,298.8L965.9,298.8L967.9,298.8L969.9,298.8L972.0,298.8L974.0,298.8L976.0,298.8L978.0,298.8L980.0,298.8L982.1,298.8L984.2,298.8L986.3,298.8L988.4,298.9L990.5,298.9L992.6,299.0L994.6,299.0L996.6,299.1L998.5,299.2L1000.4,299.2L1002.3,299.2L1004.3,299.3L1006.3,299.3L1008.3,299.3L1010.3,299.4L1012.4,299.4L1014.6,299.4L1016.8,299.5L1019.0,299.6L1021.2,299.7L1023.5,299.9L1025.7,300.1L1027.8,300.3L1029.9,300.5L1032.0,300.7L1034.1,300.9L1036.2,301.1L1038.2,301.4L1040.2,301.6L1042.1,301.8L1044.1,302.0L1046.1,302.3L1048.1,302.5L1050.2,302.7L1052.3,303.0L1054.4,303.2L1056.4,303.5L1058.5,303.8L1060.5,304.1L1062.5,304.4L1064.5,304.6L1066.5,304.9L1068.5,305.2L1070.4,305.5L1072.4,305.8L1074.4,306.0L1076.4,306.3L1078.4,306.6L1080.4,306.9L1082.4,307.2L1084.4,307.5L1086.5,307.8L1088.5,308.1L1090.5,308.4L1092.5,308.7L1094.5,309.0L1096.6,309.4L1098.6,309.7L1100.7,310.0L1102.7,310.4L1104.8,310.7L1106.8,311.1L1108.8,311.5L1110.8,311.8L1112.9,312.2L1114.9,312.6L1116.9,313.0L1118.9,313.4L1120.9,313.8L1122.9,314.2L1124.9,314.6L1126.9,315.0L1128.9,315.4L1130.8,316.4L1132.6,317.3L1134.5,318.3L1136.3,319.2L1138.2,320.2L1140.0,321.2L1141.9,322.1L1143.7,323.1L1145.6,324.0L1147.4,325.0L1149.3,325.9L1151.1,326.9" fill="none" stroke="#c4c4c4" stroke-width="0.9"/>
<path d="M1000.1,314.7L1000.2,311.1M1012.6,314.9L1012.7,311.3M1025.4,315.6L1025.7,312.0M1037.9,316.9L1038.3,313.3M1050.4,318.3L1050.8,314.8M1062.8,320.0L1063.3,316.5M1075.2,321.8L1075.7,318.2M1087.6,323.6L1088.2,320.1M1100.0,325.6L1100.6,322.1M1112.4,327.9L1113.1,324.4M1124.7,330.3L1125.4,326.9M1137.0,332.9L1137.7,329.4M1149.2,335.5L1150.0,332.0M1335.8,1089.4L1335.6,1094.0M1323.3,1088.8L1323.0,1093.4M1310.8,1088.2L1310.5,1092.8M1298.3,1087.6L1298.0,1092.1M1285.8,1086.9L1285.6,1091.5M1273.3,1086.3L1273.1,1090.9M1260.9,1085.7L1260.6,1090.3M1248.4,1085.1L1248.1,1089.7M1235.9,1084.5L1235.6,1089.1M1223.3,1083.8L1223.1,1088.4M1210.7,1082.9L1210.3,1087.5M1198.3,1081.7L1197.9,1086.2M1186.0,1080.9L1185.8,1085.5M1173.6,1080.3L1173.4,1084.9M1161.1,1079.8L1160.9,1084.4M1148.6,1079.4L1148.5,1084.0M1136.1,1078.9L1136.0,1083.5M1123.7,1078.5L1123.5,1083.1M1111.2,1078.1L1111.0,1082.7M1098.7,1077.8L1098.6,1082.4M1086.2,1077.4L1086.1,1082.0M1073.7,1077.1L1073.6,1081.7M1061.2,1076.8L1061.1,1081.4M1048.8,1076.6L1048.7,1081.2M1036.3,1076.4L1036.3,1081.0M1023.9,1076.4L1023.9,1081.0M1011.5,1076.5L1011.5,1081.1M999.0,1076.8L999.2,1081.4M986.6,1077.2L986.7,1081.8M974.1,1077.7L974.3,1082.2M961.6,1078.2L961.8,1082.7M949.1,1078.6L949.3,1083.2M936.6,1079.1L936.8,1083.7M924.1,1079.5L924.3,1084.1M911.6,1079.9L911.8,1084.5M899.2,1080.4L899.4,1085.0M886.8,1081.1L887.0,1085.7M874.5,1081.9L874.9,1086.5M862.2,1083.2L862.7,1087.8M849.8,1084.7L850.3,1089.2M837.4,1086.2L838.0,1090.7M825.0,1087.8L825.6,1092.3M812.6,1089.3L813.1,1093.9M800.0,1090.6L800.4,1095.2M787.5,1091.7L787.8,1096.2M774.9,1092.5L775.2,1097.1M762.3,1093.2L762.6,1097.8M749.8,1093.7L750.0,1098.3M737.3,1094.1L737.4,1098.7M724.7,1094.4L724.8,1099.0M712.2,1094.6L712.2,1099.2M699.6,1094.6L699.5,1099.2M687.0,1094.4L686.8,1099.0M674.3,1093.9L674.1,1098.5M661.8,1093.2L661.5,1097.8M649.2,1092.3L648.9,1096.9M636.7,1091.3L636.3,1095.8M624.2,1090.0L623.8,1094.6M611.8,1088.8L611.3,1093.4M599.2,1087.4L598.7,1092.0M586.7,1085.7L586.0,1090.2M574.2,1083.6L573.4,1088.2M561.7,1081.1L560.7,1085.6M549.3,1078.1L548.1,1082.5M537.1,1074.4L535.7,1078.8M524.9,1070.0L523.1,1074.2M513.3,1064.2L511.2,1068.2M502.3,1058.0L500.1,1061.8M491.4,1051.5L489.2,1055.1M480.7,1044.6L478.5,1048.1M470.4,1037.3L468.0,1040.6M460.2,1029.7L457.8,1032.8M450.5,1021.4L447.9,1024.2M441.3,1012.4L438.6,1015.1M432.7,1002.9L430.0,1005.3M424.7,993.0L421.9,995.1M417.3,982.7L414.4,984.7M410.3,972.0L407.3,973.9M403.9,961.1L400.8,962.8M398.0,949.8L394.8,951.4M392.6,938.3L389.4,939.8M387.8,926.5L384.4,927.8M383.7,914.5L380.3,915.6M380.0,902.4L376.6,903.4M376.8,890.1L373.3,890.8M374.5,877.4L371.0,877.9M373.1,864.8L369.5,865.2M372.1,852.2L368.5,852.4M371.5,839.6L367.9,839.8M371.1,827.1L367.5,827.2M370.9,814.5L367.3,814.5M371.4,801.5L367.9,801.1M373.8,789.0L370.3,788.3M375.8,776.6L372.3,776.0M378.5,764.1L375.0,763.3M381.6,751.9L378.1,751.0M384.9,739.8L381.5,738.8M388.7,727.7L385.3,726.6M392.7,715.8L389.3,714.6M396.8,703.9L393.5,702.7M401.1,692.2L397.8,690.9M405.6,680.4L402.3,679.1M410.3,668.7L407.0,667.4M415.2,657.1L411.9,655.7M420.3,645.7L417.0,644.2M425.4,634.2L422.2,632.8M430.7,622.8L427.5,621.3M436.5,611.5L433.4,609.8M442.6,600.5L439.5,598.7M449.1,589.6L446.1,587.8M455.9,579.0L453.0,577.0M463.3,568.6L460.4,566.4M471.5,558.6L468.8,556.2M480.1,549.4L477.5,547.0M488.2,540.3L485.5,538.1M495.9,530.6L493.0,528.4M503.7,520.7L501.0,518.4M512.3,511.2L509.8,508.7M521.3,502.3L518.9,499.7M530.3,493.6L527.8,491.1M539.4,484.9L536.9,482.3M548.7,476.4L546.3,473.7M558.2,468.1L555.9,465.4M567.9,460.1L565.6,457.4M577.7,452.2L575.5,449.4M587.4,444.5L585.2,441.7M596.9,436.5L594.7,433.7M607.2,428.7L605.1,425.8M617.6,421.6L615.6,418.6M628.0,414.7L626.1,411.7M638.6,407.9L636.7,404.9M649.4,401.3L647.6,398.2M660.3,395.0L658.5,391.9M671.3,388.9L669.6,385.8M682.4,383.0L680.7,379.9M693.6,377.3L692.0,374.1M705.0,371.8L703.5,368.6M716.6,366.7L715.2,363.4M728.5,362.2L727.3,358.8M740.3,358.1L739.1,354.7M751.5,353.6L750.0,350.3M762.5,348.1L760.9,344.9M774.2,342.6L772.8,339.3M786.3,338.3L785.3,334.9M798.5,334.9L797.6,331.4M810.7,331.8L809.9,328.3M822.9,328.9L822.1,325.4M835.2,326.2L834.5,322.7M847.6,323.7L846.9,320.2M860.0,321.6L859.4,318.1M872.5,319.7L872.0,316.2M885.0,318.2L884.6,314.6M897.5,316.9L897.2,313.3M910.1,315.9L909.9,312.3M922.7,315.3L922.5,311.7M935.2,314.8L935.1,311.2M947.7,314.5L947.7,310.9M960.3,314.3L960.3,310.7M972.8,314.3L972.8,310.7M985.4,314.3L985.4,310.7M997.9,314.6L998.0,311.0" fill="none" stroke="#111" stroke-width="1.1"/>
<path d="M1000.2,311.6Q1000.2,308.5 993.9,306.3M1012.7,311.8Q1012.7,308.7 1006.2,306.5M1025.6,312.5Q1025.9,309.5 1019.2,306.9M1038.2,313.9Q1038.6,310.8 1032.3,308.0M1050.7,315.3Q1051.1,312.2 1044.8,309.4M1063.2,317.0Q1063.7,313.9 1057.5,311.0M1075.6,318.8Q1076.1,315.7 1069.9,312.7M1088.1,320.6Q1088.5,317.5 1082.4,314.5M1100.6,322.6Q1101.1,319.6 1094.9,316.4M1113.0,324.9Q1113.6,321.9 1107.5,318.6M1125.3,327.4Q1126.0,324.3 1119.9,321.0M1137.6,330.0Q1138.2,326.9 1132.3,323.5M1149.8,332.6Q1150.5,329.5 1144.6,326.1M1335.6,1093.3Q1335.4,1097.3 1341.9,1100.3M1323.1,1092.7Q1322.9,1096.7 1329.3,1099.7M1310.6,1092.1Q1310.4,1096.1 1316.7,1099.1M1298.1,1091.4Q1297.9,1095.4 1304.2,1098.5M1285.6,1090.8Q1285.4,1094.8 1291.7,1097.8M1273.1,1090.2Q1273.0,1094.2 1279.3,1097.2M1260.7,1089.6Q1260.5,1093.6 1266.8,1096.6M1248.2,1089.0Q1248.0,1093.0 1254.4,1096.0M1235.7,1088.4Q1235.5,1092.4 1241.9,1095.4M1223.1,1087.7Q1222.9,1091.7 1229.3,1094.7M1210.3,1086.8Q1210.0,1090.8 1216.6,1094.0M1198.0,1085.6Q1197.7,1089.5 1203.5,1092.8M1185.8,1084.8Q1185.6,1088.8 1191.8,1091.8M1173.4,1084.2Q1173.2,1088.2 1179.6,1091.2M1160.9,1083.7Q1160.8,1087.7 1167.2,1090.7M1148.5,1083.3Q1148.3,1087.3 1154.7,1090.2M1136.0,1082.8Q1135.9,1086.8 1142.3,1089.8M1123.5,1082.4Q1123.4,1086.4 1129.8,1089.3M1111.1,1082.0Q1110.9,1086.0 1117.3,1088.9M1098.6,1081.7Q1098.5,1085.7 1104.9,1088.6M1086.1,1081.3Q1086.0,1085.3 1092.4,1088.2M1073.6,1081.0Q1073.5,1085.0 1079.9,1087.9M1061.2,1080.7Q1061.1,1084.7 1067.5,1087.6M1048.7,1080.5Q1048.6,1084.5 1055.1,1087.3M1036.3,1080.3Q1036.2,1084.3 1042.6,1087.1M1023.9,1080.3Q1023.9,1084.3 1030.3,1087.0M1011.5,1080.4Q1011.6,1084.4 1018.1,1087.0M999.1,1080.7Q999.2,1084.7 1005.7,1087.2M986.7,1081.1Q986.9,1085.1 993.4,1087.5M974.3,1081.5Q974.4,1085.5 981.0,1088.0M961.8,1082.0Q961.9,1086.0 968.5,1088.5M949.3,1082.5Q949.4,1086.5 956.0,1089.0M936.7,1083.0Q936.9,1087.0 943.5,1089.4M924.2,1083.4Q924.4,1087.4 931.0,1089.9M911.8,1083.8Q911.9,1087.8 918.5,1090.3M899.3,1084.3Q899.5,1088.3 906.1,1090.8M887.0,1085.0Q887.2,1089.0 893.7,1091.3M874.8,1085.8Q875.2,1089.8 881.6,1092.0M862.7,1087.1Q863.1,1091.1 869.7,1093.1M850.2,1088.5Q850.7,1092.5 857.5,1094.5M837.9,1090.0Q838.4,1094.0 845.1,1095.9M825.5,1091.6Q826.0,1095.6 832.9,1097.4M813.0,1093.2Q813.5,1097.1 820.4,1099.0M800.4,1094.5Q800.7,1098.5 807.7,1100.5M787.7,1095.5Q788.0,1099.5 794.8,1101.7M775.1,1096.4Q775.4,1100.4 782.1,1102.7M762.5,1097.1Q762.7,1101.0 769.4,1103.4M750.0,1097.6Q750.1,1101.6 756.8,1104.0M737.4,1098.0Q737.5,1102.0 744.1,1104.5M724.8,1098.3Q724.9,1102.3 731.5,1104.9M712.2,1098.5Q712.2,1102.5 718.8,1105.1M699.5,1098.5Q699.5,1102.5 706.1,1105.2M686.9,1098.3Q686.7,1102.3 693.3,1105.1M674.2,1097.8Q674.0,1101.8 680.5,1104.8M661.6,1097.1Q661.3,1101.1 667.7,1104.2M648.9,1096.2Q648.6,1100.2 655.0,1103.4M636.3,1095.1Q636.0,1099.1 642.3,1102.4M623.8,1093.9Q623.4,1097.9 629.7,1101.2M611.4,1092.7Q610.9,1096.7 617.2,1100.0M598.7,1091.3Q598.3,1095.2 604.6,1098.7M586.1,1089.5Q585.5,1093.5 591.7,1097.1M573.5,1087.5Q572.8,1091.4 579.0,1095.2M560.8,1084.9Q560.0,1088.8 566.1,1092.9M548.3,1081.8Q547.3,1085.7 553.2,1090.0M535.9,1078.1Q534.7,1082.0 540.5,1086.6M523.4,1073.5Q521.9,1077.2 527.6,1082.3M511.5,1067.6Q509.7,1071.0 514.8,1076.6M500.4,1061.2Q498.5,1064.6 503.1,1070.0M489.5,1054.6Q487.6,1057.7 492.1,1063.3M478.8,1047.5Q476.8,1050.6 481.2,1056.3M468.4,1040.1Q466.3,1043.0 470.5,1048.8M458.1,1032.3Q456.0,1035.0 460.1,1041.0M448.3,1023.8Q446.1,1026.3 449.9,1032.5M439.0,1014.7Q436.7,1016.9 440.1,1023.4M430.4,1005.0Q428.0,1007.0 431.0,1013.6M422.3,994.8Q419.9,996.7 422.4,1003.3M414.8,984.4Q412.3,986.2 414.5,992.9M407.7,973.6Q405.1,975.3 407.0,982.2M401.3,962.5Q398.5,964.0 400.1,970.9M395.3,951.2Q392.5,952.6 393.8,959.5M389.8,939.6Q387.0,940.8 387.9,947.9M385.0,927.6Q382.0,928.7 382.6,935.8M380.8,915.4Q377.8,916.4 377.9,923.4M377.1,903.3Q374.1,904.1 374.0,911.1M373.8,890.7Q370.8,891.4 370.4,898.7M371.5,877.9Q368.5,878.3 367.5,885.5M370.1,865.1Q367.0,865.4 365.6,872.3M369.1,852.4Q366.0,852.6 364.3,859.4M368.5,839.8Q365.4,839.9 363.6,846.6M368.1,827.2Q365.0,827.2 363.0,833.9M367.9,814.5Q364.8,814.5 362.7,821.2M368.4,801.2Q365.4,800.8 362.8,808.1M370.8,788.4Q367.7,787.9 364.5,793.5M372.8,776.1Q369.8,775.5 366.6,781.8M375.5,763.4Q372.5,762.7 368.9,768.9M378.6,751.1Q375.6,750.3 371.9,756.2M382.0,738.9Q379.1,738.1 375.2,743.9M385.8,726.8Q382.8,725.8 378.8,731.5M389.8,714.8Q386.9,713.8 382.8,719.4M394.0,702.9Q391.1,701.9 386.9,707.4M398.3,691.1Q395.4,690.0 391.2,695.5M402.8,679.3Q399.9,678.2 395.6,683.6M407.5,667.6Q404.6,666.4 400.2,671.7M412.4,655.9Q409.6,654.7 405.0,659.9M417.5,644.4Q414.7,643.2 410.1,648.3M422.7,633.0Q419.8,631.7 415.2,636.8M428.0,621.5Q425.2,620.1 420.5,625.3M433.8,610.1Q431.1,608.6 426.1,613.6M440.0,599.0Q437.3,597.4 432.2,602.2M446.5,588.0Q443.9,586.4 438.6,591.0M453.4,577.3Q450.8,575.6 445.4,580.1M460.9,566.7Q458.4,564.9 452.6,569.2M469.2,556.6Q466.9,554.5 460.7,558.5M477.9,547.4Q475.6,545.2 469.7,548.5M485.9,538.4Q483.5,536.4 478.0,539.6M493.5,528.8Q491.0,526.9 485.4,530.7M501.4,518.8Q499.0,516.8 493.1,520.8M510.1,509.1Q507.9,506.9 501.7,510.5M519.2,500.1Q517.1,497.9 510.9,501.0M528.2,491.5Q526.0,489.2 519.9,492.2M537.3,482.7Q535.1,480.5 528.9,483.5M546.6,474.1Q544.6,471.8 538.2,474.8M556.3,465.8Q554.3,463.4 547.9,466.2M566.0,457.8Q564.0,455.4 557.6,457.9M575.8,449.9Q573.9,447.4 567.4,449.9M585.5,442.1Q583.6,439.7 577.3,442.1M595.0,434.1Q593.0,431.8 586.6,434.5M605.4,426.2Q603.6,423.7 596.8,426.1M615.9,419.1Q614.1,416.5 607.5,418.5M626.4,412.1Q624.7,409.5 618.0,411.4M637.0,405.3Q635.4,402.7 628.7,404.5M647.8,398.7Q646.3,396.0 639.5,397.7M658.8,392.4Q657.3,389.7 650.5,391.1M669.9,386.3Q668.4,383.5 661.6,384.9M681.0,380.4Q679.6,377.6 672.8,378.8M692.2,374.6Q690.9,371.8 684.0,373.0M703.7,369.1Q702.4,366.3 695.5,367.2M715.4,363.9Q714.2,361.1 707.2,361.8M727.5,359.3Q726.4,356.4 719.3,356.8M739.2,355.2Q738.2,352.3 731.5,352.4M750.3,350.8Q749.0,348.0 742.7,348.4M761.1,345.4Q759.7,342.6 753.0,343.7M773.0,339.8Q771.8,336.9 764.5,337.9M785.4,335.5Q784.5,332.5 777.3,332.6M797.7,331.9Q796.9,328.9 789.9,328.7M810.0,328.8Q809.3,325.8 802.3,325.4M822.2,325.9Q821.5,322.9 814.7,322.4M834.6,323.2Q834.0,320.2 827.1,319.5M847.0,320.8Q846.5,317.7 839.6,316.9M859.5,318.6Q859.0,315.6 852.1,314.6M872.0,316.7Q871.6,313.7 864.8,312.5M884.6,315.2Q884.3,312.1 877.4,310.8M897.2,313.9Q896.9,310.8 890.1,309.3M909.9,312.9Q909.7,309.8 902.9,308.2M922.5,312.2Q922.4,309.1 915.7,307.3M935.1,311.8Q935.0,308.7 928.4,306.8M947.7,311.4Q947.6,308.3 941.0,306.4M960.3,311.3Q960.2,308.2 953.7,306.2M972.8,311.2Q972.8,308.1 966.3,306.1M985.4,311.3Q985.4,308.2 978.8,306.0M998.0,311.6Q998.1,308.5 991.7,306.2" fill="none" stroke="#222" stroke-width="0.7"/>
<path d="M1150.4,339.7L1152.4,340.1L1154.3,340.6L1156.3,341.0L1158.2,341.4L1160.2,341.8L1162.2,342.3L1164.1,342.7L1166.1,343.2L1168.0,343.6L1170.0,344.1L1171.9,344.5L1173.9,345.0L1175.8,345.5L1177.7,345.9L1179.7,346.4L1181.6,346.9L1183.6,347.4L1185.5,347.9L1187.5,348.4L1189.4,348.9L1191.3,349.4L1193.3,349.9L1195.2,350.4L1197.1,350.9L1199.1,351.4L1201.0,351.9L1202.9,352.5L1204.9,353.0L1206.8,353.6L1208.7,354.1L1210.6,354.7L1212.6,355.2L1214.5,355.8L1216.4,356.4L1218.3,357.0L1220.2,357.5L1222.1,358.1L1224.0,358.8L1226.0,359.4L1227.9,360.0L1229.8,360.6L1231.7,361.2L1233.6,361.8L1235.5,362.5L1237.4,363.1L1239.3,363.8L1241.1,364.4L1243.0,365.1L1244.9,365.8L1246.8,366.4L1248.7,367.1L1250.6,367.8L1252.4,368.5L1254.3,369.2L1256.2,370.0L1258.0,370.7L1259.9,371.4L1261.8,372.2L1263.6,372.9L1265.5,373.7L1267.3,374.4L1269.2,375.2L1271.0,376.0L1272.9,376.7L1274.7,377.5L1276.6,378.3L1278.4,379.1L1280.2,379.9L1282.1,380.8L1283.9,381.6L1285.7,382.4L1287.5,383.3L1289.3,384.1L1291.1,385.0L1292.9,385.9L1294.7,386.8L1296.5,387.6L1298.3,388.6L1300.1,389.5L1301.9,390.4L1303.6,391.4L1305.4,392.3L1307.1,393.3L1308.9,394.3L1310.6,395.3L1312.4,396.3L1314.1,397.3L1315.8,398.3L1317.5,399.3L1319.3,400.3L1321.0,401.4L1322.7,402.4L1324.4,403.5L1326.1,404.5L1327.8,405.6L1329.5,406.7L1331.2,407.7L1332.9,408.8L1334.5,409.9L1336.2,411.0L1337.9,412.1L1339.6,413.1L1341.3,414.2L1342.9,415.3L1344.6,416.4L1346.3,417.5L1348.0,418.7L1349.6,419.8L1351.3,420.9L1352.9,422.0L1354.6,423.1L1356.2,424.3L1357.9,425.4L1359.5,426.6L1361.2,427.7L1362.8,428.9L1364.4,430.0L1366.1,431.2L1367.7,432.3L1369.3,433.5L1370.9,434.7L1372.6,435.9L1374.2,437.1L1375.8,438.2L1377.4,439.4L1379.0,440.6L1380.6,441.8L1382.2,443.0L1383.8,444.2L1385.4,445.4L1387.0,446.6L1388.6,447.8L1390.2,449.1L1391.8,450.3L1393.4,451.5L1395.0,452.7L1396.5,453.9L1398.1,455.2L1399.7,456.4L1401.3,457.6L1402.8,458.9L1404.4,460.1L1406.0,461.4L1407.5,462.7L1409.1,463.9L1410.6,465.2L1412.1,466.5L1413.7,467.8L1415.2,469.1L1416.7,470.4L1418.2,471.7L1419.7,473.1L1421.2,474.4L1422.7,475.8L1424.1,477.1L1425.6,478.5L1427.1,479.8L1428.5,481.2L1430.0,482.6L1431.4,484.0L1432.9,485.4L1434.3,486.8L1435.7,488.2L1437.2,489.6L1438.6,491.0L1440.0,492.4L1441.4,493.8L1442.8,495.3L1444.2,496.7L1445.6,498.1L1447.0,499.6L1448.4,501.0L1449.8,502.4L1451.2,503.9L1452.5,505.3L1453.9,506.8L1455.3,508.2L1456.7,509.7L1458.0,511.2L1459.4,512.6L1460.8,514.1L1462.1,515.6L1463.5,517.0L1464.8,518.5L1466.2,520.0L1467.5,521.5L1468.9,523.0L1470.2,524.5L1471.5,526.0L1472.8,527.5L1474.2,529.0L1475.5,530.5L1476.8,532.0L1478.1,533.5L1479.4,535.0L1480.8,536.5L1482.1,538.0L1483.4,539.5L1484.7,541.0L1486.0,542.6L1487.3,544.1L1488.6,545.6L1489.9,547.1L1491.2,548.7L1492.5,550.2L1493.8,551.7L1495.0,553.2L1496.3,554.8L1497.6,556.3L1498.9,557.9L1500.2,559.4L1501.4,561.0L1502.7,562.5L1503.9,564.1L1505.2,565.7L1506.4,567.3L1507.5,568.9L1508.7,570.6L1509.8,572.3L1510.9,574.0L1511.9,575.7L1512.9,577.4L1514.0,579.1L1515.1,580.8L1516.1,582.5L1517.2,584.2L1518.2,585.9L1519.2,587.6L1520.2,589.3L1521.2,591.1L1522.2,592.8L1523.2,594.6L1524.2,596.3L1525.2,598.0L1526.2,599.8L1527.2,601.5L1528.2,603.3L1529.1,605.0L1530.1,606.7L1531.1,608.5L1532.1,610.2L1533.0,612.0L1534.0,613.7L1535.0,615.5L1535.9,617.3L1536.9,619.0L1537.8,620.8L1538.8,622.6L1539.7,624.3L1540.6,626.1L1541.5,627.9L1542.5,629.7L1543.4,631.4L1544.3,633.2L1545.2,635.0L1546.1,636.8L1547.0,638.6L1547.9,640.4L1548.8,642.2L1549.7,644.0L1550.6,645.8L1551.4,647.6L1552.3,649.4L1553.1,651.2L1553.9,653.0L1554.7,654.9L1555.5,656.7L1556.3,658.6L1557.0,660.4L1557.8,662.3L1558.5,664.1L1559.3,666.0L1560.0,667.9L1560.8,669.7L1561.5,671.6L1562.3,673.4L1563.1,675.2L1563.8,677.1L1564.6,678.9L1565.4,680.8L1566.2,682.6L1567.0,684.4L1567.8,686.3L1568.6,688.1L1569.3,690.0L1570.1,691.8L1570.9,693.7L1571.6,695.6L1572.3,697.4L1573.0,699.3L1573.7,701.2L1574.4,703.1L1575.0,705.0L1575.7,706.9L1576.3,708.8L1577.0,710.7L1577.6,712.6L1578.2,714.5L1578.8,716.4L1579.4,718.3L1580.0,720.2L1580.6,722.1L1581.1,724.0L1581.7,726.0L1582.3,727.9L1582.9,729.8L1583.4,731.7L1583.9,733.7L1584.5,735.6L1585.0,737.5L1585.5,739.5L1585.9,741.4L1586.4,743.4L1586.8,745.3L1587.2,747.3L1587.6,749.3L1587.9,751.3L1588.3,753.2L1588.6,755.2L1588.9,757.2L1589.2,759.2L1589.5,761.1L1589.8,763.1L1590.1,765.1L1590.4,767.1L1590.7,769.1L1591.0,771.0L1591.2,773.0L1591.5,775.0L1591.8,777.0L1592.1,779.0L1592.3,781.0L1592.6,783.0L1592.8,784.9L1593.0,786.9L1593.2,788.9L1593.4,790.9L1593.6,792.9L1593.7,794.9L1593.9,796.9L1594.0,798.9L1594.1,800.9L1594.2,802.9L1594.3,804.9L1594.3,806.9L1594.4,808.9L1594.4,810.9L1594.5,812.9L1594.5,814.9L1594.5,817.0L1594.5,819.0L1594.5,821.0L1594.5,823.0L1594.4,825.0L1594.4,827.0L1594.4,829.0L1594.3,831.0L1594.2,833.0L1594.1,835.0L1594.0,837.0L1593.8,839.0L1593.7,841.0L1593.5,843.0L1593.3,845.0L1593.1,847.0L1592.9,849.0L1592.6,850.9L1592.4,852.9L1592.1,854.9L1591.8,856.9L1591.6,858.9L1591.3,860.9L1591.0,862.9L1590.7,864.8L1590.4,866.8L1590.0,868.8L1589.7,870.8L1589.4,872.7L1589.0,874.7L1588.7,876.7L1588.3,878.7L1588.0,880.6L1587.6,882.6L1587.2,884.6L1586.8,886.5L1586.4,888.5L1585.9,890.4L1585.4,892.4L1585.0,894.3L1584.4,896.3L1583.9,898.2L1583.4,900.1L1582.8,902.1L1582.2,904.0L1581.6,905.9L1581.0,907.8L1580.3,909.7L1579.7,911.6L1579.0,913.5L1578.3,915.4L1577.6,917.2L1576.9,919.1L1576.1,921.0L1575.4,922.8L1574.6,924.7L1573.8,926.5L1573.0,928.3L1572.2,930.2L1571.3,932.0L1570.5,933.8L1569.6,935.6L1568.8,937.4L1567.9,939.2L1567.0,941.0L1566.1,942.8L1565.2,944.6L1564.4,946.4L1563.5,948.2L1562.5,950.0L1561.6,951.8L1560.7,953.5L1559.8,955.3L1558.8,957.1L1557.9,958.9L1556.9,960.6L1556.0,962.4L1555.0,964.1L1554.0,965.9L1553.1,967.6L1552.1,969.4L1551.1,971.1L1550.1,972.8L1549.1,974.6L1548.1,976.3L1547.1,978.0L1546.1,979.8L1545.1,981.5L1544.0,983.2L1543.0,984.9L1542.0,986.7L1540.9,988.4L1539.9,990.1L1538.8,991.8L1537.7,993.4L1536.6,995.1L1535.5,996.8L1534.3,998.4L1533.1,1000.0L1532.0,1001.7L1530.8,1003.3L1529.5,1004.9L1528.3,1006.4L1527.0,1008.0L1525.8,1009.6L1524.5,1011.1L1523.2,1012.6L1521.9,1014.1L1520.6,1015.7L1519.2,1017.2L1517.9,1018.6L1516.6,1020.1L1515.2,1021.6L1513.9,1023.1L1512.5,1024.6L1511.1,1026.0L1509.8,1027.5L1508.4,1028.9L1507.0,1030.4L1505.6,1031.8L1504.2,1033.2L1502.7,1034.6L1501.3,1036.0L1499.8,1037.4L1498.4,1038.8L1496.9,1040.1L1495.4,1041.5L1493.9,1042.8L1492.3,1044.1L1490.8,1045.3L1489.2,1046.6L1487.6,1047.8L1486.0,1049.0L1484.4,1050.2L1482.8,1051.4L1481.1,1052.5L1479.4,1053.6L1477.8,1054.8L1476.1,1055.8L1474.4,1056.9L1472.7,1058.0L1471.0,1059.0L1469.2,1060.0L1467.5,1061.0L1465.8,1062.0L1464.0,1063.0L1462.2,1063.9L1460.5,1064.9L1458.7,1065.8L1456.9,1066.7L1455.1,1067.6L1453.3,1068.5L1451.5,1069.3L1449.7,1070.2L1447.9,1071.1L1446.1,1071.9L1444.2,1072.7L1442.4,1073.5L1440.5,1074.3L1438.7,1075.1L1436.8,1075.8L1435.0,1076.6L1433.1,1077.3L1431.2,1078.0L1429.3,1078.7L1427.4,1079.3L1425.6,1080.0L1423.7,1080.7L1421.8,1081.3L1419.9,1081.9L1418.0,1082.5L1416.0,1083.2L1414.1,1083.8L1412.2,1084.3L1410.3,1084.9L1408.5,1085.6L1406.7,1086.6L1404.6,1086.6L1402.6,1086.5L1400.6,1086.5L1398.6,1086.5L1396.6,1086.5L1394.6,1086.4L1392.6,1086.4L1390.6,1086.3L1388.6,1086.3L1386.6,1086.2L1384.6,1086.2L1382.6,1086.1L1380.6,1086.0L1378.6,1086.0L1376.6,1085.9L1374.6,1085.8L1372.6,1085.8L1370.6,1085.7L1368.6,1085.6L1366.6,1085.5L1364.6,1085.5L1362.6,1085.4L1360.6,1085.3L1358.6,1085.2L1356.6,1085.2L1354.6,1085.1L1352.6,1085.0L1350.6,1084.9L1348.6,1084.9L1346.6,1084.8L1344.6,1084.7L1342.6,1084.6L1340.6,1084.5L1338.6,1084.4L1336.6,1084.4" fill="none" stroke="#111" stroke-width="1.00"/>
<path d="M1150.9,337.3L1152.9,337.7L1154.9,338.1L1156.8,338.5L1158.8,339.0L1160.7,339.4L1162.7,339.8L1164.7,340.3L1166.6,340.7L1168.6,341.2L1170.5,341.6L1172.5,342.1L1174.4,342.6L1176.4,343.0L1178.3,343.5L1180.3,344.0L1182.2,344.5L1184.2,345.0L1186.1,345.5L1188.1,345.9L1190.0,346.4L1192.0,346.9L1193.9,347.5L1195.8,348.0L1197.8,348.5L1199.7,349.0L1201.7,349.5L1203.6,350.1L1205.5,350.6L1207.5,351.2L1209.4,351.7L1211.3,352.3L1213.3,352.8L1215.2,353.4L1217.1,354.0L1219.0,354.6L1221.0,355.2L1222.9,355.8L1224.8,356.4L1226.7,357.0L1228.6,357.6L1230.5,358.2L1232.4,358.8L1234.4,359.5L1236.3,360.1L1238.2,360.8L1240.1,361.4L1242.0,362.1L1243.9,362.7L1245.8,363.4L1247.7,364.1L1249.6,364.8L1251.4,365.5L1253.3,366.2L1255.2,366.9L1257.1,367.6L1259.0,368.4L1260.8,369.1L1262.7,369.9L1264.6,370.6L1266.4,371.4L1268.3,372.1L1270.1,372.9L1272.0,373.7L1273.9,374.4L1275.7,375.2L1277.6,376.0L1279.4,376.8L1281.2,377.6L1283.1,378.5L1284.9,379.3L1286.8,380.1L1288.6,381.0L1290.4,381.9L1292.2,382.7L1294.0,383.6L1295.9,384.5L1297.7,385.4L1299.5,386.3L1301.3,387.3L1303.0,388.2L1304.8,389.2L1306.6,390.1L1308.4,391.1L1310.1,392.1L1311.9,393.1L1313.6,394.1L1315.4,395.1L1317.1,396.1L1318.8,397.2L1320.6,398.2L1322.3,399.3L1324.0,400.3L1325.7,401.4L1327.4,402.4L1329.1,403.5L1330.8,404.5L1332.5,405.6L1334.2,406.7L1335.9,407.8L1337.6,408.9L1339.3,410.0L1341.0,411.0L1342.6,412.1L1344.3,413.2L1346.0,414.3L1347.7,415.5L1349.3,416.6L1351.0,417.7L1352.7,418.8L1354.3,419.9L1356.0,421.1L1357.7,422.2L1359.3,423.4L1361.0,424.5L1362.6,425.7L1364.2,426.8L1365.9,428.0L1367.5,429.1L1369.2,430.3L1370.8,431.5L1372.4,432.7L1374.0,433.9L1375.7,435.0L1377.3,436.2L1378.9,437.4L1380.5,438.6L1382.1,439.8L1383.7,441.0L1385.3,442.2L1386.9,443.4L1388.5,444.6L1390.1,445.8L1391.7,447.1L1393.3,448.3L1394.9,449.5L1396.5,450.7L1398.1,451.9L1399.7,453.2L1401.3,454.4L1402.8,455.7L1404.4,456.9L1406.0,458.2L1407.5,459.4L1409.1,460.7L1410.7,462.0L1412.2,463.3L1413.8,464.6L1415.3,465.9L1416.8,467.2L1418.3,468.5L1419.9,469.9L1421.4,471.2L1422.9,472.6L1424.4,473.9L1425.8,475.3L1427.3,476.6L1428.8,478.0L1430.3,479.4L1431.7,480.8L1433.2,482.2L1434.6,483.6L1436.0,485.0L1437.5,486.4L1438.9,487.8L1440.3,489.2L1441.8,490.6L1443.2,492.1L1444.6,493.5L1446.0,494.9L1447.4,496.4L1448.8,497.8L1450.2,499.3L1451.6,500.7L1453.0,502.2L1454.4,503.6L1455.7,505.1L1457.1,506.5L1458.5,508.0L1459.9,509.5L1461.2,510.9L1462.6,512.4L1464.0,513.9L1465.3,515.3L1466.7,516.8L1468.0,518.3L1469.4,519.8L1470.7,521.3L1472.1,522.8L1473.4,524.3L1474.7,525.8L1476.0,527.3L1477.4,528.8L1478.7,530.3L1480.0,531.8L1481.3,533.3L1482.6,534.9L1484.0,536.4L1485.3,537.9L1486.6,539.4L1487.9,540.9L1489.2,542.5L1490.5,544.0L1491.8,545.5L1493.1,547.0L1494.4,548.6L1495.7,550.1L1497.0,551.6L1498.3,553.2L1499.5,554.7L1500.8,556.3L1502.1,557.8L1503.4,559.4L1504.6,561.0L1505.9,562.6L1507.1,564.2L1508.4,565.8L1509.6,567.5L1510.8,569.2L1511.9,570.9L1513.0,572.6L1514.0,574.4L1515.1,576.1L1516.1,577.7L1517.2,579.4L1518.3,581.2L1519.3,582.9L1520.3,584.6L1521.4,586.3L1522.4,588.1L1523.4,589.8L1524.4,591.6L1525.4,593.3L1526.4,595.1L1527.4,596.8L1528.4,598.5L1529.4,600.3L1530.3,602.0L1531.3,603.8L1532.3,605.5L1533.3,607.3L1534.3,609.0L1535.2,610.8L1536.2,612.5L1537.2,614.3L1538.1,616.1L1539.1,617.8L1540.0,619.6L1541.0,621.4L1541.9,623.2L1542.8,624.9L1543.8,626.7L1544.7,628.5L1545.6,630.3L1546.5,632.1L1547.4,633.9L1548.4,635.6L1549.3,637.4L1550.2,639.2L1551.1,641.1L1551.9,642.9L1552.8,644.7L1553.7,646.5L1554.5,648.3L1555.4,650.2L1556.2,652.0L1557.0,653.9L1557.8,655.8L1558.6,657.6L1559.3,659.5L1560.1,661.3L1560.8,663.2L1561.6,665.1L1562.3,666.9L1563.1,668.8L1563.8,670.6L1564.6,672.4L1565.4,674.3L1566.1,676.1L1566.9,677.9L1567.7,679.8L1568.5,681.6L1569.3,683.5L1570.1,685.3L1570.9,687.2L1571.7,689.0L1572.4,690.9L1573.2,692.8L1573.9,694.6L1574.7,696.5L1575.4,698.4L1576.1,700.3L1576.7,702.2L1577.4,704.1L1578.1,706.1L1578.7,708.0L1579.3,709.9L1580.0,711.8L1580.6,713.7L1581.2,715.6L1581.8,717.6L1582.4,719.5L1583.0,721.4L1583.5,723.3L1584.1,725.2L1584.7,727.2L1585.3,729.1L1585.8,731.0L1586.4,733.0L1586.9,734.9L1587.4,736.9L1587.9,738.9L1588.4,740.9L1588.8,742.8L1589.2,744.8L1589.6,746.8L1590.0,748.8L1590.4,750.8L1590.7,752.8L1591.1,754.8L1591.4,756.8L1591.7,758.8L1592.0,760.8L1592.3,762.8L1592.6,764.7L1592.8,766.7L1593.1,768.7L1593.4,770.7L1593.7,772.7L1594.0,774.7L1594.3,776.7L1594.5,778.6L1594.8,780.6L1595.1,782.7L1595.3,784.7L1595.5,786.7L1595.7,788.7L1595.9,790.7L1596.1,792.7L1596.2,794.8L1596.3,796.8L1596.5,798.8L1596.6,800.8L1596.7,802.8L1596.7,804.8L1596.8,806.9L1596.9,808.9L1596.9,810.9L1597.0,812.9L1597.0,814.9L1597.0,816.9L1597.0,819.0L1597.0,821.0L1597.0,823.0L1596.9,825.0L1596.9,827.0L1596.9,829.0L1596.8,831.1L1596.7,833.1L1596.6,835.1L1596.5,837.1L1596.3,839.2L1596.2,841.2L1596.0,843.2L1595.8,845.2L1595.6,847.2L1595.4,849.2L1595.1,851.3L1594.9,853.3L1594.6,855.3L1594.3,857.3L1594.0,859.2L1593.7,861.2L1593.4,863.2L1593.1,865.2L1592.8,867.2L1592.5,869.2L1592.2,871.2L1591.8,873.2L1591.5,875.1L1591.2,877.1L1590.8,879.1L1590.4,881.1L1590.1,883.1L1589.7,885.1L1589.2,887.0L1588.8,889.0L1588.4,891.0L1587.9,893.0L1587.4,895.0L1586.9,896.9L1586.3,898.9L1585.8,900.8L1585.2,902.8L1584.6,904.7L1584.0,906.6L1583.4,908.6L1582.7,910.5L1582.1,912.4L1581.4,914.3L1580.7,916.2L1579.9,918.1L1579.2,920.0L1578.5,921.9L1577.7,923.8L1576.9,925.7L1576.1,927.5L1575.3,929.4L1574.4,931.2L1573.6,933.0L1572.8,934.9L1571.9,936.7L1571.0,938.5L1570.1,940.3L1569.3,942.1L1568.4,943.9L1567.5,945.7L1566.6,947.5L1565.7,949.3L1564.8,951.1L1563.9,952.9L1562.9,954.7L1562.0,956.5L1561.0,958.3L1560.1,960.0L1559.1,961.8L1558.2,963.6L1557.2,965.3L1556.2,967.1L1555.2,968.9L1554.3,970.6L1553.3,972.4L1552.3,974.1L1551.3,975.8L1550.3,977.6L1549.2,979.3L1548.2,981.0L1547.2,982.8L1546.2,984.5L1545.2,986.2L1544.1,988.0L1543.1,989.7L1542.0,991.4L1540.9,993.1L1539.8,994.8L1538.7,996.5L1537.5,998.2L1536.4,999.9L1535.2,1001.5L1534.0,1003.2L1532.7,1004.8L1531.5,1006.4L1530.2,1008.0L1529.0,1009.6L1527.7,1011.1L1526.4,1012.7L1525.1,1014.2L1523.8,1015.8L1522.4,1017.3L1521.1,1018.8L1519.8,1020.3L1518.4,1021.8L1517.0,1023.3L1515.7,1024.8L1514.3,1026.3L1513.0,1027.7L1511.6,1029.2L1510.2,1030.7L1508.8,1032.1L1507.4,1033.6L1505.9,1035.0L1504.5,1036.4L1503.0,1037.8L1501.6,1039.2L1500.1,1040.6L1498.6,1042.0L1497.0,1043.4L1495.5,1044.7L1493.9,1046.0L1492.3,1047.3L1490.7,1048.5L1489.1,1049.8L1487.5,1051.0L1485.9,1052.2L1484.2,1053.4L1482.5,1054.6L1480.8,1055.7L1479.1,1056.8L1477.4,1057.9L1475.7,1059.0L1474.0,1060.1L1472.2,1061.1L1470.5,1062.2L1468.7,1063.2L1467.0,1064.2L1465.2,1065.2L1463.4,1066.1L1461.6,1067.1L1459.8,1068.0L1458.0,1068.9L1456.2,1069.8L1454.4,1070.7L1452.6,1071.6L1450.8,1072.5L1448.9,1073.3L1447.1,1074.2L1445.2,1075.0L1443.4,1075.8L1441.5,1076.6L1439.6,1077.4L1437.8,1078.2L1435.9,1078.9L1434.0,1079.6L1432.1,1080.3L1430.2,1081.0L1428.3,1081.7L1426.4,1082.4L1424.5,1083.0L1422.6,1083.7L1420.6,1084.3L1418.7,1084.9L1416.8,1085.5L1414.9,1086.1L1413.0,1086.7L1411.1,1087.3L1409.5,1087.8L1407.4,1089.0L1404.5,1089.1L1402.5,1089.0L1400.6,1089.0L1398.6,1089.0L1396.5,1089.0L1394.5,1088.9L1392.5,1088.9L1390.5,1088.8L1388.5,1088.8L1386.5,1088.7L1384.5,1088.7L1382.5,1088.6L1380.5,1088.5L1378.5,1088.5L1376.5,1088.4L1374.5,1088.3L1372.5,1088.3L1370.5,1088.2L1368.5,1088.1L1366.5,1088.0L1364.5,1088.0L1362.5,1087.9L1360.5,1087.8L1358.5,1087.7L1356.5,1087.7L1354.5,1087.6L1352.5,1087.5L1350.5,1087.4L1348.5,1087.3L1346.5,1087.3L1344.5,1087.2L1342.5,1087.1L1340.5,1087.0L1338.5,1086.9L1336.5,1086.9" fill="none" stroke="#222" stroke-width="0.60"/>
<path d="M1151.6,334.3L1153.5,334.8L1155.5,335.2L1157.5,335.6L1159.4,336.0L1161.4,336.5L1163.4,336.9L1165.3,337.4L1167.3,337.8L1169.2,338.3L1171.2,338.7L1173.2,339.2L1175.1,339.6L1177.1,340.1L1179.1,340.6L1181.0,341.1L1183.0,341.6L1184.9,342.1L1186.9,342.5L1188.8,343.0L1190.8,343.5L1192.7,344.0L1194.7,344.6L1196.6,345.1L1198.6,345.6L1200.5,346.1L1202.5,346.6L1204.4,347.2L1206.3,347.7L1208.3,348.3L1210.2,348.8L1212.2,349.4L1214.1,349.9L1216.1,350.5L1218.0,351.1L1219.9,351.7L1221.9,352.3L1223.8,352.9L1225.7,353.5L1227.6,354.1L1229.6,354.7L1231.5,355.4L1233.4,356.0L1235.3,356.6L1237.2,357.3L1239.1,357.9L1241.0,358.6L1243.0,359.2L1244.9,359.9L1246.8,360.6L1248.7,361.3L1250.6,362.0L1252.5,362.7L1254.4,363.4L1256.3,364.1L1258.2,364.8L1260.1,365.6L1261.9,366.3L1263.8,367.1L1265.7,367.8L1267.6,368.6L1269.4,369.3L1271.3,370.1L1273.2,370.9L1275.0,371.7L1276.9,372.5L1278.7,373.3L1280.6,374.1L1282.5,374.9L1284.3,375.7L1286.2,376.6L1288.0,377.4L1289.9,378.3L1291.7,379.2L1293.5,380.0L1295.4,380.9L1297.2,381.8L1299.0,382.7L1300.8,383.7L1302.6,384.6L1304.5,385.6L1306.2,386.5L1308.0,387.5L1309.8,388.5L1311.6,389.5L1313.4,390.5L1315.1,391.5L1316.9,392.5L1318.6,393.6L1320.4,394.6L1322.1,395.6L1323.8,396.7L1325.6,397.7L1327.3,398.8L1329.0,399.9L1330.7,400.9L1332.4,402.0L1334.1,403.1L1335.8,404.2L1337.5,405.3L1339.2,406.3L1340.9,407.4L1342.6,408.5L1344.3,409.6L1346.0,410.7L1347.7,411.8L1349.3,413.0L1351.0,414.1L1352.7,415.2L1354.4,416.3L1356.0,417.5L1357.7,418.6L1359.4,419.7L1361.0,420.9L1362.7,422.1L1364.3,423.2L1366.0,424.4L1367.6,425.5L1369.3,426.7L1370.9,427.9L1372.5,429.1L1374.2,430.2L1375.8,431.4L1377.4,432.6L1379.1,433.8L1380.7,435.0L1382.3,436.2L1383.9,437.4L1385.5,438.6L1387.1,439.8L1388.7,441.0L1390.3,442.2L1391.9,443.5L1393.5,444.7L1395.1,445.9L1396.7,447.1L1398.3,448.3L1399.9,449.6L1401.5,450.8L1403.1,452.1L1404.7,453.3L1406.3,454.6L1407.9,455.8L1409.4,457.1L1411.0,458.4L1412.6,459.7L1414.1,461.0L1415.7,462.3L1417.2,463.6L1418.8,464.9L1420.3,466.3L1421.8,467.6L1423.4,469.0L1424.9,470.3L1426.4,471.7L1427.9,473.1L1429.4,474.5L1430.8,475.8L1432.3,477.2L1433.8,478.6L1435.2,480.0L1436.7,481.4L1438.1,482.8L1439.6,484.3L1441.0,485.7L1442.5,487.1L1443.9,488.5L1445.3,490.0L1446.7,491.4L1448.1,492.8L1449.6,494.3L1450.9,495.7L1452.4,497.2L1453.8,498.6L1455.1,500.1L1456.5,501.5L1457.9,503.0L1459.3,504.5L1460.7,505.9L1462.1,507.4L1463.4,508.9L1464.8,510.4L1466.2,511.8L1467.5,513.3L1468.9,514.8L1470.3,516.3L1471.6,517.8L1473.0,519.3L1474.3,520.8L1475.6,522.3L1477.0,523.8L1478.3,525.3L1479.6,526.8L1481.0,528.3L1482.3,529.9L1483.6,531.4L1484.9,532.9L1486.2,534.4L1487.5,535.9L1488.9,537.5L1490.2,539.0L1491.5,540.5L1492.8,542.0L1494.1,543.6L1495.4,545.1L1496.7,546.6L1498.0,548.2L1499.3,549.7L1500.6,551.3L1501.8,552.8L1503.1,554.4L1504.4,555.9L1505.7,557.5L1507.0,559.1L1508.3,560.7L1509.5,562.3L1510.8,564.0L1512.0,565.7L1513.2,567.5L1514.4,569.3L1515.5,571.1L1516.6,572.8L1517.6,574.5L1518.7,576.1L1519.7,577.8L1520.8,579.6L1521.9,581.3L1522.9,583.1L1524.0,584.8L1525.0,586.6L1526.0,588.3L1527.0,590.1L1528.0,591.8L1529.0,593.6L1530.0,595.3L1531.0,597.1L1532.0,598.8L1532.9,600.6L1533.9,602.3L1534.9,604.1L1535.9,605.8L1536.9,607.6L1537.9,609.3L1538.8,611.1L1539.8,612.9L1540.8,614.6L1541.7,616.4L1542.7,618.2L1543.6,620.0L1544.6,621.8L1545.5,623.6L1546.4,625.3L1547.3,627.1L1548.3,628.9L1549.2,630.7L1550.1,632.5L1551.0,634.3L1551.9,636.1L1552.9,637.9L1553.8,639.7L1554.6,641.6L1555.5,643.4L1556.4,645.2L1557.3,647.1L1558.1,649.0L1558.9,650.8L1559.8,652.7L1560.6,654.6L1561.3,656.5L1562.1,658.3L1562.9,660.2L1563.6,662.1L1564.4,663.9L1565.1,665.8L1565.9,667.6L1566.6,669.5L1567.4,671.3L1568.1,673.1L1568.9,674.9L1569.7,676.8L1570.5,678.6L1571.3,680.4L1572.1,682.3L1572.8,684.1L1573.6,686.0L1574.4,687.9L1575.2,689.7L1576.0,691.6L1576.7,693.6L1577.5,695.5L1578.2,697.4L1578.9,699.3L1579.6,701.2L1580.2,703.2L1580.9,705.1L1581.5,707.0L1582.2,708.9L1582.8,710.9L1583.4,712.8L1584.0,714.7L1584.6,716.7L1585.2,718.6L1585.8,720.5L1586.4,722.4L1587.0,724.4L1587.6,726.3L1588.1,728.3L1588.7,730.2L1589.2,732.2L1589.8,734.2L1590.3,736.2L1590.8,738.2L1591.3,740.2L1591.7,742.2L1592.2,744.2L1592.6,746.3L1593.0,748.3L1593.3,750.3L1593.7,752.3L1594.0,754.3L1594.3,756.3L1594.6,758.3L1594.9,760.3L1595.2,762.3L1595.5,764.3L1595.8,766.3L1596.1,768.3L1596.4,770.3L1596.7,772.2L1597.0,774.2L1597.2,776.2L1597.5,778.3L1597.8,780.3L1598.0,782.3L1598.3,784.3L1598.5,786.4L1598.7,788.4L1598.9,790.5L1599.1,792.5L1599.2,794.5L1599.3,796.6L1599.5,798.6L1599.6,800.7L1599.7,802.7L1599.7,804.7L1599.8,806.8L1599.9,808.8L1599.9,810.8L1600.0,812.9L1600.0,814.9L1600.0,816.9L1600.0,819.0L1600.0,821.0L1600.0,823.0L1599.9,825.1L1599.9,827.1L1599.9,829.1L1599.8,831.2L1599.7,833.2L1599.6,835.3L1599.5,837.3L1599.3,839.4L1599.2,841.4L1599.0,843.5L1598.8,845.5L1598.6,847.6L1598.3,849.6L1598.1,851.6L1597.8,853.6L1597.6,855.7L1597.3,857.7L1597.0,859.7L1596.7,861.7L1596.4,863.7L1596.1,865.7L1595.8,867.7L1595.5,869.7L1595.1,871.7L1594.8,873.7L1594.5,875.7L1594.1,877.6L1593.8,879.6L1593.4,881.6L1593.0,883.6L1592.6,885.7L1592.2,887.7L1591.7,889.7L1591.3,891.7L1590.8,893.7L1590.3,895.7L1589.8,897.7L1589.2,899.7L1588.6,901.7L1588.1,903.6L1587.5,905.6L1586.8,907.6L1586.2,909.5L1585.6,911.5L1584.9,913.4L1584.2,915.4L1583.5,917.3L1582.7,919.2L1582.0,921.1L1581.2,923.0L1580.5,924.9L1579.7,926.8L1578.8,928.7L1578.0,930.6L1577.2,932.5L1576.3,934.3L1575.5,936.1L1574.6,938.0L1573.7,939.8L1572.8,941.6L1572.0,943.5L1571.1,945.3L1570.2,947.1L1569.3,948.9L1568.4,950.7L1567.4,952.5L1566.5,954.3L1565.6,956.1L1564.6,957.9L1563.7,959.7L1562.7,961.5L1561.8,963.2L1560.8,965.0L1559.8,966.8L1558.8,968.6L1557.9,970.3L1556.9,972.1L1555.9,973.8L1554.9,975.6L1553.9,977.3L1552.8,979.1L1551.8,980.8L1550.8,982.6L1549.8,984.3L1548.8,986.0L1547.7,987.8L1546.7,989.5L1545.6,991.3L1544.5,993.0L1543.4,994.7L1542.3,996.5L1541.2,998.2L1540.0,999.9L1538.8,1001.6L1537.6,1003.3L1536.4,1004.9L1535.1,1006.6L1533.9,1008.2L1532.6,1009.9L1531.3,1011.5L1530.0,1013.1L1528.7,1014.6L1527.4,1016.2L1526.0,1017.7L1524.7,1019.3L1523.3,1020.8L1522.0,1022.3L1520.6,1023.8L1519.3,1025.3L1517.9,1026.8L1516.5,1028.3L1515.1,1029.8L1513.7,1031.3L1512.3,1032.7L1510.9,1034.2L1509.5,1035.7L1508.0,1037.1L1506.6,1038.6L1505.1,1040.0L1503.6,1041.4L1502.1,1042.8L1500.6,1044.2L1499.0,1045.6L1497.4,1047.0L1495.8,1048.3L1494.2,1049.6L1492.6,1050.9L1490.9,1052.2L1489.3,1053.4L1487.6,1054.6L1485.9,1055.9L1484.2,1057.0L1482.5,1058.2L1480.8,1059.4L1479.0,1060.5L1477.3,1061.6L1475.6,1062.7L1473.8,1063.7L1472.0,1064.8L1470.2,1065.8L1468.4,1066.8L1466.6,1067.8L1464.8,1068.8L1463.0,1069.7L1461.2,1070.7L1459.4,1071.6L1457.6,1072.5L1455.7,1073.4L1453.9,1074.3L1452.0,1075.2L1450.2,1076.0L1448.3,1076.9L1446.5,1077.7L1444.6,1078.6L1442.7,1079.4L1440.8,1080.2L1438.9,1080.9L1436.9,1081.7L1435.0,1082.4L1433.1,1083.1L1431.2,1083.8L1429.3,1084.5L1427.4,1085.2L1425.4,1085.9L1423.5,1086.5L1421.6,1087.1L1419.6,1087.8L1417.7,1088.4L1415.8,1089.0L1413.8,1089.6L1412.0,1090.2L1410.8,1090.6L1408.1,1091.9L1404.5,1092.1L1402.5,1092.0L1400.5,1092.0L1398.5,1092.0L1396.5,1092.0L1394.5,1091.9L1392.5,1091.9L1390.4,1091.8L1388.4,1091.8L1386.4,1091.7L1384.4,1091.7L1382.4,1091.6L1380.4,1091.5L1378.4,1091.5L1376.4,1091.4L1374.4,1091.3L1372.4,1091.3L1370.4,1091.2L1368.4,1091.1L1366.4,1091.0L1364.4,1091.0L1362.4,1090.9L1360.4,1090.8L1358.4,1090.7L1356.4,1090.7L1354.4,1090.6L1352.4,1090.5L1350.4,1090.4L1348.4,1090.3L1346.4,1090.3L1344.4,1090.2L1342.4,1090.1L1340.4,1090.0L1338.3,1089.9L1336.3,1089.8" fill="none" stroke="#c4c4c4" stroke-width="0.60"/>
<path d="M1172.5,346.2L1173.7,340.8M1196.7,352.3L1198.1,347.0M1220.7,359.3L1222.3,354.0M1244.3,367.1L1246.2,362.0M1267.6,376.2L1269.7,371.1M1290.4,386.3L1292.8,381.3M1312.4,398.0L1315.1,393.3M1333.6,411.1L1336.6,406.4M1354.4,424.9L1357.6,420.3M1374.8,439.4L1378.0,434.9M1394.7,454.4L1398.1,450.0M1414.1,470.1L1417.7,466.0M1432.4,487.0L1436.2,483.1M1449.9,504.8L1453.9,501.0M1466.9,523.1L1471.0,519.4M1483.4,541.9L1487.6,538.3M1499.5,561.0L1503.8,557.5M1513.7,581.4L1518.3,578.4M1526.2,602.9L1531.0,600.2M1538.2,624.8L1543.1,622.3M1549.5,647.1L1554.5,644.7M1559.3,670.0L1564.4,668.0M1569.0,693.1L1574.1,691.0M1577.3,716.6L1582.5,714.9M1584.2,740.5L1589.5,739.2M1588.6,765.0L1594.0,764.2M1591.8,789.8L1597.3,789.3M1593.0,814.6L1598.5,814.6M1592.3,839.5L1597.8,840.0M1589.2,864.3L1594.7,865.1M1584.8,888.8L1590.1,890.0M1577.7,912.6L1582.9,914.5M1568.0,935.5L1573.0,937.9M1556.8,957.8L1561.6,960.4M1544.5,979.5L1549.2,982.3M1531.0,1000.5L1535.4,1003.7M1515.0,1019.6L1519.1,1023.3M1497.7,1037.4L1501.4,1041.4M1478.1,1052.7L1481.2,1057.3M1456.6,1065.2L1459.1,1070.1M1433.9,1075.4L1435.9,1080.5M1410.3,1083.4L1412.0,1088.6M1386.0,1084.7L1385.9,1090.2M1361.0,1083.8L1360.8,1089.3" fill="none" stroke="#111" stroke-width="1.0"/>
<path d="M456.0,593.0L500.0,594.0L496.0,730.0M495.0,752.0L490.0,823.0M410.0,676.0L413.0,728.0L393.0,727.0M378.0,808.0L461.0,810.0M490.0,819.0L492.0,837.0M463.0,860.0L491.0,860.0L488.0,924.0M463.0,860.0L461.0,914.0L488.0,914.0M462.0,887.0L489.0,887.0M382.0,883.0L461.0,886.0M488.0,948.0L485.0,1040.0M490.0,981.0L559.0,981.0L554.0,1060.0L516.0,1058.0M534.0,582.0L526.0,852.0M556.0,518.0L628.0,521.0L627.0,558.0L558.0,559.0M556.0,518.0L536.0,534.0L535.0,562.0L558.0,562.0M610.0,480.0L609.0,518.0M610.0,480.0L640.0,482.0M641.0,484.0L638.0,604.0M603.0,564.0L634.0,565.0M603.0,564.0L602.0,600.0M534.0,582.0L562.0,583.0L561.0,599.0M534.0,602.0L640.0,606.0M537.0,614.0L636.0,617.0M526.0,854.0L629.0,858.0M526.0,866.0L627.0,869.0M525.0,854.0L522.0,922.0L537.0,923.0L538.0,868.0M558.0,908.0L626.0,910.0M589.0,912.0L588.0,943.0M520.0,944.0L521.0,958.0L560.0,959.0L562.0,946.0L624.0,948.0M562.0,946.0L558.0,1074.0M628.0,858.0L621.0,1080.0M649.8,406.0L649.8,447.5M621.0,447.0L696.0,448.6L695.0,428.8L727.8,429.4L726.7,448.6M725.0,449.5L748.0,450.3L747.6,440.0L776.5,440.7M720.0,371.7L719.3,428.8M779.9,361.5L776.5,462.2M611.0,480.0L800.0,487.5L907.0,492.5L978.0,494.5M611.0,480.0L610.0,518.0M940.0,321.0L937.0,443.0L993.0,443.0L995.0,321.0L940.0,321.0M938.0,428.0L993.0,429.0M907.0,323.0L905.0,402.0L938.0,402.0M906.0,361.0L938.0,361.0M996.0,343.0L1040.0,343.0M1041.0,326.0L1035.0,495.0M993.0,443.0L1001.0,443.0M1020.0,443.0L1036.0,443.0M974.0,445.0L974.0,458.0M974.0,479.0L974.0,493.0M1002.0,494.0L1000.0,542.0M1035.0,495.0L1148.0,498.5M1089.0,499.0L1088.0,532.0M1128.0,500.0L1127.0,546.0M1026.0,530.0L1050.0,531.0M1064.0,531.5L1096.0,532.5L1095.0,553.0L1140.0,556.0M1026.0,530.0L1025.0,552.0M906.0,498.0L904.0,602.0M908.0,521.0L977.0,522.0M908.0,569.0L991.0,571.0L992.0,543.0L1024.0,544.0M908.0,574.0L964.0,585.0M996.0,543.0L995.0,567.0M893.0,906.0L887.0,1075.0M893.0,908.0L950.0,910.0L980.0,926.0L1010.0,940.0M940.0,938.0L938.0,1000.0M893.0,999.0L942.0,1001.0M936.0,1000.0L936.0,1028.0L1007.0,1031.0L1007.0,1070.0M1032.0,1029.0L1250.0,1038.0L1490.0,1046.5M1128.0,1035.0L1127.0,1072.0M978.0,937.0L1010.0,938.0L1009.0,1002.0M966.0,1001.0L1016.0,1002.0M976.0,965.0L1016.0,968.0M977.0,938.0L975.0,1001.0M1030.0,970.0L1130.0,972.5M1043.0,971.0L1043.0,1005.0M1029.0,1005.0L1130.0,1007.5M1092.0,972.0L1091.0,1006.0M1080.0,950.0L1079.0,970.0M1080.0,950.0L1126.0,952.0M1257.0,1038.0L1256.0,1078.0M1260.0,1059.0L1274.0,1059.0L1273.0,1078.0M1422.0,853.0L1420.0,888.0L1560.0,890.0M1465.0,855.0L1464.0,888.0M1506.0,856.0L1505.0,889.0M1548.0,858.0L1547.0,890.0M1562.0,862.0L1561.0,890.0M1420.0,888.0L1417.0,1000.0M1458.0,889.0L1455.0,1000.0M1420.0,928.0L1457.0,929.0M1419.0,966.0L1456.0,967.0M1417.0,1000.0L1456.0,1001.0M1512.0,890.0L1509.0,1002.0M1514.0,914.0L1572.0,916.0M1514.0,946.0L1557.0,948.0M1514.0,960.0L1551.0,961.0M1374.0,884.0L1375.0,1002.0M1335.0,960.0L1420.0,964.0M1348.0,928.0L1374.0,928.0M1334.0,942.0L1334.0,962.0M1342.0,964.0L1342.0,1002.0M1342.0,988.0L1375.0,989.0M1342.0,1004.0L1376.0,1006.0M1313.0,968.0L1312.0,1010.0M1308.0,1010.0L1340.0,1012.0M1258.0,1010.0L1295.0,1011.0M1396.0,1006.0L1406.0,1006.0L1406.0,1000.0L1417.0,1000.0M1446.0,1002.0L1466.0,1003.0L1465.0,1012.0M1404.0,1022.0L1403.0,1042.0M1463.0,1024.0L1462.0,1044.0M1148.0,499.0L1150.4,499.3L1153.6,499.7L1157.3,500.1L1161.5,500.6L1166.0,501.2L1170.7,502.0L1175.4,502.9L1180.0,504.0L1184.7,505.3L1189.7,506.8L1194.9,508.5L1200.1,510.3L1205.4,512.2L1210.5,514.1L1215.4,516.1L1220.0,518.0L1224.2,519.9L1228.2,521.8L1232.0,523.7L1235.6,525.6L1239.2,527.6L1242.7,529.7L1246.3,531.8L1250.0,534.0L1253.8,536.3L1257.6,538.8L1261.5,541.3L1265.4,543.9L1269.2,546.5L1272.9,549.1L1276.5,551.6L1280.0,554.0L1283.4,556.3L1286.7,558.4L1289.9,560.5L1293.0,562.6L1296.0,564.6L1298.8,566.7L1301.5,568.8L1304.0,571.0L1306.2,573.2L1308.2,575.4L1309.9,577.5L1311.6,579.7L1313.1,582.0L1314.7,584.4L1316.3,587.1L1318.0,590.0L1319.8,593.2L1321.7,596.8L1323.6,600.6L1325.6,604.5L1327.5,608.5L1329.4,612.5L1331.2,616.3L1333.0,620.0L1334.8,623.7L1336.7,627.6L1338.6,631.5L1340.4,635.4L1342.2,639.0L1343.7,642.2L1345.0,644.9L1346.0,647.0M1096.0,553.0L1099.5,553.3L1104.2,553.7L1109.9,554.3L1116.1,554.8L1122.6,555.4L1129.0,556.0L1134.9,556.5L1140.0,557.0L1144.5,557.4L1148.7,557.7L1152.6,558.0L1156.4,558.2L1160.0,558.6L1163.4,558.9L1166.7,559.4L1170.0,560.0L1173.1,560.7L1175.9,561.5L1178.6,562.3L1181.1,563.2L1183.7,564.2L1186.3,565.3L1189.0,566.6L1192.0,568.0L1195.2,569.6L1198.6,571.2L1202.1,573.1L1205.8,575.0L1209.4,577.1L1213.0,579.2L1216.6,581.6L1220.0,584.0L1223.4,586.7L1226.9,589.6L1230.4,592.8L1233.9,596.0L1237.2,599.2L1240.4,602.4L1243.3,605.3L1246.0,608.0L1248.3,610.4L1250.4,612.5L1252.2,614.5L1253.9,616.4L1255.4,618.2L1256.9,620.0L1258.4,622.0L1260.0,624.0L1261.7,626.3L1263.4,628.8L1265.2,631.4L1266.9,634.0L1268.5,636.5L1269.9,638.7L1271.1,640.6L1272.0,642.0M1118.0,1008.0L1120.4,1008.0L1123.6,1007.9L1127.3,1007.9L1131.5,1007.8L1136.0,1007.7L1140.7,1007.6L1145.4,1007.3L1150.0,1007.0L1154.7,1006.6L1159.7,1006.1L1164.9,1005.5L1170.1,1004.9L1175.4,1004.3L1180.5,1003.6L1185.4,1002.8L1190.0,1002.0L1194.2,1001.2L1198.2,1000.4L1202.0,999.5L1205.6,998.6L1209.2,997.6L1212.7,996.5L1216.3,995.3L1220.0,994.0L1223.7,992.7L1227.4,991.3L1231.0,990.0L1234.6,988.5L1238.3,986.8L1242.1,984.9L1246.0,982.7L1250.0,980.0L1254.3,976.8L1258.9,973.1L1263.7,969.0L1268.5,964.6L1273.3,960.2L1277.8,955.9L1282.1,951.7L1286.0,948.0L1289.5,944.6L1292.6,941.4L1295.5,938.4L1298.2,935.5L1300.8,932.6L1303.2,929.8L1305.6,926.9L1308.0,924.0L1310.3,921.0L1312.5,918.0L1314.7,914.9L1316.7,911.9L1318.6,908.9L1320.5,905.9L1322.3,902.9L1324.0,900.0L1325.7,897.0L1327.4,893.8L1329.0,890.6L1330.5,887.5L1331.9,884.6L1333.1,881.9L1334.2,879.7L1335.0,878.0M1080.0,950.0L1083.9,950.0L1089.2,949.9L1095.5,949.9L1102.5,949.8L1109.8,949.7L1117.0,949.6L1123.9,949.3L1130.0,949.0L1135.5,948.6L1140.7,948.1L1145.7,947.6L1150.6,947.1L1155.4,946.4L1160.2,945.7L1165.1,944.9L1170.0,944.0L1175.1,943.1L1180.2,942.3L1185.4,941.4L1190.6,940.4L1195.7,939.3L1200.7,937.9L1205.5,936.1L1210.0,934.0L1214.3,931.3L1218.6,928.0L1222.7,924.3L1226.6,920.4L1230.4,916.4L1233.9,912.6L1237.1,909.0L1240.0,906.0L1242.5,903.4L1244.7,901.1L1246.6,899.0L1248.3,897.1L1249.8,895.3L1251.2,893.6L1252.6,891.8L1254.0,890.0L1255.4,888.1L1256.8,886.0L1258.1,884.0L1259.4,882.0L1260.5,880.1L1261.5,878.5L1262.3,877.1L1263.0,876.0M1380.0,866.0L1379.0,867.0L1377.8,868.4L1376.2,870.0L1374.5,871.8L1372.7,873.7L1371.0,875.8L1369.4,877.9L1368.0,880.0L1366.8,882.2L1365.8,884.6L1364.9,887.1L1364.0,889.6L1363.1,892.2L1362.2,894.9L1361.2,897.5L1360.0,900.0L1358.7,902.5L1357.4,905.0L1356.0,907.5L1354.5,910.0L1353.0,912.5L1351.4,915.0L1349.7,917.5L1348.0,920.0L1346.2,922.4L1344.4,924.8L1342.6,927.1L1340.6,929.5L1338.6,931.9L1336.5,934.4L1334.3,937.1L1332.0,940.0L1329.6,943.2L1327.0,946.6L1324.3,950.2L1321.5,953.9L1318.7,957.6L1315.8,961.2L1312.9,964.7L1310.0,968.0L1307.1,971.1L1304.2,974.0L1301.2,976.9L1298.2,979.6L1295.2,982.3L1292.2,984.9L1289.1,987.5L1286.0,990.0L1282.7,992.6L1279.0,995.2L1275.3,997.8L1271.5,1000.4L1267.9,1002.7L1264.7,1004.9L1262.0,1006.6L1260.0,1008.0M1380.0,866.0L1381.7,864.9L1384.0,863.3L1386.6,861.5L1389.6,859.5L1392.8,857.4L1396.0,855.5L1399.1,853.8L1402.0,852.5L1404.5,851.6L1406.7,850.9L1408.8,850.4L1410.9,850.0L1413.3,849.7L1416.1,849.5L1419.6,849.3L1424.0,849.0L1429.5,848.7L1436.0,848.4L1443.2,848.1L1450.9,847.9L1458.7,847.7L1466.3,847.6L1473.5,847.5L1480.0,847.5L1485.8,847.6L1491.4,847.7L1496.6,847.8L1501.6,848.1L1506.4,848.3L1511.1,848.7L1515.6,849.1L1520.0,849.5L1524.3,850.0L1528.3,850.5L1532.2,851.1L1535.9,851.7L1539.5,852.4L1543.0,853.2L1546.5,854.0L1550.0,855.0L1553.5,856.1L1557.1,857.2L1560.6,858.5L1564.0,859.9L1567.3,861.3L1570.4,862.7L1573.4,864.1L1576.0,865.5L1578.4,867.0L1580.7,868.6L1582.7,870.2L1584.6,871.9L1586.3,873.5L1587.8,874.9L1589.0,876.1L1590.0,877.0M1346.0,647.0L1330.0,645.0M1306.0,643.0L1274.0,640.0M1263.0,876.0L1278.0,876.5M1318.0,877.5L1335.0,878.0M1214.0,515.0L1194.0,564.0M1223.0,526.0L1208.0,568.0M1178.0,952.0L1198.0,1000.0M1190.0,946.0L1208.0,996.0M1289.0,680.0L1357.0,684.5M1290.0,680.0L1285.0,839.0M1338.0,683.0L1334.0,841.0M1285.0,839.0L1350.0,842.0M1357.0,684.5L1357.3,687.2L1357.8,690.8L1358.4,695.0L1359.0,699.8L1359.6,704.8L1360.2,710.0L1360.7,715.1L1361.0,720.0L1361.2,724.8L1361.4,729.7L1361.5,734.7L1361.5,739.7L1361.5,744.8L1361.4,749.9L1361.2,755.0L1361.0,760.0L1360.7,765.0L1360.4,770.0L1359.9,774.9L1359.4,779.9L1358.9,784.9L1358.3,789.9L1357.7,794.9L1357.0,800.0L1356.2,805.4L1355.3,811.3L1354.3,817.4L1353.2,823.5L1352.2,829.2L1351.3,834.4L1350.6,838.7L1350.0,842.0M899.0,868.0L899.9,868.3L901.0,868.7L902.4,869.2L903.9,869.8L905.5,870.4L907.1,871.1L908.6,872.0L910.0,873.0L911.3,874.1L912.5,875.3L913.6,876.5L914.8,877.9L916.0,879.5L917.2,881.1L918.6,883.0L920.0,885.0L921.7,887.4L923.5,890.3L925.6,893.5L927.6,896.8L929.6,899.9L931.4,902.8L932.9,905.2L934.0,907.0M934.0,907.0L952.0,909.5L980.0,921.0L1012.0,937.0M906.0,628.5L907.1,628.1L908.5,627.7L910.2,627.2L912.1,626.6L914.1,625.9L916.2,625.1L918.2,624.1L920.0,623.0L921.8,621.7L923.5,620.1L925.3,618.4L927.1,616.5L928.9,614.6L930.6,612.7L932.3,610.8L934.0,609.0L935.6,607.2L937.0,605.4L938.4,603.6L939.8,601.8L941.1,600.0L942.6,598.3L944.2,596.6L946.0,595.0L947.9,593.5L949.8,592.2L951.9,590.9L954.0,589.6L956.3,588.4L958.7,587.1L961.2,585.8L964.0,584.5L967.0,583.1L970.2,581.7L973.5,580.2L977.0,578.8L980.6,577.3L984.3,575.9L988.1,574.4L992.0,573.0L996.2,571.5L1000.9,570.0L1005.8,568.4L1010.8,566.8L1015.5,565.3L1019.8,564.0L1023.3,562.8L1026.0,562.0M904.0,600.0L897.0,602.0L896.0,632.0M888.0,853.0L888.0,880.0L893.0,881.0L893.0,906.0M997.0,580.0L1013.0,600.0L1066.0,570.0L1084.0,582.0L1118.0,557.0M973.0,913.0L985.0,912.0L1003.0,896.0L1052.0,930.0L1071.0,919.0L1104.0,945.0" fill="none" stroke="#111" stroke-width="4.3" stroke-linecap="square" stroke-linejoin="miter"/>
<path d="M456.0,593.0L500.0,594.0L496.0,730.0M495.0,752.0L490.0,823.0M410.0,676.0L413.0,728.0L393.0,727.0M378.0,808.0L461.0,810.0M490.0,819.0L492.0,837.0M463.0,860.0L491.0,860.0L488.0,924.0M463.0,860.0L461.0,914.0L488.0,914.0M462.0,887.0L489.0,887.0M382.0,883.0L461.0,886.0M488.0,948.0L485.0,1040.0M490.0,981.0L559.0,981.0L554.0,1060.0L516.0,1058.0M534.0,582.0L526.0,852.0M556.0,518.0L628.0,521.0L627.0,558.0L558.0,559.0M556.0,518.0L536.0,534.0L535.0,562.0L558.0,562.0M610.0,480.0L609.0,518.0M610.0,480.0L640.0,482.0M641.0,484.0L638.0,604.0M603.0,564.0L634.0,565.0M603.0,564.0L602.0,600.0M534.0,582.0L562.0,583.0L561.0,599.0M534.0,602.0L640.0,606.0M537.0,614.0L636.0,617.0M526.0,854.0L629.0,858.0M526.0,866.0L627.0,869.0M525.0,854.0L522.0,922.0L537.0,923.0L538.0,868.0M558.0,908.0L626.0,910.0M589.0,912.0L588.0,943.0M520.0,944.0L521.0,958.0L560.0,959.0L562.0,946.0L624.0,948.0M562.0,946.0L558.0,1074.0M628.0,858.0L621.0,1080.0M649.8,406.0L649.8,447.5M621.0,447.0L696.0,448.6L695.0,428.8L727.8,429.4L726.7,448.6M725.0,449.5L748.0,450.3L747.6,440.0L776.5,440.7M720.0,371.7L719.3,428.8M779.9,361.5L776.5,462.2M611.0,480.0L800.0,487.5L907.0,492.5L978.0,494.5M611.0,480.0L610.0,518.0M940.0,321.0L937.0,443.0L993.0,443.0L995.0,321.0L940.0,321.0M938.0,428.0L993.0,429.0M907.0,323.0L905.0,402.0L938.0,402.0M906.0,361.0L938.0,361.0M996.0,343.0L1040.0,343.0M1041.0,326.0L1035.0,495.0M993.0,443.0L1001.0,443.0M1020.0,443.0L1036.0,443.0M974.0,445.0L974.0,458.0M974.0,479.0L974.0,493.0M1002.0,494.0L1000.0,542.0M1035.0,495.0L1148.0,498.5M1089.0,499.0L1088.0,532.0M1128.0,500.0L1127.0,546.0M1026.0,530.0L1050.0,531.0M1064.0,531.5L1096.0,532.5L1095.0,553.0L1140.0,556.0M1026.0,530.0L1025.0,552.0M906.0,498.0L904.0,602.0M908.0,521.0L977.0,522.0M908.0,569.0L991.0,571.0L992.0,543.0L1024.0,544.0M908.0,574.0L964.0,585.0M996.0,543.0L995.0,567.0M893.0,906.0L887.0,1075.0M893.0,908.0L950.0,910.0L980.0,926.0L1010.0,940.0M940.0,938.0L938.0,1000.0M893.0,999.0L942.0,1001.0M936.0,1000.0L936.0,1028.0L1007.0,1031.0L1007.0,1070.0M1032.0,1029.0L1250.0,1038.0L1490.0,1046.5M1128.0,1035.0L1127.0,1072.0M978.0,937.0L1010.0,938.0L1009.0,1002.0M966.0,1001.0L1016.0,1002.0M976.0,965.0L1016.0,968.0M977.0,938.0L975.0,1001.0M1030.0,970.0L1130.0,972.5M1043.0,971.0L1043.0,1005.0M1029.0,1005.0L1130.0,1007.5M1092.0,972.0L1091.0,1006.0M1080.0,950.0L1079.0,970.0M1080.0,950.0L1126.0,952.0M1257.0,1038.0L1256.0,1078.0M1260.0,1059.0L1274.0,1059.0L1273.0,1078.0M1422.0,853.0L1420.0,888.0L1560.0,890.0M1465.0,855.0L1464.0,888.0M1506.0,856.0L1505.0,889.0M1548.0,858.0L1547.0,890.0M1562.0,862.0L1561.0,890.0M1420.0,888.0L1417.0,1000.0M1458.0,889.0L1455.0,1000.0M1420.0,928.0L1457.0,929.0M1419.0,966.0L1456.0,967.0M1417.0,1000.0L1456.0,1001.0M1512.0,890.0L1509.0,1002.0M1514.0,914.0L1572.0,916.0M1514.0,946.0L1557.0,948.0M1514.0,960.0L1551.0,961.0M1374.0,884.0L1375.0,1002.0M1335.0,960.0L1420.0,964.0M1348.0,928.0L1374.0,928.0M1334.0,942.0L1334.0,962.0M1342.0,964.0L1342.0,1002.0M1342.0,988.0L1375.0,989.0M1342.0,1004.0L1376.0,1006.0M1313.0,968.0L1312.0,1010.0M1308.0,1010.0L1340.0,1012.0M1258.0,1010.0L1295.0,1011.0M1396.0,1006.0L1406.0,1006.0L1406.0,1000.0L1417.0,1000.0M1446.0,1002.0L1466.0,1003.0L1465.0,1012.0M1404.0,1022.0L1403.0,1042.0M1463.0,1024.0L1462.0,1044.0M1148.0,499.0L1150.4,499.3L1153.6,499.7L1157.3,500.1L1161.5,500.6L1166.0,501.2L1170.7,502.0L1175.4,502.9L1180.0,504.0L1184.7,505.3L1189.7,506.8L1194.9,508.5L1200.1,510.3L1205.4,512.2L1210.5,514.1L1215.4,516.1L1220.0,518.0L1224.2,519.9L1228.2,521.8L1232.0,523.7L1235.6,525.6L1239.2,527.6L1242.7,529.7L1246.3,531.8L1250.0,534.0L1253.8,536.3L1257.6,538.8L1261.5,541.3L1265.4,543.9L1269.2,546.5L1272.9,549.1L1276.5,551.6L1280.0,554.0L1283.4,556.3L1286.7,558.4L1289.9,560.5L1293.0,562.6L1296.0,564.6L1298.8,566.7L1301.5,568.8L1304.0,571.0L1306.2,573.2L1308.2,575.4L1309.9,577.5L1311.6,579.7L1313.1,582.0L1314.7,584.4L1316.3,587.1L1318.0,590.0L1319.8,593.2L1321.7,596.8L1323.6,600.6L1325.6,604.5L1327.5,608.5L1329.4,612.5L1331.2,616.3L1333.0,620.0L1334.8,623.7L1336.7,627.6L1338.6,631.5L1340.4,635.4L1342.2,639.0L1343.7,642.2L1345.0,644.9L1346.0,647.0M1096.0,553.0L1099.5,553.3L1104.2,553.7L1109.9,554.3L1116.1,554.8L1122.6,555.4L1129.0,556.0L1134.9,556.5L1140.0,557.0L1144.5,557.4L1148.7,557.7L1152.6,558.0L1156.4,558.2L1160.0,558.6L1163.4,558.9L1166.7,559.4L1170.0,560.0L1173.1,560.7L1175.9,561.5L1178.6,562.3L1181.1,563.2L1183.7,564.2L1186.3,565.3L1189.0,566.6L1192.0,568.0L1195.2,569.6L1198.6,571.2L1202.1,573.1L1205.8,575.0L1209.4,577.1L1213.0,579.2L1216.6,581.6L1220.0,584.0L1223.4,586.7L1226.9,589.6L1230.4,592.8L1233.9,596.0L1237.2,599.2L1240.4,602.4L1243.3,605.3L1246.0,608.0L1248.3,610.4L1250.4,612.5L1252.2,614.5L1253.9,616.4L1255.4,618.2L1256.9,620.0L1258.4,622.0L1260.0,624.0L1261.7,626.3L1263.4,628.8L1265.2,631.4L1266.9,634.0L1268.5,636.5L1269.9,638.7L1271.1,640.6L1272.0,642.0M1118.0,1008.0L1120.4,1008.0L1123.6,1007.9L1127.3,1007.9L1131.5,1007.8L1136.0,1007.7L1140.7,1007.6L1145.4,1007.3L1150.0,1007.0L1154.7,1006.6L1159.7,1006.1L1164.9,1005.5L1170.1,1004.9L1175.4,1004.3L1180.5,1003.6L1185.4,1002.8L1190.0,1002.0L1194.2,1001.2L1198.2,1000.4L1202.0,999.5L1205.6,998.6L1209.2,997.6L1212.7,996.5L1216.3,995.3L1220.0,994.0L1223.7,992.7L1227.4,991.3L1231.0,990.0L1234.6,988.5L1238.3,986.8L1242.1,984.9L1246.0,982.7L1250.0,980.0L1254.3,976.8L1258.9,973.1L1263.7,969.0L1268.5,964.6L1273.3,960.2L1277.8,955.9L1282.1,951.7L1286.0,948.0L1289.5,944.6L1292.6,941.4L1295.5,938.4L1298.2,935.5L1300.8,932.6L1303.2,929.8L1305.6,926.9L1308.0,924.0L1310.3,921.0L1312.5,918.0L1314.7,914.9L1316.7,911.9L1318.6,908.9L1320.5,905.9L1322.3,902.9L1324.0,900.0L1325.7,897.0L1327.4,893.8L1329.0,890.6L1330.5,887.5L1331.9,884.6L1333.1,881.9L1334.2,879.7L1335.0,878.0M1080.0,950.0L1083.9,950.0L1089.2,949.9L1095.5,949.9L1102.5,949.8L1109.8,949.7L1117.0,949.6L1123.9,949.3L1130.0,949.0L1135.5,948.6L1140.7,948.1L1145.7,947.6L1150.6,947.1L1155.4,946.4L1160.2,945.7L1165.1,944.9L1170.0,944.0L1175.1,943.1L1180.2,942.3L1185.4,941.4L1190.6,940.4L1195.7,939.3L1200.7,937.9L1205.5,936.1L1210.0,934.0L1214.3,931.3L1218.6,928.0L1222.7,924.3L1226.6,920.4L1230.4,916.4L1233.9,912.6L1237.1,909.0L1240.0,906.0L1242.5,903.4L1244.7,901.1L1246.6,899.0L1248.3,897.1L1249.8,895.3L1251.2,893.6L1252.6,891.8L1254.0,890.0L1255.4,888.1L1256.8,886.0L1258.1,884.0L1259.4,882.0L1260.5,880.1L1261.5,878.5L1262.3,877.1L1263.0,876.0M1380.0,866.0L1379.0,867.0L1377.8,868.4L1376.2,870.0L1374.5,871.8L1372.7,873.7L1371.0,875.8L1369.4,877.9L1368.0,880.0L1366.8,882.2L1365.8,884.6L1364.9,887.1L1364.0,889.6L1363.1,892.2L1362.2,894.9L1361.2,897.5L1360.0,900.0L1358.7,902.5L1357.4,905.0L1356.0,907.5L1354.5,910.0L1353.0,912.5L1351.4,915.0L1349.7,917.5L1348.0,920.0L1346.2,922.4L1344.4,924.8L1342.6,927.1L1340.6,929.5L1338.6,931.9L1336.5,934.4L1334.3,937.1L1332.0,940.0L1329.6,943.2L1327.0,946.6L1324.3,950.2L1321.5,953.9L1318.7,957.6L1315.8,961.2L1312.9,964.7L1310.0,968.0L1307.1,971.1L1304.2,974.0L1301.2,976.9L1298.2,979.6L1295.2,982.3L1292.2,984.9L1289.1,987.5L1286.0,990.0L1282.7,992.6L1279.0,995.2L1275.3,997.8L1271.5,1000.4L1267.9,1002.7L1264.7,1004.9L1262.0,1006.6L1260.0,1008.0M1380.0,866.0L1381.7,864.9L1384.0,863.3L1386.6,861.5L1389.6,859.5L1392.8,857.4L1396.0,855.5L1399.1,853.8L1402.0,852.5L1404.5,851.6L1406.7,850.9L1408.8,850.4L1410.9,850.0L1413.3,849.7L1416.1,849.5L1419.6,849.3L1424.0,849.0L1429.5,848.7L1436.0,848.4L1443.2,848.1L1450.9,847.9L1458.7,847.7L1466.3,847.6L1473.5,847.5L1480.0,847.5L1485.8,847.6L1491.4,847.7L1496.6,847.8L1501.6,848.1L1506.4,848.3L1511.1,848.7L1515.6,849.1L1520.0,849.5L1524.3,850.0L1528.3,850.5L1532.2,851.1L1535.9,851.7L1539.5,852.4L1543.0,853.2L1546.5,854.0L1550.0,855.0L1553.5,856.1L1557.1,857.2L1560.6,858.5L1564.0,859.9L1567.3,861.3L1570.4,862.7L1573.4,864.1L1576.0,865.5L1578.4,867.0L1580.7,868.6L1582.7,870.2L1584.6,871.9L1586.3,873.5L1587.8,874.9L1589.0,876.1L1590.0,877.0M1346.0,647.0L1330.0,645.0M1306.0,643.0L1274.0,640.0M1263.0,876.0L1278.0,876.5M1318.0,877.5L1335.0,878.0M1214.0,515.0L1194.0,564.0M1223.0,526.0L1208.0,568.0M1178.0,952.0L1198.0,1000.0M1190.0,946.0L1208.0,996.0M1289.0,680.0L1357.0,684.5M1290.0,680.0L1285.0,839.0M1338.0,683.0L1334.0,841.0M1285.0,839.0L1350.0,842.0M1357.0,684.5L1357.3,687.2L1357.8,690.8L1358.4,695.0L1359.0,699.8L1359.6,704.8L1360.2,710.0L1360.7,715.1L1361.0,720.0L1361.2,724.8L1361.4,729.7L1361.5,734.7L1361.5,739.7L1361.5,744.8L1361.4,749.9L1361.2,755.0L1361.0,760.0L1360.7,765.0L1360.4,770.0L1359.9,774.9L1359.4,779.9L1358.9,784.9L1358.3,789.9L1357.7,794.9L1357.0,800.0L1356.2,805.4L1355.3,811.3L1354.3,817.4L1353.2,823.5L1352.2,829.2L1351.3,834.4L1350.6,838.7L1350.0,842.0M899.0,868.0L899.9,868.3L901.0,868.7L902.4,869.2L903.9,869.8L905.5,870.4L907.1,871.1L908.6,872.0L910.0,873.0L911.3,874.1L912.5,875.3L913.6,876.5L914.8,877.9L916.0,879.5L917.2,881.1L918.6,883.0L920.0,885.0L921.7,887.4L923.5,890.3L925.6,893.5L927.6,896.8L929.6,899.9L931.4,902.8L932.9,905.2L934.0,907.0M934.0,907.0L952.0,909.5L980.0,921.0L1012.0,937.0M906.0,628.5L907.1,628.1L908.5,627.7L910.2,627.2L912.1,626.6L914.1,625.9L916.2,625.1L918.2,624.1L920.0,623.0L921.8,621.7L923.5,620.1L925.3,618.4L927.1,616.5L928.9,614.6L930.6,612.7L932.3,610.8L934.0,609.0L935.6,607.2L937.0,605.4L938.4,603.6L939.8,601.8L941.1,600.0L942.6,598.3L944.2,596.6L946.0,595.0L947.9,593.5L949.8,592.2L951.9,590.9L954.0,589.6L956.3,588.4L958.7,587.1L961.2,585.8L964.0,584.5L967.0,583.1L970.2,581.7L973.5,580.2L977.0,578.8L980.6,577.3L984.3,575.9L988.1,574.4L992.0,573.0L996.2,571.5L1000.9,570.0L1005.8,568.4L1010.8,566.8L1015.5,565.3L1019.8,564.0L1023.3,562.8L1026.0,562.0M904.0,600.0L897.0,602.0L896.0,632.0M888.0,853.0L888.0,880.0L893.0,881.0L893.0,906.0M997.0,580.0L1013.0,600.0L1066.0,570.0L1084.0,582.0L1118.0,557.0M973.0,913.0L985.0,912.0L1003.0,896.0L1052.0,930.0L1071.0,919.0L1104.0,945.0" fill="none" stroke="#fff" stroke-width="2.0" stroke-linecap="butt" stroke-linejoin="miter"/>
<path d="M461.0,800.0H493.0V818.0H461.0ZM461.0,800.0L493.0,818.0M493.0,800.0L461.0,818.0" fill="#e9e9eb" stroke="#333" stroke-width="0.7"/>
<path d="M749.3,441.8H774.2V450.3H749.3ZM749.3,441.8L774.2,450.3M774.2,441.8L749.3,450.3" fill="#e9e9eb" stroke="#333" stroke-width="0.7"/>
<path d="M1550.0,860.0H1560.0V888.0H1550.0ZM1550.0,860.0L1560.0,888.0M1560.0,860.0L1550.0,888.0" fill="#e9e9eb" stroke="#333" stroke-width="0.7"/>
<path d="M1516.0,894.0H1558.0V912.0H1516.0ZM1516.0,894.0L1558.0,912.0M1558.0,894.0L1516.0,912.0" fill="#e9e9eb" stroke="#333" stroke-width="0.7"/>
<g transform="rotate(1.8 967.0 371.0)" fill="none" stroke="#222" stroke-width="0.7"><rect x="942.0" y="326.0" width="50.0" height="90.0" rx="25.0"/><path d="M942.5,351.0H991.5M942.5,354.8H991.5M942.5,358.6H991.5M942.5,362.4H991.5M942.5,366.2H991.5M942.5,370.0H991.5M942.5,373.8H991.5M942.5,377.6H991.5M942.5,381.4H991.5M942.5,385.2H991.5M942.5,389.0H991.5" stroke="#111" stroke-width="0.8"/><rect x="965.0" y="349.0" width="5.0" height="43.0" fill="#fff" stroke="#111" stroke-width="0.9"/></g>
<g transform="rotate(1.8 950.5 547.0)" fill="none" stroke="#222" stroke-width="0.7"><rect x="909.0" y="523.0" width="83.0" height="48.0" rx="24.0"/><path d="M932.0,523.5V570.5M935.6,523.5V570.5M939.2,523.5V570.5M942.8,523.5V570.5M946.4,523.5V570.5M950.0,523.5V570.5M953.6,523.5V570.5M957.2,523.5V570.5M960.8,523.5V570.5M964.4,523.5V570.5M968.0,523.5V570.5" stroke="#111" stroke-width="0.8"/><rect x="931.0" y="545.0" width="37.0" height="3.5" fill="#fff" stroke="#111" stroke-width="0.9"/></g>
<g transform="rotate(1.8 592.0 540.0)" fill="none" stroke="#222" stroke-width="0.7"><rect x="558.0" y="522.0" width="68.0" height="36.0" rx="18.0"/><path d="M560.0,522.5V557.5M563.7,522.5V557.5M567.4,522.5V557.5M571.1,522.5V557.5M574.9,522.5V557.5M578.6,522.5V557.5M582.3,522.5V557.5M586.0,522.5V557.5M589.7,522.5V557.5M593.4,522.5V557.5M597.1,522.5V557.5M600.9,522.5V557.5M604.6,522.5V557.5M608.3,522.5V557.5M612.0,522.5V557.5" stroke="#111" stroke-width="0.8"/><rect x="567.0" y="538.0" width="42.0" height="3.5" fill="#fff" stroke="#111" stroke-width="0.9"/></g>
<g transform="rotate(1.8 582.0 888.0)" fill="none" stroke="#222" stroke-width="0.7"><rect x="540.0" y="868.0" width="84.0" height="40.0" rx="20.0"/><path d="M558.0,868.5V907.5M562.2,868.5V907.5M566.3,868.5V907.5M570.5,868.5V907.5M574.7,868.5V907.5M578.8,868.5V907.5M583.0,868.5V907.5M587.2,868.5V907.5M591.3,868.5V907.5M595.5,868.5V907.5M599.7,868.5V907.5M603.8,868.5V907.5M608.0,868.5V907.5" stroke="#111" stroke-width="0.8"/><rect x="557.0" y="886.0" width="50.0" height="3.5" fill="#fff" stroke="#111" stroke-width="0.9"/></g>
<g transform="rotate(1.8 917.5 957.0)" fill="none" stroke="#222" stroke-width="0.7"><rect x="895.0" y="916.0" width="45.0" height="82.0" rx="22.5"/><path d="M895.5,935.0H939.5M895.5,938.7H939.5M895.5,942.3H939.5M895.5,946.0H939.5M895.5,949.7H939.5M895.5,953.3H939.5M895.5,957.0H939.5M895.5,960.7H939.5M895.5,964.3H939.5M895.5,968.0H939.5" stroke="#111" stroke-width="0.8"/><rect x="915.0" y="934.0" width="4.5" height="38.0" fill="#fff" stroke="#111" stroke-width="0.9"/></g>
<g transform="rotate(1.8 1484.0 951.0)" fill="none" stroke="#222" stroke-width="0.7"><rect x="1460.0" y="904.0" width="48.0" height="94.0" rx="24.0"/><path d="M1460.5,928.0H1507.5M1460.5,932.0H1507.5M1460.5,936.0H1507.5M1460.5,940.0H1507.5M1460.5,944.0H1507.5M1460.5,948.0H1507.5M1460.5,952.0H1507.5M1460.5,956.0H1507.5M1460.5,960.0H1507.5M1460.5,964.0H1507.5M1460.5,968.0H1507.5M1460.5,972.0H1507.5M1460.5,976.0H1507.5" stroke="#111" stroke-width="0.8"/><rect x="1480.0" y="926.0" width="5.0" height="50.0" fill="#fff" stroke="#111" stroke-width="0.9"/></g>
<path d="M1046,327L1185,376L1352,640" fill="none" stroke="#222" stroke-width="0.7"/>
<path d="M1226.0,434.0L1228.6,434.9L1232.0,436.0L1236.0,437.3L1240.5,438.8L1245.3,440.4L1250.3,442.2L1255.2,444.0L1260.0,446.0L1264.8,448.1L1269.8,450.3L1275.0,452.7L1280.2,455.1L1285.5,457.7L1290.6,460.4L1295.4,463.2L1300.0,466.0L1304.3,468.9L1308.4,472.0L1312.4,475.2L1316.2,478.5L1319.9,481.8L1323.4,485.2L1326.8,488.6L1330.0,492.0L1333.0,495.4L1335.8,498.8L1338.5,502.3L1341.0,505.8L1343.4,509.3L1345.7,512.8L1347.9,516.4L1350.0,520.0L1352.1,523.6L1354.0,527.3L1355.9,531.0L1357.7,534.7L1359.4,538.4L1361.0,542.2L1362.5,546.1L1364.0,550.0L1365.4,554.1L1366.6,558.3L1367.8,562.7L1368.9,567.1L1369.9,571.4L1370.9,575.6L1372.0,579.5L1373.0,583.0L1374.1,586.2L1375.2,589.1L1376.4,591.8L1377.5,594.2L1378.6,596.6L1379.5,598.8L1380.3,600.9L1381.0,603.0L1381.5,605.0L1381.9,606.7L1382.2,608.4L1382.3,609.9L1382.4,611.4L1382.3,612.9L1382.2,614.4L1382.0,616.0L1381.7,617.7L1381.3,619.3L1380.8,621.1L1380.2,622.8L1379.6,624.4L1378.8,626.0L1378.0,627.6L1377.0,629.0L1375.9,630.4L1374.8,631.7L1373.5,632.9L1372.2,634.1L1370.8,635.2L1369.2,636.3L1367.7,637.2L1366.0,638.0L1364.1,638.7L1362.0,639.2L1359.7,639.7L1357.3,640.1L1355.0,640.4L1353.0,640.6L1351.3,640.8L1350.0,641.0" fill="none" stroke="#111" stroke-width="1.5"/>
<path d="M1318.0,535.0L1318.9,536.9L1320.1,539.3L1321.5,542.1L1323.1,545.3L1324.8,548.8L1326.5,552.5L1328.3,556.2L1330.0,560.0L1331.7,563.9L1333.6,568.1L1335.5,572.6L1337.4,577.1L1339.4,581.7L1341.3,586.3L1343.2,590.7L1345.0,595.0L1346.8,599.3L1348.7,603.8L1350.6,608.3L1352.4,612.7L1354.2,616.8L1355.7,620.5L1357.0,623.6L1358.0,626.0" fill="none" stroke="#222" stroke-width="0.7"/>
<path d="M1244.0,373.0L1246.0,373.6L1248.6,374.3L1251.7,375.2L1255.1,376.2L1258.8,377.4L1262.6,378.5L1266.4,379.8L1270.0,381.0L1273.6,382.3L1277.3,383.7L1281.2,385.1L1285.1,386.6L1288.9,388.2L1292.8,389.8L1296.5,391.4L1300.0,393.0L1303.4,394.6L1306.6,396.3L1309.8,398.0L1312.9,399.7L1316.0,401.4L1319.0,403.2L1322.0,405.1L1325.0,407.0L1328.1,409.1L1331.4,411.4L1334.8,413.9L1338.1,416.4L1341.1,418.7L1343.9,420.9L1346.2,422.7L1348.0,424.0M1226.0,433.0L1227.9,433.5L1230.4,434.2L1233.3,435.0L1236.6,435.9L1240.1,436.9L1243.6,437.9L1246.9,439.0L1250.0,440.0L1252.8,441.0L1255.6,442.1L1258.4,443.1L1261.1,444.2L1263.8,445.4L1266.5,446.6L1269.3,447.8L1272.0,449.0L1274.8,450.3L1277.5,451.6L1280.3,452.9L1283.1,454.3L1285.9,455.7L1288.6,457.1L1291.3,458.6L1294.0,460.0L1296.7,461.5L1299.6,463.2L1302.5,465.0L1305.4,466.7L1308.1,468.3L1310.5,469.8L1312.5,471.1L1314.0,472.0" fill="none" stroke="#111" stroke-width="1.2"/>
<path d="M1244,373L1226,433M1348,424L1314,472" fill="none" stroke="#111" stroke-width="1.0"/>
<path d="M1239.5,388.0L1241.5,388.6L1244.0,389.3L1247.1,390.2L1250.5,391.2L1254.1,392.2L1257.9,393.4L1261.5,394.6L1265.0,395.8L1268.4,397.0L1271.9,398.3L1275.5,399.6L1279.1,401.0L1282.7,402.5L1286.2,404.0L1289.7,405.5L1293.0,407.0L1296.2,408.5L1299.4,410.1L1302.5,411.7L1305.5,413.3L1308.5,415.0L1311.4,416.7L1314.3,418.5L1317.2,420.2L1320.3,422.2L1323.5,424.4L1326.7,426.7L1329.9,429.0L1332.9,431.1L1335.5,433.1L1337.8,434.8L1339.5,436.0M1235.0,403.0L1236.9,403.6L1239.5,404.3L1242.5,405.1L1245.9,406.1L1249.5,407.1L1253.1,408.2L1256.7,409.4L1260.0,410.5L1263.2,411.7L1266.5,412.9L1269.8,414.1L1273.1,415.4L1276.4,416.8L1279.7,418.2L1282.9,419.6L1286.0,421.0L1289.1,422.5L1292.1,423.9L1295.1,425.5L1298.0,427.0L1300.9,428.6L1303.8,430.2L1306.7,431.8L1309.5,433.5L1312.4,435.3L1315.5,437.3L1318.7,439.4L1321.7,441.5L1324.6,443.5L1327.2,445.3L1329.4,446.9L1331.0,448.0M1230.5,418.0L1232.4,418.5L1234.9,419.2L1237.9,420.1L1241.2,421.0L1244.8,422.0L1248.3,423.1L1251.8,424.2L1255.0,425.2L1258.0,426.3L1261.1,427.5L1264.1,428.6L1267.1,429.8L1270.1,431.1L1273.1,432.4L1276.1,433.7L1279.0,435.0L1281.9,436.4L1284.8,437.8L1287.7,439.2L1290.6,440.7L1293.4,442.1L1296.2,443.7L1299.0,445.2L1301.8,446.8L1304.6,448.4L1307.6,450.3L1310.6,452.2L1313.5,454.1L1316.3,455.9L1318.8,457.6L1320.9,459.0L1322.5,460.0" fill="none" stroke="#111" stroke-width="0.9"/>
<path d="M1244.0,373.0L1226.0,433.0M1246.0,373.6L1227.9,433.5M1248.6,374.3L1230.4,434.2M1251.7,375.2L1233.3,435.0M1255.1,376.2L1236.6,435.9M1258.8,377.4L1240.1,436.9M1266.4,379.8L1246.9,439.0M1270.0,381.0L1250.0,440.0M1322.0,405.1L1291.3,458.6M1325.0,407.0L1294.0,460.0M1331.4,411.4L1299.6,463.2M1334.8,413.9L1302.5,465.0M1338.1,416.4L1305.4,466.7M1341.1,418.7L1308.1,468.3M1343.9,420.9L1310.5,469.8M1348.0,424.0L1314.0,472.0" fill="none" stroke="#111" stroke-width="0.7"/>
<path d="M1330,494L1322,522L1340,531M1330,494Q1348,502 1356,516" fill="none" stroke="#111" stroke-width="1.0"/>
<path d="M1328.0,500.0L1348.4,508.0M1327.1,503.0L1349.5,511.7M1326.3,506.0L1350.7,515.4M1325.4,509.0L1351.0,518.8M1324.6,511.9L1348.2,521.1M1323.7,514.9L1345.3,523.4M1322.9,517.9L1342.5,525.6M1322.0,520.9L1339.6,527.9" fill="none" stroke="#111" stroke-width="0.7"/>
<path d="M1520.6,611.0L1519.3,612.2L1517.5,613.8L1515.3,615.7L1513.0,617.9L1510.5,620.2L1508.1,622.7L1505.9,625.3L1504.0,628.0L1502.3,630.8L1500.6,634.0L1499.1,637.3L1497.6,640.7L1496.2,644.1L1495.0,647.6L1493.9,650.9L1493.0,654.0L1492.3,656.9L1491.7,659.7L1491.3,662.5L1491.1,665.1L1490.9,667.8L1490.9,670.5L1490.9,673.2L1491.0,676.0L1491.2,678.9L1491.4,681.9L1491.8,684.9L1492.2,687.9L1492.7,690.9L1493.4,694.0L1494.1,697.0L1495.0,700.0L1496.0,703.0L1497.0,706.0L1498.2,709.1L1499.5,712.1L1500.9,715.1L1502.5,718.1L1504.1,721.1L1506.0,724.0L1508.0,726.9L1510.3,729.8L1512.7,732.7L1515.2,735.6L1517.8,738.4L1520.5,741.1L1523.2,743.6L1526.0,746.0L1528.8,748.2L1531.8,750.2L1534.8,752.1L1537.9,753.9L1541.0,755.6L1544.0,757.2L1547.1,758.6L1550.0,760.0L1553.0,761.3L1556.2,762.4L1559.4,763.4L1562.5,764.4L1565.4,765.2L1568.1,765.9L1570.3,766.5L1572.0,767.0" fill="none" stroke="#777" stroke-width="2.2"/>
<path d="M1520.6,611.0L1519.3,612.2L1517.5,613.8L1515.3,615.7L1513.0,617.9L1510.5,620.2L1508.1,622.7L1505.9,625.3L1504.0,628.0L1502.3,630.8L1500.6,634.0L1499.1,637.3L1497.6,640.7L1496.2,644.1L1495.0,647.6L1493.9,650.9L1493.0,654.0L1492.3,656.9L1491.7,659.7L1491.3,662.5L1491.1,665.1L1490.9,667.8L1490.9,670.5L1490.9,673.2L1491.0,676.0L1491.2,678.9L1491.4,681.9L1491.8,684.9L1492.2,687.9L1492.7,690.9L1493.4,694.0L1494.1,697.0L1495.0,700.0L1496.0,703.0L1497.0,706.0L1498.2,709.1L1499.5,712.1L1500.9,715.1L1502.5,718.1L1504.1,721.1L1506.0,724.0L1508.0,726.9L1510.3,729.8L1512.7,732.7L1515.2,735.6L1517.8,738.4L1520.5,741.1L1523.2,743.6L1526.0,746.0L1528.8,748.2L1531.8,750.2L1534.8,752.1L1537.9,753.9L1541.0,755.6L1544.0,757.2L1547.1,758.6L1550.0,760.0L1553.0,761.3L1556.2,762.4L1559.4,763.4L1562.5,764.4L1565.4,765.2L1568.1,765.9L1570.3,766.5L1572.0,767.0" fill="none" stroke="#fff" stroke-width="0.8"/>
<path d="M1505,634L1531,639L1572,765" fill="none" stroke="#222" stroke-width="0.7"/>
<path d="M1360.0,685.0L1362.4,685.5L1365.6,686.0L1369.4,686.5L1373.6,687.2L1378.0,688.1L1382.4,689.2L1386.4,690.5L1390.0,692.0L1393.2,693.9L1396.3,696.0L1399.4,698.5L1402.2,701.1L1405.0,703.8L1407.5,706.6L1409.9,709.3L1412.0,712.0L1413.9,714.7L1415.5,717.5L1417.0,720.3L1418.2,723.1L1419.4,726.0L1420.3,728.7L1421.2,731.4L1422.0,734.0L1422.7,736.4L1423.2,738.6L1423.6,740.8L1423.9,742.9L1424.0,745.0L1424.1,747.2L1424.1,749.5L1424.0,752.0L1423.9,754.7L1423.7,757.6L1423.5,760.6L1423.1,763.6L1422.6,766.7L1422.0,769.9L1421.1,773.0L1420.0,776.0L1418.6,779.1L1417.0,782.2L1415.2,785.4L1413.2,788.5L1411.1,791.6L1408.8,794.6L1406.5,797.4L1404.0,800.0L1401.4,802.4L1398.5,804.7L1395.5,806.8L1392.4,808.9L1389.2,810.8L1386.0,812.6L1383.0,814.3L1380.0,816.0L1377.0,817.6L1373.8,819.2L1370.6,820.6L1367.5,822.0L1364.6,823.2L1361.9,824.3L1359.7,825.3L1358.0,826.0" fill="none" stroke="#777" stroke-width="2.2"/>
<path d="M1360.0,685.0L1362.4,685.5L1365.6,686.0L1369.4,686.5L1373.6,687.2L1378.0,688.1L1382.4,689.2L1386.4,690.5L1390.0,692.0L1393.2,693.9L1396.3,696.0L1399.4,698.5L1402.2,701.1L1405.0,703.8L1407.5,706.6L1409.9,709.3L1412.0,712.0L1413.9,714.7L1415.5,717.5L1417.0,720.3L1418.2,723.1L1419.4,726.0L1420.3,728.7L1421.2,731.4L1422.0,734.0L1422.7,736.4L1423.2,738.6L1423.6,740.8L1423.9,742.9L1424.0,745.0L1424.1,747.2L1424.1,749.5L1424.0,752.0L1423.9,754.7L1423.7,757.6L1423.5,760.6L1423.1,763.6L1422.6,766.7L1422.0,769.9L1421.1,773.0L1420.0,776.0L1418.6,779.1L1417.0,782.2L1415.2,785.4L1413.2,788.5L1411.1,791.6L1408.8,794.6L1406.5,797.4L1404.0,800.0L1401.4,802.4L1398.5,804.7L1395.5,806.8L1392.4,808.9L1389.2,810.8L1386.0,812.6L1383.0,814.3L1380.0,816.0L1377.0,817.6L1373.8,819.2L1370.6,820.6L1367.5,822.0L1364.6,823.2L1361.9,824.3L1359.7,825.3L1358.0,826.0" fill="none" stroke="#fff" stroke-width="0.8"/>
<path d="M1360,688L1396,709L1403,800" fill="none" stroke="#222" stroke-width="0.7"/>
<path d="M550,617L618,629L627,852" fill="none" stroke="#222" stroke-width="0.7"/>
<path d="M890,640L886,852" fill="none" stroke="#333" stroke-width="0.8" stroke-dasharray="14 4"/>
<path d="M896,634L892,856" fill="none" stroke="#333" stroke-width="0.5"/>
<path d="M1206.2,567.8L1259.5,548.7M1209.9,569.8L1264.3,551.9M1214.4,572.3L1269.2,555.2M1218.8,574.9L1274.1,558.5M1222.3,577.1L1278.2,561.2M1226.6,579.9L1283.1,564.4M1230.7,582.9L1288.0,567.7M1234.1,585.6L1292.5,571.3M1237.9,589.0L1296.8,575.3M1241.6,592.5L1300.7,579.7M1244.6,595.5L1304.1,584.4M1248.1,599.2L1307.3,589.3M1251.6,602.9L1310.0,593.5M1254.4,606.0L1312.8,598.5M1257.8,609.8L1315.6,603.7M1261.1,613.6L1318.3,608.9M1263.8,617.0L1320.9,614.0" fill="none" stroke="#111" stroke-width="0.8"/><path d="M1237.1,560.9L1241.8,563.8L1246.5,566.7L1250.3,569.1L1254.9,572.1L1259.4,575.3L1263.3,578.4L1267.4,582.1L1271.2,586.1L1274.4,589.9L1277.7,594.3L1280.8,598.2L1283.6,602.3L1286.7,606.7" fill="none" stroke="#111" stroke-width="3.6" stroke-linecap="square"/><path d="M1237.1,560.9L1241.8,563.8L1246.5,566.7L1250.3,569.1L1254.9,572.1L1259.4,575.3L1263.3,578.4L1267.4,582.1L1271.2,586.1L1274.4,589.9L1277.7,594.3L1280.8,598.2L1283.6,602.3L1286.7,606.7" fill="none" stroke="#fff" stroke-width="1.8"/>
<path d="M1192.6,946.2L1241.3,976.0M1196.6,945.1L1246.1,972.8M1201.5,943.8L1250.8,969.3M1206.4,942.2L1255.4,965.7M1210.3,940.6L1259.8,962.0M1214.9,938.5L1264.2,958.2M1219.3,935.9L1268.6,954.3M1223.5,933.0L1273.0,950.3M1226.8,930.3L1277.2,946.3M1230.6,926.8L1281.4,942.2M1234.2,923.2L1285.5,938.0M1237.2,920.1L1289.5,933.8M1240.7,916.3L1293.5,929.4M1244.1,912.5L1297.3,924.9M1247.6,908.6L1301.5,919.6M1250.5,905.5L1305.0,915.0M1254.0,901.7L1308.3,910.2" fill="none" stroke="#111" stroke-width="0.8"/><path d="M1221.4,958.9L1226.2,956.5L1230.9,954.0L1235.0,951.3L1239.6,948.4L1244.0,945.1L1248.2,941.6L1252.0,938.3L1256.0,934.5L1259.9,930.6L1263.3,927.0L1267.1,922.9L1270.7,918.7L1274.6,914.1" fill="none" stroke="#111" stroke-width="3.6" stroke-linecap="square"/><path d="M1221.4,958.9L1226.2,956.5L1230.9,954.0L1235.0,951.3L1239.6,948.4L1244.0,945.1L1248.2,941.6L1252.0,938.3L1256.0,934.5L1259.9,930.6L1263.3,927.0L1267.1,922.9L1270.7,918.7L1274.6,914.1" fill="none" stroke="#fff" stroke-width="1.8"/>
<g fill="#e9e9eb" stroke="#333" stroke-width="0.6" transform="rotate(2.0 383.0 832.0)"><rect x="383.0" y="832.0" width="11.8" height="17.0"/><path d="M385.5,840.5h6.6" stroke="#111" stroke-width="0.9"/><rect x="386.1" y="825.0" width="6.5" height="5.5" rx="2.4" transform="rotate(0.0 389.3 827.8)"/><rect x="386.1" y="850.5" width="6.5" height="5.5" rx="2.4" transform="rotate(0.0 389.3 853.2)"/><rect x="395.6" y="832.0" width="11.8" height="17.0"/><path d="M398.1,840.5h6.6" stroke="#111" stroke-width="0.9"/><rect x="398.7" y="825.0" width="6.5" height="5.5" rx="2.4" transform="rotate(0.0 401.9 827.8)"/><rect x="398.7" y="850.5" width="6.5" height="5.5" rx="2.4" transform="rotate(0.0 401.9 853.2)"/><rect x="408.2" y="832.0" width="11.8" height="17.0"/><path d="M410.7,840.5h6.6" stroke="#111" stroke-width="0.9"/><rect x="411.2" y="825.0" width="6.5" height="5.5" rx="2.4" transform="rotate(0.0 414.5 827.8)"/><rect x="411.2" y="850.5" width="6.5" height="5.5" rx="2.4" transform="rotate(0.0 414.5 853.2)"/><rect x="420.8" y="832.0" width="11.8" height="17.0"/><path d="M423.3,840.5h6.6" stroke="#111" stroke-width="0.9"/><rect x="423.9" y="825.0" width="6.5" height="5.5" rx="2.4" transform="rotate(0.0 427.1 827.8)"/><rect x="423.9" y="850.5" width="6.5" height="5.5" rx="2.4" transform="rotate(0.0 427.1 853.2)"/><rect x="433.4" y="832.0" width="11.8" height="17.0"/><path d="M435.9,840.5h6.6" stroke="#111" stroke-width="0.9"/><rect x="436.4" y="825.0" width="6.5" height="5.5" rx="2.4" transform="rotate(0.0 439.7 827.8)"/><rect x="436.4" y="850.5" width="6.5" height="5.5" rx="2.4" transform="rotate(0.0 439.7 853.2)"/></g>
<g fill="#e9e9eb" stroke="#333" stroke-width="0.6" transform="rotate(2.0 397.0 886.0)"><rect x="397.0" y="886.0" width="11.8" height="8.0"/><path d="M399.5,890.0h6.6" stroke="#111" stroke-width="0.9"/><rect x="400.1" y="895.5" width="6.5" height="5.5" rx="2.4" transform="rotate(0.0 403.3 898.2)"/><rect x="409.6" y="886.0" width="11.8" height="8.0"/><path d="M412.1,890.0h6.6" stroke="#111" stroke-width="0.9"/><rect x="412.7" y="895.5" width="6.5" height="5.5" rx="2.4" transform="rotate(0.0 415.9 898.2)"/><rect x="422.2" y="886.0" width="11.8" height="8.0"/><path d="M424.7,890.0h6.6" stroke="#111" stroke-width="0.9"/><rect x="425.2" y="895.5" width="6.5" height="5.5" rx="2.4" transform="rotate(0.0 428.5 898.2)"/></g>
<g fill="#e9e9eb" stroke="#333" stroke-width="0.6" transform="rotate(2.0 416.0 931.0)"><rect x="416.0" y="931.0" width="11.4" height="18.0"/><path d="M418.5,940.0h6.2" stroke="#111" stroke-width="0.9"/><rect x="418.9" y="924.0" width="6.5" height="5.5" rx="2.4" transform="rotate(0.0 422.1 926.8)"/><rect x="418.9" y="950.5" width="6.5" height="5.5" rx="2.4" transform="rotate(0.0 422.1 953.2)"/><rect x="428.2" y="931.0" width="11.4" height="18.0"/><path d="M430.7,940.0h6.2" stroke="#111" stroke-width="0.9"/><rect x="431.1" y="924.0" width="6.5" height="5.5" rx="2.4" transform="rotate(0.0 434.3 926.8)"/><rect x="431.1" y="950.5" width="6.5" height="5.5" rx="2.4" transform="rotate(0.0 434.3 953.2)"/><rect x="440.4" y="931.0" width="11.4" height="18.0"/><path d="M442.9,940.0h6.2" stroke="#111" stroke-width="0.9"/><rect x="443.2" y="924.0" width="6.5" height="5.5" rx="2.4" transform="rotate(0.0 446.5 926.8)"/><rect x="443.2" y="950.5" width="6.5" height="5.5" rx="2.4" transform="rotate(0.0 446.5 953.2)"/></g>
<g fill="#e9e9eb" stroke="#333" stroke-width="0.6"><rect x="475.5" y="959.5" width="8" height="11"/><rect x="468.8" y="961.8" width="5.5" height="6.5" rx="2.4" transform="rotate(0.0 471.5 965.0)"/><rect x="475.1" y="972.1" width="8" height="11"/><rect x="468.4" y="974.4" width="5.5" height="6.5" rx="2.4" transform="rotate(0.0 471.1 977.6)"/><rect x="474.7" y="984.7" width="8" height="11"/><rect x="467.9" y="987.0" width="5.5" height="6.5" rx="2.4" transform="rotate(0.0 470.7 990.2)"/><rect x="474.3" y="997.3" width="8" height="11"/><rect x="467.6" y="999.5" width="5.5" height="6.5" rx="2.4" transform="rotate(0.0 470.3 1002.8)"/><rect x="473.9" y="1009.9" width="8" height="11"/><rect x="467.1" y="1012.1" width="5.5" height="6.5" rx="2.4" transform="rotate(0.0 469.9 1015.4)"/></g>
<path d="M408,874L460,876.5M408,879L460,881.5" stroke="#333" stroke-width="1" fill="none"/>
<path d="M409.0,873.5l0.4,7M411.9,873.6l0.4,7M414.8,873.8l0.4,7M417.7,873.9l0.4,7M420.6,874.1l0.4,7M423.5,874.2l0.4,7M426.4,874.3l0.4,7M429.3,874.5l0.4,7M432.2,874.6l0.4,7M435.1,874.8l0.4,7M438.0,874.9l0.4,7M440.9,875.0l0.4,7M443.8,875.2l0.4,7M446.7,875.3l0.4,7M449.6,875.5l0.4,7M452.5,875.6l0.4,7M455.4,875.7l0.4,7M458.3,875.9l0.4,7" stroke="#222" stroke-width="1.1" fill="none"/>
<path d="M424,974L458,1012M429,969.5L463,1007.5" stroke="#333" stroke-width="0.8" fill="none"/><path d="M424.0,974.0l5.5,-4.5M426.1,976.4l5.5,-4.5M428.2,978.8l5.5,-4.5M430.4,981.1l5.5,-4.5M432.5,983.5l5.5,-4.5M434.6,985.9l5.5,-4.5M436.8,988.2l5.5,-4.5M438.9,990.6l5.5,-4.5M441.0,993.0l5.5,-4.5M443.1,995.4l5.5,-4.5M445.2,997.8l5.5,-4.5M447.4,1000.1l5.5,-4.5M449.5,1002.5l5.5,-4.5M451.6,1004.9l5.5,-4.5M453.8,1007.2l5.5,-4.5M455.9,1009.6l5.5,-4.5M458.0,1012.0l5.5,-4.5" stroke="#222" stroke-width="1.0" fill="none"/>
<g transform="rotate(2.0 1443.2 871.0)"><rect x="1425.5" y="857.0" width="35.5" height="28.0" fill="#ececee" stroke="#555" stroke-width="0.7"/><rect x="1428.0" y="859.5" width="30.5" height="23.0" fill="none" stroke="#777" stroke-width="0.5"/></g>
<g transform="rotate(2.0 1485.2 872.5)"><rect x="1468.0" y="858.5" width="34.5" height="28.0" fill="#ececee" stroke="#555" stroke-width="0.7"/><rect x="1470.5" y="861.0" width="29.5" height="23.0" fill="none" stroke="#777" stroke-width="0.5"/></g>
<g transform="rotate(2.0 1526.8 874.0)"><rect x="1509.5" y="860.0" width="34.5" height="28.0" fill="#ececee" stroke="#555" stroke-width="0.7"/><rect x="1512.0" y="862.5" width="29.5" height="23.0" fill="none" stroke="#777" stroke-width="0.5"/></g>
<g transform="rotate(2.0 1438.5 909.5)"><rect x="1423.5" y="893.5" width="30.0" height="32.0" fill="#ececee" stroke="#555" stroke-width="0.7"/><rect x="1426.0" y="896.0" width="25.0" height="27.0" fill="none" stroke="#777" stroke-width="0.5"/></g>
<g transform="rotate(2.0 1437.0 947.5)"><rect x="1422.0" y="931.5" width="30.0" height="32.0" fill="#ececee" stroke="#555" stroke-width="0.7"/><rect x="1424.5" y="934.0" width="25.0" height="27.0" fill="none" stroke="#777" stroke-width="0.5"/></g>
<g transform="rotate(2.0 1435.5 983.5)"><rect x="1420.5" y="969.5" width="30.0" height="28.0" fill="#ececee" stroke="#555" stroke-width="0.7"/><rect x="1423.0" y="972.0" width="25.0" height="23.0" fill="none" stroke="#777" stroke-width="0.5"/></g>
<g transform="rotate(2.0 618.8 583.0)"><rect x="604.5" y="567.0" width="28.5" height="32.0" fill="#ececee" stroke="#555" stroke-width="0.7"/><rect x="607.0" y="569.5" width="23.5" height="27.0" fill="none" stroke="#777" stroke-width="0.5"/></g>
<g transform="rotate(2.0 605.5 927.8)"><rect x="590.5" y="913.5" width="30.0" height="28.5" fill="#ececee" stroke="#555" stroke-width="0.7"/><rect x="593.0" y="916.0" width="25.0" height="23.5" fill="none" stroke="#777" stroke-width="0.5"/></g>
<g transform="rotate(2.0 993.5 952.0)"><rect x="979.0" y="940.0" width="29.0" height="24.0" fill="#ececee" stroke="#555" stroke-width="0.7"/><rect x="981.5" y="942.5" width="24.0" height="19.0" fill="none" stroke="#777" stroke-width="0.5"/></g>
<g transform="rotate(2.0 1359.0 976.5)"><rect x="1345.0" y="966.0" width="28.0" height="21.0" fill="#ececee" stroke="#555" stroke-width="0.7"/><rect x="1347.5" y="968.5" width="23.0" height="16.0" fill="none" stroke="#777" stroke-width="0.5"/></g>
<path d="M1434.0,888.5h18M1477.0,890.0h18M1518.0,891.5h18M1456.5,901.0v16M1455.0,939.0v16M1453.5,976.0v16" stroke="#666" stroke-width="2.2" fill="none" stroke-linecap="round"/>
<path d="M529.5,960.0L528.9,979.0M533.1,960.1L532.5,979.1M536.7,960.2L536.1,979.2M540.3,960.4L539.7,979.4M543.9,960.5L543.3,979.5M547.5,960.6L546.9,979.6M551.1,960.7L550.5,979.7M554.7,960.8L554.1,979.8M558.3,961.0L557.7,980.0" stroke="#222" stroke-width="0.7" fill="none"/>
<path d="M1320,808.0L1332,808.4M1320,811.2L1332,811.6M1320,814.4L1332,814.8M1320,817.6L1332,818.0M1320,820.8L1332,821.2M1320,824.0L1332,824.4" stroke="#222" stroke-width="0.7" fill="none"/>
<path d="M496.0,731.0L506.5,731.9A10.5,10.5 0 0 1 495.1,741.5M495.0,752.0L505.5,751.1A10.5,10.5 0 0 0 494.1,741.5M490.0,838.0L500.0,838.9A10.0,10.0 0 0 1 489.1,848.0M489.0,859.0L499.0,858.1A10.0,10.0 0 0 0 488.1,849.0M488.0,925.0L499.0,926.0A11.0,11.0 0 0 1 487.0,936.0M488.0,947.0L499.0,946.0A11.0,11.0 0 0 0 487.0,936.0M777.0,463.0L767.0,463.0A10.0,10.0 0 0 0 776.1,473.0M777.0,485.0L767.0,485.0A10.0,10.0 0 0 1 776.1,475.0M974.0,459.0L984.0,459.9A10.0,10.0 0 0 1 973.1,469.0M974.0,478.0L984.0,477.1A10.0,10.0 0 0 0 973.1,468.0M1001.0,444.0L1001.0,453.0A9.0,9.0 0 0 0 1010.0,444.8M1019.0,444.0L1019.0,453.0A9.0,9.0 0 0 1 1010.0,444.8M1330.0,646.0L1319.0,647.0A11.0,11.0 0 0 0 1329.0,657.0M1306.0,644.0L1317.0,645.0A11.0,11.0 0 0 1 1307.0,655.0M1278.0,877.0L1289.0,876.0A11.0,11.0 0 0 0 1279.0,866.0M1318.0,878.0L1307.0,877.0A11.0,11.0 0 0 1 1317.0,867.0M1300.0,680.0L1311.8,677.9A12.0,12.0 0 0 0 1300.0,668.0M1344.0,682.0L1332.2,679.9A12.0,12.0 0 0 1 1344.0,670.0M1298.0,841.0L1309.8,843.1A12.0,12.0 0 0 1 1298.0,853.0M1342.0,843.0L1330.2,845.1A12.0,12.0 0 0 0 1342.0,855.0M1050.0,531.0L1060.0,531.0A10.0,10.0 0 0 0 1050.0,521.0M1064.0,532.0L1054.0,532.0A10.0,10.0 0 0 1 1064.0,522.0M1390.0,866.0L1399.4,869.4A10.0,10.0 0 0 1 1388.3,875.8M1404.0,856.0L1394.6,852.6A10.0,10.0 0 0 0 1400.6,865.4M534.0,563.0L534.8,554.0A9.0,9.0 0 0 1 543.0,563.0M534.0,583.0L534.8,592.0A9.0,9.0 0 0 0 543.0,583.0M1017.0,1030.0L1006.2,1031.9A11.0,11.0 0 0 0 1015.1,1040.8M1031.0,1030.0L1041.8,1031.9A11.0,11.0 0 0 1 1032.9,1040.8M1330.0,940.0L1336.9,945.8A9.0,9.0 0 0 1 1324.2,946.9M1315.0,930.0L1308.1,924.2A9.0,9.0 0 0 0 1309.2,936.9" stroke="#333" stroke-width="0.55" fill="none"/>
<path d="M1087.4,657.1L1089.6,670.2M1094.3,656.1L1096.6,669.4M1101.3,655.1L1103.6,668.6M1108.2,654.2L1110.5,667.8M1115.1,653.2L1117.5,667.0M1122.1,652.2L1124.5,666.2M1129.0,651.2L1131.4,665.5M1136.0,650.3L1138.4,664.7M1142.9,649.3L1145.4,664.0M1149.9,648.4L1152.3,663.3M1156.8,647.5L1159.3,662.6M1163.8,646.6L1166.3,661.8M1170.7,645.7L1173.2,661.1M1177.6,644.8L1180.2,660.5M1184.6,643.9L1187.2,659.8M1191.6,643.0L1194.2,659.1M1198.5,642.1L1201.1,658.4M1205.5,641.2L1208.1,657.8M1212.4,640.4L1215.1,657.1M1219.4,639.5L1222.1,656.5M1226.3,638.7L1229.1,655.8M1233.3,637.9L1236.0,655.2M1240.3,637.1L1243.0,654.6M1247.2,636.2L1250.0,654.0M1254.2,635.4L1257.0,653.4M1084.5,835.3L1081.4,848.2M1091.2,837.1L1088.1,850.2M1098.0,838.9L1094.8,852.2M1104.8,840.7L1101.5,854.2M1111.5,842.5L1108.3,856.2M1118.3,844.4L1115.0,858.2M1125.1,846.2L1121.7,860.3M1131.8,848.1L1128.4,862.3M1138.6,849.9L1135.1,864.4M1145.3,851.8L1141.8,866.4M1152.1,853.7L1148.5,868.5M1158.8,855.5L1155.1,870.6M1165.6,857.4L1161.8,872.7M1172.3,859.3L1168.5,874.8M1179.1,861.2L1175.2,876.9M1185.8,863.2L1181.9,879.0M1192.5,865.1L1188.6,881.1M1199.3,867.0L1195.2,883.3M1206.0,869.0L1201.9,885.4M1212.7,870.9L1208.6,887.5M1219.5,872.9L1215.3,889.7M1226.2,874.8L1221.9,891.9M1232.9,876.8L1228.6,894.0M1239.7,878.8L1235.2,896.2M1246.4,880.8L1241.9,898.4M989.8,665.5L992.0,676.2M996.8,664.6L999.0,675.5M1003.8,663.6L1005.9,674.7M1010.7,662.7L1012.9,674.0M1017.7,661.8L1019.9,673.3M1024.6,660.9L1026.9,672.7M1031.6,660.0L1033.9,672.0M1038.6,659.2L1040.9,671.4M1045.6,658.3L1047.9,670.8M1052.5,657.5L1054.9,670.2M1059.5,656.7L1061.9,669.6M987.7,821.9L984.9,832.5M994.3,824.1L991.5,834.9M1001.0,826.3L998.1,837.3M1007.7,828.5L1004.7,839.7M1014.3,830.8L1011.3,842.2M1021.0,833.0L1017.8,844.6M1027.6,835.3L1024.4,847.1M1034.3,837.6L1031.0,849.6M1040.9,839.9L1037.5,852.1M1047.5,842.2L1044.1,854.7M1054.1,844.6L1050.6,857.2" stroke="#555" stroke-width="0.45" fill="none"/>
<path d="M932.0,620.0L938.0,639.5M928.0,872.0L935.0,852.5M936.8,615.4L943.4,635.1M932.8,876.6L940.4,856.9M941.6,610.8L948.8,630.7M937.6,881.2L945.8,861.3M946.4,606.2L954.2,626.3M942.4,885.8L951.2,865.7M951.2,601.6L959.6,621.9M947.2,890.4L956.6,870.1M956.0,597.0L965.0,617.5M952.0,895.0L962.0,874.5M960.8,592.4L970.4,613.1M956.8,899.6L967.4,878.9" stroke="#333" stroke-width="0.6" fill="none"/>
<path d="M1283,682Q1288,760 1279,838" stroke="#777" stroke-width="0.7" fill="none"/>
<path d="M1286.5,684Q1291,760 1282.5,838" stroke="#333" stroke-width="1.2" fill="none"/>
<rect x="1429" y="903" width="10" height="10" fill="none" stroke="#666" stroke-width="0.5" transform="rotate(2 1434 908)"/>
<circle cx="553.0" cy="487.0" r="6.0" fill="#000"/>
<circle cx="453.6" cy="610.4" r="6.0" fill="#000"/>
<circle cx="405.4" cy="745.0" r="6.0" fill="#000"/>
<circle cx="386.0" cy="856.0" r="6.0" fill="#000"/>
<circle cx="409.2" cy="939.4" r="6.0" fill="#000"/>
<circle cx="480.0" cy="1029.6" r="6.0" fill="#000"/>
<circle cx="620.4" cy="1080.0" r="6.0" fill="#000"/>
<circle cx="752.0" cy="1086.0" r="6.0" fill="#000"/>
<circle cx="644.1" cy="418.6" r="6.2" fill="#000"/>
<circle cx="779.3" cy="355.8" r="6.2" fill="#000"/>
<circle cx="913.2" cy="328.0" r="6.0" fill="#000"/>
<circle cx="1033.2" cy="330.0" r="6.0" fill="#000"/>
<circle cx="1158.4" cy="351.4" r="6.0" fill="#000"/>
<circle cx="1301.0" cy="403.0" r="6.0" fill="#000"/>
<circle cx="1424.0" cy="490.0" r="6.0" fill="#000"/>
<circle cx="1478.6" cy="637.6" r="6.0" fill="#000"/>
<circle cx="1520.6" cy="607.6" r="4.5" fill="#000"/>
<circle cx="1523.6" cy="768.0" r="6.0" fill="#000"/>
<circle cx="1581.6" cy="772.6" r="4.5" fill="#000"/>
<circle cx="1577.6" cy="897.6" r="4.5" fill="#000"/>
<circle cx="1371.0" cy="1087.0" r="4.5" fill="#000"/>
<circle cx="1255.4" cy="1078.0" r="4.5" fill="#000"/>
<circle cx="886.0" cy="1075.0" r="4.5" fill="#000"/>
<circle cx="1006.6" cy="1071.0" r="4.5" fill="#000"/>
<rect x="532.4" y="598.4" width="12.0" height="12.0" fill="#000" transform="rotate(2.0 538.4 604.4)"/>
<rect x="633.6" y="600.0" width="12.0" height="12.0" fill="#000" transform="rotate(2.0 639.6 606.0)"/>
<rect x="525.0" y="854.6" width="12.0" height="12.0" fill="#000" transform="rotate(2.0 531.0 860.6)"/>
<rect x="624.4" y="859.6" width="12.0" height="12.0" fill="#000" transform="rotate(2.0 630.4 865.6)"/>
<rect x="621.6" y="938.4" width="12.0" height="12.0" fill="#000" transform="rotate(2.0 627.6 944.4)"/>
<rect x="638.6" y="480.5" width="11.0" height="11.0" fill="#000" transform="rotate(2.0 644.1 486.0)"/>
<rect x="769.3" y="485.0" width="11.0" height="11.0" fill="#000" transform="rotate(2.0 774.8 490.5)"/>
<rect x="899.0" y="489.0" width="12.0" height="12.0" fill="#000" transform="rotate(2.0 905.0 495.0)"/>
<rect x="1021.0" y="493.5" width="12.0" height="12.0" fill="#000" transform="rotate(2.0 1027.0 499.5)"/>
<rect x="1019.4" y="547.0" width="12.0" height="18.0" fill="#000" transform="rotate(2.0 1025.4 556.0)"/>
<rect x="1141.0" y="497.6" width="12.0" height="12.0" fill="#000" transform="rotate(2.0 1147.0 503.6)"/>
<rect x="1139.6" y="539.0" width="12.0" height="18.0" fill="#000" transform="rotate(2.0 1145.6 548.0)"/>
<rect x="895.5" y="608.5" width="11.0" height="15.0" fill="#000" transform="rotate(2.0 901.0 616.0)"/>
<rect x="886.3" y="864.5" width="11.0" height="15.0" fill="#000" transform="rotate(2.0 891.8 872.0)"/>
<rect x="1223.6" y="518.0" width="12.0" height="12.0" fill="#000" transform="rotate(30.0 1229.6 524.0)"/>
<rect x="1203.6" y="562.0" width="12.0" height="12.0" fill="#000" transform="rotate(30.0 1209.6 568.0)"/>
<rect x="1312.0" y="595.0" width="12.0" height="12.0" fill="#000" transform="rotate(30.0 1318.0 601.0)"/>
<rect x="1264.5" y="616.5" width="11.0" height="11.0" fill="#000" transform="rotate(8.0 1270.0 622.0)"/>
<rect x="1344.0" y="755.0" width="12.0" height="14.0" fill="#000" transform="rotate(2.0 1350.0 762.0)"/>
<rect x="881.0" y="986.0" width="12.0" height="16.0" fill="#000" transform="rotate(2.0 887.0 994.0)"/>
<rect x="1005.0" y="935.0" width="12.0" height="18.0" fill="#000" transform="rotate(2.0 1011.0 944.0)"/>
<rect x="1003.0" y="994.0" width="12.0" height="12.0" fill="#000" transform="rotate(2.0 1009.0 1000.0)"/>
<rect x="1125.0" y="951.0" width="12.0" height="18.0" fill="#000" transform="rotate(2.0 1131.0 960.0)"/>
<rect x="1123.0" y="998.0" width="12.0" height="12.0" fill="#000" transform="rotate(2.0 1129.0 1004.0)"/>
<rect x="1189.0" y="939.0" width="12.0" height="12.0" fill="#000" transform="rotate(-28.0 1195.0 945.0)"/>
<rect x="1207.0" y="984.0" width="12.0" height="12.0" fill="#000" transform="rotate(-28.0 1213.0 990.0)"/>
<rect x="1258.1" y="888.9" width="11.0" height="11.0" fill="#000" transform="rotate(-8.0 1263.6 894.4)"/>
<rect x="1300.0" y="914.0" width="12.0" height="12.0" fill="#000" transform="rotate(-30.0 1306.0 920.0)"/>
<rect x="1374.0" y="883.0" width="12.0" height="12.0" fill="#000" transform="rotate(2.0 1380.0 889.0)"/>
<rect x="1370.0" y="995.0" width="12.0" height="12.0" fill="#000" transform="rotate(2.0 1376.0 1001.0)"/>
<rect x="1505.0" y="887.6" width="12.0" height="12.0" fill="#000" transform="rotate(2.0 1511.0 893.6)"/>
<rect x="1501.0" y="1000.0" width="12.0" height="12.0" fill="#000" transform="rotate(2.0 1507.0 1006.0)"/>
<rect x="1420.5" y="850.5" width="5.0" height="5.0" fill="#000" transform="rotate(2.0 1423.0 853.0)"/>
<rect x="1547.5" y="854.5" width="5.0" height="5.0" fill="#000" transform="rotate(2.0 1550.0 857.0)"/>
<rect x="1123.6" y="1069.6" width="6.0" height="6.0" fill="#000" transform="rotate(2.0 1126.6 1072.6)"/>
<defs><clipPath id="audclip"><path d="M890,640L906,629L920,624L934,610L946,596L964,585L992,574L1026,563L1060,557L1118,556L1160,559L1200,569L1230,580L1250,596L1268,620L1274,640L1288,646L1288,842L1263,876L1250,901L1220,927L1190,940L1150,946L1100,947L1040,943L1010,936L980,920L952,909L934,906L920,884L910,872L898,867L888,853Z"/></clipPath></defs>
<g clip-path="url(#audclip)"><path d="M900.7,627.4A274.4,274.4 0 0 1 893.4,865.7M913.3,621.8A288.2,288.2 0 0 1 905.6,872.1M925.9,616.2A302.0,302.0 0 0 1 917.9,878.4M938.5,610.6A315.8,315.8 0 0 1 930.1,884.8M965.3,598.6A345.1,345.1 0 0 1 956.1,898.3M977.5,593.2A358.5,358.5 0 0 1 968.0,904.5M989.7,587.7A371.9,371.9 0 0 1 979.9,910.7M1002.0,582.3A385.3,385.3 0 0 1 991.8,916.9M1014.2,576.8A398.7,398.7 0 0 1 1003.7,923.1M1026.5,571.4A412.1,412.1 0 0 1 1015.5,929.3M1054.2,559.1A442.4,442.4 0 0 1 1042.4,943.3M1066.8,553.4A456.2,456.2 0 0 1 1054.7,949.7M1079.4,547.8A470.1,470.1 0 0 1 1067.0,956.1M1092.1,542.2A483.9,483.9 0 0 1 1079.2,962.4M1104.7,536.5A497.8,497.8 0 0 1 1091.5,968.8M1117.4,530.9A511.6,511.6 0 0 1 1103.8,975.2M1130.0,525.3A525.4,525.4 0 0 1 1116.1,981.6M1142.7,519.7A539.3,539.3 0 0 1 1128.3,988.0M1155.3,514.0A553.1,553.1 0 0 1 1140.6,994.4M1167.9,508.4A567.0,567.0 0 0 1 1152.9,1000.8M1180.6,502.8A580.8,580.8 0 0 1 1165.2,1007.2M1193.2,497.1A594.6,594.6 0 0 1 1177.5,1013.6M1205.9,491.5A608.5,608.5 0 0 1 1189.7,1020.0M892.1,631.2A265.0,265.0 0 0 1 885.1,861.4M953.7,603.8A332.4,332.4 0 0 1 944.8,892.5M962.6,599.8A342.2,342.2 0 0 1 953.5,897.0M1041.6,564.6A428.7,428.7 0 0 1 1030.3,937.0M1051.0,560.4A439.0,439.0 0 0 1 1039.4,941.7M1221.0,484.8A625.1,625.1 0 0 1 1204.5,1027.6" fill="none" stroke="#666" stroke-width="0.45"/></g>
<path d="M1089.8,670.9A445.0,445.0 0 0 1 1084.6,834.9M1094.1,670.2A449.4,449.4 0 0 1 1088.8,835.8M1103.8,671.2A458.8,458.8 0 0 1 1098.6,835.5M1108.2,670.5A463.2,463.2 0 0 1 1102.9,836.4M1117.8,671.4A472.7,472.7 0 0 1 1112.6,836.1M1122.2,670.8A477.1,477.1 0 0 1 1116.9,837.0M1131.9,671.8A486.5,486.5 0 0 1 1126.6,836.7M1136.2,671.2A490.9,490.9 0 0 1 1130.9,837.5M1145.8,672.0A500.4,500.4 0 0 1 1140.6,837.4M1150.2,671.4A504.8,504.8 0 0 1 1144.9,838.3M1159.8,672.2A514.2,514.2 0 0 1 1154.6,838.0M1164.2,671.7A518.6,518.6 0 0 1 1158.9,838.8M1173.9,672.6A528.0,528.0 0 0 1 1168.6,838.5M1178.2,672.1A532.4,532.4 0 0 1 1172.9,839.3M1187.8,673.0A541.9,541.9 0 0 1 1182.5,839.2M1192.2,672.4A546.3,546.3 0 0 1 1186.9,840.1M1201.8,673.2A555.7,555.7 0 0 1 1196.5,839.7M1206.2,672.7A560.1,560.1 0 0 1 1200.8,840.5M1215.8,673.5A569.6,569.6 0 0 1 1210.5,840.4M1220.2,673.0A574.0,574.0 0 0 1 1214.8,841.2M1229.7,673.8A583.4,583.4 0 0 1 1224.4,840.9M1234.1,673.3A587.8,587.8 0 0 1 1228.8,841.7M1243.7,674.1A597.2,597.2 0 0 1 1238.3,841.7M1248.1,673.6A601.6,601.6 0 0 1 1242.7,842.4M1258.1,678.9A611.1,611.1 0 0 1 1253.0,837.8M1262.5,678.5A615.5,615.5 0 0 1 1257.4,838.5M992.4,678.3A347.7,347.7 0 0 1 988.2,819.6M996.7,677.6A352.1,352.1 0 0 1 992.5,820.6M1005.6,676.0A361.1,361.1 0 0 1 1001.3,822.7M1009.9,675.2A365.5,365.5 0 0 1 1005.5,823.7M1018.8,673.6A374.5,374.5 0 0 1 1014.3,825.8M1023.1,672.9A378.9,378.9 0 0 1 1018.6,826.8M1031.9,671.3A387.9,387.9 0 0 1 1027.3,828.9M1036.3,670.5A392.3,392.3 0 0 1 1031.6,829.9M1045.1,669.0A401.3,401.3 0 0 1 1040.4,832.0M1049.5,668.2A405.7,405.7 0 0 1 1044.7,833.0M1058.3,666.6A414.7,414.7 0 0 1 1053.4,835.1M1062.7,665.9A419.1,419.1 0 0 1 1057.7,836.1M923.5,695.2A277.0,277.0 0 0 1 920.8,797.1M927.9,694.5A281.4,281.4 0 0 1 925.1,798.0M936.9,691.7A290.8,290.8 0 0 1 934.0,801.4M941.3,691.0A295.2,295.2 0 0 1 938.3,802.4M950.3,688.0A304.6,304.6 0 0 1 947.1,806.0M954.6,687.3A309.0,309.0 0 0 1 951.4,806.9M963.7,684.3A318.4,318.4 0 0 1 960.2,810.6M968.0,683.5A322.8,322.8 0 0 1 964.5,811.6M927.5,652.0A290.8,290.8 0 0 1 933.9,676.1M931.7,650.7A295.2,295.2 0 0 1 938.2,675.1M929.5,819.4A290.8,290.8 0 0 1 921.6,843.0M933.7,820.7A295.2,295.2 0 0 1 925.7,844.6M938.3,640.8A304.6,304.6 0 0 1 947.3,672.6M942.5,639.4A309.0,309.0 0 0 1 951.6,671.6M942.6,823.8A304.6,304.6 0 0 1 931.7,854.9M946.8,825.0A309.0,309.0 0 0 1 935.8,856.6M949.4,630.6A318.4,318.4 0 0 1 961.0,670.6M953.5,629.1A322.8,322.8 0 0 1 965.3,669.7M956.1,826.5A318.4,318.4 0 0 1 942.1,865.8M960.4,827.8A322.8,322.8 0 0 1 946.1,867.5M971.9,607.6A347.7,347.7 0 0 1 988.4,659.0M976.0,606.0A352.1,352.1 0 0 1 992.7,658.0M982.8,839.8A347.7,347.7 0 0 1 963.1,890.1M987.0,841.1A352.1,352.1 0 0 1 967.1,892.0M983.4,600.2A361.1,361.1 0 0 1 1001.8,657.8M987.4,598.5A365.5,365.5 0 0 1 1006.1,656.8M996.1,841.9A361.1,361.1 0 0 1 974.1,898.2M1000.3,843.2A365.5,365.5 0 0 1 978.1,900.1M998.0,600.5A374.5,374.5 0 0 1 1015.3,656.7M1002.0,598.9A378.9,378.9 0 0 1 1019.6,655.7M1009.5,843.9A374.5,374.5 0 0 1 988.7,898.8M1013.7,845.1A378.9,378.9 0 0 1 992.7,900.7M1013.8,604.4A387.9,387.9 0 0 1 1028.6,654.4M1017.9,602.9A392.3,392.3 0 0 1 1032.9,653.4M1022.6,847.0A387.9,387.9 0 0 1 1004.7,895.9M1026.8,848.2A392.3,392.3 0 0 1 1008.8,897.7M1025.9,598.5A401.3,401.3 0 0 1 1042.0,653.2M1030.0,596.9A405.7,405.7 0 0 1 1046.3,652.2M1035.9,849.0A401.3,401.3 0 0 1 1016.4,902.6M1040.2,850.2A405.7,405.7 0 0 1 1020.5,904.4M1037.7,591.7A414.7,414.7 0 0 1 1055.3,651.0M1041.8,590.2A419.1,419.1 0 0 1 1059.6,650.1M1049.0,852.0A414.7,414.7 0 0 1 1027.8,910.1M1053.2,853.2A419.1,419.1 0 0 1 1031.8,911.9M1066.8,583.2A445.0,445.0 0 0 1 1086.8,654.1M1070.9,581.6A449.4,449.4 0 0 1 1091.1,653.3M1080.6,851.2A445.0,445.0 0 0 1 1056.2,920.7M1084.9,852.3A449.4,449.4 0 0 1 1060.2,922.5M1082.9,587.0A458.8,458.8 0 0 1 1101.0,654.6M1087.1,585.5A463.2,463.2 0 0 1 1105.3,653.8M1094.8,851.6A458.8,458.8 0 0 1 1072.5,917.9M1099.1,852.6A463.2,463.2 0 0 1 1076.6,919.6M1095.4,580.8A472.7,472.7 0 0 1 1104.4,608.7M1099.6,579.4A477.1,477.1 0 0 1 1108.6,607.5M1095.3,897.6A472.7,472.7 0 0 1 1084.6,924.8M1099.4,899.0A477.1,477.1 0 0 1 1088.7,926.6M1111.4,636.3A472.7,472.7 0 0 1 1115.2,655.3M1115.7,635.3A477.1,477.1 0 0 1 1119.5,654.5M1109.0,851.7A472.7,472.7 0 0 1 1104.0,870.5M1113.3,852.8A477.1,477.1 0 0 1 1108.3,871.7M1108.3,575.8A486.5,486.5 0 0 1 1126.3,639.9M1112.5,574.3A490.9,490.9 0 0 1 1130.6,639.0M1119.2,867.8A486.5,486.5 0 0 1 1097.2,930.7M1123.4,869.0A490.9,490.9 0 0 1 1101.2,932.4M1123.1,576.1A500.4,500.4 0 0 1 1142.1,648.2M1127.3,574.7A504.8,504.8 0 0 1 1146.4,647.4M1135.4,860.5A500.4,500.4 0 0 1 1111.9,931.3M1139.7,861.5A504.8,504.8 0 0 1 1116.0,933.0M1137.9,576.7A514.2,514.2 0 0 1 1156.2,648.8M1142.1,575.3A518.6,518.6 0 0 1 1160.6,648.1M1149.6,860.8A514.2,514.2 0 0 1 1126.8,931.6M1153.8,861.8A518.6,518.6 0 0 1 1130.8,933.3M1153.2,578.9A528.0,528.0 0 0 1 1170.6,650.9M1157.4,577.6A532.4,532.4 0 0 1 1175.0,650.2M1164.1,859.6A528.0,528.0 0 0 1 1142.1,930.4M1168.4,860.6A532.4,532.4 0 0 1 1146.2,932.0M1168.5,581.5A541.9,541.9 0 0 1 1185.2,654.2M1172.7,580.2A546.3,546.3 0 0 1 1189.6,653.5M1178.8,857.2A541.9,541.9 0 0 1 1157.6,928.8M1183.1,858.2A546.3,546.3 0 0 1 1161.7,930.3M1184.7,587.7A555.7,555.7 0 0 1 1199.2,654.0M1189.0,586.5A560.1,560.1 0 0 1 1203.5,653.3M1192.8,858.3A555.7,555.7 0 0 1 1174.2,923.6M1197.1,859.3A560.1,560.1 0 0 1 1178.3,925.1M1201.4,596.4A569.6,569.6 0 0 1 1213.2,653.8M1205.7,595.3A574.0,574.0 0 0 1 1217.5,653.2M1206.7,859.4A569.6,569.6 0 0 1 1191.4,915.9M1211.0,860.3A574.0,574.0 0 0 1 1195.6,917.3M1218.2,606.8A583.4,583.4 0 0 1 1222.5,626.7M1222.5,605.8A587.8,587.8 0 0 1 1226.8,625.8M1214.3,887.0A583.4,583.4 0 0 1 1208.8,906.6M1218.6,888.2A587.8,587.8 0 0 1 1213.0,907.9" fill="none" stroke="#444" stroke-width="0.65"/>
<path d="M1097.7,669.7A453.0,453.0 0 0 1 1092.4,836.6M1111.7,670.0A466.8,466.8 0 0 1 1106.4,837.2M1125.7,670.3A480.7,480.7 0 0 1 1120.4,837.8M1139.8,670.7A494.5,494.5 0 0 1 1134.5,838.3M1153.8,670.9A508.4,508.4 0 0 1 1148.4,839.0M1167.8,671.2A522.2,522.2 0 0 1 1162.4,839.5M1181.8,671.6A536.0,536.0 0 0 1 1176.4,840.0M1195.8,672.0A549.9,549.9 0 0 1 1190.4,840.7M1209.8,672.3A563.7,563.7 0 0 1 1204.4,841.1M1223.7,672.6A577.6,577.6 0 0 1 1218.3,841.9M1237.7,672.9A591.4,591.4 0 0 1 1232.3,842.3M1251.7,673.2A605.2,605.2 0 0 1 1246.2,843.1M1266.1,678.2A619.1,619.1 0 0 1 1260.9,839.0M1000.2,676.9A355.7,355.7 0 0 1 996.0,821.4M1013.4,674.6A369.1,369.1 0 0 1 1009.1,824.5M1026.6,672.3A382.5,382.5 0 0 1 1022.1,827.6M1039.8,669.9A395.9,395.9 0 0 1 1035.1,830.7M1053.0,667.6A409.3,409.3 0 0 1 1048.2,833.9M1066.2,665.2A422.7,422.7 0 0 1 1061.2,837.0M931.4,693.9A285.0,285.0 0 0 1 928.7,798.7M944.8,690.4A298.8,298.8 0 0 1 941.8,803.2M958.2,686.7A312.6,312.6 0 0 1 955.0,807.7M971.5,682.9A326.4,326.4 0 0 1 968.0,812.4M935.1,649.6A298.8,298.8 0 0 1 941.7,674.3M937.1,821.7A298.8,298.8 0 0 1 929.0,845.9M945.9,638.3A312.6,312.6 0 0 1 955.1,670.8M950.2,826.0A312.6,312.6 0 0 1 939.1,857.9M956.9,627.9A326.4,326.4 0 0 1 968.8,668.9M963.8,828.7A326.4,326.4 0 0 1 949.4,868.9M979.3,604.6A355.7,355.7 0 0 1 996.2,657.2M990.4,842.2A355.7,355.7 0 0 1 970.4,893.6M990.8,597.2A369.1,369.1 0 0 1 1009.6,656.0M1003.8,844.2A369.1,369.1 0 0 1 981.3,901.7M1005.4,597.6A382.5,382.5 0 0 1 1023.1,654.9M1017.2,846.1A382.5,382.5 0 0 1 995.9,902.2M1021.3,601.6A395.9,395.9 0 0 1 1036.4,652.6M1030.3,849.2A395.9,395.9 0 0 1 1012.1,899.1M1033.4,595.7A409.3,409.3 0 0 1 1049.8,651.5M1043.6,851.2A409.3,409.3 0 0 1 1023.7,905.9M1045.2,588.9A422.7,422.7 0 0 1 1063.1,649.3M1056.7,854.2A422.7,422.7 0 0 1 1035.1,913.4M1074.3,580.4A453.0,453.0 0 0 1 1094.7,652.6M1088.4,853.2A453.0,453.0 0 0 1 1063.5,924.0M1090.5,584.3A466.8,466.8 0 0 1 1108.9,653.1M1102.6,853.5A466.8,466.8 0 0 1 1079.9,921.0M1103.0,578.2A480.7,480.7 0 0 1 1112.1,606.5M1102.8,900.2A480.7,480.7 0 0 1 1092.0,928.0M1119.2,634.6A480.7,480.7 0 0 1 1123.1,653.9M1116.8,853.7A480.7,480.7 0 0 1 1111.7,872.7M1115.9,573.1A494.5,494.5 0 0 1 1134.2,638.3M1126.9,869.9A494.5,494.5 0 0 1 1104.5,933.8M1130.7,573.5A508.4,508.4 0 0 1 1149.9,646.8M1143.2,862.4A508.4,508.4 0 0 1 1119.3,934.4M1145.5,574.2A522.2,522.2 0 0 1 1164.1,647.4M1157.3,862.7A522.2,522.2 0 0 1 1134.2,934.6M1160.8,576.5A536.0,536.0 0 0 1 1178.5,649.6M1171.9,861.4A536.0,536.0 0 0 1 1149.6,933.3M1176.1,579.1A549.9,549.9 0 0 1 1193.1,653.0M1186.6,859.0A549.9,549.9 0 0 1 1165.1,931.6M1192.4,585.5A563.7,563.7 0 0 1 1207.1,652.8M1200.6,860.1A563.7,563.7 0 0 1 1181.7,926.2M1209.2,594.4A577.6,577.6 0 0 1 1221.1,652.6M1214.5,861.1A577.6,577.6 0 0 1 1199.0,918.4M1226.0,605.0A591.4,591.4 0 0 1 1230.3,625.1M1222.0,889.1A591.4,591.4 0 0 1 1216.5,908.9" fill="none" stroke="#111" stroke-width="1.3"/>
<path d="M1090.2,673.8L1098.1,672.6M1090.6,676.6L1098.5,675.5M1091.4,682.4L1099.3,681.4M1091.7,685.3L1099.7,684.3M1092.4,691.0L1100.4,690.1M1092.7,693.9L1100.7,693.1M1093.3,699.6L1101.2,698.9M1093.5,702.5L1101.5,701.9M1093.9,708.3L1101.9,707.7M1094.1,711.2L1102.1,710.7M1094.5,717.0L1102.4,716.6M1094.6,719.9L1102.6,719.5M1094.8,725.6L1102.8,725.4M1094.9,728.5L1102.9,728.3M1095.0,734.3L1103.0,734.2M1095.0,737.2L1103.0,737.2M1095.0,743.0L1103.0,743.1M1094.9,745.9L1102.9,746.0M1094.8,751.7L1102.8,751.9M1094.7,754.6L1102.7,754.9M1094.5,760.4L1102.5,760.7M1094.3,763.3L1102.3,763.7M1094.0,769.0L1102.0,769.6M1093.8,771.9L1101.8,772.5M1093.3,777.7L1101.3,778.4M1093.1,780.6L1101.0,781.3M1092.5,786.3L1100.4,787.2M1092.2,789.2L1100.1,790.1M1091.5,795.0L1099.4,796.0M1091.1,797.8L1099.0,798.9M1090.3,803.6L1098.2,804.7M1089.9,806.4L1097.8,807.6M1088.9,812.1L1096.8,813.4M1088.5,815.0L1096.3,816.4M1087.4,820.7L1095.3,822.1M1086.9,823.5L1094.8,825.0M1085.8,829.2L1093.6,830.8M1085.2,832.0L1093.0,833.7M1104.2,674.0L1112.1,672.9M1104.6,676.9L1112.5,675.8M1105.4,682.7L1113.3,681.7M1105.7,685.6L1113.7,684.6M1106.4,691.3L1114.3,690.5M1106.6,694.2L1114.6,693.4M1107.2,700.0L1115.1,699.3M1107.4,702.9L1115.4,702.2M1107.8,708.6L1115.8,708.1M1108.0,711.5L1116.0,711.1M1108.3,717.3L1116.3,717.0M1108.5,720.2L1116.4,719.9M1108.7,726.0L1116.7,725.8M1108.7,728.9L1116.7,728.8M1108.8,734.7L1116.8,734.7M1108.8,737.6L1116.8,737.6M1108.8,743.4L1116.8,743.5M1108.8,746.3L1116.8,746.5M1108.7,752.1L1116.6,752.4M1108.6,755.0L1116.6,755.3M1108.3,760.8L1116.3,761.2M1108.2,763.7L1116.2,764.1M1107.8,769.5L1115.8,770.0M1107.6,772.4L1115.6,773.0M1107.2,778.2L1115.1,778.9M1106.9,781.1L1114.9,781.8M1106.3,786.8L1114.3,787.7M1106.0,789.7L1114.0,790.6M1105.4,795.5L1113.3,796.5M1105.0,798.4L1112.9,799.4M1104.2,804.1L1112.1,805.2M1103.8,807.0L1111.7,808.2M1102.9,812.7L1110.8,814.0M1102.4,815.6L1110.3,816.9M1101.4,821.3L1109.3,822.7M1100.9,824.1L1108.7,825.6M1099.8,829.8L1107.6,831.4M1099.2,832.7L1107.0,834.3M1118.2,674.3L1126.2,673.2M1118.6,677.2L1126.6,676.1M1119.3,682.9L1127.3,682.0M1119.7,685.8L1127.6,684.9M1120.3,691.6L1128.3,690.8M1120.6,694.5L1128.5,693.7M1121.1,700.3L1129.1,699.6M1121.3,703.2L1129.3,702.6M1121.7,709.0L1129.7,708.5M1121.9,711.9L1129.9,711.4M1122.2,717.7L1130.2,717.3M1122.3,720.6L1130.3,720.3M1122.5,726.4L1130.5,726.2M1122.6,729.3L1130.6,729.1M1122.7,735.1L1130.7,735.1M1122.7,738.0L1130.7,738.0M1122.7,743.8L1130.7,743.9M1122.6,746.7L1130.6,746.9M1122.5,752.6L1130.5,752.8M1122.4,755.5L1130.4,755.7M1122.2,761.3L1130.1,761.6M1122.0,764.2L1130.0,764.6M1121.7,770.0L1129.6,770.5M1121.5,772.9L1129.4,773.4M1121.0,778.7L1129.0,779.3M1120.8,781.6L1128.7,782.3M1120.2,787.4L1128.2,788.2M1119.9,790.2L1127.8,791.1M1119.2,796.0L1127.2,797.0M1118.9,798.9L1126.8,799.9M1118.1,804.7L1126.0,805.8M1117.7,807.5L1125.6,808.7M1116.8,813.3L1124.7,814.5M1116.3,816.2L1124.2,817.5M1115.4,821.9L1123.2,823.3M1114.8,824.7L1122.7,826.2M1113.7,830.5L1121.6,832.0M1113.2,833.3L1121.0,834.9M1132.2,674.7L1140.2,673.6M1132.6,677.6L1140.6,676.5M1133.3,683.3L1141.3,682.4M1133.6,686.2L1141.6,685.4M1134.2,692.0L1142.2,691.2M1134.5,694.9L1142.5,694.2M1135.0,700.7L1143.0,700.1M1135.2,703.6L1143.2,703.0M1135.6,709.4L1143.6,708.9M1135.8,712.3L1143.8,711.9M1136.1,718.1L1144.1,717.8M1136.2,721.0L1144.2,720.7M1136.4,726.8L1144.4,726.6M1136.4,729.7L1144.4,729.6M1136.5,735.6L1144.5,735.5M1136.5,738.5L1144.5,738.5M1136.5,744.3L1144.5,744.4M1136.5,747.2L1144.5,747.3M1136.3,753.0L1144.3,753.2M1136.2,755.9L1144.2,756.2M1136.0,761.7L1144.0,762.1M1135.8,764.6L1143.8,765.0M1135.5,770.4L1143.5,770.9M1135.3,773.3L1143.3,773.9M1134.9,779.1L1142.8,779.8M1134.6,782.0L1142.6,782.7M1134.1,787.8L1142.0,788.6M1133.8,790.7L1141.7,791.6M1133.1,796.5L1141.1,797.4M1132.8,799.4L1140.7,800.4M1132.0,805.1L1139.9,806.2M1131.6,808.0L1139.5,809.2M1130.7,813.8L1138.6,815.0M1130.3,816.6L1138.2,817.9M1129.3,822.4L1137.2,823.7M1128.8,825.2L1136.7,826.7M1127.8,831.0L1135.6,832.5M1127.2,833.8L1135.0,835.4M1146.2,674.9L1154.2,673.8M1146.6,677.7L1154.5,676.8M1147.3,683.5L1155.2,682.7M1147.6,686.4L1155.5,685.6M1148.2,692.2L1156.1,691.5M1148.4,695.1L1156.4,694.4M1148.9,701.0L1156.9,700.4M1149.1,703.9L1157.1,703.3M1149.5,709.7L1157.5,709.2M1149.7,712.6L1157.7,712.2M1149.9,718.4L1157.9,718.1M1150.0,721.4L1158.0,721.1M1150.2,727.2L1158.2,727.0M1150.3,730.1L1158.3,730.0M1150.4,735.9L1158.4,735.9M1150.4,738.8L1158.4,738.8M1150.3,744.7L1158.3,744.8M1150.3,747.6L1158.3,747.7M1150.2,753.4L1158.1,753.7M1150.1,756.3L1158.1,756.6M1149.8,762.2L1157.8,762.5M1149.7,765.1L1157.7,765.5M1149.3,770.9L1157.3,771.4M1149.1,773.8L1157.1,774.4M1148.7,779.6L1156.7,780.3M1148.5,782.6L1156.4,783.2M1147.9,788.4L1155.9,789.1M1147.6,791.3L1155.6,792.1M1147.0,797.1L1154.9,798.0M1146.6,800.0L1154.6,800.9M1145.9,805.7L1153.8,806.8M1145.5,808.6L1153.4,809.7M1144.6,814.4L1152.6,815.6M1144.2,817.3L1152.1,818.5M1143.3,823.0L1151.1,824.4M1142.8,825.9L1150.6,827.3M1141.7,831.7L1149.6,833.1M1141.2,834.5L1149.0,836.1M1160.2,675.1L1168.2,674.1M1160.6,678.0L1168.5,677.1M1161.2,683.8L1169.2,683.0M1161.5,686.8L1169.5,685.9M1162.1,692.6L1170.1,691.8M1162.4,695.5L1170.3,694.8M1162.8,701.3L1170.8,700.7M1163.0,704.2L1171.0,703.7M1163.4,710.1L1171.4,709.6M1163.5,713.0L1171.5,712.6M1163.8,718.8L1171.8,718.5M1163.9,721.7L1171.9,721.5M1164.1,727.6L1172.1,727.4M1164.1,730.5L1172.1,730.4M1164.2,736.3L1172.2,736.3M1164.2,739.3L1172.2,739.3M1164.2,745.1L1172.2,745.2M1164.1,748.0L1172.1,748.2M1164.0,753.9L1172.0,754.1M1163.9,756.8L1171.9,757.1M1163.7,762.6L1171.6,763.0M1163.5,765.5L1171.5,766.0M1163.2,771.4L1171.2,771.9M1163.0,774.3L1171.0,774.8M1162.6,780.1L1170.5,780.8M1162.3,783.0L1170.3,783.7M1161.8,788.9L1169.7,789.6M1161.5,791.8L1169.4,792.6M1160.9,797.6L1168.8,798.5M1160.5,800.5L1168.5,801.4M1159.8,806.3L1167.7,807.3M1159.4,809.2L1167.3,810.3M1158.6,815.0L1166.5,816.1M1158.1,817.8L1166.0,819.1M1157.2,823.6L1165.1,824.9M1156.7,826.5L1164.6,827.9M1155.7,832.3L1163.5,833.7M1155.1,835.1L1163.0,836.6M1174.2,675.5L1182.2,674.6M1174.6,678.4L1182.5,677.5M1175.2,684.3L1183.2,683.4M1175.5,687.2L1183.5,686.4M1176.0,693.0L1184.0,692.3M1176.3,695.9L1184.3,695.2M1176.7,701.7L1184.7,701.2M1176.9,704.6L1184.9,704.1M1177.3,710.5L1185.3,710.0M1177.4,713.4L1185.4,713.0M1177.7,719.2L1185.7,718.9M1177.8,722.2L1185.8,721.9M1177.9,728.0L1185.9,727.8M1178.0,730.9L1186.0,730.8M1178.0,736.8L1186.0,736.7M1178.0,739.7L1186.0,739.7M1178.0,745.5L1186.0,745.6M1178.0,748.5L1186.0,748.6M1177.8,754.3L1185.8,754.5M1177.7,757.2L1185.7,757.5M1177.5,763.1L1185.5,763.4M1177.3,766.0L1185.3,766.4M1177.0,771.8L1185.0,772.3M1176.8,774.7L1184.8,775.3M1176.4,780.6L1184.4,781.2M1176.2,783.5L1184.1,784.2M1175.6,789.3L1183.6,790.1M1175.4,792.2L1183.3,793.0M1174.7,798.0L1182.7,798.9M1174.4,800.9L1182.3,801.9M1173.7,806.7L1181.6,807.8M1173.3,809.6L1181.2,810.7M1172.5,815.4L1180.4,816.6M1172.0,818.3L1180.0,819.5M1171.1,824.1L1179.0,825.4M1170.7,827.0L1178.5,828.3M1169.7,832.7L1177.5,834.2M1169.1,835.6L1177.0,837.1M1188.2,675.9L1196.1,674.9M1188.5,678.8L1196.5,677.9M1189.1,684.6L1197.1,683.8M1189.4,687.5L1197.4,686.8M1190.0,693.4L1197.9,692.7M1190.2,696.3L1198.2,695.7M1190.6,702.1L1198.6,701.6M1190.8,705.1L1198.8,704.6M1191.2,710.9L1199.1,710.5M1191.3,713.8L1199.3,713.5M1191.5,719.7L1199.5,719.4M1191.6,722.6L1199.6,722.4M1191.8,728.5L1199.8,728.3M1191.8,731.4L1199.8,731.3M1191.9,737.3L1199.9,737.2M1191.9,740.2L1199.9,740.2M1191.8,746.1L1199.8,746.2M1191.8,749.0L1199.8,749.1M1191.6,754.8L1199.6,755.1M1191.6,757.8L1199.6,758.0M1191.3,763.6L1199.3,764.0M1191.2,766.6L1199.2,767.0M1190.8,772.4L1198.8,772.9M1190.7,775.3L1198.6,775.9M1190.2,781.2L1198.2,781.8M1190.0,784.1L1198.0,784.8M1189.5,789.9L1197.4,790.7M1189.2,792.8L1197.2,793.6M1188.6,798.7L1196.5,799.6M1188.3,801.6L1196.2,802.5M1187.5,807.4L1195.5,808.4M1187.2,810.3L1195.1,811.4M1186.4,816.1L1194.3,817.3M1185.9,819.0L1193.9,820.2M1185.0,824.8L1192.9,826.1M1184.6,827.7L1192.5,829.0M1183.6,833.5L1191.5,834.9M1183.1,836.4L1190.9,837.8M1202.2,676.1L1210.1,675.2M1202.5,679.0L1210.4,678.2M1203.1,684.9L1211.0,684.1M1203.4,687.8L1211.3,687.0M1203.9,693.6L1211.8,693.0M1204.1,696.6L1212.1,695.9M1204.5,702.4L1212.5,701.9M1204.7,705.3L1212.7,704.9M1205.0,711.2L1213.0,710.8M1205.2,714.1L1213.2,713.8M1205.4,720.0L1213.4,719.7M1205.5,722.9L1213.5,722.7M1205.6,728.8L1213.6,728.6M1205.7,731.7L1213.7,731.6M1205.7,737.6L1213.7,737.6M1205.7,740.5L1213.7,740.5M1205.7,746.4L1213.7,746.5M1205.6,749.3L1213.6,749.5M1205.5,755.2L1213.5,755.4M1205.4,758.1L1213.4,758.4M1205.2,764.0L1213.2,764.3M1205.0,766.9L1213.0,767.3M1204.7,772.8L1212.7,773.3M1204.5,775.7L1212.5,776.2M1204.1,781.5L1212.1,782.2M1203.9,784.5L1211.8,785.1M1203.3,790.3L1211.3,791.1M1203.1,793.2L1211.0,794.0M1202.5,799.1L1210.4,799.9M1202.1,802.0L1210.1,802.9M1201.4,807.8L1209.4,808.8M1201.1,810.7L1209.0,811.8M1200.3,816.5L1208.2,817.7M1199.9,819.4L1207.8,820.6M1199.0,825.2L1206.9,826.5M1198.5,828.1L1206.4,829.4M1197.6,833.9L1205.4,835.3M1197.0,836.8L1204.9,838.2M1216.1,676.5L1224.1,675.6M1216.4,679.4L1224.4,678.5M1217.0,685.2L1225.0,684.5M1217.3,688.2L1225.3,687.4M1217.8,694.0L1225.8,693.4M1218.0,697.0L1226.0,696.4M1218.4,702.8L1226.4,702.3M1218.6,705.8L1226.6,705.3M1218.9,711.6L1226.9,711.2M1219.0,714.6L1227.0,714.2M1219.3,720.4L1227.3,720.2M1219.3,723.4L1227.3,723.2M1219.5,729.3L1227.5,729.1M1219.5,732.2L1227.5,732.1M1219.6,738.1L1227.6,738.1M1219.6,741.0L1227.6,741.0M1219.5,746.9L1227.5,747.0M1219.5,749.8L1227.5,750.0M1219.3,755.7L1227.3,756.0M1219.2,758.7L1227.2,758.9M1219.0,764.5L1227.0,764.9M1218.8,767.5L1226.8,767.9M1218.5,773.3L1226.5,773.8M1218.3,776.3L1226.3,776.8M1217.9,782.1L1225.9,782.7M1217.7,785.1L1225.7,785.7M1217.2,790.9L1225.2,791.7M1216.9,793.9L1224.9,794.6M1216.3,799.7L1224.3,800.6M1216.0,802.6L1223.9,803.5M1215.3,808.5L1223.2,809.5M1214.9,811.4L1222.9,812.4M1214.2,817.2L1222.1,818.3M1213.8,820.1L1221.7,821.3M1212.9,825.9L1220.8,827.2M1212.4,828.9L1220.3,830.1M1211.5,834.7L1219.4,836.0M1211.0,837.6L1218.8,838.9M1230.1,676.7L1238.0,675.8M1230.4,679.6L1238.3,678.8M1230.9,685.5L1238.9,684.7M1231.2,688.4L1239.2,687.7M1231.7,694.3L1239.7,693.7M1231.9,697.2L1239.9,696.6M1232.3,703.1L1240.3,702.6M1232.5,706.0L1240.5,705.6M1232.8,711.9L1240.8,711.5M1232.9,714.9L1240.9,714.5M1233.1,720.7L1241.1,720.5M1233.2,723.7L1241.2,723.5M1233.3,729.6L1241.3,729.4M1233.4,732.5L1241.4,732.4M1233.4,738.4L1241.4,738.4M1233.4,741.3L1241.4,741.4M1233.3,747.2L1241.3,747.3M1233.3,750.2L1241.3,750.3M1233.2,756.1L1241.1,756.3M1233.1,759.0L1241.1,759.3M1232.8,764.9L1240.8,765.2M1232.7,767.8L1240.7,768.2M1232.4,773.7L1240.4,774.2M1232.2,776.6L1240.2,777.2M1231.8,782.5L1239.8,783.1M1231.5,785.4L1239.5,786.1M1231.0,791.3L1239.0,792.0M1230.8,794.2L1238.7,795.0M1230.2,800.1L1238.1,800.9M1229.9,803.0L1237.8,803.9M1229.2,808.9L1237.1,809.8M1228.8,811.8L1236.8,812.8M1228.1,817.6L1236.0,818.7M1227.7,820.6L1235.6,821.7M1226.8,826.4L1234.7,827.6M1226.4,829.3L1234.3,830.5M1225.4,835.1L1233.3,836.4M1224.9,838.0L1232.8,839.4M1244.0,677.0L1252.0,676.2M1244.3,680.0L1252.3,679.2M1244.9,685.8L1252.8,685.1M1245.1,688.8L1253.1,688.1M1245.6,694.7L1253.6,694.1M1245.8,697.6L1253.8,697.0M1246.2,703.5L1254.2,703.0M1246.4,706.4L1254.3,706.0M1246.6,712.3L1254.6,712.0M1246.8,715.3L1254.8,715.0M1247.0,721.2L1255.0,720.9M1247.1,724.1L1255.1,723.9M1247.2,730.0L1255.2,729.9M1247.2,733.0L1255.2,732.9M1247.2,738.9L1255.2,738.9M1247.2,741.8L1255.2,741.9M1247.2,747.7L1255.2,747.9M1247.1,750.7L1255.1,750.9M1247.0,756.6L1255.0,756.8M1246.9,759.5L1254.9,759.8M1246.7,765.4L1254.6,765.8M1246.5,768.4L1254.5,768.8M1246.2,774.3L1254.2,774.8M1246.0,777.2L1254.0,777.7M1245.6,783.1L1253.6,783.7M1245.4,786.1L1253.4,786.7M1244.9,791.9L1252.9,792.7M1244.6,794.9L1252.6,795.6M1244.0,800.8L1252.0,801.6M1243.7,803.7L1251.7,804.6M1243.1,809.6L1251.0,810.5M1242.7,812.5L1250.6,813.5M1241.9,818.3L1249.9,819.4M1241.5,821.3L1249.5,822.4M1240.7,827.1L1248.6,828.3M1240.3,830.0L1248.2,831.3M1239.3,835.9L1247.2,837.2M1238.8,838.8L1246.7,840.1M1258.4,681.9L1266.4,681.1M1258.7,684.8L1266.6,684.1M1259.2,690.7L1267.1,690.1M1259.4,693.6L1267.4,693.0M1259.8,699.5L1267.8,699.0M1260.0,702.5L1268.0,702.0M1260.3,708.4L1268.3,708.0M1260.5,711.3L1268.4,711.0M1260.7,717.2L1268.7,716.9M1260.8,720.2L1268.8,719.9M1260.9,726.1L1268.9,725.9M1261.0,729.0L1269.0,728.9M1261.1,734.9L1269.1,734.9M1261.1,737.9L1269.1,737.8M1261.1,743.8L1269.1,743.8M1261.0,746.7L1269.0,746.8M1260.9,752.6L1268.9,752.8M1260.9,755.6L1268.9,755.8M1260.7,761.5L1268.7,761.8M1260.6,764.4L1268.5,764.7M1260.3,770.3L1268.3,770.7M1260.1,773.3L1268.1,773.7M1259.8,779.1L1267.7,779.7M1259.6,782.1L1267.5,782.7M1259.1,788.0L1267.1,788.6M1258.9,790.9L1266.8,791.6M1258.3,796.8L1266.3,797.5M1258.1,799.7L1266.0,800.5M1257.4,805.6L1265.4,806.5M1257.1,808.5L1265.1,809.4M1256.4,814.4L1264.4,815.4M1256.0,817.3L1264.0,818.3M1255.3,823.2L1263.2,824.3M1254.8,826.1L1262.8,827.2M1254.0,831.9L1261.9,833.1M1253.5,834.8L1261.4,836.1M992.8,681.1L1000.7,679.7M993.3,683.8L1001.2,682.6M994.1,689.3L1002.1,688.2M994.5,692.1L1002.5,691.0M995.2,697.6L1003.2,696.7M995.6,700.4L1003.5,699.5M996.1,706.0L1004.1,705.2M996.4,708.7L1004.4,708.0M996.8,714.3L1004.8,713.7M997.0,717.1L1005.0,716.6M997.3,722.7L1005.3,722.3M997.4,725.5L1005.4,725.1M997.6,731.0L1005.6,730.8M997.7,733.8L1005.7,733.7M997.7,739.4L1005.7,739.4M997.7,742.2L1005.7,742.3M997.6,747.8L1005.6,748.0M997.5,750.6L1005.5,750.8M997.3,756.1L1005.3,756.5M997.1,758.9L1005.1,759.4M996.8,764.5L1004.7,765.1M996.5,767.3L1004.5,767.9M996.1,772.8L1004.0,773.6M995.8,775.6L1003.7,776.4M995.1,781.1L1003.1,782.1M994.8,783.9L1002.7,785.0M994.0,789.4L1001.9,790.6M993.6,792.2L1001.5,793.4M992.7,797.7L1000.6,799.1M992.2,800.5L1000.1,801.9M991.2,805.9L999.0,807.5M990.6,808.7L998.5,810.3M989.5,814.1L997.3,815.9M988.9,816.9L996.7,818.7M1006.1,678.8L1013.9,677.5M1006.5,681.7L1014.4,680.4M1007.4,687.4L1015.3,686.3M1007.8,690.3L1015.7,689.2M1008.5,696.0L1016.5,695.1M1008.9,698.9L1016.8,698.0M1009.5,704.7L1017.4,703.9M1009.7,707.6L1017.7,706.9M1010.2,713.4L1018.2,712.8M1010.4,716.2L1018.4,715.7M1010.7,722.0L1018.7,721.7M1010.8,724.9L1018.8,724.6M1011.0,730.7L1019.0,730.5M1011.1,733.6L1019.1,733.5M1011.1,739.4L1019.1,739.4M1011.1,742.3L1019.1,742.4M1011.0,748.1L1019.0,748.3M1010.9,751.0L1018.9,751.3M1010.7,756.8L1018.7,757.2M1010.5,759.7L1018.5,760.1M1010.1,765.5L1018.1,766.1M1009.9,768.4L1017.9,769.0M1009.4,774.1L1017.3,774.9M1009.1,777.0L1017.0,777.9M1008.4,782.8L1016.4,783.7M1008.1,785.6L1016.0,786.7M1007.3,791.4L1015.2,792.6M1006.8,794.3L1014.8,795.5M1005.9,800.0L1013.8,801.3M1005.4,802.8L1013.3,804.2M1004.3,808.5L1012.2,810.1M1003.8,811.4L1011.6,813.0M1002.6,817.0L1010.4,818.8M1001.9,819.9L1009.7,821.7M1019.2,676.4L1027.1,675.1M1019.7,679.2L1027.6,678.0M1020.6,684.9L1028.5,683.7M1021.0,687.7L1028.9,686.6M1021.7,693.3L1029.6,692.3M1022.0,696.1L1030.0,695.2M1022.6,701.8L1030.6,701.0M1022.9,704.6L1030.9,703.8M1023.4,710.2L1031.4,709.6M1023.6,713.1L1031.6,712.5M1024.0,718.7L1031.9,718.3M1024.1,721.6L1032.1,721.2M1024.3,727.2L1032.3,727.0M1024.4,730.1L1032.4,729.9M1024.5,735.8L1032.5,735.7M1024.5,738.6L1032.5,738.6M1024.5,744.3L1032.5,744.4M1024.4,747.1L1032.4,747.3M1024.2,752.8L1032.2,753.1M1024.1,755.6L1032.1,756.0M1023.8,761.3L1031.8,761.8M1023.7,764.1L1031.6,764.7M1023.2,769.8L1031.2,770.4M1023.0,772.6L1031.0,773.3M1022.4,778.3L1030.4,779.1M1022.1,781.1L1030.1,782.0M1021.4,786.7L1029.4,787.7M1021.1,789.5L1029.0,790.6M1020.3,795.2L1028.2,796.4M1019.8,798.0L1027.7,799.2M1018.9,803.6L1026.8,804.9M1018.4,806.3L1026.3,807.8M1017.3,811.9L1025.2,813.5M1016.8,814.7L1024.6,816.3M1015.6,820.3L1023.4,822.0M1015.0,823.0L1022.7,824.8M1032.5,674.2L1040.3,672.9M1032.9,677.1L1040.8,675.8M1033.8,682.9L1041.7,681.8M1034.2,685.8L1042.2,684.7M1035.0,691.7L1042.9,690.7M1035.3,694.6L1043.3,693.7M1036.0,700.4L1043.9,699.6M1036.3,703.4L1044.2,702.6M1036.8,709.2L1044.7,708.6M1037.0,712.1L1044.9,711.6M1037.3,718.0L1045.3,717.6M1037.5,720.9L1045.5,720.6M1037.7,726.8L1045.7,726.6M1037.8,729.8L1045.8,729.6M1037.9,735.6L1045.9,735.6M1037.9,738.6L1045.9,738.6M1037.9,744.5L1045.9,744.6M1037.8,747.4L1045.8,747.6M1037.6,753.3L1045.6,753.6M1037.5,756.2L1045.5,756.6M1037.2,762.1L1045.2,762.6M1037.0,765.0L1045.0,765.6M1036.6,770.9L1044.6,771.5M1036.3,773.8L1044.3,774.5M1035.8,779.7L1043.7,780.5M1035.4,782.6L1043.4,783.5M1034.7,788.4L1042.7,789.4M1034.4,791.3L1042.3,792.4M1033.5,797.2L1041.4,798.4M1033.1,800.1L1041.0,801.3M1032.1,805.9L1040.0,807.2M1031.6,808.8L1039.4,810.2M1030.5,814.5L1038.3,816.1M1029.9,817.4L1037.7,819.0M1028.7,823.2L1036.5,824.9M1028.0,826.0L1035.8,827.8M1045.6,671.8L1053.5,670.5M1046.1,674.7L1054.0,673.4M1047.0,680.3L1054.9,679.2M1047.4,683.2L1055.3,682.1M1048.2,688.9L1056.1,687.9M1048.5,691.8L1056.5,690.8M1049.1,697.5L1057.1,696.7M1049.4,700.4L1057.4,699.6M1049.9,706.1L1057.9,705.5M1050.2,709.0L1058.2,708.4M1050.6,714.7L1058.6,714.2M1050.7,717.6L1058.7,717.2M1051.0,723.4L1059.0,723.0M1051.1,726.2L1059.1,726.0M1051.2,732.0L1059.2,731.9M1051.3,734.9L1059.3,734.8M1051.3,740.6L1059.3,740.7M1051.3,743.5L1059.3,743.6M1051.2,749.3L1059.2,749.5M1051.1,752.2L1059.1,752.4M1050.9,757.9L1058.8,758.3M1050.7,760.8L1058.7,761.2M1050.4,766.6L1058.3,767.1M1050.1,769.4L1058.1,770.0M1049.7,775.2L1057.6,775.9M1049.4,778.0L1057.4,778.8M1048.8,783.8L1056.7,784.7M1048.5,786.6L1056.4,787.6M1047.7,792.4L1055.7,793.4M1047.3,795.2L1055.3,796.3M1046.5,800.9L1054.4,802.1M1046.0,803.8L1053.9,805.0M1045.1,809.4L1052.9,810.8M1044.6,812.3L1052.4,813.7M1043.5,817.9L1051.3,819.5M1042.9,820.8L1050.7,822.4M1041.7,826.4L1049.5,828.1M1041.0,829.2L1048.8,831.0M1058.8,669.4L1066.7,668.1M1059.3,672.2L1067.2,670.9M1060.2,677.8L1068.1,676.6M1060.6,680.6L1068.5,679.5M1061.3,686.2L1069.3,685.2M1061.7,689.0L1069.6,688.0M1062.3,694.6L1070.3,693.8M1062.6,697.4L1070.6,696.6M1063.1,703.1L1071.1,702.4M1063.4,705.9L1071.4,705.3M1063.8,711.5L1071.8,711.0M1064.0,714.4L1072.0,713.9M1064.3,720.0L1072.3,719.6M1064.4,722.8L1072.4,722.5M1064.6,728.5L1072.6,728.3M1064.6,731.3L1072.6,731.2M1064.7,737.0L1072.7,736.9M1064.7,739.8L1072.7,739.8M1064.6,745.5L1072.6,745.6M1064.6,748.3L1072.6,748.5M1064.4,753.9L1072.4,754.2M1064.3,756.8L1072.3,757.1M1064.0,762.4L1072.0,762.9M1063.9,765.2L1071.9,765.8M1063.5,770.9L1071.4,771.5M1063.2,773.7L1071.2,774.4M1062.7,779.3L1070.7,780.1M1062.4,782.2L1070.4,783.0M1061.8,787.8L1069.8,788.7M1061.5,790.6L1069.4,791.6M1060.7,796.2L1068.7,797.3M1060.3,799.0L1068.3,800.2M1059.5,804.6L1067.4,805.9M1059.0,807.4L1066.9,808.7M1058.1,813.0L1065.9,814.4M1057.5,815.7L1065.4,817.2M1056.5,821.3L1064.3,822.9M1055.9,824.1L1063.7,825.7M1054.7,829.6L1062.5,831.3M1054.1,832.4L1061.9,834.2M923.9,698.0L931.9,696.8M924.4,700.8L932.3,699.7M925.1,706.5L933.0,705.5M925.4,709.3L933.4,708.4M926.0,715.0L933.9,714.3M926.2,717.8L934.2,717.2M926.6,723.5L934.6,723.0M926.7,726.3L934.7,726.0M926.9,732.0L934.9,731.8M927.0,734.9L935.0,734.7M927.0,740.6L935.0,740.6M927.0,743.4L935.0,743.5M926.8,749.1L934.8,749.4M926.7,751.9L934.7,752.3M926.4,757.6L934.4,758.2M926.2,760.5L934.1,761.1M925.7,766.1L933.6,766.9M925.4,769.0L933.3,769.8M924.7,774.6L932.6,775.7M924.3,777.4L932.2,778.6M923.5,783.1L931.4,784.3M923.0,785.9L930.9,787.2M922.0,791.5L929.8,793.0M921.4,794.3L929.3,795.9M937.4,694.5L945.3,693.2M937.8,697.3L945.7,696.1M938.5,702.9L946.5,701.9M938.9,705.7L946.8,704.8M939.5,711.3L947.4,710.6M939.7,714.2L947.7,713.5M940.2,719.8L948.1,719.3M940.3,722.6L948.3,722.2M940.6,728.3L948.6,728.0M940.7,731.1L948.7,730.9M940.8,736.8L948.8,736.7M940.8,739.6L948.8,739.6M940.7,745.3L948.7,745.5M940.7,748.1L948.7,748.4M940.4,753.8L948.4,754.2M940.3,756.6L948.3,757.1M939.9,762.3L947.8,762.9M939.6,765.1L947.6,765.8M939.1,770.7L947.0,771.6M938.7,773.5L946.7,774.5M938.0,779.1L945.9,780.2M937.6,781.9L945.5,783.1M936.7,787.5L944.6,788.9M936.2,790.3L944.1,791.7M935.2,795.9L943.0,797.5M934.6,798.7L942.4,800.3M950.8,690.8L958.7,689.6M951.2,693.6L959.1,692.4M952.0,699.2L959.9,698.2M952.3,702.0L960.3,701.0M953.0,707.6L960.9,706.8M953.3,710.4L961.2,709.7M953.7,716.1L961.7,715.5M953.9,718.9L961.9,718.4M954.3,724.5L962.2,724.2M954.4,727.4L962.4,727.1M954.5,733.0L962.5,732.9M954.6,735.8L962.6,735.8M954.6,741.5L962.6,741.6M954.6,744.3L962.6,744.5M954.4,750.0L962.4,750.3M954.3,752.8L962.3,753.2M954.0,758.4L962.0,759.0M953.8,761.3L961.8,761.9M953.3,766.9L961.3,767.6M953.0,769.7L961.0,770.5M952.4,775.3L960.4,776.3M952.1,778.1L960.0,779.2M951.3,783.7L959.2,784.9M950.9,786.5L958.8,787.8M949.9,792.1L957.8,793.5M949.4,794.9L957.3,796.4M948.3,800.4L956.2,802.1M947.8,803.2L955.6,804.9M964.1,687.0L972.0,685.7M964.6,689.8L972.5,688.6M965.4,695.4L973.3,694.3M965.8,698.2L973.7,697.2M966.5,703.9L974.4,703.0M966.8,706.7L974.7,705.9M967.3,712.3L975.2,711.6M967.5,715.1L975.5,714.5M967.9,720.8L975.9,720.3M968.0,723.6L976.0,723.2M968.3,729.2L976.2,729.0M968.3,732.1L976.3,731.9M968.4,737.7L976.4,737.7M968.4,740.5L976.4,740.6M968.3,746.2L976.3,746.4M968.2,749.0L976.2,749.3M968.0,754.7L976.0,755.1M967.9,757.5L975.8,758.0M967.5,763.1L975.5,763.8M967.3,766.0L975.2,766.6M966.7,771.6L974.7,772.4M966.4,774.4L974.4,775.3M965.7,780.0L973.7,781.1M965.4,782.8L973.3,783.9M964.5,788.4L972.4,789.7M964.1,791.2L972.0,792.5M963.1,796.8L971.0,798.2M962.6,799.6L970.4,801.1M961.5,805.1L969.3,806.8M960.9,807.9L968.7,809.6M928.3,654.7L936.0,652.4M929.1,657.3L936.8,655.1M930.6,662.6L938.3,660.5M931.3,665.3L939.0,663.3M932.7,670.7L940.4,668.8M933.3,673.4L941.1,671.6M928.7,822.1L936.3,824.4M927.9,824.7L935.5,827.1M926.2,830.0L933.8,832.5M925.3,832.6L932.9,835.2M923.5,837.8L931.0,840.6M922.5,840.4L930.0,843.2M939.2,643.4L946.8,640.9M940.1,646.1L947.7,643.6M941.7,651.3L949.4,649.0M942.5,653.9L950.2,651.7M944.0,659.2L951.7,657.1M944.7,661.9L952.4,659.9M946.0,667.2L953.8,665.3M946.7,669.9L954.4,668.1M941.8,826.4L949.5,828.7M941.0,829.0L948.6,831.4M939.3,834.3L946.9,836.8M938.4,836.9L946.0,839.4M936.6,842.1L944.2,844.8M935.7,844.6L943.2,847.4M933.7,849.8L941.2,852.7M932.7,852.3L940.2,855.3M950.3,633.2L957.9,630.6M951.2,635.9L958.8,633.3M953.0,641.1L960.6,638.7M953.8,643.8L961.5,641.4M955.4,649.1L963.1,646.8M956.2,651.8L963.9,649.6M957.7,657.1L965.4,655.1M958.4,659.8L966.1,657.8M959.7,665.2L967.5,663.4M960.4,667.9L968.2,666.1M955.4,829.2L963.0,831.5M954.6,831.9L962.2,834.2M952.9,837.2L960.5,839.6M952.0,839.8L959.6,842.4M950.2,845.1L957.8,847.7M949.3,847.7L956.8,850.4M947.3,852.9L954.8,855.8M946.3,855.5L953.8,858.4M944.2,860.6L951.6,863.7M943.2,863.2L950.5,866.3M973.0,610.4L980.5,607.4M974.1,613.2L981.6,610.3M976.3,618.8L983.8,616.0M977.3,621.6L984.8,618.9M979.3,627.3L986.8,624.7M980.2,630.1L987.8,627.6M982.1,635.9L989.7,633.5M982.9,638.7L990.6,636.4M984.6,644.5L992.3,642.3M985.4,647.4L993.1,645.3M986.9,653.2L994.7,651.2M987.7,656.1L995.4,654.2M981.9,842.7L989.5,845.1M981.0,845.6L988.6,848.0M979.1,851.3L986.6,853.9M978.1,854.1L985.6,856.8M976.1,859.7L983.6,862.5M975.0,862.6L982.5,865.4M972.8,868.1L980.3,871.1M971.7,870.9L979.1,874.0M969.4,876.5L976.7,879.6M968.2,879.2L975.5,882.4M965.7,884.7L973.0,888.0M964.4,887.4L971.7,890.8M984.5,602.9L991.9,599.9M985.5,605.6L993.0,602.6M987.6,610.9L995.1,608.1M988.6,613.6L996.1,610.9M990.6,619.1L998.1,616.4M991.5,621.8L999.1,619.2M993.4,627.2L1001.0,624.8M994.3,630.0L1001.9,627.6M995.9,635.5L1003.6,633.2M996.8,638.3L1004.4,636.0M998.3,643.8L1006.0,641.7M999.1,646.6L1006.8,644.5M1000.5,652.2L1008.3,650.2M1001.2,655.0L1009.0,653.1M995.3,844.7L1002.9,847.0M994.4,847.4L1002.1,849.8M992.7,852.9L1000.3,855.4M991.7,855.6L999.3,858.2M989.8,861.1L997.4,863.8M988.9,863.8L996.4,866.6M986.8,869.2L994.3,872.1M985.8,871.9L993.2,874.8M983.6,877.2L991.0,880.3M982.5,879.9L989.9,883.0M980.2,885.1L987.5,888.4M979.0,887.8L986.3,891.1M976.6,893.0L983.8,896.4M975.4,895.6L982.6,899.1M999.0,603.1L1006.4,600.2M1000.0,605.8L1007.5,602.9M1001.9,611.0L1009.5,608.3M1002.9,613.6L1010.4,611.0M1004.7,618.9L1012.3,616.4M1005.6,621.6L1013.2,619.1M1007.3,626.9L1015.0,624.5M1008.2,629.6L1015.8,627.3M1009.8,635.0L1017.4,632.7M1010.5,637.7L1018.2,635.5M1012.0,643.1L1019.7,641.0M1012.7,645.8L1020.5,643.8M1014.1,651.2L1021.8,649.3M1014.7,653.9L1022.5,652.1M1008.7,846.5L1016.4,848.8M1007.9,849.2L1015.6,851.6M1006.2,854.6L1013.8,857.0M1005.3,857.2L1012.9,859.8M1003.5,862.5L1011.1,865.2M1002.6,865.2L1010.1,867.9M1000.7,870.4L1008.2,873.2M999.7,873.1L1007.2,875.9M997.6,878.3L1005.1,881.2M996.6,880.9L1004.0,883.9M994.4,886.0L1001.8,889.2M993.3,888.6L1000.7,891.8M991.0,893.7L998.3,897.0M989.9,896.3L997.1,899.6M1014.8,607.1L1022.3,604.4M1015.8,609.9L1023.3,607.2M1017.7,615.3L1025.2,612.8M1018.6,618.1L1026.2,615.6M1020.3,623.6L1028.0,621.2M1021.2,626.4L1028.8,624.1M1022.8,631.9L1030.5,629.7M1023.6,634.7L1031.3,632.6M1025.1,640.3L1032.9,638.3M1025.9,643.1L1033.6,641.1M1027.3,648.7L1035.0,646.9M1027.9,651.6L1035.7,649.8M1021.8,849.7L1029.4,852.0M1020.9,852.5L1028.6,854.9M1019.2,858.0L1026.8,860.5M1018.3,860.8L1025.9,863.3M1016.4,866.3L1024.0,868.9M1015.5,869.0L1023.0,871.7M1013.5,874.5L1021.0,877.2M1012.5,877.2L1019.9,880.0M1010.4,882.6L1017.8,885.5M1009.3,885.2L1016.7,888.3M1007.1,890.6L1014.4,893.7M1005.9,893.3L1013.3,896.4M1026.8,601.0L1034.3,598.3M1027.8,603.6L1035.3,600.9M1029.6,608.7L1037.1,606.1M1030.4,611.3L1038.0,608.7M1032.1,616.4L1039.7,614.0M1032.9,619.0L1040.6,616.6M1034.5,624.2L1042.2,621.9M1035.3,626.8L1043.0,624.6M1036.8,632.1L1044.5,629.9M1037.5,634.7L1045.2,632.6M1038.9,639.9L1046.6,638.0M1039.5,642.6L1047.3,640.7M1040.8,647.9L1048.6,646.0M1041.4,650.5L1049.2,648.8M1035.2,851.6L1042.9,853.9M1034.4,854.2L1042.1,856.5M1032.8,859.4L1040.4,861.8M1032.0,862.0L1039.6,864.5M1030.3,867.2L1037.9,869.7M1029.4,869.7L1037.0,872.4M1027.6,874.9L1035.1,877.6M1026.7,877.4L1034.2,880.2M1024.8,882.5L1032.2,885.4M1023.8,885.1L1031.2,888.0M1021.8,890.1L1029.2,893.1M1020.7,892.6L1028.1,895.7M1018.6,897.6L1026.0,900.8M1017.5,900.1L1024.9,903.3M1038.7,594.5L1046.2,591.7M1039.7,597.3L1047.2,594.5M1041.7,602.8L1049.3,600.2M1042.7,605.6L1050.2,603.0M1044.5,611.2L1052.1,608.7M1045.4,614.0L1053.0,611.6M1047.1,619.6L1054.8,617.3M1048.0,622.5L1055.7,620.2M1049.6,628.1L1057.3,626.0M1050.4,631.0L1058.1,628.9M1051.9,636.7L1059.6,634.7M1052.6,639.5L1060.4,637.6M1054.0,645.3L1061.8,643.5M1054.6,648.1L1062.4,646.4M1048.2,854.8L1055.9,857.1M1047.4,857.6L1055.0,859.9M1045.6,863.3L1053.3,865.7M1044.7,866.1L1052.4,868.5M1042.9,871.7L1050.5,874.2M1041.9,874.5L1049.5,877.1M1040.0,880.0L1047.5,882.7M1039.0,882.8L1046.5,885.6M1036.9,888.3L1044.4,891.2M1035.8,891.1L1043.3,894.0M1033.6,896.5L1041.0,899.6M1032.5,899.2L1039.9,902.3M1030.2,904.7L1037.5,907.9M1029.0,907.4L1036.3,910.6M1067.8,585.7L1075.3,583.0M1068.7,588.3L1076.2,585.6M1070.5,593.4L1078.1,590.8M1071.4,596.0L1079.0,593.5M1073.1,601.2L1080.7,598.7M1074.0,603.8L1081.6,601.4M1075.6,609.0L1083.2,606.7M1076.4,611.6L1084.1,609.4M1077.9,616.9L1085.6,614.7M1078.7,619.5L1086.4,617.4M1080.1,624.8L1087.8,622.7M1080.8,627.4L1088.5,625.4M1082.1,632.7L1089.9,630.8M1082.8,635.4L1090.6,633.5M1084.0,640.7L1091.8,639.0M1084.6,643.4L1092.4,641.7M1085.7,648.7L1093.6,647.1M1086.3,651.4L1094.1,649.8M1079.9,853.8L1087.7,855.9M1079.2,856.5L1086.9,858.6M1077.7,861.7L1085.4,863.9M1077.0,864.3L1084.7,866.6M1075.4,869.6L1083.1,871.9M1074.6,872.2L1082.2,874.6M1072.9,877.4L1080.5,879.9M1072.1,880.0L1079.7,882.5M1070.3,885.2L1077.9,887.8M1069.4,887.7L1076.9,890.4M1067.5,892.9L1075.1,895.6M1066.6,895.4L1074.1,898.2M1064.6,900.5L1072.1,903.4M1063.6,903.1L1071.1,906.0M1061.6,908.2L1069.0,911.2M1060.6,910.7L1067.9,913.8M1058.4,915.7L1065.8,918.9M1057.3,918.2L1064.6,921.4M1083.9,589.7L1091.4,587.1M1084.8,592.5L1092.4,589.9M1086.7,598.0L1094.3,595.6M1087.5,600.8L1095.2,598.4M1089.3,606.4L1096.9,604.1M1090.1,609.2L1097.8,606.9M1091.7,614.8L1099.4,612.6M1092.5,617.6L1100.2,615.5M1094.0,623.3L1101.7,621.2M1094.7,626.1L1102.5,624.1M1096.1,631.8L1103.9,629.9M1096.8,634.6L1104.6,632.8M1098.1,640.3L1105.9,638.6M1098.7,643.1L1106.5,641.5M1099.9,648.9L1107.7,647.3M1100.5,651.7L1108.3,650.2M1094.1,854.4L1101.8,856.4M1093.4,857.2L1101.1,859.3M1091.8,862.8L1099.5,865.0M1091.0,865.6L1098.7,867.9M1089.4,871.3L1097.0,873.6M1088.5,874.0L1096.2,876.4M1086.8,879.6L1094.4,882.1M1085.9,882.4L1093.5,884.9M1084.0,887.9L1091.6,890.5M1083.0,890.7L1090.6,893.3M1081.1,896.2L1088.6,898.9M1080.1,898.9L1087.6,901.7M1078.0,904.4L1085.5,907.3M1076.9,907.1L1084.4,910.0M1074.8,912.5L1082.2,915.5M1073.7,915.2L1081.0,918.3M1096.5,583.9L1104.1,581.3M1097.6,587.0L1105.1,584.4M1099.6,593.2L1107.2,590.7M1100.6,596.3L1108.2,593.8M1102.5,602.5L1110.2,600.2M1103.5,605.6L1111.1,603.3M1094.2,900.6L1101.7,903.4M1093.1,903.7L1100.6,906.5M1090.8,909.8L1098.2,912.7M1089.6,912.8L1097.0,915.7M1087.1,918.8L1094.5,921.9M1085.9,921.8L1093.3,924.9M1112.1,639.4L1119.9,637.8M1112.7,642.6L1120.6,641.0M1114.0,648.9L1121.9,647.4M1114.6,652.1L1122.5,650.6M1108.3,854.9L1116.0,856.8M1107.5,858.0L1115.2,860.0M1105.8,864.3L1113.5,866.4M1104.9,867.4L1112.6,869.5M1109.3,578.4L1116.8,575.8M1110.2,581.0L1117.7,578.4M1111.9,586.3L1119.5,583.8M1112.8,588.9L1120.4,586.5M1114.5,594.2L1122.1,591.9M1115.3,596.9L1123.0,594.6M1116.9,602.2L1124.6,600.0M1117.7,604.9L1125.4,602.7M1119.2,610.2L1126.9,608.1M1119.9,612.9L1127.6,610.8M1121.3,618.3L1129.1,616.3M1122.0,621.0L1129.7,619.0M1123.3,626.4L1131.1,624.5M1123.9,629.1L1131.7,627.3M1125.2,634.5L1133.0,632.8M1125.8,637.2L1133.6,635.5M1118.4,870.5L1126.1,872.6M1117.7,873.1L1125.4,875.3M1116.1,878.5L1123.8,880.8M1115.3,881.1L1122.9,883.5M1113.6,886.4L1121.3,888.9M1112.8,889.1L1120.4,891.5M1111.1,894.3L1118.6,896.9M1110.2,897.0L1117.7,899.6M1108.3,902.2L1115.9,904.9M1107.4,904.8L1114.9,907.6M1105.5,910.0L1113.0,912.9M1104.5,912.6L1112.0,915.5M1102.5,917.8L1109.9,920.8M1101.4,920.4L1108.9,923.4M1099.3,925.5L1106.7,928.6M1098.3,928.1L1105.6,931.2M1124.0,578.7L1131.6,576.2M1124.9,581.3L1132.5,578.8M1126.6,586.6L1134.2,584.2M1127.4,589.2L1135.1,586.8M1129.0,594.5L1136.7,592.2M1129.8,597.2L1137.5,594.9M1131.4,602.5L1139.1,600.3M1132.1,605.1L1139.8,603.0M1133.6,610.5L1141.3,608.4M1134.3,613.2L1142.0,611.1M1135.6,618.5L1143.4,616.6M1136.3,621.2L1144.1,619.3M1137.6,626.6L1145.4,624.8M1138.2,629.3L1146.0,627.5M1139.4,634.7L1147.2,633.0M1139.9,637.4L1147.8,635.8M1141.0,642.8L1148.9,641.3M1141.6,645.5L1149.4,644.0M1134.7,863.2L1142.5,865.1M1134.0,865.8L1141.8,867.9M1132.6,871.2L1140.3,873.3M1131.8,873.8L1139.6,876.0M1130.3,879.2L1138.0,881.4M1129.5,881.8L1137.2,884.1M1127.9,887.1L1135.6,889.5M1127.1,889.7L1134.7,892.1M1125.4,895.0L1133.0,897.5M1124.5,897.6L1132.1,900.2M1122.8,902.9L1130.3,905.5M1121.9,905.5L1129.4,908.1M1120.0,910.7L1127.5,913.4M1119.0,913.3L1126.5,916.1M1117.1,918.4L1124.5,921.3M1116.1,921.0L1123.5,923.9M1114.0,926.2L1121.5,929.2M1113.0,928.7L1120.4,931.8M1138.8,579.3L1146.4,576.8M1139.6,581.9L1147.2,579.5M1141.3,587.2L1148.9,584.8M1142.1,589.8L1149.7,587.5M1143.7,595.1L1151.3,592.9M1144.4,597.8L1152.1,595.6M1145.9,603.1L1153.6,601.0M1146.6,605.8L1154.4,603.7M1148.0,611.1L1155.8,609.1M1148.7,613.8L1156.5,611.8M1150.0,619.1L1157.8,617.3M1150.7,621.8L1158.5,620.0M1151.9,627.2L1159.7,625.4M1152.5,629.9L1160.3,628.2M1153.6,635.3L1161.5,633.7M1154.2,638.0L1162.0,636.4M1155.2,643.4L1163.1,641.9M1155.7,646.1L1163.6,644.7M1148.9,863.5L1156.7,865.4M1148.2,866.1L1156.0,868.1M1146.8,871.5L1154.6,873.5M1146.1,874.1L1153.8,876.2M1144.6,879.5L1152.3,881.6M1143.9,882.1L1151.6,884.3M1142.3,887.4L1150.0,889.7M1141.5,890.0L1149.2,892.4M1139.9,895.3L1147.5,897.7M1139.0,897.9L1146.6,900.4M1137.3,903.2L1144.9,905.7M1136.4,905.8L1144.0,908.4M1134.6,911.0L1142.1,913.7M1133.7,913.6L1141.2,916.3M1131.8,918.8L1139.2,921.6M1130.8,921.3L1138.3,924.2M1128.8,926.5L1136.2,929.4M1127.8,929.1L1135.2,932.0M1154.0,581.5L1161.6,579.1M1154.8,584.1L1162.5,581.8M1156.4,589.4L1164.1,587.1M1157.2,592.0L1164.9,589.8M1158.7,597.3L1166.4,595.2M1159.4,600.0L1167.1,597.9M1160.8,605.3L1168.6,603.3M1161.5,607.9L1169.3,606.0M1162.9,613.3L1170.6,611.4M1163.5,615.9L1171.3,614.1M1164.8,621.3L1172.6,619.5M1165.4,624.0L1173.2,622.2M1166.5,629.3L1174.4,627.7M1167.1,632.0L1174.9,630.4M1168.2,637.4L1176.0,635.9M1168.7,640.1L1176.6,638.6M1169.7,645.5L1177.6,644.1M1170.2,648.2L1178.1,646.9M1163.5,862.3L1171.2,864.1M1162.8,864.9L1170.6,866.8M1161.5,870.3L1169.2,872.2M1160.8,872.9L1168.5,874.9M1159.4,878.2L1167.1,880.3M1158.6,880.9L1166.3,883.0M1157.1,886.2L1164.8,888.4M1156.3,888.8L1164.0,891.1M1154.8,894.1L1162.4,896.4M1153.9,896.7L1161.6,899.1M1152.3,901.9L1159.9,904.4M1151.4,904.5L1159.0,907.0M1149.7,909.7L1157.2,912.3M1148.8,912.3L1156.3,915.0M1146.9,917.5L1154.5,920.2M1146.0,920.1L1153.5,922.8M1144.1,925.2L1151.6,928.1M1143.1,927.8L1150.6,930.7M1169.3,584.1L1176.9,581.8M1170.1,586.8L1177.7,584.5M1171.6,592.1L1179.3,589.9M1172.3,594.8L1180.0,592.6M1173.8,600.1L1181.5,598.1M1174.5,602.8L1182.2,600.8M1175.8,608.1L1183.6,606.2M1176.5,610.8L1184.3,608.9M1177.8,616.2L1185.6,614.4M1178.4,618.9L1186.2,617.1M1179.6,624.3L1187.4,622.6M1180.2,627.0L1188.0,625.4M1181.3,632.4L1189.1,630.9M1181.8,635.2L1189.7,633.6M1182.9,640.6L1190.7,639.1M1183.4,643.3L1191.2,641.9M1184.3,648.8L1192.2,647.4M1184.8,651.5L1192.7,650.2M1178.2,859.9L1186.0,861.7M1177.6,862.6L1185.4,864.4M1176.3,868.0L1184.1,869.9M1175.6,870.7L1183.4,872.6M1174.3,876.0L1182.0,878.1M1173.6,878.7L1181.3,880.8M1172.1,884.0L1179.8,886.2M1171.4,886.7L1179.1,888.9M1169.8,892.0L1177.5,894.3M1169.0,894.7L1176.7,897.0M1167.4,900.0L1175.1,902.4M1166.6,902.6L1174.2,905.0M1164.9,907.9L1172.5,910.4M1164.0,910.5L1171.6,913.0M1162.2,915.8L1169.8,918.4M1161.3,918.4L1168.9,921.0M1159.5,923.6L1167.0,926.3M1158.5,926.2L1166.0,928.9M1185.5,590.4L1193.2,588.3M1186.2,593.1L1194.0,591.0M1187.7,598.6L1195.4,596.6M1188.4,601.3L1196.2,599.4M1189.8,606.8L1197.5,604.9M1190.4,609.6L1198.2,607.7M1191.7,615.1L1199.5,613.3M1192.4,617.9L1200.2,616.1M1193.6,623.4L1201.4,621.7M1194.1,626.1L1202.0,624.5M1195.3,631.7L1203.1,630.1M1195.8,634.5L1203.7,633.0M1196.8,640.0L1204.7,638.6M1197.3,642.8L1205.2,641.4M1198.3,648.4L1206.2,647.1M1198.7,651.2L1206.6,649.9M1192.1,861.1L1199.9,862.9M1191.5,863.9L1199.3,865.6M1190.2,869.4L1198.0,871.2M1189.5,872.1L1197.3,874.0M1188.2,877.6L1195.9,879.6M1187.4,880.3L1195.2,882.4M1186.0,885.8L1193.7,887.9M1185.2,888.5L1192.9,890.7M1183.7,894.0L1191.4,896.2M1182.9,896.7L1190.6,898.9M1181.2,902.1L1188.9,904.4M1180.4,904.8L1188.0,907.2M1178.7,910.2L1186.3,912.7M1177.8,912.9L1185.4,915.4M1176.0,918.2L1183.6,920.8M1175.1,920.9L1182.7,923.5M1202.1,599.1L1209.9,597.1M1202.8,601.8L1210.6,599.9M1204.1,607.2L1211.9,605.4M1204.7,610.0L1212.5,608.1M1206.0,615.4L1213.8,613.7M1206.6,618.1L1214.4,616.4M1207.7,623.6L1215.6,622.0M1208.3,626.3L1216.1,624.7M1209.4,631.8L1217.2,630.3M1209.9,634.6L1217.8,633.1M1210.9,640.1L1218.8,638.7M1211.4,642.8L1219.3,641.5M1212.3,648.3L1220.2,647.0M1212.7,651.1L1220.6,649.8M1206.1,862.1L1213.9,863.8M1205.5,864.8L1213.3,866.6M1204.2,870.3L1212.0,872.1M1203.6,873.0L1211.4,874.9M1202.2,878.4L1210.0,880.4M1201.5,881.1L1209.3,883.1M1200.1,886.5L1207.9,888.6M1199.4,889.2L1207.1,891.3M1197.9,894.6L1205.6,896.8M1197.1,897.3L1204.8,899.5M1195.6,902.6L1203.2,904.9M1194.7,905.3L1202.4,907.6M1193.1,910.6L1200.7,913.0M1192.2,913.3L1199.9,915.7M1219.0,610.1L1226.8,608.3M1219.7,613.4L1227.5,611.7M1221.1,620.0L1229.0,618.4M1221.8,623.4L1229.7,621.8M1213.4,890.3L1221.2,892.4M1212.5,893.6L1220.3,895.7M1210.7,900.1L1218.4,902.3M1209.8,903.4L1217.4,905.6" fill="none" stroke="#666" stroke-width="0.55"/>
<path d="M1089.8,670.9L1097.7,669.7M1091.0,679.5L1098.9,678.4M1092.1,688.1L1100.0,687.2M1093.0,696.8L1101.0,696.0M1093.7,705.4L1101.7,704.8M1094.3,714.1L1102.3,713.6M1094.7,722.8L1102.7,722.5M1094.9,731.4L1102.9,731.3M1095.0,740.1L1103.0,740.1M1094.9,748.8L1102.9,749.0M1094.6,757.5L1102.6,757.8M1094.2,766.1L1102.2,766.6M1093.6,774.8L1101.5,775.4M1092.8,783.4L1100.7,784.2M1091.8,792.1L1099.8,793.0M1090.7,800.7L1098.6,801.8M1089.4,809.3L1097.3,810.5M1088.0,817.8L1095.8,819.3M1086.3,826.4L1094.2,827.9M1084.6,834.9L1092.4,836.6M1103.8,671.2L1111.7,670.0M1105.0,679.8L1112.9,678.8M1106.0,688.4L1114.0,687.5M1106.9,697.1L1114.9,696.4M1107.6,705.8L1115.6,705.2M1108.2,714.4L1116.2,714.0M1108.6,723.1L1116.6,722.9M1108.8,731.8L1116.8,731.7M1108.8,740.5L1116.8,740.6M1108.7,749.2L1116.7,749.4M1108.4,757.9L1116.4,758.2M1108.0,766.6L1116.0,767.1M1107.4,775.3L1115.4,775.9M1106.6,784.0L1114.6,784.7M1105.7,792.6L1113.6,793.5M1104.6,801.2L1112.5,802.3M1103.3,809.8L1111.2,811.1M1101.9,818.4L1109.8,819.8M1100.3,827.0L1108.2,828.5M1098.6,835.5L1106.4,837.2M1117.8,671.4L1125.7,670.3M1119.0,680.1L1126.9,679.1M1120.0,688.7L1128.0,687.9M1120.8,697.4L1128.8,696.7M1121.5,706.1L1129.5,705.5M1122.1,714.8L1130.0,714.4M1122.4,723.5L1130.4,723.2M1122.6,732.2L1130.6,732.1M1122.7,740.9L1130.7,741.0M1122.6,749.7L1130.6,749.8M1122.3,758.4L1130.3,758.7M1121.8,767.1L1129.8,767.6M1121.2,775.8L1129.2,776.4M1120.5,784.5L1128.5,785.2M1119.6,793.1L1127.5,794.0M1118.5,801.8L1126.4,802.8M1117.3,810.4L1125.2,811.6M1115.9,819.0L1123.7,820.4M1114.3,827.6L1122.2,829.1M1112.6,836.1L1120.4,837.8M1131.9,671.8L1139.8,670.7M1133.0,680.4L1140.9,679.5M1134.0,689.1L1141.9,688.3M1134.8,697.8L1142.7,697.1M1135.4,706.5L1143.4,706.0M1135.9,715.2L1143.9,714.8M1136.3,723.9L1144.3,723.7M1136.5,732.6L1144.5,732.5M1136.5,741.4L1144.5,741.4M1136.4,750.1L1144.4,750.3M1136.1,758.8L1144.1,759.1M1135.7,767.5L1143.7,768.0M1135.1,776.2L1143.1,776.8M1134.3,784.9L1142.3,785.7M1133.4,793.6L1141.4,794.5M1132.4,802.3L1140.3,803.3M1131.2,810.9L1139.1,812.1M1129.8,819.5L1137.7,820.8M1128.3,828.1L1136.2,829.6M1126.6,836.7L1134.5,838.3M1145.8,672.0L1153.8,670.9M1146.9,680.6L1154.9,679.7M1147.9,689.3L1155.9,688.5M1148.7,698.1L1156.7,697.4M1149.3,706.8L1157.3,706.3M1149.8,715.5L1157.8,715.1M1150.1,724.3L1158.1,724.0M1150.3,733.0L1158.3,732.9M1150.4,741.8L1158.4,741.8M1150.2,750.5L1158.2,750.7M1149.9,759.3L1157.9,759.6M1149.5,768.0L1157.5,768.5M1148.9,776.7L1156.9,777.3M1148.2,785.5L1156.2,786.2M1147.3,794.2L1155.3,795.0M1146.3,802.9L1154.2,803.9M1145.1,811.5L1153.0,812.7M1143.7,820.2L1151.6,821.5M1142.2,828.8L1150.1,830.2M1140.6,837.4L1148.4,839.0M1159.8,672.2L1167.8,671.2M1160.9,680.9L1168.9,680.0M1161.8,689.7L1169.8,688.9M1162.6,698.4L1170.6,697.8M1163.2,707.1L1171.2,706.6M1163.7,715.9L1171.7,715.5M1164.0,724.7L1172.0,724.4M1164.2,733.4L1172.2,733.3M1164.2,742.2L1172.2,742.2M1164.1,750.9L1172.1,751.1M1163.8,759.7L1171.8,760.0M1163.4,768.5L1171.3,768.9M1162.8,777.2L1170.8,777.8M1162.1,786.0L1170.0,786.7M1161.2,794.7L1169.1,795.5M1160.2,803.4L1168.1,804.4M1159.0,812.1L1166.9,813.2M1157.7,820.7L1165.6,822.0M1156.2,829.4L1164.1,830.8M1154.6,838.0L1162.4,839.5M1173.9,672.6L1181.8,671.6M1174.9,681.3L1182.8,680.5M1175.8,690.1L1183.7,689.3M1176.5,698.8L1184.5,698.2M1177.1,707.6L1185.1,707.1M1177.6,716.3L1185.5,716.0M1177.9,725.1L1185.9,724.9M1178.0,733.8L1186.0,733.8M1178.0,742.6L1186.0,742.7M1177.9,751.4L1185.9,751.6M1177.6,760.2L1185.6,760.5M1177.2,768.9L1185.2,769.4M1176.6,777.7L1184.6,778.2M1175.9,786.4L1183.9,787.1M1175.0,795.1L1183.0,796.0M1174.0,803.8L1182.0,804.8M1172.9,812.5L1180.8,813.7M1171.6,821.2L1179.5,822.5M1170.2,829.9L1178.0,831.2M1168.6,838.5L1176.4,840.0M1187.8,673.0L1195.8,672.0M1188.8,681.7L1196.8,680.8M1189.7,690.4L1197.7,689.7M1190.4,699.2L1198.4,698.6M1191.0,708.0L1199.0,707.5M1191.4,716.8L1199.4,716.4M1191.7,725.5L1199.7,725.3M1191.9,734.3L1199.9,734.3M1191.9,743.1L1199.9,743.2M1191.7,751.9L1199.7,752.1M1191.4,760.7L1199.4,761.0M1191.0,769.5L1199.0,769.9M1190.5,778.2L1198.4,778.8M1189.7,787.0L1197.7,787.7M1188.9,795.8L1196.9,796.6M1187.9,804.5L1195.8,805.5M1186.8,813.2L1194.7,814.3M1185.5,821.9L1193.4,823.1M1184.1,830.6L1192.0,831.9M1182.5,839.2L1190.4,840.7M1201.8,673.2L1209.8,672.3M1202.8,681.9L1210.7,681.1M1203.6,690.7L1211.6,690.0M1204.3,699.5L1212.3,698.9M1204.9,708.3L1212.9,707.8M1205.3,717.1L1213.3,716.7M1205.6,725.9L1213.6,725.7M1205.7,734.7L1213.7,734.6M1205.7,743.5L1213.7,743.5M1205.6,752.3L1213.6,752.4M1205.3,761.0L1213.3,761.4M1204.9,769.8L1212.9,770.3M1204.3,778.6L1212.3,779.2M1203.6,787.4L1211.6,788.1M1202.8,796.2L1210.7,797.0M1201.8,804.9L1209.7,805.8M1200.7,813.6L1208.6,814.7M1199.4,822.3L1207.3,823.5M1198.0,831.0L1205.9,832.4M1196.5,839.7L1204.4,841.1M1215.8,673.5L1223.7,672.6M1216.7,682.3L1224.7,681.5M1217.5,691.1L1225.5,690.4M1218.2,699.9L1226.2,699.3M1218.8,708.7L1226.7,708.3M1219.2,717.5L1227.1,717.2M1219.4,726.3L1227.4,726.1M1219.5,735.1L1227.5,735.1M1219.5,744.0L1227.5,744.0M1219.4,752.8L1227.4,753.0M1219.1,761.6L1227.1,761.9M1218.7,770.4L1226.7,770.8M1218.1,779.2L1226.1,779.8M1217.4,788.0L1225.4,788.7M1216.6,796.8L1224.6,797.6M1215.7,805.6L1223.6,806.5M1214.6,814.3L1222.5,815.4M1213.3,823.0L1221.2,824.2M1212.0,831.8L1219.8,833.1M1210.5,840.4L1218.3,841.9M1229.7,673.8L1237.7,672.9M1230.7,682.6L1238.6,681.8M1231.5,691.3L1239.4,690.7M1232.1,700.2L1240.1,699.6M1232.6,709.0L1240.6,708.6M1233.0,717.8L1241.0,717.5M1233.3,726.6L1241.3,726.5M1233.4,735.5L1241.4,735.4M1233.4,744.3L1241.4,744.4M1233.2,753.1L1241.2,753.3M1232.9,761.9L1240.9,762.3M1232.5,770.8L1240.5,771.2M1232.0,779.6L1240.0,780.1M1231.3,788.4L1239.3,789.1M1230.5,797.2L1238.5,798.0M1229.5,806.0L1237.5,806.9M1228.5,814.7L1236.4,815.8M1227.3,823.5L1235.2,824.6M1225.9,832.2L1233.8,833.5M1224.4,840.9L1232.3,842.3M1243.7,674.1L1251.7,673.2M1244.6,682.9L1252.6,682.1M1245.4,691.7L1253.3,691.1M1246.0,700.5L1254.0,700.0M1246.5,709.4L1254.5,709.0M1246.9,718.2L1254.9,718.0M1247.1,727.1L1255.1,726.9M1247.2,735.9L1255.2,735.9M1247.2,744.8L1255.2,744.9M1247.1,753.6L1255.1,753.8M1246.8,762.5L1254.8,762.8M1246.4,771.3L1254.4,771.8M1245.8,780.2L1253.8,780.7M1245.1,789.0L1253.1,789.7M1244.3,797.8L1252.3,798.6M1243.4,806.6L1251.3,807.5M1242.3,815.4L1250.3,816.4M1241.1,824.2L1249.1,825.3M1239.8,832.9L1247.7,834.2M1238.3,841.7L1246.2,843.1M1258.1,678.9L1266.1,678.2M1258.9,687.8L1266.9,687.1M1259.6,696.6L1267.6,696.0M1260.2,705.4L1268.1,705.0M1260.6,714.3L1268.6,713.9M1260.9,723.1L1268.9,722.9M1261.0,732.0L1269.0,731.9M1261.1,740.8L1269.1,740.8M1261.0,749.7L1269.0,749.8M1260.8,758.5L1268.8,758.8M1260.4,767.4L1268.4,767.7M1259.9,776.2L1267.9,776.7M1259.3,785.0L1267.3,785.6M1258.6,793.9L1266.6,794.6M1257.8,802.7L1265.7,803.5M1256.8,811.5L1264.7,812.4M1255.7,820.2L1263.6,821.3M1254.4,829.0L1262.3,830.2M1253.0,837.8L1260.9,839.0M992.4,678.3L1000.2,676.9M993.7,686.6L1001.6,685.4M994.9,694.9L1002.8,693.9M995.9,703.2L1003.8,702.4M996.6,711.5L1004.6,710.9M997.2,719.9L1005.2,719.4M997.5,728.2L1005.5,728.0M997.7,736.6L1005.7,736.6M997.6,745.0L1005.6,745.1M997.4,753.3L1005.4,753.7M997.0,761.7L1004.9,762.2M996.3,770.1L1004.3,770.8M995.5,778.4L1003.4,779.3M994.4,786.7L1002.3,787.8M993.2,795.0L1001.1,796.2M991.7,803.2L999.6,804.7M990.1,811.4L997.9,813.1M988.2,819.6L996.0,821.4M1005.6,676.0L1013.4,674.6M1007.0,684.6L1014.9,683.4M1008.2,693.2L1016.1,692.2M1009.2,701.8L1017.1,701.0M1010.0,710.5L1017.9,709.8M1010.6,719.1L1018.5,718.7M1010.9,727.8L1018.9,727.6M1011.1,736.5L1019.1,736.5M1011.0,745.2L1019.0,745.3M1010.8,753.9L1018.8,754.2M1010.3,762.6L1018.3,763.1M1009.7,771.2L1017.6,772.0M1008.8,779.9L1016.7,780.8M1007.7,788.5L1015.6,789.6M1006.4,797.1L1014.3,798.4M1004.9,805.7L1012.8,807.2M1003.2,814.2L1011.0,815.9M1001.3,822.7L1009.1,824.5M1018.8,673.6L1026.6,672.3M1020.1,682.0L1028.1,680.8M1021.3,690.5L1029.3,689.4M1022.4,698.9L1030.3,698.1M1023.2,707.4L1031.1,706.7M1023.8,715.9L1031.8,715.4M1024.2,724.4L1032.2,724.1M1024.5,732.9L1032.4,732.8M1024.5,741.4L1032.5,741.5M1024.3,749.9L1032.3,750.2M1024.0,758.5L1032.0,758.9M1023.5,767.0L1031.4,767.5M1022.7,775.4L1030.7,776.2M1021.8,783.9L1029.7,784.9M1020.7,792.3L1028.6,793.5M1019.4,800.8L1027.3,802.1M1017.9,809.1L1025.7,810.6M1016.2,817.5L1024.0,819.2M1014.3,825.8L1022.1,827.6M1031.9,671.3L1039.8,669.9M1033.4,680.0L1041.3,678.8M1034.6,688.7L1042.6,687.7M1035.7,697.5L1043.6,696.6M1036.5,706.3L1044.5,705.6M1037.2,715.1L1045.1,714.6M1037.6,723.9L1045.6,723.6M1037.8,732.7L1045.8,732.6M1037.9,741.5L1045.9,741.6M1037.7,750.3L1045.7,750.6M1037.4,759.2L1045.4,759.6M1036.8,768.0L1044.8,768.6M1036.1,776.7L1044.0,777.5M1035.1,785.5L1043.0,786.5M1033.9,794.3L1041.9,795.4M1032.6,803.0L1040.5,804.3M1031.0,811.6L1038.9,813.1M1029.3,820.3L1037.1,822.0M1027.3,828.9L1035.1,830.7M1045.1,669.0L1053.0,667.6M1046.6,677.5L1054.5,676.3M1047.8,686.1L1055.7,685.0M1048.8,694.6L1056.8,693.7M1049.7,703.2L1057.7,702.5M1050.4,711.9L1058.4,711.3M1050.9,720.5L1058.9,720.1M1051.2,729.1L1059.2,728.9M1051.3,737.8L1059.3,737.7M1051.2,746.4L1059.2,746.6M1051.0,755.0L1059.0,755.4M1050.5,763.7L1058.5,764.2M1049.9,772.3L1057.9,773.0M1049.1,780.9L1057.1,781.7M1048.1,789.5L1056.0,790.5M1046.9,798.1L1054.8,799.2M1045.6,806.6L1053.5,807.9M1044.0,815.1L1051.9,816.6M1042.3,823.6L1050.1,825.3M1040.4,832.0L1048.2,833.9M1058.3,666.6L1066.2,665.2M1059.7,675.0L1067.6,673.8M1061.0,683.4L1068.9,682.3M1062.0,691.8L1070.0,690.9M1062.9,700.3L1070.9,699.5M1063.6,708.7L1071.6,708.1M1064.1,717.2L1072.1,716.8M1064.5,725.7L1072.5,725.4M1064.7,734.2L1072.7,734.1M1064.7,742.6L1072.7,742.7M1064.5,751.1L1072.5,751.4M1064.2,759.6L1072.2,760.0M1063.7,768.1L1071.7,768.6M1063.0,776.5L1071.0,777.3M1062.1,785.0L1070.1,785.9M1061.1,793.4L1069.0,794.4M1059.9,801.8L1067.8,803.0M1058.5,810.2L1066.4,811.5M1057.0,818.5L1064.9,820.1M1055.3,826.8L1063.1,828.5M1053.4,835.1L1061.2,837.0M923.5,695.2L931.4,693.9M924.7,703.6L932.7,702.6M925.7,712.1L933.7,711.4M926.4,720.6L934.4,720.1M926.8,729.2L934.8,728.9M927.0,737.7L935.0,737.7M926.9,746.3L934.9,746.5M926.5,754.8L934.5,755.2M925.9,763.3L933.9,764.0M925.1,771.8L933.0,772.7M923.9,780.3L931.8,781.5M922.5,788.7L930.4,790.1M920.8,797.1L928.7,798.7M936.9,691.7L944.8,690.4M938.2,700.1L946.1,699.0M939.2,708.5L947.2,707.7M940.0,717.0L947.9,716.4M940.5,725.5L948.5,725.1M940.8,734.0L948.8,733.8M940.8,742.4L948.8,742.5M940.6,750.9L948.5,751.3M940.1,759.4L948.1,760.0M939.4,767.9L947.3,768.7M938.4,776.3L946.3,777.4M937.2,784.7L945.1,786.0M935.7,793.1L943.6,794.6M934.0,801.4L941.8,803.2M950.3,688.0L958.2,686.7M951.6,696.4L959.5,695.3M952.7,704.8L960.6,703.9M953.5,713.3L961.5,712.6M954.1,721.7L962.1,721.3M954.5,730.2L962.5,730.0M954.6,738.7L962.6,738.7M954.5,747.2L962.5,747.4M954.1,755.6L962.1,756.1M953.6,764.1L961.5,764.7M952.7,772.5L960.7,773.4M951.7,780.9L959.6,782.0M950.4,789.3L958.3,790.6M948.9,797.7L956.7,799.2M947.1,806.0L955.0,807.7M963.7,684.3L971.5,682.9M965.0,692.6L972.9,691.5M966.1,701.0L974.1,700.1M967.0,709.5L975.0,708.7M967.7,717.9L975.7,717.4M968.2,726.4L976.1,726.1M968.4,734.9L976.4,734.8M968.4,743.4L976.4,743.5M968.1,751.9L976.1,752.2M967.7,760.3L975.7,760.9M967.0,768.8L975.0,769.5M966.1,777.2L974.0,778.2M965.0,785.6L972.9,786.8M963.6,794.0L971.5,795.4M962.0,802.3L969.9,803.9M960.2,810.6L968.0,812.4M927.5,652.0L935.1,649.6M929.9,660.0L937.6,657.8M932.0,668.0L939.8,666.0M933.9,676.1L941.7,674.3M929.5,819.4L937.1,821.7M927.0,827.4L934.7,829.8M924.4,835.2L932.0,837.9M921.6,843.0L929.0,845.9M938.3,640.8L945.9,638.3M940.9,648.7L948.5,646.3M943.2,656.6L950.9,654.4M945.4,664.5L953.1,662.6M947.3,672.6L955.1,670.8M942.6,823.8L950.2,826.0M940.2,831.7L947.8,834.1M937.6,839.5L945.1,842.1M934.7,847.2L942.2,850.1M931.7,854.9L939.1,857.9M949.4,630.6L956.9,627.9M952.1,638.5L959.7,636.0M954.6,646.4L962.3,644.1M957.0,654.4L964.7,652.3M959.1,662.5L966.8,660.6M961.0,670.6L968.8,668.9M956.1,826.5L963.8,828.7M953.7,834.5L961.4,836.9M951.1,842.5L958.7,845.0M948.3,850.3L955.8,853.1M945.3,858.1L952.7,861.1M942.1,865.8L949.4,868.9M971.9,607.6L979.3,604.6M975.2,616.0L982.7,613.2M978.3,624.5L985.8,621.8M981.1,633.0L988.8,630.6M983.8,641.6L991.5,639.4M986.2,650.3L993.9,648.2M988.4,659.0L996.2,657.2M982.8,839.8L990.4,842.2M980.0,848.4L987.6,850.9M977.1,856.9L984.6,859.6M973.9,865.4L981.4,868.3M970.5,873.7L977.9,876.8M967.0,882.0L974.2,885.2M963.1,890.1L970.4,893.6M983.4,600.2L990.8,597.2M986.6,608.2L994.1,605.4M989.6,616.3L997.2,613.6M992.5,624.5L1000.1,622.0M995.1,632.7L1002.8,630.4M997.6,641.0L1005.3,638.9M999.8,649.4L1007.5,647.4M1001.8,657.8L1009.6,656.0M996.1,841.9L1003.8,844.2M993.6,850.2L1001.2,852.6M990.8,858.4L998.4,861.0M987.8,866.5L995.3,869.3M984.7,874.5L992.1,877.5M981.4,882.5L988.7,885.7M977.8,890.4L985.1,893.8M974.1,898.2L981.3,901.7M998.0,600.5L1005.4,597.6M1001.0,608.4L1008.5,605.6M1003.8,616.3L1011.4,613.7M1006.5,624.3L1014.1,621.8M1009.0,632.3L1016.6,630.0M1011.3,640.4L1019.0,638.3M1013.4,648.5L1021.2,646.6M1015.3,656.7L1023.1,654.9M1009.5,843.9L1017.2,846.1M1007.1,851.9L1014.7,854.3M1004.5,859.9L1012.0,862.5M1001.7,867.8L1009.2,870.6M998.7,875.7L1006.1,878.6M995.5,883.5L1002.9,886.5M992.2,891.2L999.5,894.4M988.7,898.8L995.9,902.2M1013.8,604.4L1021.3,601.6M1016.7,612.6L1024.3,610.0M1019.5,620.9L1027.1,618.4M1022.0,629.2L1029.7,626.9M1024.4,637.5L1032.1,635.4M1026.6,645.9L1034.3,644.0M1028.6,654.4L1036.4,652.6M1022.6,847.0L1030.3,849.2M1020.1,855.3L1027.7,857.7M1017.4,863.5L1024.9,866.1M1014.5,871.7L1022.0,874.5M1011.4,879.9L1018.9,882.8M1008.2,887.9L1015.6,891.0M1004.7,895.9L1012.1,899.1M1025.9,598.5L1033.4,595.7M1028.7,606.1L1036.2,603.5M1031.3,613.9L1038.9,611.4M1033.8,621.6L1041.4,619.3M1036.1,629.4L1043.8,627.3M1038.2,637.3L1045.9,635.3M1040.2,645.2L1048.0,643.4M1042.0,653.2L1049.8,651.5M1035.9,849.0L1043.6,851.2M1033.6,856.8L1041.3,859.2M1031.1,864.6L1038.7,867.1M1028.5,872.3L1036.1,875.0M1025.7,880.0L1033.2,882.8M1022.8,887.6L1030.2,890.5M1019.7,895.1L1027.1,898.2M1016.4,902.6L1023.7,905.9M1037.7,591.7L1045.2,588.9M1040.7,600.0L1048.3,597.4M1043.6,608.4L1051.2,605.9M1046.3,616.8L1053.9,614.5M1048.8,625.3L1056.5,623.1M1051.1,633.8L1058.9,631.8M1053.3,642.4L1061.1,640.5M1055.3,651.0L1063.1,649.3M1049.0,852.0L1056.7,854.2M1046.5,860.5L1054.2,862.8M1043.8,868.9L1051.4,871.4M1041.0,877.3L1048.5,879.9M1037.9,885.6L1045.4,888.4M1034.7,893.8L1042.1,896.8M1031.3,902.0L1038.7,905.1M1027.8,910.1L1035.1,913.4M1066.8,583.2L1074.3,580.4M1069.6,590.9L1077.2,588.2M1072.3,598.6L1079.9,596.1M1074.8,606.4L1082.4,604.0M1077.2,614.3L1084.8,612.0M1079.4,622.2L1087.1,620.1M1081.5,630.1L1089.2,628.1M1083.4,638.1L1091.2,636.2M1085.2,646.1L1093.0,644.4M1086.8,654.1L1094.7,652.6M1080.6,851.2L1088.4,853.2M1078.5,859.1L1086.2,861.2M1076.2,867.0L1083.9,869.3M1073.8,874.8L1081.4,877.2M1071.2,882.6L1078.8,885.2M1068.5,890.3L1076.0,893.0M1065.6,898.0L1073.1,900.8M1062.6,905.6L1070.0,908.6M1059.5,913.2L1066.9,916.3M1056.2,920.7L1063.5,924.0M1082.9,587.0L1090.5,584.3M1085.7,595.3L1093.3,592.8M1088.4,603.6L1096.1,601.2M1090.9,612.0L1098.6,609.8M1093.3,620.4L1101.0,618.4M1095.4,628.9L1103.2,627.0M1097.5,637.4L1105.3,635.7M1099.3,646.0L1107.2,644.4M1101.0,654.6L1108.9,653.1M1094.8,851.6L1102.6,853.5M1092.6,860.0L1100.3,862.1M1090.2,868.5L1097.9,870.7M1087.6,876.8L1095.3,879.2M1084.9,885.2L1092.5,887.7M1082.1,893.4L1089.6,896.1M1079.0,901.7L1086.5,904.5M1075.9,909.8L1083.3,912.8M1072.5,917.9L1079.9,921.0M1095.4,580.8L1103.0,578.2M1098.6,590.1L1106.2,587.5M1101.6,599.4L1109.2,597.0M1104.4,608.7L1112.1,606.5M1095.3,897.6L1102.8,900.2M1091.9,906.7L1099.4,909.6M1088.4,915.8L1095.8,918.8M1084.6,924.8L1092.0,928.0M1111.4,636.3L1119.2,634.6M1113.4,645.8L1121.2,644.2M1115.2,655.3L1123.1,653.9M1109.0,851.7L1116.8,853.7M1106.6,861.1L1114.4,863.2M1104.0,870.5L1111.7,872.7M1108.3,575.8L1115.9,573.1M1111.1,583.7L1118.6,581.1M1113.6,591.6L1121.3,589.2M1116.1,599.5L1123.8,597.3M1118.4,607.6L1126.1,605.4M1120.6,615.6L1128.3,613.6M1122.7,623.7L1130.4,621.8M1124.6,631.8L1132.4,630.0M1126.3,639.9L1134.2,638.3M1119.2,867.8L1126.9,869.9M1116.9,875.8L1124.6,878.1M1114.5,883.8L1122.1,886.2M1111.9,891.7L1119.5,894.2M1109.2,899.6L1116.8,902.2M1106.4,907.4L1113.9,910.2M1103.5,915.2L1110.9,918.1M1100.4,923.0L1107.8,926.0M1097.2,930.7L1104.5,933.8M1123.1,576.1L1130.7,573.5M1125.7,584.0L1133.3,581.5M1128.2,591.9L1135.9,589.5M1130.6,599.8L1138.3,597.6M1132.9,607.8L1140.6,605.7M1135.0,615.8L1142.7,613.9M1136.9,623.9L1144.7,622.1M1138.8,632.0L1146.6,630.3M1140.5,640.1L1148.3,638.5M1142.1,648.2L1149.9,646.8M1135.4,860.5L1143.2,862.4M1133.3,868.5L1141.0,870.6M1131.1,876.5L1138.8,878.7M1128.8,884.5L1136.4,886.8M1126.3,892.4L1133.9,894.8M1123.7,900.2L1131.2,902.8M1120.9,908.1L1128.5,910.8M1118.1,915.9L1125.5,918.7M1115.1,923.6L1122.5,926.6M1111.9,931.3L1119.3,934.4M1137.9,576.7L1145.5,574.2M1140.5,584.6L1148.1,582.2M1142.9,592.5L1150.6,590.2M1145.2,600.4L1152.9,598.3M1147.3,608.4L1155.1,606.4M1149.4,616.4L1157.2,614.5M1151.3,624.5L1159.1,622.7M1153.1,632.6L1160.9,630.9M1154.7,640.7L1162.6,639.2M1156.2,648.8L1164.1,647.4M1149.6,860.8L1157.3,862.7M1147.5,868.8L1155.3,870.8M1145.4,876.8L1153.1,878.9M1143.1,884.8L1150.8,887.0M1140.7,892.7L1148.3,895.1M1138.2,900.5L1145.8,903.1M1135.5,908.4L1143.1,911.0M1132.7,916.2L1140.2,918.9M1129.8,923.9L1137.3,926.8M1126.8,931.6L1134.2,934.6M1153.2,578.9L1160.8,576.5M1155.6,586.8L1163.3,584.5M1157.9,594.7L1165.6,592.5M1160.1,602.6L1167.9,600.6M1162.2,610.6L1170.0,608.7M1164.1,618.6L1171.9,616.8M1166.0,626.7L1173.8,625.0M1167.6,634.7L1175.5,633.1M1169.2,642.8L1177.1,641.4M1170.6,650.9L1178.5,649.6M1164.1,859.6L1171.9,861.4M1162.1,867.6L1169.9,869.5M1160.1,875.6L1167.8,877.6M1157.9,883.5L1165.6,885.7M1155.6,891.4L1163.2,893.7M1153.1,899.3L1160.7,901.7M1150.6,907.1L1158.1,909.7M1147.9,914.9L1155.4,917.6M1145.1,922.7L1152.6,925.5M1142.1,930.4L1149.6,933.3M1168.5,581.5L1176.1,579.1M1170.8,589.4L1178.5,587.2M1173.1,597.4L1180.8,595.3M1175.2,605.5L1182.9,603.5M1177.2,613.5L1184.9,611.7M1179.0,621.6L1186.8,619.9M1180.7,629.7L1188.6,628.1M1182.4,637.9L1190.2,636.4M1183.8,646.0L1191.7,644.7M1185.2,654.2L1193.1,653.0M1178.8,857.2L1186.6,859.0M1177.0,865.3L1184.7,867.2M1175.0,873.4L1182.7,875.3M1172.8,881.4L1180.6,883.5M1170.6,889.4L1178.3,891.6M1168.2,897.3L1175.9,899.7M1165.7,905.3L1173.4,907.7M1163.1,913.1L1170.7,915.7M1160.4,921.0L1167.9,923.7M1157.6,928.8L1165.1,931.6M1184.7,587.7L1192.4,585.5M1187.0,595.9L1194.7,593.8M1189.1,604.1L1196.9,602.1M1191.1,612.3L1198.9,610.5M1193.0,620.6L1200.8,618.9M1194.7,628.9L1202.5,627.3M1196.3,637.3L1204.2,635.8M1197.8,645.6L1205.7,644.3M1199.2,654.0L1207.1,652.8M1192.8,858.3L1200.6,860.1M1190.9,866.6L1198.7,868.4M1188.9,874.9L1196.6,876.8M1186.7,883.1L1194.4,885.1M1184.5,891.2L1192.2,893.4M1182.1,899.4L1189.7,901.7M1179.6,907.5L1187.2,909.9M1176.9,915.6L1184.5,918.1M1174.2,923.6L1181.7,926.2M1201.4,596.4L1209.2,594.4M1203.5,604.5L1211.2,602.6M1205.4,612.7L1213.2,610.9M1207.2,620.9L1215.0,619.2M1208.9,629.1L1216.7,627.5M1210.4,637.3L1218.3,635.9M1211.8,645.6L1219.7,644.2M1213.2,653.8L1221.1,652.6M1206.7,859.4L1214.5,861.1M1204.9,867.5L1212.7,869.3M1202.9,875.7L1210.7,877.6M1200.8,883.8L1208.6,885.8M1198.7,891.9L1206.4,894.0M1196.3,899.9L1204.0,902.2M1193.9,908.0L1201.6,910.3M1191.4,915.9L1199.0,918.4M1218.2,606.8L1226.0,605.0M1220.4,616.7L1228.3,615.0M1222.5,626.7L1230.3,625.1M1214.3,887.0L1222.0,889.1M1211.6,896.9L1219.3,899.0M1208.8,906.6L1216.5,908.9" fill="none" stroke="#0a0a0a" stroke-width="1.55"/>
<circle cx="120.5" cy="1329.5" r="34.0" fill="none" stroke="#000" stroke-width="1"/>
<path d="M134.3,1298.4L103.4,1359.1L110.0,1362.0Z" fill="#000"/>
<text x="131" y="1294.5" font-size="17" font-style="italic" fill="#000" textLength="13" lengthAdjust="spacingAndGlyphs">N</text>
<rect x="186" y="1342" width="71.5" height="5.2" fill="#000"/>
<rect x="257.5" y="1329.8" width="71" height="5.2" fill="#000"/>
<rect x="328.5" y="1342" width="143.5" height="5.2" fill="#000"/>
<text x="310.5" y="1313.2" font-size="20.3" fill="#000" textLength="163" lengthAdjust="spacingAndGlyphs">3RD FLOOR PLAN</text>
<text x="172.0" y="1366" font-size="19" fill="#000" textLength="10.5" lengthAdjust="spacingAndGlyphs">0</text>
<text x="243.5" y="1366" font-size="19" fill="#000" textLength="10.5" lengthAdjust="spacingAndGlyphs">5</text>
<text x="313.0" y="1366" font-size="19" fill="#000" textLength="21.0" lengthAdjust="spacingAndGlyphs">10</text>
<text x="456.5" y="1366" font-size="19" fill="#000" textLength="21.0" lengthAdjust="spacingAndGlyphs">20</text>
</svg>
</body></html>
